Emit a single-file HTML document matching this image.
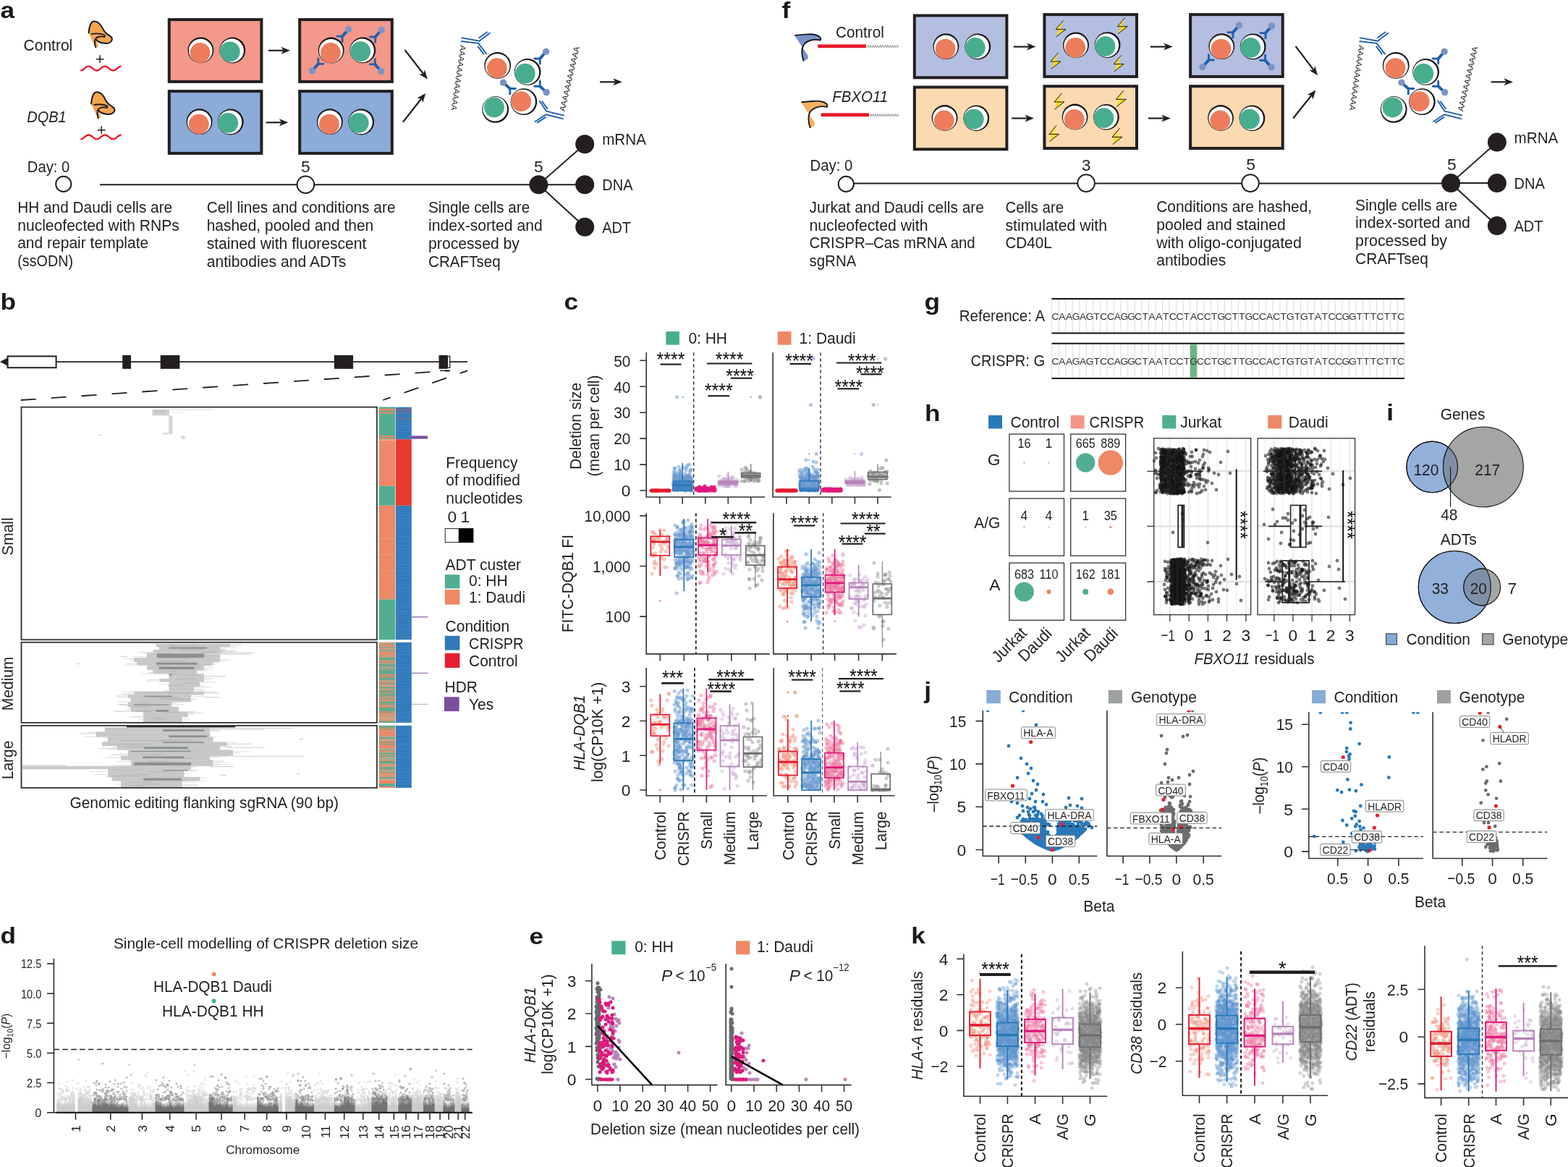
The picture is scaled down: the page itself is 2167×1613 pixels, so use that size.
<!DOCTYPE html>
<html><head><meta charset="utf-8"><title>Figure</title>
<style>html,body{margin:0;padding:0;background:#fff}svg{display:block}</style></head>
<body>
<svg width="2167" height="1613" viewBox="0 0 2167 1613" font-family="&quot;Liberation Sans&quot;, sans-serif" font-size="22.8" fill="#231f20">
<text transform="translate(0.5 24.6) scale(1.1 1)" font-weight="bold" fill="#1a1a1a" font-size="32">a</text>
<text x="32.5" y="69.8" textLength="67.8" lengthAdjust="spacingAndGlyphs">Control</text>
<text x="37.2" y="169.3" font-style="italic" textLength="54.5" lengthAdjust="spacingAndGlyphs">DQB1</text>
<path d="M122.3 45.5 C123.3 36.2 125.9 29.4 130.4 29.4 C136.2 29.4 140.1 34.9 142.6 40.7 C145.2 46.5 149.1 47.2 153.6 51 C156.9 54.9 153 60.1 146.5 60.1 C140.1 59.8 134.9 57.5 133 54.9 L135.9 64 L132.3 66.2 Z" fill="#f5a651"/>
<path d="M122.6 45.5 C123.3 36.2 125.9 29.4 130.4 29.4 C136.2 29.4 140.1 34.9 142.6 40.7 C145.2 46.5 149.1 47.2 153.6 51 C156.9 54.9 153 60.1 146.5 60.1 C140.1 59.8 134.9 57.5 133 54.9" fill="none" stroke="#1a1a1f" stroke-width="2" stroke-linecap="round"/>
<path d="M125.9 47.2 C132.3 45.9 138.8 45.9 144.6 48.5 L144.6 51 C138.8 49.4 133.6 51 131.7 53.9 C130.4 58.1 131 62 132.4 66" fill="none" stroke="#1a1a1f" stroke-width="1.9" stroke-linejoin="round"/>
<path d="M132.7 81.7h10.8M138.1 76.3v10.8" fill="none" stroke="#231f20" stroke-width="1.5"/>
<path d="M111.3 97.5C116.4 97.5 117.5 91.7 122.5 91.7C127.6 91.7 128.7 97.5 133.8 97.5C138.8 97.5 140 91.7 145 91.7C150.1 91.7 151.2 97.5 156.3 97.5C161.3 97.5 162.4 91.7 167.5 91.7" fill="none" stroke="#e8192c" stroke-width="2.3"/>
<path d="M125.8 143.4 C126.8 134.1 129.4 127.3 133.9 127.3 C139.7 127.3 143.6 132.8 146.1 138.6 C148.7 144.4 152.6 145.1 157.1 148.9 C160.4 152.8 156.5 158 150 158 C143.6 157.7 138.4 155.4 136.5 152.8 L139.4 161.9 L135.8 164.1 Z" fill="#f5a651"/>
<path d="M126.1 143.4 C126.8 134.1 129.4 127.3 133.9 127.3 C139.7 127.3 143.6 132.8 146.1 138.6 C148.7 144.4 152.6 145.1 157.1 148.9 C160.4 152.8 156.5 158 150 158 C143.6 157.7 138.4 155.4 136.5 152.8" fill="none" stroke="#1a1a1f" stroke-width="2" stroke-linecap="round"/>
<path d="M129.4 145.1 C135.8 143.8 142.3 143.8 148.1 146.4 L148.1 148.9 C142.3 147.3 137.1 148.9 135.2 151.8 C133.9 156 134.5 159.9 135.9 163.9" fill="none" stroke="#1a1a1f" stroke-width="1.9" stroke-linejoin="round"/>
<path d="M134.8 179.7h10.8M140.2 174.3v10.8" fill="none" stroke="#231f20" stroke-width="1.5"/>
<path d="M111.3 192.3C116.4 192.3 117.5 186.5 122.5 186.5C127.6 186.5 128.7 192.3 133.8 192.3C138.8 192.3 140 186.5 145 186.5C150.1 186.5 151.2 192.3 156.3 192.3C161.3 192.3 162.4 186.5 167.5 186.5" fill="none" stroke="#e8192c" stroke-width="2.3"/>
<rect x="233.8" y="27.1" width="127.6" height="85.8" fill="#f3988a" stroke="#231f20" stroke-width="4"/>
<rect x="233.8" y="126.1" width="127.6" height="85.8" fill="#8cabd7" stroke="#231f20" stroke-width="4"/>
<rect x="414.2" y="27.1" width="127.6" height="85.8" fill="#f3988a" stroke="#231f20" stroke-width="4"/>
<rect x="414.2" y="126.1" width="127.6" height="85.8" fill="#8cabd7" stroke="#231f20" stroke-width="4"/>
<circle cx="277.4" cy="69.3" r="17.9" fill="#161616"/>
<circle cx="277.2" cy="70.1" r="16.4" fill="#fff"/>
<circle cx="276.6" cy="72.8" r="13.9" fill="#ed7d5c"/>
<circle cx="321.3" cy="69.5" r="17.9" fill="#161616"/>
<circle cx="320.5" cy="70" r="16.4" fill="#fff"/>
<circle cx="317.8" cy="71.4" r="13.9" fill="#48ad8f"/>
<circle cx="275.6" cy="168.2" r="17.9" fill="#161616"/>
<circle cx="275.4" cy="169" r="16.4" fill="#fff"/>
<circle cx="274.8" cy="171.7" r="13.9" fill="#ed7d5c"/>
<circle cx="318.7" cy="168.5" r="17.9" fill="#161616"/>
<circle cx="317.9" cy="168.8" r="16.4" fill="#fff"/>
<circle cx="315.2" cy="169.9" r="13.9" fill="#48ad8f"/>
<circle cx="457.7" cy="69.5" r="17.9" fill="#161616"/>
<circle cx="457.5" cy="70.3" r="16.4" fill="#fff"/>
<circle cx="456.9" cy="73" r="13.9" fill="#ed7d5c"/>
<circle cx="501.3" cy="69.4" r="17.9" fill="#161616"/>
<circle cx="500.5" cy="69.9" r="16.4" fill="#fff"/>
<circle cx="498.2" cy="71.1" r="13.9" fill="#48ad8f"/>
<circle cx="455.8" cy="168.2" r="17.9" fill="#161616"/>
<circle cx="455.6" cy="169" r="16.4" fill="#fff"/>
<circle cx="455" cy="171.7" r="13.9" fill="#ed7d5c"/>
<circle cx="499.2" cy="168.5" r="17.9" fill="#161616"/>
<circle cx="498.4" cy="168.8" r="16.4" fill="#fff"/>
<circle cx="495.7" cy="169.9" r="13.9" fill="#48ad8f"/>
<path d="M481.6 40.5L473.1 50.1" fill="none" stroke="#1f5fae" stroke-width="3.9"/>
<path d="M466.1 50.1L473.1 50.1L473.1 57.4" fill="none" stroke="#1f5fae" stroke-width="2.9" stroke-linecap="round" stroke-linejoin="round"/>
<circle cx="481.6" cy="40.5" r="4.7" fill="#7b93c6"/>
<path d="M527.2 41.4L518.7 51" fill="none" stroke="#1f5fae" stroke-width="3.9"/>
<path d="M511.7 51L518.7 51L518.7 58.3" fill="none" stroke="#1f5fae" stroke-width="2.9" stroke-linecap="round" stroke-linejoin="round"/>
<circle cx="527.2" cy="41.4" r="4.7" fill="#7b93c6"/>
<path d="M431.3 98L439.8 88.4" fill="none" stroke="#1f5fae" stroke-width="3.9"/>
<path d="M446.8 88.4L439.8 88.4L439.8 81.1" fill="none" stroke="#1f5fae" stroke-width="2.9" stroke-linecap="round" stroke-linejoin="round"/>
<circle cx="431.3" cy="98" r="4.7" fill="#7b93c6"/>
<path d="M526.7 98.5L518.2 88.9" fill="none" stroke="#1f5fae" stroke-width="3.9"/>
<path d="M511.2 88.9L518.2 88.9L518.2 81.6" fill="none" stroke="#1f5fae" stroke-width="2.9" stroke-linecap="round" stroke-linejoin="round"/>
<circle cx="526.7" cy="98.5" r="4.7" fill="#7b93c6"/>
<path d="M371 69.8L391.6 69.8" stroke="#231f20" stroke-width="2.2"/>
<path d="M401 69.8L388.5 74.8L391.6 69.8L388.5 64.8Z" fill="#231f20"/>
<path d="M367.7 169.3L389 169.3" stroke="#231f20" stroke-width="2.2"/>
<path d="M398.4 169.3L385.9 174.3L389 169.3L385.9 164.3Z" fill="#231f20"/>
<path d="M559.5 69L585.1 102" stroke="#231f20" stroke-width="2.2"/>
<path d="M590.8 109.4L579.2 102.6L585.1 102L587.1 96.5Z" fill="#231f20"/>
<path d="M556.9 168.7L582.4 136.3" stroke="#231f20" stroke-width="2.2"/>
<path d="M588.2 128.9L584.4 141.8L582.4 136.3L576.5 135.6Z" fill="#231f20"/>
<path d="M829 113.3L850.4 113.3" stroke="#231f20" stroke-width="2.2"/>
<path d="M859.8 113.3L847.3 118.3L850.4 113.3L847.3 108.3Z" fill="#231f20"/>
<path d="M637.4 52.1L662.5 56.7L677.4 45.3" fill="none" stroke="#1f5fae" stroke-width="1.9"/>
<path d="M637 57L661.1 59.9L672.8 75.1" fill="none" stroke="#1f5fae" stroke-width="1.9"/>
<path d="M661.6 52.8L673.7 44.1" fill="none" stroke="#1f5fae" stroke-width="1.9"/>
<path d="M660.2 63.9L668.8 75.1" fill="none" stroke="#1f5fae" stroke-width="1.9"/>
<path d="M779.7 159.7L755 153.7L745.3 138.8" fill="none" stroke="#1f5fae" stroke-width="1.9"/>
<path d="M778.8 164.4L754.6 158.3L738.8 168.5" fill="none" stroke="#1f5fae" stroke-width="1.9"/>
<path d="M749 139.7L756.9 150.9" fill="none" stroke="#1f5fae" stroke-width="1.9"/>
<path d="M742 169.9L754.6 161.6" fill="none" stroke="#1f5fae" stroke-width="1.9"/>
<circle cx="687.7" cy="90.4" r="18.4" fill="#161616"/>
<circle cx="687.5" cy="91.2" r="16.9" fill="#fff"/>
<circle cx="686.9" cy="94.2" r="13.9" fill="#ed7d5c"/>
<circle cx="729.1" cy="99.4" r="18.4" fill="#161616"/>
<circle cx="728.3" cy="99.9" r="16.9" fill="#fff"/>
<circle cx="725.8" cy="101.6" r="13.9" fill="#48ad8f"/>
<circle cx="723.9" cy="140.7" r="18.4" fill="#161616"/>
<circle cx="723.1" cy="140.6" r="16.9" fill="#fff"/>
<circle cx="720.2" cy="140.2" r="13.9" fill="#ed7d5c"/>
<circle cx="684.7" cy="151.4" r="18.4" fill="#161616"/>
<circle cx="684.2" cy="150.6" r="16.9" fill="#fff"/>
<circle cx="683" cy="148.5" r="13.9" fill="#48ad8f"/>
<path d="M754.6 71.4L746.2 81.1" fill="none" stroke="#1f5fae" stroke-width="3.9"/>
<path d="M738.8 81L746.2 81.1L746.2 88.1" fill="none" stroke="#1f5fae" stroke-width="2.9" stroke-linecap="round" stroke-linejoin="round"/>
<circle cx="754.6" cy="71.4" r="4.7" fill="#7b93c6"/>
<path d="M695.5 114.1L704.8 122.5" fill="none" stroke="#1f5fae" stroke-width="3.9"/>
<path d="M712.3 122.5L704.8 122.5L704.8 130" fill="none" stroke="#1f5fae" stroke-width="2.9" stroke-linecap="round" stroke-linejoin="round"/>
<circle cx="695.5" cy="114.1" r="4.7" fill="#7b93c6"/>
<path d="M755.2 127.6L746.2 119.3" fill="none" stroke="#1f5fae" stroke-width="3.9"/>
<path d="M738.8 119.3L746.2 119.3L746.2 112.3" fill="none" stroke="#1f5fae" stroke-width="2.9" stroke-linecap="round" stroke-linejoin="round"/>
<circle cx="755.2" cy="127.6" r="4.7" fill="#7b93c6"/>
<text font-size="11" transform="translate(636.6 62) rotate(98.5)" textLength="91" lengthAdjust="spacingAndGlyphs">AAAAAAAAAAAA</text>
<text font-size="11" transform="translate(780.4 154.6) rotate(-77)" textLength="91.6" lengthAdjust="spacingAndGlyphs">AAAAAAAAAAAA</text>
<path d="M138 255.2L744 255.2" stroke="#231f20" stroke-width="2"/>
<circle cx="87.8" cy="254.4" r="10.6" fill="#fff" stroke="#231f20" stroke-width="2"/>
<circle cx="422.4" cy="255.2" r="11.8" fill="#fff" stroke="#231f20" stroke-width="2"/>
<path d="M744.4 255.2L808.2 199.2" stroke="#231f20" stroke-width="2"/>
<path d="M744.4 255.2L808.2 255.2" stroke="#231f20" stroke-width="2"/>
<path d="M744.4 255.2L808.2 313.8" stroke="#231f20" stroke-width="2"/>
<circle cx="744.4" cy="255.2" r="13" fill="#231f20"/>
<circle cx="808.2" cy="199.2" r="13" fill="#231f20"/>
<circle cx="808.2" cy="255.2" r="13" fill="#231f20"/>
<circle cx="808.2" cy="313.8" r="13" fill="#231f20"/>
<text x="37.8" y="237.5" textLength="58.6" lengthAdjust="spacingAndGlyphs">Day: 0</text>
<text x="422.4" y="237.5" text-anchor="middle">5</text>
<text x="744.4" y="237.5" text-anchor="middle">5</text>
<text x="832.2" y="200" textLength="60.7" lengthAdjust="spacingAndGlyphs">mRNA</text>
<text x="832.2" y="263" textLength="42.4" lengthAdjust="spacingAndGlyphs">DNA</text>
<text x="832.2" y="321.6" textLength="39.8" lengthAdjust="spacingAndGlyphs">ADT</text>
<text x="24.2" y="293.7" textLength="214" lengthAdjust="spacingAndGlyphs">HH and Daudi cells are</text>
<text x="24.2" y="318.5" textLength="223.7" lengthAdjust="spacingAndGlyphs">nucleofected with RNPs</text>
<text x="24.2" y="343.3" textLength="181" lengthAdjust="spacingAndGlyphs">and repair template</text>
<text x="24.2" y="368.1" textLength="76.8" lengthAdjust="spacingAndGlyphs">(ssODN)</text>
<text x="285.7" y="294.4" textLength="260.8" lengthAdjust="spacingAndGlyphs">Cell lines and conditions are</text>
<text x="285.7" y="319.2" textLength="230.5" lengthAdjust="spacingAndGlyphs">hashed, pooled and then</text>
<text x="285.7" y="344" textLength="220.8" lengthAdjust="spacingAndGlyphs">stained with fluorescent</text>
<text x="285.7" y="368.8" textLength="192.7" lengthAdjust="spacingAndGlyphs">antibodies and ADTs</text>
<text x="592.1" y="294.4" textLength="140.1" lengthAdjust="spacingAndGlyphs">Single cells are</text>
<text x="592.1" y="319.2" textLength="157.6" lengthAdjust="spacingAndGlyphs">index-sorted and</text>
<text x="592.1" y="344" textLength="125.8" lengthAdjust="spacingAndGlyphs">processed by</text>
<text x="592.1" y="368.8" textLength="99.5" lengthAdjust="spacingAndGlyphs">CRAFTseq</text>
<text transform="translate(1080.5 24.6) scale(1.1 1)" font-weight="bold" fill="#1a1a1a" font-size="32">f</text>
<text x="1155" y="52.1" textLength="66.8" lengthAdjust="spacingAndGlyphs">Control</text>
<text x="1150.3" y="140.6" font-style="italic" textLength="76.8" lengthAdjust="spacingAndGlyphs">FBXO11</text>
<path d="M1098.1 48.9 L1115.8 47.4 C1124.7 46.9 1132.8 48.8 1134.3 53.2 L1133.9 55.6 C1125.4 53.6 1114.3 55.4 1109.9 63.5 L1108.2 64.5 Z" fill="#7a93c8"/>
<path d="M1108.2 64.5 L1116.6 76.8 L1116.6 81.3 L1110.7 84.6 C1108.8 79.1 1107 70.2 1108.6 64.3 Z" fill="#7a93c8"/>
<path d="M1098.2 48.9 L1115.8 47.4 C1124.7 46.9 1132.8 48.8 1134.3 53.2 L1133.9 55.6 C1125.4 53.6 1114.3 55.4 1109.9 63.5 C1107 70.2 1108.8 79.1 1110.7 84.6" fill="none" stroke="#1a1a1f" stroke-width="1.9" stroke-linejoin="round"/>
<path d="M1107.2 141.2 L1124.9 139.7 C1133.8 139.2 1141.9 141.1 1143.4 145.5 L1143 147.9 C1134.5 145.9 1123.4 147.7 1119 155.8 L1117.3 156.8 Z" fill="#f7b05e"/>
<path d="M1117.3 156.8 L1125.7 169.1 L1125.7 173.6 L1119.8 176.9 C1117.9 171.4 1116.1 162.5 1117.7 156.6 Z" fill="#f7b05e"/>
<path d="M1107.3 141.2 L1124.9 139.7 C1133.8 139.2 1141.9 141.1 1143.4 145.5 L1143 147.9 C1134.5 145.9 1123.4 147.7 1119 155.8 C1116.1 162.5 1117.9 171.4 1119.8 176.9" fill="none" stroke="#1a1a1f" stroke-width="1.9" stroke-linejoin="round"/>
<rect x="1130.3" y="61.4" width="66.6" height="4.8" fill="#e8192c"/>
<rect x="1134.7" y="156.3" width="66.4" height="4.8" fill="#e8192c"/>
<text x="1198.2" y="66.2" fill="#555" font-size="5.4" textLength="43.6" lengthAdjust="spacingAndGlyphs">AAAAAAAAAAAAA</text>
<text x="1201.9" y="161.1" fill="#555" font-size="5.4" textLength="40.1" lengthAdjust="spacingAndGlyphs">AAAAAAAAAAAAA</text>
<rect x="1263.8" y="21.5" width="127.6" height="85.8" fill="#b4bee0" stroke="#231f20" stroke-width="4"/>
<rect x="1263.8" y="120.5" width="127.6" height="85.8" fill="#fbd9b1" stroke="#231f20" stroke-width="4"/>
<rect x="1443.4" y="20.1" width="127.6" height="85.8" fill="#b4bee0" stroke="#231f20" stroke-width="4"/>
<rect x="1443.4" y="119.2" width="127.6" height="85.8" fill="#fbd9b1" stroke="#231f20" stroke-width="4"/>
<rect x="1645.1" y="20.1" width="127.6" height="85.8" fill="#b4bee0" stroke="#231f20" stroke-width="4"/>
<rect x="1645.1" y="119.2" width="127.6" height="85.8" fill="#fbd9b1" stroke="#231f20" stroke-width="4"/>
<circle cx="1307.4" cy="64.1" r="17.9" fill="#161616"/>
<circle cx="1307.2" cy="64.9" r="16.4" fill="#fff"/>
<circle cx="1306.6" cy="67.6" r="13.9" fill="#ed7d5c"/>
<circle cx="1351.3" cy="64.4" r="17.9" fill="#161616"/>
<circle cx="1350.5" cy="64.7" r="16.4" fill="#fff"/>
<circle cx="1347.8" cy="66" r="13.9" fill="#48ad8f"/>
<circle cx="1305.6" cy="163" r="17.9" fill="#161616"/>
<circle cx="1305.4" cy="163.8" r="16.4" fill="#fff"/>
<circle cx="1304.8" cy="166.5" r="13.9" fill="#ed7d5c"/>
<circle cx="1349.3" cy="163.3" r="17.9" fill="#161616"/>
<circle cx="1348.5" cy="163.6" r="16.4" fill="#fff"/>
<circle cx="1345.8" cy="164.7" r="13.9" fill="#48ad8f"/>
<circle cx="1487" cy="62.3" r="17.9" fill="#161616"/>
<circle cx="1486.8" cy="63.1" r="16.4" fill="#fff"/>
<circle cx="1486.2" cy="65.8" r="13.9" fill="#ed7d5c"/>
<circle cx="1530.6" cy="62.1" r="17.9" fill="#161616"/>
<circle cx="1529.8" cy="62.6" r="16.4" fill="#fff"/>
<circle cx="1527.5" cy="64" r="13.9" fill="#48ad8f"/>
<circle cx="1485.6" cy="161.5" r="17.9" fill="#161616"/>
<circle cx="1485.4" cy="162.3" r="16.4" fill="#fff"/>
<circle cx="1484.8" cy="165" r="13.9" fill="#ed7d5c"/>
<circle cx="1528.9" cy="161.8" r="17.9" fill="#161616"/>
<circle cx="1528.1" cy="162.1" r="16.4" fill="#fff"/>
<circle cx="1525.4" cy="163.2" r="13.9" fill="#48ad8f"/>
<circle cx="1688.3" cy="64.1" r="17.9" fill="#161616"/>
<circle cx="1688.1" cy="64.9" r="16.4" fill="#fff"/>
<circle cx="1687.5" cy="67.6" r="13.9" fill="#ed7d5c"/>
<circle cx="1731.7" cy="64.4" r="17.9" fill="#161616"/>
<circle cx="1730.9" cy="64.7" r="16.4" fill="#fff"/>
<circle cx="1728.2" cy="66" r="13.9" fill="#48ad8f"/>
<circle cx="1687" cy="163" r="17.9" fill="#161616"/>
<circle cx="1686.8" cy="163.8" r="16.4" fill="#fff"/>
<circle cx="1686.2" cy="166.5" r="13.9" fill="#ed7d5c"/>
<circle cx="1730.4" cy="163.3" r="17.9" fill="#161616"/>
<circle cx="1729.6" cy="163.6" r="16.4" fill="#fff"/>
<circle cx="1726.9" cy="164.7" r="13.9" fill="#48ad8f"/>
<path d="M1469.6 28.3L1465.2 40L1473 40.2L1459.7 50.8L1463.2 41.3L1459.1 41.2Z" fill="#fbdc14"/>
<path d="M1469.6 28.3L1459.1 40.7L1473 40.5L1459.7 50.8" fill="none" stroke="#1a1a1f" stroke-width="1" stroke-linejoin="miter" stroke-miterlimit="10"/>
<path d="M1554.9 24.3L1550.5 36L1558.3 36.2L1545 46.8L1548.5 37.3L1544.4 37.2Z" fill="#fbdc14"/>
<path d="M1554.9 24.3L1544.4 36.7L1558.3 36.5L1545 46.8" fill="none" stroke="#1a1a1f" stroke-width="1" stroke-linejoin="miter" stroke-miterlimit="10"/>
<path d="M1462.6 72.7L1458.2 84.4L1466 84.6L1452.7 95.2L1456.2 85.7L1452.1 85.6Z" fill="#fbdc14"/>
<path d="M1462.6 72.7L1452.1 85.1L1466 84.9L1452.7 95.2" fill="none" stroke="#1a1a1f" stroke-width="1" stroke-linejoin="miter" stroke-miterlimit="10"/>
<path d="M1549.7 76.3L1545.3 88L1553.1 88.2L1539.8 98.8L1543.3 89.3L1539.2 89.2Z" fill="#fbdc14"/>
<path d="M1549.7 76.3L1539.2 88.7L1553.1 88.5L1539.8 98.8" fill="none" stroke="#1a1a1f" stroke-width="1" stroke-linejoin="miter" stroke-miterlimit="10"/>
<path d="M1467.5 128.6L1463.1 140.3L1470.9 140.5L1457.6 151.1L1461.1 141.6L1457 141.5Z" fill="#fbdc14"/>
<path d="M1467.5 128.6L1457 141L1470.9 140.8L1457.6 151.1" fill="none" stroke="#1a1a1f" stroke-width="1" stroke-linejoin="miter" stroke-miterlimit="10"/>
<path d="M1552.9 125L1548.5 136.7L1556.3 136.9L1543 147.5L1546.5 138L1542.4 137.9Z" fill="#fbdc14"/>
<path d="M1552.9 125L1542.4 137.4L1556.3 137.2L1543 147.5" fill="none" stroke="#1a1a1f" stroke-width="1" stroke-linejoin="miter" stroke-miterlimit="10"/>
<path d="M1460.2 173.2L1455.8 184.9L1463.6 185.1L1450.3 195.7L1453.8 186.2L1449.7 186.1Z" fill="#fbdc14"/>
<path d="M1460.2 173.2L1449.7 185.6L1463.6 185.4L1450.3 195.7" fill="none" stroke="#1a1a1f" stroke-width="1" stroke-linejoin="miter" stroke-miterlimit="10"/>
<path d="M1547.5 177.1L1543.1 188.8L1550.9 189L1537.6 199.6L1541.1 190.1L1537 190Z" fill="#fbdc14"/>
<path d="M1547.5 177.1L1537 189.5L1550.9 189.3L1537.6 199.6" fill="none" stroke="#1a1a1f" stroke-width="1" stroke-linejoin="miter" stroke-miterlimit="10"/>
<path d="M1712.5 35L1704 44.6" fill="none" stroke="#1f5fae" stroke-width="3.9"/>
<path d="M1697 44.6L1704 44.6L1704 51.9" fill="none" stroke="#1f5fae" stroke-width="2.9" stroke-linecap="round" stroke-linejoin="round"/>
<circle cx="1712.5" cy="35" r="4.7" fill="#7b93c6"/>
<path d="M1757.5 36L1749 45.6" fill="none" stroke="#1f5fae" stroke-width="3.9"/>
<path d="M1742 45.6L1749 45.6L1749 52.9" fill="none" stroke="#1f5fae" stroke-width="2.9" stroke-linecap="round" stroke-linejoin="round"/>
<circle cx="1757.5" cy="36" r="4.7" fill="#7b93c6"/>
<path d="M1661.9 92.6L1670.4 83" fill="none" stroke="#1f5fae" stroke-width="3.9"/>
<path d="M1677.4 83L1670.4 83L1670.4 75.7" fill="none" stroke="#1f5fae" stroke-width="2.9" stroke-linecap="round" stroke-linejoin="round"/>
<circle cx="1661.9" cy="92.6" r="4.7" fill="#7b93c6"/>
<path d="M1757.1 93.1L1748.6 83.5" fill="none" stroke="#1f5fae" stroke-width="3.9"/>
<path d="M1741.6 83.5L1748.6 83.5L1748.6 76.2" fill="none" stroke="#1f5fae" stroke-width="2.9" stroke-linecap="round" stroke-linejoin="round"/>
<circle cx="1757.1" cy="93.1" r="4.7" fill="#7b93c6"/>
<path d="M1400.8 64.6L1422.2 64.6" stroke="#231f20" stroke-width="2.2"/>
<path d="M1431.6 64.6L1419.1 69.6L1422.2 64.6L1419.1 59.6Z" fill="#231f20"/>
<path d="M1398.2 163.5L1419.6 163.5" stroke="#231f20" stroke-width="2.2"/>
<path d="M1429 163.5L1416.5 168.5L1419.6 163.5L1416.5 158.5Z" fill="#231f20"/>
<path d="M1589.9 64.6L1611.3 64.6" stroke="#231f20" stroke-width="2.2"/>
<path d="M1620.7 64.6L1608.2 69.6L1611.3 64.6L1608.2 59.6Z" fill="#231f20"/>
<path d="M1587 163.5L1608.4 163.5" stroke="#231f20" stroke-width="2.2"/>
<path d="M1617.8 163.5L1605.3 168.5L1608.4 163.5L1605.3 158.5Z" fill="#231f20"/>
<path d="M1790.5 63.8L1815.4 96.7" stroke="#231f20" stroke-width="2.2"/>
<path d="M1821 104.2L1809.5 97.2L1815.4 96.7L1817.5 91.2Z" fill="#231f20"/>
<path d="M1787.2 163.5L1812.5 131.8" stroke="#231f20" stroke-width="2.2"/>
<path d="M1818.4 124.5L1814.5 137.4L1812.5 131.8L1806.7 131.1Z" fill="#231f20"/>
<path d="M2060.6 113.3L2081.6 113.3" stroke="#231f20" stroke-width="2.2"/>
<path d="M2091 113.3L2078.5 118.3L2081.6 113.3L2078.5 108.3Z" fill="#231f20"/>
<path d="M1878.9 52.1L1904 56.7L1918.9 45.3" fill="none" stroke="#1f5fae" stroke-width="1.9"/>
<path d="M1878.5 57L1902.6 59.9L1914.3 75.1" fill="none" stroke="#1f5fae" stroke-width="1.9"/>
<path d="M1903.1 52.8L1915.2 44.1" fill="none" stroke="#1f5fae" stroke-width="1.9"/>
<path d="M1901.7 63.9L1910.3 75.1" fill="none" stroke="#1f5fae" stroke-width="1.9"/>
<path d="M2021.2 159.7L1996.5 153.7L1986.8 138.8" fill="none" stroke="#1f5fae" stroke-width="1.9"/>
<path d="M2020.3 164.4L1996.1 158.3L1980.3 168.5" fill="none" stroke="#1f5fae" stroke-width="1.9"/>
<path d="M1990.5 139.7L1998.4 150.9" fill="none" stroke="#1f5fae" stroke-width="1.9"/>
<path d="M1983.5 169.9L1996.1 161.6" fill="none" stroke="#1f5fae" stroke-width="1.9"/>
<circle cx="1929.2" cy="90.4" r="18.4" fill="#161616"/>
<circle cx="1929" cy="91.2" r="16.9" fill="#fff"/>
<circle cx="1928.4" cy="94.2" r="13.9" fill="#ed7d5c"/>
<circle cx="1970.6" cy="99.4" r="18.4" fill="#161616"/>
<circle cx="1969.8" cy="99.9" r="16.9" fill="#fff"/>
<circle cx="1967.3" cy="101.6" r="13.9" fill="#48ad8f"/>
<circle cx="1965.4" cy="140.7" r="18.4" fill="#161616"/>
<circle cx="1964.6" cy="140.6" r="16.9" fill="#fff"/>
<circle cx="1961.7" cy="140.2" r="13.9" fill="#ed7d5c"/>
<circle cx="1926.2" cy="151.4" r="18.4" fill="#161616"/>
<circle cx="1925.7" cy="150.6" r="16.9" fill="#fff"/>
<circle cx="1924.5" cy="148.5" r="13.9" fill="#48ad8f"/>
<path d="M1996.1 71.4L1987.7 81.1" fill="none" stroke="#1f5fae" stroke-width="3.9"/>
<path d="M1980.3 81L1987.7 81.1L1987.7 88.1" fill="none" stroke="#1f5fae" stroke-width="2.9" stroke-linecap="round" stroke-linejoin="round"/>
<circle cx="1996.1" cy="71.4" r="4.7" fill="#7b93c6"/>
<path d="M1937 114.1L1946.3 122.5" fill="none" stroke="#1f5fae" stroke-width="3.9"/>
<path d="M1953.8 122.5L1946.3 122.5L1946.3 130" fill="none" stroke="#1f5fae" stroke-width="2.9" stroke-linecap="round" stroke-linejoin="round"/>
<circle cx="1937" cy="114.1" r="4.7" fill="#7b93c6"/>
<path d="M1996.7 127.6L1987.7 119.3" fill="none" stroke="#1f5fae" stroke-width="3.9"/>
<path d="M1980.3 119.3L1987.7 119.3L1987.7 112.3" fill="none" stroke="#1f5fae" stroke-width="2.9" stroke-linecap="round" stroke-linejoin="round"/>
<circle cx="1996.7" cy="127.6" r="4.7" fill="#7b93c6"/>
<text font-size="11" transform="translate(1878.1 62) rotate(98.5)" textLength="91" lengthAdjust="spacingAndGlyphs">AAAAAAAAAAAA</text>
<text font-size="11" transform="translate(2021.9 154.6) rotate(-77)" textLength="91.6" lengthAdjust="spacingAndGlyphs">AAAAAAAAAAAA</text>
<path d="M1169 253.6L2005 253.6" stroke="#231f20" stroke-width="2"/>
<circle cx="1169.3" cy="254.4" r="10.6" fill="#fff" stroke="#231f20" stroke-width="2"/>
<circle cx="1501.1" cy="253.1" r="11.8" fill="#fff" stroke="#231f20" stroke-width="2"/>
<circle cx="1728" cy="253.1" r="11.8" fill="#fff" stroke="#231f20" stroke-width="2"/>
<path d="M2005.1 253.1L2068.9 196.6" stroke="#231f20" stroke-width="2"/>
<path d="M2005.1 253.1L2068.9 253.1" stroke="#231f20" stroke-width="2"/>
<path d="M2005.1 253.1L2068.9 312" stroke="#231f20" stroke-width="2"/>
<circle cx="2005.1" cy="253.1" r="13" fill="#231f20"/>
<circle cx="2068.9" cy="196.6" r="13" fill="#231f20"/>
<circle cx="2068.9" cy="253.1" r="13" fill="#231f20"/>
<circle cx="2068.9" cy="312" r="13" fill="#231f20"/>
<text x="1119.6" y="235.7" textLength="58.8" lengthAdjust="spacingAndGlyphs">Day: 0</text>
<text x="1501.1" y="235.7" text-anchor="middle">3</text>
<text x="1728.5" y="235.4" text-anchor="middle">5</text>
<text x="2006.4" y="235.2" text-anchor="middle">5</text>
<text x="2092.6" y="198.4" textLength="60.7" lengthAdjust="spacingAndGlyphs">mRNA</text>
<text x="2092.6" y="260.9" textLength="42.4" lengthAdjust="spacingAndGlyphs">DNA</text>
<text x="2092.6" y="319.8" textLength="39.8" lengthAdjust="spacingAndGlyphs">ADT</text>
<text x="1118.5" y="293.8" textLength="241.4" lengthAdjust="spacingAndGlyphs">Jurkat and Daudi cells are</text>
<text x="1118.5" y="318.6" textLength="164" lengthAdjust="spacingAndGlyphs">nucleofected with</text>
<text x="1118.5" y="343.4" textLength="229.2" lengthAdjust="spacingAndGlyphs">CRISPR–Cas mRNA and</text>
<text x="1118.5" y="368.2" textLength="64.8" lengthAdjust="spacingAndGlyphs">sgRNA</text>
<text x="1389.4" y="293.8" textLength="80.7" lengthAdjust="spacingAndGlyphs">Cells are</text>
<text x="1389.4" y="318.6" textLength="140.6" lengthAdjust="spacingAndGlyphs">stimulated with</text>
<text x="1389.4" y="343.4" textLength="64.3" lengthAdjust="spacingAndGlyphs">CD40L</text>
<text x="1598.2" y="293" textLength="215" lengthAdjust="spacingAndGlyphs">Conditions are hashed,</text>
<text x="1598.2" y="317.8" textLength="178.5" lengthAdjust="spacingAndGlyphs">pooled and stained</text>
<text x="1598.2" y="342.6" textLength="200.7" lengthAdjust="spacingAndGlyphs">with oligo-conjugated</text>
<text x="1598.2" y="367.4" textLength="96" lengthAdjust="spacingAndGlyphs">antibodies</text>
<text x="1873.1" y="290.5" textLength="141.1" lengthAdjust="spacingAndGlyphs">Single cells are</text>
<text x="1873.1" y="315.4" textLength="158.9" lengthAdjust="spacingAndGlyphs">index-sorted and</text>
<text x="1873.1" y="340.3" textLength="126.8" lengthAdjust="spacingAndGlyphs">processed by</text>
<text x="1873.1" y="365.2" textLength="100.8" lengthAdjust="spacingAndGlyphs">CRAFTseq</text>
<text transform="translate(0.5 428.3) scale(1.1 1)" font-weight="bold" fill="#1a1a1a" font-size="32">b</text>
<path d="M3 500.1L646 500.1" stroke="#231f20" stroke-width="1.9"/>
<path d="M9.5 495.6L0.8 500.1L9.5 504.6Z" fill="#231f20" stroke="#231f20" stroke-width="1"/>
<rect x="10.6" y="492.4" width="67" height="15.8" fill="#fff" stroke="#231f20" stroke-width="2"/>
<rect x="169.2" y="491" width="11.8" height="18.8" fill="#231f20"/>
<rect x="221.7" y="491" width="26.7" height="18.8" fill="#231f20"/>
<rect x="461.8" y="491" width="26.3" height="18.8" fill="#231f20"/>
<rect x="606.5" y="491" width="11.9" height="18.8" fill="#231f20"/>
<rect x="618.4" y="492.4" width="3.3" height="15.8" fill="#fff" stroke="#231f20" stroke-width="1.3"/>
<path d="M608 512.3L622 512.3" stroke="#231f20" stroke-width="1.5"/>
<path d="M28.8 553L622 512.3" stroke="#231f20" stroke-width="1.8" stroke-dasharray="21 21" fill="none"/>
<path d="M529.2 553L646.1 512.3" stroke="#231f20" stroke-width="1.8" stroke-dasharray="11 20 21 20 21 20 21" fill="none"/>
<rect x="210.6" y="565.8" width="23.4" height="8.6" fill="#cfd1d2"/>
<rect x="214" y="567.5" width="16" height="3" fill="#c2c4c5"/>
<path d="M234 566.2h61" stroke="#e6e7e8" stroke-width="1.4" fill="none"/>
<path d="M236 569.5h20" stroke="#e9eaeb" stroke-width="1.2" fill="none"/>
<rect x="233.3" y="574.4" width="5" height="25.4" fill="#d2d4d5"/>
<rect x="225" y="598" width="9" height="2.4" fill="#d6d8d9"/>
<rect x="250.2" y="602.3" width="5.4" height="4.6" fill="#d6d8d9"/>
<rect x="135" y="600.5" width="5.4" height="1.8" fill="#e2e3e4"/>
<rect x="215.5" y="889.7" width="102.5" height="4.5" fill="#c6c8c9"/>
<path d="M208.2 890.2h7.3M318 891.2h15.8M318 892.2h15.2M318 893.2h5.5" stroke="#dcdedf" stroke-width="1" fill="none"/>
<path d="M229.9 892.2h39.8" stroke="#b4b6b7" stroke-width="1" fill="none"/>
<rect x="219.7" y="893.8" width="84.5" height="4.5" fill="#c6c8c9"/>
<path d="M304.1 895.3h25.5M304.1 897.3h7.2" stroke="#dcdedf" stroke-width="1" fill="none"/>
<path d="M249.5 896.3h33.1" stroke="#b4b6b7" stroke-width="1" fill="none"/>
<rect x="211.4" y="898" width="96.9" height="4.5" fill="#c6c8c9"/>
<path d="M308.3 898.5h5.4M308.3 899.5h19M308.3 900.5h16.9M189.9 901.5h21.5" stroke="#dcdedf" stroke-width="1" fill="none"/>
<path d="M246.8 898.5h34.7M276.3 901.5h22.8" stroke="#b4b6b7" stroke-width="1" fill="none"/>
<rect x="203.1" y="902.2" width="101.1" height="7.2" fill="#c6c8c9"/>
<path d="M304.1 902.7h20.7M198.2 903.7h4.9M183.8 907.7h19.3" stroke="#dcdedf" stroke-width="1" fill="none"/>
<path d="M245.9 907.7h39.8" stroke="#b4b6b7" stroke-width="1" fill="none"/>
<rect x="185.1" y="909.1" width="119.1" height="5.8" fill="#c6c8c9"/>
<path d="M172.6 910.6h12.5M304.1 911.6h14.2M179.8 912.6h5.3M304.1 913.6h9.4" stroke="#dcdedf" stroke-width="1" fill="none"/>
<path d="M219.3 909.6h43.4M220.2 913.6h36.6" stroke="#b4b6b7" stroke-width="1" fill="none"/>
<rect x="189.2" y="914.6" width="105.2" height="5.1" fill="#c6c8c9"/>
<path d="M294.4 916.1h7.9M174.6 917.1h14.7M294.4 918.1h4.1M172.8 919.1h16.5" stroke="#dcdedf" stroke-width="1" fill="none"/>
<path d="M244.2 919.1h45.7" stroke="#b4b6b7" stroke-width="1" fill="none"/>
<rect x="203.1" y="919.5" width="78.9" height="6.5" fill="#c6c8c9"/>
<path d="M282 922h12.8M282 924h5.5M282 925h11.5" stroke="#dcdedf" stroke-width="1" fill="none"/>
<path d="M216.9 920h18.2M245.1 922h30.3M218.8 923h24M239.4 925h39.3" stroke="#b4b6b7" stroke-width="1" fill="none"/>
<rect x="211.4" y="925.7" width="60.9" height="5.8" fill="#c6c8c9"/>
<path d="M272.3 926.2h14.6M272.3 927.2h11.5M206.9 929.2h4.5M204.1 930.2h7.2M195.8 931.2h15.6" stroke="#dcdedf" stroke-width="1" fill="none"/>
<path d="M229.3 928.2h15.2" stroke="#b4b6b7" stroke-width="1" fill="none"/>
<rect x="233.5" y="931.2" width="48.5" height="7.2" fill="#c6c8c9"/>
<path d="M224.6 931.7h8.9M282 937.7h15.4" stroke="#dcdedf" stroke-width="1" fill="none"/>
<path d="M237.2 931.7h13.8M251.6 932.7h23.6" stroke="#b4b6b7" stroke-width="1" fill="none"/>
<rect x="220.4" y="938.1" width="61.6" height="4.5" fill="#c6c8c9"/>
<path d="M282 938.6h9M202.6 939.6h17.7M202 941.6h18.4" stroke="#dcdedf" stroke-width="1" fill="none"/>
<path d="M242.5 938.6h29.1" stroke="#b4b6b7" stroke-width="1" fill="none"/>
<rect x="233.5" y="942.3" width="42.9" height="7.2" fill="#c6c8c9"/>
<path d="M276.4 942.8h21.4M220.7 945.8h12.8M276.4 947.8h6.8" stroke="#dcdedf" stroke-width="1" fill="none"/>
<path d="M252.8 943.8h21.2M231.9 947.8h21.1" stroke="#b4b6b7" stroke-width="1" fill="none"/>
<rect x="233.5" y="949.2" width="34.6" height="6.5" fill="#c6c8c9"/>
<path d="M268.1 949.7h24.5M268.1 952.7h9.5M268.1 953.7h16.9M226.6 954.7h6.9" stroke="#dcdedf" stroke-width="1" fill="none"/>
<rect x="185.1" y="955.5" width="96.9" height="5.1" fill="#c6c8c9"/>
<path d="M169.4 956h15.7M282 957h13.7M282 958h21.6M165.1 959h20M169.7 960h15.4" stroke="#dcdedf" stroke-width="1" fill="none"/>
<path d="M223.7 957h26.6M232.3 958h34.1" stroke="#b4b6b7" stroke-width="1" fill="none"/>
<rect x="176.8" y="960.3" width="87.2" height="4.5" fill="#c6c8c9"/>
<path d="M159.3 961.8h17.5M264 962.8h19.2M162.2 963.8h14.5" stroke="#dcdedf" stroke-width="1" fill="none"/>
<path d="M202.4 963.8h42.1" stroke="#b4b6b7" stroke-width="1" fill="none"/>
<rect x="180.9" y="964.5" width="83.1" height="5.8" fill="#c6c8c9"/>
<path d="M264 966h6.7M264 967h9.3" stroke="#dcdedf" stroke-width="1" fill="none"/>
<path d="M216.7 965h33.1M221.2 966h40.7M231.7 967h26.5" stroke="#b4b6b7" stroke-width="1" fill="none"/>
<rect x="176.8" y="970" width="60.9" height="7.2" fill="#c6c8c9"/>
<path d="M163.3 970.5h13.5M237.7 971.5h8.3M237.7 973.5h16.2M165.5 974.5h11.3M171.3 975.5h5.4" stroke="#dcdedf" stroke-width="1" fill="none"/>
<path d="M192.2 971.5h12.9M183.7 973.5h19.9M179.9 976.5h29" stroke="#b4b6b7" stroke-width="1" fill="none"/>
<rect x="180.9" y="976.9" width="65.8" height="7.2" fill="#c6c8c9"/>
<path d="M175.7 979.4h5.3M175.3 980.4h5.6M246.7 983.4h22.8" stroke="#dcdedf" stroke-width="1" fill="none"/>
<path d="M187.4 982.4h23.5M190.2 983.4h16.3" stroke="#b4b6b7" stroke-width="1" fill="none"/>
<rect x="198.2" y="983.8" width="61.6" height="7.2" fill="#c6c8c9"/>
<path d="M259.8 984.3h8.4M259.8 985.3h20.7M259.8 986.3h7.9M259.8 987.3h9.5M183.8 990.3h14.4" stroke="#dcdedf" stroke-width="1" fill="none"/>
<path d="M230.7 984.3h20.3" stroke="#b4b6b7" stroke-width="1" fill="none"/>
<rect x="198.2" y="990.8" width="53.3" height="7.2" fill="#c6c8c9"/>
<path d="M175.9 991.3h22.3M251.5 993.3h11.6M192.7 994.3h5.6M251.5 995.3h7.6" stroke="#dcdedf" stroke-width="1" fill="none"/>
<path d="M209 992.3h15.3M215.7 994.3h14.9" stroke="#b4b6b7" stroke-width="1" fill="none"/>
<rect x="233.5" y="894.5" width="52.6" height="2.1" fill="#8d8f91"/>
<rect x="216.9" y="903.3" width="65.1" height="5.8" fill="#8d8f91"/>
<rect x="215.5" y="915.7" width="56.8" height="3" fill="#8d8f91"/>
<rect x="219.7" y="921.5" width="48.5" height="3.5" fill="#8d8f91"/>
<rect x="185.1" y="973.5" width="48.5" height="1.4" fill="#8d8f91"/>
<rect x="215.5" y="981.1" width="17.3" height="2.8" fill="#8d8f91"/>
<rect x="198.9" y="961.7" width="38.8" height="1.4" fill="#8d8f91"/>
<rect x="233.5" y="931.5" width="4.2" height="2.2" fill="#8d8f91"/>
<path d="M304.1 902.2h48M286.1 904.2h60M282 934.7h30M282 956.8h18M282 963.8h22M157.4 983.1h24M161.5 973.5h15" stroke="#d4d6d7" stroke-width="1.2" fill="none"/>
<rect x="144.9" y="1005.3" width="145.4" height="6.5" fill="#c6c8c9"/>
<path d="M290.3 1005.8h25.2M290.3 1006.8h4M290.3 1007.8h15.1M290.3 1008.8h4.1M290.3 1009.8h12.8M290.3 1010.8h10.7" stroke="#dcdedf" stroke-width="1" fill="none"/>
<rect x="132.5" y="1011.5" width="157.8" height="7.2" fill="#c6c8c9"/>
<path d="M121.3 1012h11.2M112.5 1013h19.9M110.1 1014h22.4M116.9 1018h15.5" stroke="#dcdedf" stroke-width="1" fill="none"/>
<rect x="149.1" y="1018.4" width="145.4" height="7.2" fill="#c6c8c9"/>
<path d="M294.4 1018.9h4.7M142.8 1019.9h6.3M145 1024.9h4.1" stroke="#dcdedf" stroke-width="1" fill="none"/>
<path d="M222.4 1022.9h40.1M170.9 1023.9h60.9M206.9 1024.9h71.6" stroke="#b4b6b7" stroke-width="1" fill="none"/>
<rect x="140.8" y="1025.4" width="173.1" height="5.8" fill="#c6c8c9"/>
<path d="M313.8 1025.9h12.4M313.8 1030.9h7.2" stroke="#dcdedf" stroke-width="1" fill="none"/>
<path d="M157.4 1028.9h48.6" stroke="#b4b6b7" stroke-width="1" fill="none"/>
<rect x="161.5" y="1030.9" width="142.6" height="5.8" fill="#c6c8c9"/>
<path d="M304.1 1032.4h15.4M154.9 1033.4h6.6M136 1034.4h25.5M147.4 1035.4h14.1" stroke="#dcdedf" stroke-width="1" fill="none"/>
<path d="M173.5 1032.4h69M222.5 1033.4h34.6M235.1 1036.4h50.3" stroke="#b4b6b7" stroke-width="1" fill="none"/>
<rect x="176.8" y="1036.4" width="145.4" height="8.6" fill="#c6c8c9"/>
<path d="M322.1 1038.9h23.7M322.1 1039.9h4.1M322.1 1040.9h10.6M165.8 1041.9h11M156.2 1042.9h20.5M152.4 1043.9h24.4" stroke="#dcdedf" stroke-width="1" fill="none"/>
<path d="M215.2 1037.9h46.2M193.3 1042.9h33.5" stroke="#b4b6b7" stroke-width="1" fill="none"/>
<rect x="167.1" y="1044.8" width="123.2" height="5.8" fill="#c6c8c9"/>
<path d="M290.3 1045.3h24.6M290.3 1046.3h15.2M142 1047.3h25" stroke="#dcdedf" stroke-width="1" fill="none"/>
<path d="M225.2 1048.3h41.3" stroke="#b4b6b7" stroke-width="1" fill="none"/>
<rect x="180.9" y="1050.3" width="113.5" height="8.6" fill="#c6c8c9"/>
<path d="M175.8 1050.8h5.1M294.4 1051.8h14.4M160.7 1052.8h20.3M294.4 1053.8h18.4M294.4 1055.8h7.7M294.4 1056.8h23.9M157 1057.8h23.9" stroke="#dcdedf" stroke-width="1" fill="none"/>
<path d="M203.8 1051.8h25.8M204.2 1053.8h31.5" stroke="#b4b6b7" stroke-width="1" fill="none"/>
<rect x="149.1" y="1058.6" width="114.9" height="5.8" fill="#c6c8c9"/>
<path d="M264 1059.1h15.5M264 1060.1h5.4M134 1062.1h15.1M264 1064.1h10" stroke="#dcdedf" stroke-width="1" fill="none"/>
<path d="M150.6 1064.1h47.4" stroke="#b4b6b7" stroke-width="1" fill="none"/>
<rect x="149.1" y="1064.1" width="105.2" height="10" fill="#c6c8c9"/>
<path d="M254.3 1065.6h16.9M124.7 1066.6h24.4M254.3 1069.6h6.4M130.1 1070.6h19" stroke="#dcdedf" stroke-width="1" fill="none"/>
<path d="M205.3 1066.6h28.4M165.4 1070.6h41.1M155.8 1072.6h37.6" stroke="#b4b6b7" stroke-width="1" fill="none"/>
<rect x="154.6" y="1073.8" width="121.8" height="5.8" fill="#c6c8c9"/>
<path d="M145.7 1074.3h8.9M276.4 1075.3h10.6M276.4 1079.3h9.2" stroke="#dcdedf" stroke-width="1" fill="none"/>
<path d="M190.9 1077.3h49M198.7 1079.3h58.2" stroke="#b4b6b7" stroke-width="1" fill="none"/>
<rect x="167.1" y="1079.4" width="84.5" height="8.6" fill="#c6c8c9"/>
<path d="M251.5 1079.9h4.8M251.5 1080.9h19M158.6 1083.9h8.5M251.5 1084.9h22M251.5 1085.9h20.7" stroke="#dcdedf" stroke-width="1" fill="none"/>
<path d="M181.6 1080.9h27.5M192.8 1083.9h22.3M177.4 1085.9h18.4" stroke="#b4b6b7" stroke-width="1" fill="none"/>
<rect x="225.2" y="1008.1" width="56.8" height="2.8" fill="#8d8f91"/>
<rect x="233.5" y="1016.4" width="52.6" height="2.8" fill="#8d8f91"/>
<rect x="225.2" y="1025.4" width="56.8" height="1.7" fill="#8d8f91"/>
<rect x="198.9" y="1032.3" width="60.9" height="2.8" fill="#8d8f91"/>
<rect x="197.5" y="1045.4" width="56.8" height="2.8" fill="#8d8f91"/>
<rect x="185.1" y="1053.8" width="78.9" height="4.2" fill="#8d8f91"/>
<rect x="198.2" y="1075.5" width="52.6" height="3.2" fill="#8d8f91"/>
<rect x="180.9" y="1037.8" width="83.1" height="1.4" fill="#8d8f91"/>
<rect x="225.2" y="1064.1" width="34.6" height="1.4" fill="#8d8f91"/>
<path d="M290.3 1006.3h115M290.3 1008.1h75M313.8 1028.4h34M313.8 1033.4h52M322.1 1045.4h98M290.3 1059.6h32" stroke="#d6d8d9" stroke-width="1.2" fill="none"/>
<path d="M31 1061h120" stroke="#c8cacb" stroke-width="4.4" fill="none"/>
<path d="M31 1058h60" stroke="#d8dadb" stroke-width="1.6" fill="none"/>
<path d="M175 1004.3h150" stroke="#151515" stroke-width="2" fill="none"/>
<path d="M414 1021.5h5M410 1069.5h5M304 1071.5h9" stroke="#d5d7d7" stroke-width="1.6" fill="none"/>
<path d="M105 917.5h5M166 907.5h10" stroke="#dcdede" stroke-width="1.4" fill="none"/>
<rect x="29.5" y="562.7" width="491.4" height="321.5" fill="none" stroke="#3a3a3a" stroke-width="1.9"/>
<rect x="29.5" y="887.8" width="491.4" height="111.1" fill="none" stroke="#3a3a3a" stroke-width="1.9"/>
<rect x="29.5" y="1002.9" width="491.4" height="86" fill="none" stroke="#3a3a3a" stroke-width="1.9"/>
<rect x="523.8" y="562.7" width="22.3" height="44.5" fill="#52ad93"/>
<rect x="523.8" y="562.7" width="22.3" height="9.3" fill="#52ad93"/>
<path d="M523.8 565.7h22.3M523.8 570.7h22.3" stroke="#ee8867" stroke-width="2" fill="none"/>
<path d="M523.8 567.2h22.3" stroke="#ee8867" stroke-width="1" fill="none"/>
<rect x="523.8" y="601" width="22.3" height="6.5" fill="#52ad93"/>
<path d="M523.8 602.5h22.3M523.8 606.1h22.3M523.8 607h22.3" stroke="#ee8867" stroke-width="1" fill="none"/>
<path d="M523.8 603.4h22.3M523.8 605.2h22.3" stroke="#ee8867" stroke-width="0.8" fill="none"/>
<rect x="523.8" y="608.3" width="22.3" height="63.5" fill="#ee8867"/>
<rect x="523.8" y="671.8" width="22.3" height="27" fill="#52ad93"/>
<rect x="523.8" y="698.8" width="22.3" height="129.6" fill="#ee8867"/>
<rect x="523.8" y="828.4" width="22.3" height="55.8" fill="#52ad93"/>
<path d="M523.8 744.5h22.3M523.8 766.5h22.3M523.8 789h22.3" stroke="#f2a085" stroke-width="0.8" fill="none"/>
<rect x="546.8" y="562.7" width="22" height="44.5" fill="#3179b9"/>
<path d="M546.8 565.5h22M546.8 568h22M546.8 571h22M546.8 578.5h22" stroke="#d0544a" stroke-width="0.7" fill="none"/>
<rect x="546.8" y="607.2" width="22" height="91.6" fill="#e8392f"/>
<rect x="546.8" y="698.8" width="22" height="185.4" fill="#3179b9"/>
<rect x="523.8" y="887.8" width="22.3" height="111.1" fill="#ee8867"/>
<path d="M523.8 888.3h22.3M523.8 889.3h22.3M523.8 917.7h22.3M523.8 946.7h22.3M523.8 959h22.3M523.8 974.8h22.3M523.8 994.2h22.3M523.8 995.2h22.3" stroke="#cfa486" stroke-width="1" fill="none"/>
<path d="M523.8 893h22.3M523.8 901.2h22.3M523.8 916.8h22.3M523.8 972.9h22.3M523.8 987.3h22.3" stroke="#cfa486" stroke-width="0.8" fill="none"/>
<path d="M523.8 947.9h22.3M523.8 990.9h22.3" stroke="#cfa486" stroke-width="1.5" fill="none"/>
<path d="M523.8 992.7h22.3" stroke="#cfa486" stroke-width="2" fill="none"/>
<path d="M523.8 890.2h22.3M523.8 894.6h22.3M523.8 931.6h22.3M523.8 943h22.3M523.8 981.5h22.3" stroke="#52ad93" stroke-width="0.8" fill="none"/>
<path d="M523.8 899.5h22.3M523.8 909.6h22.3M523.8 912.1h22.3M523.8 915.9h22.3M523.8 918.7h22.3M523.8 923.7h22.3M523.8 927.2h22.3M523.8 934.3h22.3M523.8 938.3h22.3M523.8 939.3h22.3M523.8 945.7h22.3M523.8 958h22.3M523.8 963h22.3M523.8 966h22.3M523.8 972h22.3M523.8 973.8h22.3M523.8 978.1h22.3M523.8 980.6h22.3M523.8 982.4h22.3M523.8 984.4h22.3M523.8 997.2h22.3M523.8 998.2h22.3M523.8 998.4h22.3" stroke="#52ad93" stroke-width="1" fill="none"/>
<path d="M523.8 910.8h22.3M523.8 925.9h22.3M523.8 928.4h22.3M523.8 937h22.3M523.8 979.3h22.3" stroke="#52ad93" stroke-width="1.5" fill="none"/>
<path d="M523.8 920.2h22.3M523.8 930.2h22.3M523.8 950.5h22.3M523.8 955.5h22.3M523.8 960.5h22.3M523.8 970.5h22.3" stroke="#52ad93" stroke-width="2" fill="none"/>
<path d="M523.8 895.7h22.3M523.8 898.2h22.3M523.8 908.3h22.3" stroke="#a8ab8e" stroke-width="1.5" fill="none"/>
<path d="M523.8 905.1h22.3M523.8 913.1h22.3M523.8 921.7h22.3M523.8 922.7h22.3M523.8 924.7h22.3M523.8 941.1h22.3M523.8 942.1h22.3M523.8 964h22.3M523.8 969h22.3M523.8 989.7h22.3" stroke="#a8ab8e" stroke-width="1" fill="none"/>
<path d="M523.8 940.2h22.3" stroke="#a8ab8e" stroke-width="0.8" fill="none"/>
<path d="M523.8 952.5h22.3" stroke="#a8ab8e" stroke-width="2" fill="none"/>
<rect x="523.8" y="1002.9" width="22.3" height="86" fill="#ee8867"/>
<path d="M523.8 1003.3h22.3M523.8 1037h22.3M523.8 1061.5h22.3M523.8 1064.1h22.3M523.8 1067.4h22.3" stroke="#52ad93" stroke-width="0.8" fill="none"/>
<path d="M523.8 1004.7h22.3M523.8 1041.7h22.3M523.8 1054h22.3M523.8 1086.1h22.3" stroke="#52ad93" stroke-width="2" fill="none"/>
<path d="M523.8 1008h22.3M523.8 1019.6h22.3M523.8 1020.6h22.3M523.8 1025.6h22.3M523.8 1028.6h22.3M523.8 1044.2h22.3M523.8 1045.2h22.3M523.8 1052.5h22.3M523.8 1060.6h22.3M523.8 1062.4h22.3M523.8 1074.3h22.3M523.8 1075.3h22.3M523.8 1083.6h22.3M523.8 1084.6h22.3" stroke="#52ad93" stroke-width="1" fill="none"/>
<path d="M523.8 1010.4h22.3" stroke="#cfa486" stroke-width="0.8" fill="none"/>
<path d="M523.8 1018.6h22.3M523.8 1043.2h22.3M523.8 1059.6h22.3M523.8 1065h22.3M523.8 1073.3h22.3" stroke="#cfa486" stroke-width="1" fill="none"/>
<path d="M523.8 1023.1h22.3M523.8 1070.8h22.3M523.8 1077.6h22.3" stroke="#cfa486" stroke-width="2" fill="none"/>
<path d="M523.8 1017.6h22.3M523.8 1021.6h22.3M523.8 1034.6h22.3M523.8 1040.2h22.3M523.8 1047h22.3" stroke="#a8ab8e" stroke-width="1" fill="none"/>
<path d="M523.8 1035.8h22.3M523.8 1048.2h22.3M523.8 1049.7h22.3M523.8 1066.2h22.3" stroke="#a8ab8e" stroke-width="1.5" fill="none"/>
<path d="M523.8 1039.3h22.3M523.8 1046.1h22.3M523.8 1055.4h22.3M523.8 1057.2h22.3M523.8 1076.2h22.3" stroke="#a8ab8e" stroke-width="0.8" fill="none"/>
<rect x="546.8" y="887.8" width="22" height="111.1" fill="#3179b9"/>
<rect x="546.8" y="1002.9" width="22" height="86" fill="#3179b9"/>
<path d="M546.8 563.5h22M546.8 566.5h22M546.8 570.5h22M546.8 573.5h22M546.8 576.5h22M546.8 580.5h22M546.8 584.5h22M546.8 588.5h22M546.8 590.5h22M546.8 592.5h22M546.8 596.5h22M546.8 599.5h22M546.8 602.5h22M546.8 605.5h22M546.8 699.5h22M546.8 702.5h22M546.8 705.5h22M546.8 708.5h22M546.8 712.5h22M546.8 715.5h22M546.8 717.5h22M546.8 720.5h22M546.8 723.5h22M546.8 726.5h22M546.8 728.5h22M546.8 731.5h22M546.8 734.5h22M546.8 738.5h22M546.8 741.5h22M546.8 743.5h22M546.8 747.5h22M546.8 749.5h22M546.8 753.5h22M546.8 755.5h22M546.8 758.5h22M546.8 762.5h22M546.8 764.5h22M546.8 767.5h22M546.8 769.5h22M546.8 772.5h22M546.8 775.5h22M546.8 779.5h22M546.8 781.5h22M546.8 784.5h22M546.8 787.5h22M546.8 789.5h22M546.8 791.5h22M546.8 794.5h22M546.8 798.5h22M546.8 800.5h22M546.8 804.5h22M546.8 807.5h22M546.8 811.5h22M546.8 814.5h22M546.8 817.5h22M546.8 820.5h22M546.8 823.5h22M546.8 826.5h22M546.8 829.5h22M546.8 833.5h22M546.8 836.5h22M546.8 838.5h22M546.8 840.5h22M546.8 844.5h22M546.8 846.5h22M546.8 849.5h22M546.8 852.5h22M546.8 854.5h22M546.8 858.5h22M546.8 862.5h22M546.8 864.5h22M546.8 868.5h22M546.8 870.5h22M546.8 873.5h22M546.8 876.5h22M546.8 879.5h22M546.8 882.5h22M546.8 889.5h22M546.8 893.5h22M546.8 896.5h22M546.8 900.5h22M546.8 903.5h22M546.8 905.5h22M546.8 908.5h22M546.8 911.5h22M546.8 914.5h22M546.8 918.5h22M546.8 921.5h22M546.8 924.5h22M546.8 928.5h22M546.8 932.5h22M546.8 935.5h22M546.8 938.5h22M546.8 941.5h22M546.8 944.5h22M546.8 948.5h22M546.8 951.5h22M546.8 954.5h22M546.8 957.5h22M546.8 960.5h22M546.8 963.5h22M546.8 966.5h22M546.8 969.5h22M546.8 972.5h22M546.8 975.5h22M546.8 978.5h22M546.8 981.5h22M546.8 984.5h22M546.8 987.5h22M546.8 990.5h22M546.8 992.5h22M546.8 995.5h22M546.8 997.5h22M546.8 1004.5h22M546.8 1007.5h22M546.8 1010.5h22M546.8 1013.5h22M546.8 1016.5h22M546.8 1020.5h22M546.8 1023.5h22M546.8 1026.5h22M546.8 1028.5h22M546.8 1030.5h22M546.8 1033.5h22M546.8 1036.5h22M546.8 1040.5h22M546.8 1044.5h22M546.8 1046.5h22M546.8 1048.5h22M546.8 1052.5h22M546.8 1056.5h22M546.8 1059.5h22M546.8 1062.5h22M546.8 1066.5h22M546.8 1068.5h22M546.8 1071.5h22M546.8 1074.5h22M546.8 1078.5h22M546.8 1080.5h22M546.8 1083.5h22M546.8 1087.5h22" stroke="#4a8ac6" stroke-width="0.6" fill="none"/>
<path d="M568.8 604.5L591.1 604.5" stroke="#7a4f9b" stroke-width="4.2"/>
<path d="M568.8 852.8L591.1 852.8" stroke="#8a63a8" stroke-width="1.3"/>
<path d="M568.8 930.4L591.1 930.4" stroke="#9a78b5" stroke-width="1.3"/>
<path d="M568.8 973.4L591.1 973.4" stroke="#bfa9d1" stroke-width="1.1"/>
<text text-anchor="middle" transform="translate(18.2 741.6) rotate(-90)" textLength="52.5" lengthAdjust="spacingAndGlyphs">Small</text>
<text text-anchor="middle" transform="translate(18.2 945) rotate(-90)" textLength="74.6" lengthAdjust="spacingAndGlyphs">Medium</text>
<text text-anchor="middle" transform="translate(18.2 1050.4) rotate(-90)" textLength="53.7" lengthAdjust="spacingAndGlyphs">Large</text>
<text x="96.5" y="1117" textLength="371.5" lengthAdjust="spacingAndGlyphs">Genomic editing flanking sgRNA (90 bp)</text>
<text x="616.3" y="646.6" textLength="99.1" lengthAdjust="spacingAndGlyphs">Frequency</text>
<text x="616.3" y="671.3" textLength="102.6" lengthAdjust="spacingAndGlyphs">of modified</text>
<text x="616.3" y="696" textLength="106.1" lengthAdjust="spacingAndGlyphs">nucleotides</text>
<text x="618.4" y="722.2">0</text>
<text x="636.6" y="722.2">1</text>
<rect x="615.2" y="730.6" width="19" height="19" fill="#fff" stroke="#231f20" stroke-width="1"/>
<rect x="634" y="730.1" width="20.4" height="20" fill="#000"/>
<text x="615.6" y="788" textLength="104.5" lengthAdjust="spacingAndGlyphs">ADT custer</text>
<rect x="614.8" y="794.2" width="20.6" height="19.2" fill="#52ad93"/>
<text x="648" y="810.4" textLength="53.6" lengthAdjust="spacingAndGlyphs">0: HH</text>
<rect x="614.8" y="815" width="20.6" height="20.6" fill="#ee8867"/>
<text x="648" y="833" textLength="78.1" lengthAdjust="spacingAndGlyphs">1: Daudi</text>
<text x="615.6" y="872.6" textLength="88.6" lengthAdjust="spacingAndGlyphs">Condition</text>
<rect x="614.8" y="878.8" width="20.6" height="19.8" fill="#3179b9"/>
<text x="648" y="896.8" textLength="75.5" lengthAdjust="spacingAndGlyphs">CRISPR</text>
<rect x="614.8" y="902.9" width="20.6" height="20.1" fill="#e41f33"/>
<text x="648" y="920.9" textLength="67.6" lengthAdjust="spacingAndGlyphs">Control</text>
<text x="614.5" y="956.8" textLength="45.4" lengthAdjust="spacingAndGlyphs">HDR</text>
<rect x="614" y="963.3" width="20.6" height="19.8" fill="#7a4f9b"/>
<text x="648" y="980.9" textLength="34.2" lengthAdjust="spacingAndGlyphs">Yes</text>
<text transform="translate(779.5 428.3) scale(1.1 1)" font-weight="bold" fill="#1a1a1a" font-size="32">c</text>
<rect x="920.3" y="458.2" width="18.6" height="18.4" fill="#48ad8f"/>
<text x="951.4" y="475.4" textLength="53.6" lengthAdjust="spacingAndGlyphs">0: HH</text>
<rect x="1074.7" y="458.2" width="18.8" height="18.4" fill="#ee8867"/>
<text x="1104.6" y="475.4" textLength="78.1" lengthAdjust="spacingAndGlyphs">1: Daudi</text>
<path d="M901 678h0m1 0h0m1 0h0m1 0h0m3 0h0m2 0h0m2 0h0m1 0h0m3 0h0m2 0h0m1 0h0m1 0h0m1 0h0m1 0h0m2 0h0" stroke="#e41a2c" stroke-width="5.2" stroke-linecap="round" fill="none" opacity="0.8"/>
<path d="M900 678h0m1 0h0m3 0h0m1 0h0m1 0h0m1 0h0m2 0h0m1 0h0m1 0h0m11 0h0m1 0h0m2 0h0" stroke="#e41a2c" stroke-width="5.2" stroke-linecap="round" fill="none" opacity="0.8"/>
<path d="M901 678h0m3 0h0m3 0h0m2 0h0m5 0h0m1 0h0m3 0h0m1 0h0m1 0h0m2 0h0m2 0h0m1 0h0" stroke="#e41a2c" stroke-width="5.2" stroke-linecap="round" fill="none" opacity="0.8"/>
<path d="M953 642h0m-15 3h0m11 1h0m-16 2h0m7 1h0m14 1h0m-23 2h0m1 3h0m8 0h0m-6 1h0m5 0h0m2 2h0m5 0h0m1 0h0m5 0h0m-9 1h0m12 0h0m-24 1h0m12 0h0m3 0h0m10 0h0m-20 1h0m4 0h0m-9 1h0m3 0h0m15 0h0m2 0h0m4 0h0m-15 1h0m3 0h0m7 0h0m-18 1h0m16 0h0m1 0h0m1 0h0m1 0h0m4 0h0m-11 1h0m1 0h0m-6 1h0m1 0h0m3 0h0m6 0h0m-9 1h0m-6 1h0m6 0h0m4 0h0m3 0h0m1 0h0m5 0h0m3 0h0m-18 1h0m4 0h0m6 0h0m2 1h0m4 0h0m2 0h0m-24 1h0m5 0h0m9 0h0m2 0h0m-13 1h0m14 0h0m2 0h0m1 0h0m1 0h0m-22 1h0m7 0h0m7 0h0m2 0h0m8 0h0m-20 1h0m2 0h0m1 0h0m1 0h0m2 0h0m3 0h0m1 0h0m2 0h0m4 0h0m4 0h0m-23 1h0m9 0h0m-2 1h0m-8 1h0m1 0h0m4 0h0m1 0h0m2 0h0m3 0h0m1 0h0m1 0h0m1 0h0m3 0h0m3 0h0m-5 1h0m3 0h0" stroke="#4d86c6" stroke-width="5.2" stroke-linecap="round" fill="none" opacity="0.45"/>
<path d="M950 643h0m-6 3h0m3 2h0m8 1h0m-7 1h0m6 1h0m-21 2h0m8 0h0m6 2h0m6 0h0m-21 1h0m8 0h0m7 1h0m-15 1h0m9 0h0m9 0h0m2 0h0m-17 1h0m7 0h0m5 0h0m3 1h0m1 0h0m3 0h0m-22 1h0m3 0h0m2 0h0m11 0h0m-8 1h0m4 0h0m-3 1h0m9 0h0m-16 1h0m11 0h0m5 0h0m2 0h0m2 1h0m-18 1h0m2 0h0m12 0h0m2 0h0m3 0h0m-10 1h0m5 0h0m-15 1h0m1 0h0m2 0h0m3 0h0m4 0h0m4 0h0m1 0h0m-20 1h0m1 0h0m18 0h0m1 0h0m1 0h0m1 0h0m-21 1h0m2 0h0m7 0h0m5 0h0m9 0h0m-19 1h0m2 0h0m10 0h0m1 0h0m1 0h0m-11 1h0m3 0h0m4 0h0m4 0h0m5 0h0m-19 1h0m11 0h0m1 0h0m2 0h0m5 0h0m-22 1h0m1 0h0m4 0h0m4 0h0m3 0h0m7 0h0m1 0h0m1 0h0m1 0h0m-16 1h0m5 0h0m11 0h0m1 0h0m1 0h0m-24 1h0m3 0h0m4 0h0m5 0h0m2 0h0m3 0h0m5 0h0m1 0h0m-24 1h0m6 0h0m-1 1h0m11 0h0m8 0h0" stroke="#4d86c6" stroke-width="5.2" stroke-linecap="round" fill="none" opacity="0.45"/>
<path d="M932 647h0m7 4h0m-1 1h0m-1 1h0m-5 4h0m7 0h0m12 0h0m-15 1h0m5 0h0m10 0h0m-15 1h0m6 1h0m10 0h0m-15 1h0m8 0h0m2 0h0m4 0h0m-8 1h0m1 0h0m-12 1h0m8 0h0m2 0h0m8 0h0m5 0h0m-12 1h0m7 0h0m1 0h0m-16 1h0m8 0h0m8 0h0m1 0h0m1 0h0m-18 1h0m4 0h0m12 0h0m-18 1h0m1 0h0m5 0h0m13 0h0m-10 1h0m1 0h0m8 0h0m-19 1h0m3 0h0m3 0h0m2 0h0m10 0h0m1 0h0m5 0h0m-21 1h0m1 0h0m8 0h0m1 0h0m-13 1h0m9 0h0m3 0h0m6 0h0m1 0h0m1 0h0m1 0h0m2 0h0m-21 1h0m1 0h0m1 0h0m7 0h0m6 0h0m2 0h0m3 0h0m-16 1h0m2 0h0m2 0h0m1 0h0m5 0h0m3 0h0m-12 1h0m3 0h0m7 0h0m3 0h0m2 0h0m-15 1h0m2 0h0m2 0h0m1 0h0m2 0h0m8 0h0m1 0h0m1 0h0m-25 1h0m9 0h0m3 0h0m1 0h0m12 0h0m-24 1h0m4 0h0m5 0h0m1 0h0m2 0h0m10 1h0m2 0h0" stroke="#4d86c6" stroke-width="5.2" stroke-linecap="round" fill="none" opacity="0.45"/>
<path d="M974 672h0m-7 1h0m4 1h0m13 0h0m1 0h0m1 0h0m-24 1h0m2 0h0m2 0h0m5 0h0m7 0h0m4 0h0m3 0h0m-21 1h0m2 0h0m2 0h0m2 0h0m2 0h0m2 0h0m1 0h0m2 0h0m1 0h0m2 0h0m2 0h0m1 0h0m-21 1h0m2 0h0m2 0h0m9 0h0m4 0h0m1 0h0m2 0h0m1 0h0m1 0h0m1 0h0m2 0h0m-20 1h0m2 0h0m7 0h0m1 0h0m1 0h0" stroke="#e0187c" stroke-width="5.2" stroke-linecap="round" fill="none" opacity="0.8"/>
<path d="M974 673h0m13 0h0m-22 1h0m2 0h0m17 0h0m-15 1h0m1 0h0m6 0h0m-14 1h0m1 0h0m5 0h0m6 0h0m1 0h0m8 0h0m2 0h0m1 0h0m2 0h0m-24 1h0m1 0h0m3 0h0m2 0h0m3 0h0m1 0h0m2 0h0m1 0h0m2 0h0m1 0h0m1 0h0m1 0h0m4 0h0m1 0h0m-22 1h0m2 0h0m3 0h0m2 0h0m3 0h0m1 0h0m1 0h0m10 0h0" stroke="#e0187c" stroke-width="5.2" stroke-linecap="round" fill="none" opacity="0.8"/>
<path d="M983 673h0m-18 1h0m9 0h0m-8 1h0m1 0h0m3 0h0m2 0h0m6 0h0m2 0h0m5 0h0m2 0h0m-24 1h0m2 0h0m1 0h0m1 0h0m3 0h0m2 0h0m1 0h0m1 0h0m2 0h0m2 0h0m1 0h0m4 0h0m1 0h0m-19 1h0m1 0h0m3 0h0m1 0h0m8 0h0m2 0h0m2 0h0m1 0h0m2 0h0m1 0h0m-20 1h0m4 0h0m2 0h0m3 0h0m6 0h0m2 0h0m2 0h0m3 0h0" stroke="#e0187c" stroke-width="5.2" stroke-linecap="round" fill="none" opacity="0.8"/>
<path d="M1009 661h0m-9 1h0m3 1h0m2 0h0m-7 1h0m4 0h0m5 0h0m-7 1h0m-5 1h0m2 0h0m2 0h0m2 0h0m1 0h0m4 0h0m1 0h0m12 0h0m-22 1h0m4 0h0m6 0h0m4 0h0m6 0h0m-23 1h0m5 0h0m4 0h0m7 0h0m6 0h0m-18 1h0m10 0h0m1 0h0m-6 1h0m2 0h0m10 0h0m1 0h0m-13 2h0m6 0h0" stroke="#c3a0cc" stroke-width="5.2" stroke-linecap="round" fill="none" opacity="0.45"/>
<path d="M994 658h0m18 2h0m-11 2h0m2 0h0m-3 1h0m7 0h0m-13 2h0m7 0h0m10 0h0m4 0h0m-20 1h0m8 0h0m2 0h0m4 0h0m4 0h0m6 0h0m-15 1h0m9 0h0m5 0h0m-5 1h0m2 0h0m1 0h0m-20 1h0m3 0h0m2 0h0m8 0h0m-3 1h0m1 0h0m11 1h0m-16 1h0m3 0h0" stroke="#c3a0cc" stroke-width="5.2" stroke-linecap="round" fill="none" opacity="0.45"/>
<path d="M1006 658h0m7 2h0m-13 2h0m3 1h0m4 0h0m5 0h0m2 0h0m4 0h0m-20 1h0m2 0h0m4 0h0m6 1h0m-10 1h0m2 0h0m9 0h0m1 0h0m-12 1h0m4 0h0m4 0h0m-10 1h0m1 0h0m17 0h0m1 0h0m-10 1h0m7 0h0m-15 1h0m-5 1h0m1 0h0m3 0h0m6 0h0m1 1h0m1 0h0m10 0h0" stroke="#c3a0cc" stroke-width="5.2" stroke-linecap="round" fill="none" opacity="0.45"/>
<path d="M1025 649h0m7 3h0m3 0h0m-5 1h0m2 1h0m-5 2h0m7 0h0m9 0h0m2 0h0m-16 1h0m4 0h0m2 1h0m-8 1h0m15 0h0m5 1h0m-13 1h0m1 0h0m6 0h0m1 0h0m4 2h0m-17 2h0m5 0h0m14 0h0" stroke="#858687" stroke-width="5.2" stroke-linecap="round" fill="none" opacity="0.45"/>
<path d="M1030 646h0m1 1h0m7 5h0m-12 2h0m11 0h0m1 0h0m5 0h0m-17 2h0m15 0h0m-7 1h0m13 0h0m-11 1h0m-6 1h0m9 0h0m-7 2h0m2 0h0m-3 1h0m8 1h0m8 0h0m-22 2h0m4 0h0m13 0h0m3 0h0" stroke="#858687" stroke-width="5.2" stroke-linecap="round" fill="none" opacity="0.45"/>
<path d="M1031 648h0m2 2h0m2 2h0m-6 1h0m9 0h0m5 1h0m-17 2h0m5 0h0m2 0h0m1 0h0m14 0h0m-9 1h0m-1 2h0m-3 1h0m5 0h0m1 0h0m2 0h0m2 0h0m-7 1h0m1 1h0m2 1h0m-4 1h0m12 0h0" stroke="#858687" stroke-width="5.2" stroke-linecap="round" fill="none" opacity="0.45"/>
<path d="M911.8 677.7V677.7M911.8 678V678" stroke="#e41a2c" stroke-width="1.6" fill="none"/>
<rect x="898.8" y="677.7" width="26" height="0.4" fill="none" stroke="#e41a2c" stroke-width="1.6"/>
<path d="M898.8 678h26" stroke="#e41a2c" stroke-width="2.6" fill="none"/>
<rect x="930.2" y="665.1" width="26" height="12.9" fill="#2878ba" opacity="0.6"/>
<path d="M943.2 639.9V665.1M943.2 678V678" stroke="#2878ba" stroke-width="1.6" fill="none"/>
<rect x="930.2" y="665.1" width="26" height="12.9" fill="none" stroke="#2878ba" stroke-width="1.6"/>
<path d="M930.2 670.8h26" stroke="#2878ba" stroke-width="2.6" fill="none"/>
<path d="M974.8 673.7V676.2M974.8 678V678" stroke="#e0187c" stroke-width="1.6" fill="none"/>
<rect x="961.8" y="676.2" width="26" height="1.8" fill="none" stroke="#e0187c" stroke-width="1.6"/>
<path d="M961.8 677.7h26" stroke="#e0187c" stroke-width="2.6" fill="none"/>
<path d="M1006.3 651.8V665.1M1006.3 669.4V672.6" stroke="#b583b8" stroke-width="1.2" fill="none"/>
<rect x="993.3" y="665.1" width="26" height="4.3" fill="none" stroke="#b583b8" stroke-width="1.6"/>
<path d="M993.3 667.2h26" stroke="#b583b8" stroke-width="2.6" fill="none"/>
<path d="M1037.7 641V653.9M1037.7 660V665.4" stroke="#6d6e70" stroke-width="1.2" fill="none"/>
<rect x="1024.7" y="653.9" width="26" height="6.1" fill="none" stroke="#6d6e70" stroke-width="1.6"/>
<path d="M1024.7 657.5h26" stroke="#6d6e70" stroke-width="2.6" fill="none"/>
<path d="M935.6 548.9h0m114.8 0h0" stroke="#9db9dd" stroke-width="5.2" stroke-linecap="round" fill="none" opacity="0.7"/>
<path d="M1050.4 548.9h0" stroke="#bdbdbd" stroke-width="5.2" stroke-linecap="round" fill="none"/>
<path d="M943.7 548.9h0" stroke="#2878ba" stroke-width="1.6" stroke-linecap="round" fill="none"/>
<path d="M1037.7 548.9h0" stroke="#6d6e70" stroke-width="1.6" stroke-linecap="round" fill="none"/>
<path d="M958.7 487.2V687" stroke="#231f20" stroke-width="1.3" stroke-dasharray="4.5 3.5" fill="none"/>
<path d="M893.2 487.2V687H1057" stroke="#333" stroke-width="1.6" fill="none"/>
<text x="871.5" y="686.2" text-anchor="end">0</text>
<text x="871.5" y="650.3" text-anchor="end" textLength="23.3" lengthAdjust="spacingAndGlyphs">10</text>
<text x="871.5" y="614.3" text-anchor="end" textLength="23.3" lengthAdjust="spacingAndGlyphs">20</text>
<text x="871.5" y="578.4" text-anchor="end" textLength="23.3" lengthAdjust="spacingAndGlyphs">30</text>
<text x="871.5" y="542.5" text-anchor="end" textLength="23.3" lengthAdjust="spacingAndGlyphs">40</text>
<text x="871.5" y="506.5" text-anchor="end" textLength="23.3" lengthAdjust="spacingAndGlyphs">50</text>
<path d="M884.2 678h9M884.2 642.1h9M884.2 606.1h9M884.2 570.2h9M884.2 534.3h9M884.2 498.3h9M911.8 687v9.5M943.2 687v9.5M974.8 687v9.5M1006.3 687v9.5M1037.7 687v9.5" stroke="#333" stroke-width="1.6" fill="none"/>
<path d="M1075 678h0m2 0h0m1 0h0m1 0h0m1 0h0m1 0h0m1 0h0m1 0h0m2 0h0m2 0h0m1 0h0m4 0h0m2 0h0m1 0h0m1 0h0m1 0h0m1 0h0m1 0h0m1 0h0" stroke="#e41a2c" stroke-width="5.2" stroke-linecap="round" fill="none" opacity="0.8"/>
<path d="M1074 678h0m1 0h0m2 0h0m1 0h0m2 0h0m1 0h0m1 0h0m1 0h0m1 0h0m1 0h0m2 0h0m1 0h0m2 0h0m1 0h0m2 0h0m1 0h0m1 0h0m3 0h0m2 0h0" stroke="#e41a2c" stroke-width="5.2" stroke-linecap="round" fill="none" opacity="0.8"/>
<path d="M1074 678h0m2 0h0m1 0h0m2 0h0m1 0h0m1 0h0m2 0h0m1 0h0m1 0h0m1 0h0m2 0h0m1 0h0m1 0h0m2 0h0m2 0h0m1 0h0m1 0h0m3 0h0m1 0h0" stroke="#e41a2c" stroke-width="5.2" stroke-linecap="round" fill="none" opacity="0.8"/>
<path d="M1123 645h0m-10 3h0m3 0h0m9 0h0m-14 2h0m17 2h0m-22 1h0m2 0h0m-2 1h0m2 1h0m-3 2h0m2 0h0m9 0h0m8 0h0m-9 1h0m4 0h0m11 0h0m-19 1h0m17 0h0m-16 1h0m12 0h0m-16 1h0m5 0h0m2 0h0m-3 1h0m2 0h0m1 0h0m4 1h0m7 0h0m-16 2h0m5 0h0m1 0h0m2 0h0m9 0h0m-21 1h0m3 0h0m4 0h0m8 0h0m3 0h0m-17 1h0m11 0h0m3 0h0m8 0h0m-23 1h0m3 0h0m4 0h0m3 0h0m12 0h0m-19 1h0m2 0h0m6 0h0m10 0h0m4 0h0m-19 1h0m11 0h0m7 0h0m-14 1h0m15 0h0m-23 1h0m8 0h0m2 0h0m2 0h0m1 0h0m1 0h0m1 0h0m1 0h0m3 0h0m-16 1h0m5 0h0m5 0h0m6 0h0m4 0h0m-10 1h0m4 0h0m-18 1h0m9 0h0m2 0h0m1 0h0m3 0h0m5 0h0m-14 1h0m2 0h0m9 0h0m-17 1h0m4 0h0m4 0h0m2 0h0m6 0h0m1 0h0m1 0h0m3 0h0m-10 1h0m2 0h0m4 0h0m2 0h0" stroke="#4d86c6" stroke-width="5.2" stroke-linecap="round" fill="none" opacity="0.45"/>
<path d="M1124 638h0m4 1h0m-21 10h0m23 0h0m-25 1h0m12 3h0m-4 1h0m3 0h0m13 0h0m1 0h0m-11 1h0m0 3h0m9 0h0m-10 1h0m1 0h0m3 0h0m9 0h0m-24 1h0m13 0h0m5 0h0m-9 1h0m7 0h0m-11 1h0m4 0h0m9 0h0m2 0h0m-20 1h0m16 0h0m2 0h0m3 0h0m-17 1h0m9 0h0m7 0h0m-17 1h0m10 0h0m11 0h0m-11 1h0m3 0h0m6 0h0m-21 1h0m1 0h0m8 0h0m9 0h0m-14 1h0m4 0h0m3 0h0m7 0h0m2 0h0m2 0h0m-2 1h0m-17 1h0m5 0h0m1 0h0m9 0h0m4 0h0m-24 1h0m2 0h0m4 0h0m6 0h0m3 0h0m1 0h0m-16 1h0m4 0h0m2 0h0m1 0h0m1 0h0m1 0h0m1 0h0m6 0h0m5 0h0m3 0h0m-21 1h0m16 0h0m1 0h0m5 0h0m-15 1h0m4 0h0m10 0h0m-24 1h0m9 0h0m5 0h0m10 0h0m-18 1h0m1 0h0m6 0h0m12 0h0m-9 1h0m8 0h0m-13 1h0m9 0h0m1 0h0m2 0h0" stroke="#4d86c6" stroke-width="5.2" stroke-linecap="round" fill="none" opacity="0.45"/>
<path d="M1114 647h0m-1 3h0m3 0h0m2 1h0m8 1h0m-18 2h0m8 1h0m14 0h0m-22 1h0m8 0h0m5 0h0m-5 1h0m-4 1h0m3 0h0m9 0h0m5 0h0m-15 1h0m7 0h0m-15 1h0m16 0h0m7 0h0m-22 1h0m1 0h0m6 0h0m14 0h0m-18 1h0m17 0h0m2 0h0m-15 1h0m17 0h0m-24 1h0m1 0h0m4 0h0m2 0h0m4 0h0m5 0h0m6 0h0m-21 1h0m4 0h0m8 0h0m-12 1h0m9 0h0m5 0h0m3 0h0m3 0h0m3 0h0m-7 2h0m-13 1h0m-3 1h0m3 0h0m2 0h0m9 0h0m-16 1h0m16 0h0m5 0h0m-19 1h0m6 0h0m6 0h0m1 0h0m-11 1h0m1 0h0m5 0h0m4 0h0m2 0h0m1 0h0m4 0h0m1 0h0m-14 1h0m11 0h0m2 0h0m-20 1h0m1 0h0m2 0h0m1 0h0m1 0h0m2 0h0m4 0h0m5 0h0m1 0h0m1 0h0m1 0h0m-13 1h0m3 0h0m2 0h0m4 0h0m5 0h0m-17 1h0m3 0h0m8 0h0m6 0h0m-20 1h0" stroke="#4d86c6" stroke-width="5.2" stroke-linecap="round" fill="none" opacity="0.45"/>
<path d="M1139 676h0m1 0h0m3 0h0m5 0h0m6 0h0m7 0h0m-24 1h0m2 0h0m3 0h0m2 0h0m1 0h0m1 0h0m3 0h0m1 0h0m2 0h0m1 0h0m4 0h0m1 0h0m1 0h0m1 0h0m1 0h0m1 0h0m-24 1h0m6 0h0m1 0h0m2 0h0m2 0h0m1 0h0m1 0h0m2 0h0m1 0h0m2 0h0m1 0h0m1 0h0m1 0h0m2 0h0m1 0h0" stroke="#e0187c" stroke-width="5.2" stroke-linecap="round" fill="none" opacity="0.8"/>
<path d="M1139 676h0m2 0h0m2 0h0m1 0h0m2 0h0m1 0h0m13 0h0m-21 1h0m3 0h0m1 0h0m2 0h0m1 0h0m1 0h0m1 0h0m1 0h0m1 0h0m3 0h0m1 0h0m1 0h0m1 0h0m2 0h0m3 0h0m-24 1h0m1 0h0m1 0h0m3 0h0m2 0h0m1 0h0m3 0h0m2 0h0m1 0h0m2 0h0m1 0h0m2 0h0m1 0h0m4 0h0m1 0h0" stroke="#e0187c" stroke-width="5.2" stroke-linecap="round" fill="none" opacity="0.8"/>
<path d="M1145 676h0m2 0h0m1 0h0m3 0h0m6 0h0m5 0h0m-25 1h0m3 0h0m2 0h0m1 0h0m1 0h0m1 0h0m2 0h0m1 0h0m2 0h0m1 0h0m1 0h0m1 0h0m2 0h0m3 0h0m3 0h0m1 0h0m-20 1h0m1 0h0m2 0h0m5 0h0m1 0h0m2 0h0m2 0h0m2 0h0m2 0h0m1 0h0m1 0h0" stroke="#e0187c" stroke-width="5.2" stroke-linecap="round" fill="none" opacity="0.8"/>
<path d="M1191 660h0m-15 2h0m15 0h0m-22 1h0m17 0h0m-14 1h0m21 0h0m-17 1h0m6 0h0m2 0h0m5 0h0m-17 1h0m11 0h0m-13 1h0m4 0h0m9 1h0m-10 1h0m6 0h0m6 0h0m1 0h0m7 0h0m-16 1h0m2 0h0m1 0h0m6 0h0m2 0h0m3 0h0m1 0h0m1 0h0" stroke="#c3a0cc" stroke-width="5.2" stroke-linecap="round" fill="none" opacity="0.45"/>
<path d="M1175 660h0m1 2h0m3 0h0m11 0h0m-5 1h0m-5 1h0m4 0h0m4 0h0m-18 1h0m8 0h0m11 0h0m-15 1h0m3 0h0m3 0h0m1 0h0m2 0h0m11 0h0m-20 1h0m5 0h0m2 0h0m6 1h0m6 1h0m-21 1h0m1 0h0m1 0h0m10 0h0m2 0h0m2 0h0m2 0h0m4 0h0" stroke="#c3a0cc" stroke-width="5.2" stroke-linecap="round" fill="none" opacity="0.45"/>
<path d="M1185 661h0m-5 2h0m-1 1h0m13 0h0m-21 2h0m1 0h0m13 0h0m1 0h0m8 0h0m-9 1h0m-15 1h0m2 0h0m5 0h0m3 0h0m8 0h0m-14 1h0m4 0h0m1 0h0m8 0h0m-16 1h0m3 0h0m2 0h0m1 0h0m2 0h0m2 0h0m5 0h0m3 0h0m2 0h0m3 0h0" stroke="#c3a0cc" stroke-width="5.2" stroke-linecap="round" fill="none" opacity="0.45"/>
<path d="M1208 653h0m3 0h0m11 0h0m-12 1h0m5 1h0m-12 1h0m3 0h0m12 1h0m2 0h0m-3 2h0m5 0h0m-14 1h0m9 0h0m-8 2h0m-7 1h0m6 1h0m6 0h0m-4 1h0m8 0h0m0 3h0" stroke="#858687" stroke-width="5.2" stroke-linecap="round" fill="none" opacity="0.45"/>
<path d="M1218 647h0m-2 1h0m10 4h0m-20 3h0m3 0h0m11 1h0m3 0h0m-8 1h0m2 0h0m-11 1h0m13 0h0m-18 1h0m1 0h0m4 0h0m6 0h0m13 0h0m-22 2h0m7 2h0m16 5h0m-24 1h0" stroke="#858687" stroke-width="5.2" stroke-linecap="round" fill="none" opacity="0.45"/>
<path d="M1220 647h0m-17 4h0m21 1h0m-23 2h0m14 0h0m-8 1h0m9 1h0m-3 1h0m4 0h0m-17 1h0m7 0h0m10 0h0m5 1h0m4 0h0m-14 1h0m12 1h0m-17 1h0m1 1h0m-4 1h0m5 0h0" stroke="#858687" stroke-width="5.2" stroke-linecap="round" fill="none" opacity="0.45"/>
<path d="M1086.9 677.8V677.8M1086.9 678V678" stroke="#e41a2c" stroke-width="1.6" fill="none"/>
<path d="M1073.9 678h26" stroke="#e41a2c" stroke-width="2.6" fill="none"/>
<rect x="1105.3" y="673.7" width="26" height="4.3" fill="#2878ba" opacity="0.6"/>
<path d="M1118.3 647.1V664.7M1118.3 678V678" stroke="#2878ba" stroke-width="1.6" fill="none"/>
<rect x="1105.3" y="664.7" width="26" height="13.3" fill="none" stroke="#2878ba" stroke-width="1.6"/>
<path d="M1105.3 678h26" stroke="#2878ba" stroke-width="3" fill="none"/>
<path d="M1149.8 674.4V676.6M1149.8 678V678" stroke="#e0187c" stroke-width="1.6" fill="none"/>
<rect x="1136.8" y="676.6" width="26" height="1.4" fill="none" stroke="#e0187c" stroke-width="1.6"/>
<path d="M1136.8 677.7h26" stroke="#e0187c" stroke-width="2.6" fill="none"/>
<path d="M1181.4 651.1V664.7M1181.4 668.3V669.7" stroke="#b583b8" stroke-width="1.2" fill="none"/>
<rect x="1168.4" y="664.7" width="26" height="3.6" fill="none" stroke="#b583b8" stroke-width="1.6"/>
<path d="M1168.4 666.5h26" stroke="#b583b8" stroke-width="2.6" fill="none"/>
<path d="M1213 641.4V652.5M1213 662.6V667.9" stroke="#6d6e70" stroke-width="1.2" fill="none"/>
<rect x="1200" y="652.5" width="26" height="10.1" fill="none" stroke="#6d6e70" stroke-width="1.6"/>
<path d="M1200 659h26" stroke="#6d6e70" stroke-width="2.6" fill="none"/>
<path d="M1120.4 559.5h0m3.5 -63.6h0m4.3 131.5h0m-14.2 8.2h0" stroke="#9db9dd" stroke-width="5.2" stroke-linecap="round" fill="none" opacity="0.8"/>
<path d="M1118.3 627.4h0m0 8.2h0" stroke="#2878ba" stroke-width="1.6" stroke-linecap="round" fill="none"/>
<path d="M1207.1 559.5h0m16.5 -63.6h0m-8.3 181.6h0m9.5 -41.4h0" stroke="#bdbdbd" stroke-width="5.2" stroke-linecap="round" fill="none" opacity="0.9"/>
<path d="M1190.6 627.4h0" stroke="#d5bfe0" stroke-width="5.2" stroke-linecap="round" fill="none" opacity="0.9"/>
<path d="M1181.4 627.4h0" stroke="#b583b8" stroke-width="1.6" stroke-linecap="round" fill="none"/>
<path d="M1213 559.5h0m0 -63.6h0" stroke="#6d6e70" stroke-width="1.4" stroke-linecap="round" fill="none"/>
<path d="M1134 487.2V687" stroke="#231f20" stroke-width="1.3" stroke-dasharray="4.5 3.5" fill="none"/>
<path d="M1068.1 487.2V687H1231.8" stroke="#333" stroke-width="1.6" fill="none"/>
<path d="M1086.9 687v9.5M1118.3 687v9.5M1149.8 687v9.5M1181.4 687v9.5M1213 687v9.5" stroke="#333" stroke-width="1.6" fill="none"/>
<path d="M912.6 503.6L941.5 503.6" stroke="#231f20" stroke-width="2.2"/>
<text x="927" y="506" text-anchor="middle" fill="#111" font-size="27" textLength="38.8" lengthAdjust="spacingAndGlyphs">****</text>
<path d="M976.9 502.5L1039.3 502.5" stroke="#231f20" stroke-width="2.2"/>
<text x="1008.1" y="506.4" text-anchor="middle" fill="#111" font-size="27" textLength="38.8" lengthAdjust="spacingAndGlyphs">****</text>
<path d="M1009.9 522.7L1039.3 522.7" stroke="#231f20" stroke-width="2.2"/>
<text x="1022.6" y="529.3" text-anchor="middle" fill="#111" font-size="27" textLength="38.8" lengthAdjust="spacingAndGlyphs">****</text>
<path d="M978.5 547.2L1008 547.2" stroke="#231f20" stroke-width="2.2"/>
<text x="993.3" y="549.3" text-anchor="middle" fill="#111" font-size="27" textLength="38.8" lengthAdjust="spacingAndGlyphs">****</text>
<path d="M1091.6 502.9L1121.1 502.9" stroke="#231f20" stroke-width="2.2"/>
<text x="1104.6" y="508.1" text-anchor="middle" fill="#111" font-size="27" textLength="38.8" lengthAdjust="spacingAndGlyphs">****</text>
<path d="M1156 501.5L1218.4 501.5" stroke="#231f20" stroke-width="2.2"/>
<text x="1191.1" y="508.1" text-anchor="middle" fill="#111" font-size="27" textLength="38.8" lengthAdjust="spacingAndGlyphs">****</text>
<path d="M1189.4 517.3L1218.4 517.3" stroke="#231f20" stroke-width="2.2"/>
<text x="1202.4" y="524.6" text-anchor="middle" fill="#111" font-size="27" textLength="38.8" lengthAdjust="spacingAndGlyphs">****</text>
<path d="M1157.6 537.3L1187.1 537.3" stroke="#231f20" stroke-width="2.2"/>
<text x="1172.9" y="543.9" text-anchor="middle" fill="#111" font-size="27" textLength="38.8" lengthAdjust="spacingAndGlyphs">****</text>
<text text-anchor="middle" transform="translate(803 589) rotate(-90)" textLength="120.1" lengthAdjust="spacingAndGlyphs">Deletion size</text>
<text text-anchor="middle" transform="translate(828 588.5) rotate(-90)" textLength="139.9" lengthAdjust="spacingAndGlyphs">(mean per cell)</text>
<path d="M903 736h0m12 3h0m-6 3h0m3 1h0m-11 1h0m3 1h0m-2 1h0m1 3h0m15 0h0m5 7h0m-21 1h0m13 2h0m-9 6h0m-2 14h0m1 6h0" stroke="#ee7e62" stroke-width="5.2" stroke-linecap="round" fill="none" opacity="0.42"/>
<path d="M912 732h0m6 1h0m-13 5h0m18 3h0m-1 6h0m-18 1h0m17 0h0m-2 3h0m-15 1h0m0 15h0m-3 1h0m3 1h0m1 7h0m2 3h0m-6 14h0" stroke="#ee7e62" stroke-width="5.2" stroke-linecap="round" fill="none" opacity="0.42"/>
<path d="M901 735h0m20 9h0m-16 1h0m4 0h0m-8 2h0m15 3h0m-4 3h0m2 2h0m6 7h0m-7 1h0m-12 2h0m13 6h0m4 2h0m1 11h0m2 0h0" stroke="#ee7e62" stroke-width="5.2" stroke-linecap="round" fill="none" opacity="0.42"/>
<path d="M951 719h0m-6 2h0m8 7h0m-8 1h0m1 1h0m7 0h0m1 2h0m-15 1h0m9 0h0m1 1h0m7 0h0m-13 1h0m7 0h0m1 0h0m-16 1h0m1 0h0m11 0h0m10 0h0m-24 2h0m7 0h0m6 0h0m5 0h0m1 1h0m-14 1h0m3 0h0m7 0h0m6 1h0m-6 3h0m-14 1h0m1 0h0m8 0h0m15 1h0m-25 2h0m12 0h0m1 0h0m9 0h0m-11 1h0m-6 1h0m9 1h0m11 0h0m-24 1h0m3 0h0m-3 1h0m2 0h0m3 0h0m9 0h0m4 0h0m5 0h0m-17 1h0m7 0h0m7 0h0m1 0h0m-6 1h0m-6 1h0m9 0h0m-10 2h0m4 0h0m1 1h0m-6 1h0m1 0h0m9 0h0m3 0h0m-20 1h0m1 0h0m3 0h0m3 0h0m6 0h0m-14 1h0m5 0h0m17 0h0m-20 1h0m19 0h0m-15 1h0m11 0h0m3 0h0m1 0h0m-17 3h0m11 0h0m0 1h0m-10 1h0m14 0h0m0 2h0m2 1h0m-5 1h0m8 1h0m-15 1h0m3 1h0m5 0h0m-10 1h0m0 1h0m14 0h0m-19 1h0m1 0h0m12 0h0m5 0h0m-18 1h0m1 0h0m3 2h0m11 1h0m-16 1h0m0 1h0m-1 1h0m2 0h0m16 5h0m-11 2h0m12 1h0m-17 26h0" stroke="#4d86c6" stroke-width="5.2" stroke-linecap="round" fill="none" opacity="0.42"/>
<path d="M944 721h0m-11 5h0m23 2h0m-20 1h0m7 3h0m11 2h0m-1 1h0m-9 2h0m1 1h0m-7 2h0m-3 1h0m1 0h0m12 0h0m9 0h0m-13 1h0m2 0h0m6 0h0m-18 1h0m2 0h0m16 0h0m3 1h0m-21 1h0m4 0h0m12 0h0m-10 1h0m-7 1h0m3 0h0m3 1h0m12 0h0m1 0h0m-8 1h0m1 0h0m4 0h0m-8 1h0m12 0h0m0 1h0m-19 1h0m1 0h0m8 0h0m2 0h0m-3 1h0m-8 1h0m9 0h0m5 0h0m-15 1h0m2 0h0m9 0h0m12 0h0m-21 1h0m7 0h0m-6 1h0m4 0h0m13 0h0m2 0h0m2 0h0m-18 4h0m17 0h0m-12 1h0m1 0h0m5 0h0m8 0h0m-20 1h0m4 0h0m-8 1h0m15 0h0m-9 1h0m13 0h0m1 0h0m-3 1h0m2 0h0m-11 4h0m7 2h0m-13 1h0m1 0h0m8 0h0m4 0h0m-4 1h0m1 0h0m-2 1h0m6 0h0m1 0h0m3 0h0m-16 1h0m18 0h0m-21 2h0m10 0h0m-9 1h0m3 0h0m6 4h0m3 0h0m-13 1h0m-2 1h0m15 0h0m4 0h0m-11 1h0m15 0h0m-1 1h0m-11 1h0m6 5h0m-14 3h0m21 0h0m-15 3h0m14 0h0m-18 1h0m13 0h0" stroke="#4d86c6" stroke-width="5.2" stroke-linecap="round" fill="none" opacity="0.42"/>
<path d="M944 723h0m12 1h0m-20 4h0m21 0h0m-9 1h0m9 1h0m-1 1h0m-15 1h0m16 2h0m-4 2h0m-14 2h0m3 0h0m-9 1h0m13 0h0m9 0h0m0 1h0m-14 1h0m14 0h0m1 0h0m-14 1h0m13 0h0m-14 1h0m7 0h0m9 0h0m-17 1h0m-5 1h0m16 0h0m2 0h0m-13 1h0m1 0h0m1 0h0m-5 1h0m4 0h0m1 0h0m2 0h0m-7 1h0m1 0h0m1 0h0m2 0h0m-7 1h0m3 0h0m4 0h0m1 0h0m5 2h0m5 0h0m4 0h0m-16 1h0m2 0h0m2 0h0m12 0h0m-23 1h0m16 0h0m3 1h0m1 0h0m-19 1h0m10 0h0m-10 1h0m9 0h0m14 0h0m-11 1h0m-13 1h0m13 0h0m1 0h0m2 0h0m2 0h0m-13 1h0m1 0h0m0 1h0m6 0h0m-1 1h0m6 0h0m-16 1h0m17 0h0m-1 1h0m1 0h0m-10 1h0m1 0h0m9 0h0m-1 2h0m1 1h0m7 0h0m-14 1h0m12 0h0m-8 2h0m-8 3h0m-7 1h0m5 3h0m3 0h0m5 0h0m5 0h0m-16 1h0m19 0h0m-14 1h0m14 0h0m-15 1h0m4 0h0m8 3h0m1 0h0m-5 1h0m7 0h0m-16 7h0m8 3h0m-9 2h0m13 2h0m5 0h0m-5 3h0" stroke="#4d86c6" stroke-width="5.2" stroke-linecap="round" fill="none" opacity="0.42"/>
<path d="M988 728h0m-12 1h0m-8 2h0m20 0h0m0 2h0m-1 3h0m-6 2h0m-1 1h0m-1 1h0m5 0h0m-18 3h0m3 0h0m10 1h0m4 0h0m-14 3h0m17 0h0m-13 2h0m-2 1h0m9 0h0m-3 2h0m6 0h0m1 0h0m5 0h0m-7 1h0m4 0h0m-18 1h0m13 1h0m6 0h0m-16 2h0m15 0h0m-5 1h0m2 4h0m-6 1h0m13 1h0m-23 4h0m11 0h0m-4 2h0m-8 1h0m6 2h0m-2 3h0m7 0h0m-10 5h0m2 0h0m11 0h0m-12 8h0m1 0h0m11 0h0m-8 4h0m16 0h0" stroke="#ea5f8c" stroke-width="5.2" stroke-linecap="round" fill="none" opacity="0.42"/>
<path d="M982 726h0m4 2h0m-13 4h0m6 0h0m5 4h0m-3 1h0m-14 1h0m1 1h0m8 3h0m-5 2h0m0 1h0m-4 1h0m20 0h0m-21 1h0m1 0h0m5 0h0m3 1h0m1 0h0m-4 1h0m4 0h0m-9 1h0m4 0h0m7 0h0m-5 1h0m0 1h0m13 0h0m-20 1h0m10 6h0m5 0h0m4 3h0m-18 2h0m6 2h0m16 1h0m-9 1h0m9 1h0m-19 1h0m5 3h0m11 0h0m-12 3h0m5 0h0m10 1h0m-3 4h0m-10 1h0m-10 1h0m20 6h0m1 1h0m3 0h0m-19 1h0m-2 2h0m-2 13h0" stroke="#ea5f8c" stroke-width="5.2" stroke-linecap="round" fill="none" opacity="0.42"/>
<path d="M969 726h0m16 4h0m1 2h0m4 3h0m-3 3h0m-5 2h0m-14 2h0m9 0h0m3 0h0m-14 1h0m23 0h0m-20 4h0m0 1h0m8 1h0m11 0h0m-16 1h0m4 0h0m-7 1h0m8 0h0m-10 1h0m19 0h0m1 0h0m-19 1h0m1 0h0m0 1h0m2 0h0m12 0h0m1 0h0m-2 1h0m0 2h0m-5 1h0m12 0h0m-17 6h0m17 0h0m-8 4h0m6 0h0m-11 4h0m10 1h0m-19 2h0m7 1h0m13 4h0m-1 4h0m-5 2h0m-3 8h0m7 1h0m-5 3h0m-1 3h0m-11 4h0m10 0h0" stroke="#ea5f8c" stroke-width="5.2" stroke-linecap="round" fill="none" opacity="0.42"/>
<path d="M1009 731h0m5 5h0m-14 2h0m22 4h0m-6 3h0m-4 2h0m5 1h0m-12 1h0m5 0h0m4 1h0m2 1h0m-6 7h0m-7 11h0m20 2h0m-17 1h0m8 2h0m-7 4h0m10 3h0m-7 8h0m-10 4h0" stroke="#c3a0cc" stroke-width="5.2" stroke-linecap="round" fill="none" opacity="0.42"/>
<path d="M1016 730h0m-17 4h0m3 0h0m-1 5h0m1 1h0m10 1h0m-1 1h0m12 0h0m-9 3h0m0 2h0m2 11h0m-7 11h0m8 0h0m-3 3h0m-2 7h0m1 2h0m3 4h0m-13 1h0m5 1h0m5 6h0" stroke="#c3a0cc" stroke-width="5.2" stroke-linecap="round" fill="none" opacity="0.42"/>
<path d="M1003 730h0m0 6h0m10 3h0m-4 5h0m6 0h0m-9 1h0m8 0h0m1 0h0m-11 2h0m7 1h0m-3 2h0m3 0h0m2 2h0m5 0h0m3 0h0m-18 1h0m15 4h0m-15 9h0m20 3h0m0 5h0" stroke="#c3a0cc" stroke-width="5.2" stroke-linecap="round" fill="none" opacity="0.42"/>
<path d="M1033 734h0m2 6h0m2 6h0m12 3h0m-2 2h0m-5 2h0m-5 3h0m1 0h0m10 2h0m-10 4h0m5 6h0m-5 4h0m3 2h0m4 0h0m-5 1h0m16 0h0m-12 1h0m2 0h0m-12 1h0m2 10h0m10 2h0m8 0h0m-19 11h0m12 8h0" stroke="#858687" stroke-width="5.2" stroke-linecap="round" fill="none" opacity="0.42"/>
<path d="M1051 744h0m-1 7h0m-16 1h0m7 1h0m-5 2h0m1 1h0m7 1h0m4 3h0m-6 4h0m8 2h0m-16 2h0m4 0h0m16 1h0m-9 3h0m1 3h0m6 0h0m-4 4h0m3 1h0m1 0h0m4 0h0m-12 4h0m10 0h0m-18 29h0" stroke="#858687" stroke-width="5.2" stroke-linecap="round" fill="none" opacity="0.42"/>
<path d="M1034 742h0m17 1h0m0 4h0m-8 2h0m-7 2h0m7 0h0m1 4h0m-11 3h0m15 0h0m-14 2h0m22 6h0m-12 3h0m12 0h0m-1 1h0m0 4h0m-23 4h0m11 4h0m5 4h0m1 10h0m-7 4h0m-6 1h0m17 1h0m-8 7h0" stroke="#858687" stroke-width="5.2" stroke-linecap="round" fill="none" opacity="0.42"/>
<path d="M912.3 732.4V741.4M912.3 767.8V796" stroke="#e41a2c" stroke-width="1.7" fill="none"/>
<rect x="899.3" y="741.4" width="26" height="26.4" fill="none" stroke="#e41a2c" stroke-width="1.7"/>
<path d="M899.3 748.9h26" stroke="#e41a2c" stroke-width="2.8" fill="none"/>
<path d="M945.3 717.1V745.8M945.3 770.1V817.2" stroke="#2878ba" stroke-width="1.7" fill="none"/>
<rect x="932.3" y="745.8" width="26" height="24.3" fill="none" stroke="#2878ba" stroke-width="1.7"/>
<path d="M932.3 756h26" stroke="#2878ba" stroke-width="2.8" fill="none"/>
<path d="M978.1 717.1V743.7M978.1 767.3V791.3" stroke="#e0187c" stroke-width="1.7" fill="none"/>
<rect x="965.1" y="743.7" width="26" height="23.6" fill="none" stroke="#e0187c" stroke-width="1.7"/>
<path d="M965.1 753.6h26" stroke="#e0187c" stroke-width="2.8" fill="none"/>
<path d="M1010.8 727V745.4M1010.8 767V792.5" stroke="#b583b8" stroke-width="1.7" fill="none"/>
<rect x="997.8" y="745.4" width="26" height="21.7" fill="none" stroke="#b583b8" stroke-width="1.7"/>
<path d="M997.8 754.1h26" stroke="#b583b8" stroke-width="2.8" fill="none"/>
<path d="M1043.8 734.8V754.3M1043.8 781.2V812.5" stroke="#6d6e70" stroke-width="1" fill="none"/>
<rect x="1030.8" y="754.3" width="26" height="26.9" fill="none" stroke="#6d6e70" stroke-width="1.7"/>
<path d="M1030.8 767.3h26" stroke="#6d6e70" stroke-width="2.8" fill="none"/>
<path d="M1086 762h0m-10 10h0m8 2h0m-3 3h0m16 3h0m2 1h0m-16 1h0m15 0h0m2 2h0m-21 1h0m11 0h0m3 0h0m6 0h0m-12 1h0m5 0h0m-1 2h0m-5 2h0m-6 2h0m2 2h0m3 3h0m14 1h0m-17 2h0m2 1h0m7 1h0m-2 2h0m8 2h0m-15 1h0m15 2h0m-8 5h0m-4 1h0m9 0h0m-8 1h0m7 4h0m-10 1h0m0 1h0m1 8h0m-2 11h0" stroke="#ee7e62" stroke-width="5.2" stroke-linecap="round" fill="none" opacity="0.42"/>
<path d="M1089 761h0m-1 6h0m-8 2h0m14 0h0m-3 3h0m-3 2h0m-4 1h0m14 1h0m-18 3h0m5 1h0m3 0h0m-9 3h0m11 0h0m8 1h0m-20 5h0m16 1h0m-17 1h0m4 1h0m10 6h0m-14 1h0m14 1h0m-12 1h0m13 1h0m-5 1h0m3 0h0m8 0h0m-10 4h0m5 2h0m4 1h0m3 0h0m-22 6h0m9 2h0m-5 3h0m12 11h0m-16 6h0m7 2h0" stroke="#ee7e62" stroke-width="5.2" stroke-linecap="round" fill="none" opacity="0.42"/>
<path d="M1095 771h0m-5 5h0m2 0h0m2 0h0m-16 1h0m21 0h0m-13 2h0m7 1h0m-3 1h0m-11 5h0m7 4h0m-10 1h0m1 0h0m9 0h0m9 0h0m-8 4h0m-5 1h0m-3 1h0m5 0h0m15 3h0m-13 2h0m13 0h0m-22 2h0m7 1h0m8 0h0m-8 2h0m7 0h0m6 0h0m-5 3h0m-7 3h0m-5 2h0m19 1h0m-16 1h0m13 3h0m-3 6h0m-4 14h0" stroke="#ee7e62" stroke-width="5.2" stroke-linecap="round" fill="none" opacity="0.42"/>
<path d="M1132 764h0m-18 2h0m16 10h0m-1 4h0m-15 1h0m6 0h0m7 1h0m-14 3h0m2 3h0m11 0h0m5 0h0m-7 2h0m4 0h0m0 2h0m1 0h0m-14 2h0m2 0h0m16 0h0m-19 1h0m2 0h0m7 0h0m7 0h0m-16 1h0m3 0h0m3 0h0m-4 1h0m-5 1h0m22 0h0m-16 2h0m13 0h0m-19 2h0m7 0h0m3 0h0m-5 1h0m5 0h0m1 0h0m-12 1h0m14 0h0m1 1h0m3 0h0m-15 1h0m10 0h0m-10 1h0m1 0h0m-3 1h0m10 0h0m1 0h0m2 0h0m1 0h0m3 0h0m2 0h0m-15 1h0m1 0h0m1 0h0m9 0h0m-17 1h0m1 0h0m1 0h0m4 0h0m14 2h0m-3 1h0m1 0h0m-6 1h0m9 0h0m-18 1h0m12 0h0m9 0h0m-19 1h0m9 0h0m10 0h0m-23 1h0m19 0h0m-14 1h0m-3 1h0m14 0h0m7 0h0m-21 1h0m21 1h0m-13 1h0m2 0h0m-9 1h0m4 0h0m10 0h0m-6 1h0m-11 1h0m2 1h0m12 1h0m3 1h0m0 2h0m3 0h0m-20 1h0m1 0h0m10 2h0m8 0h0m-8 1h0m12 0h0m-21 1h0m11 0h0m-13 2h0m3 3h0m19 0h0m-19 1h0m1 0h0m6 0h0m-8 10h0m2 1h0m15 0h0m-13 1h0m13 5h0m2 1h0" stroke="#4d86c6" stroke-width="5.2" stroke-linecap="round" fill="none" opacity="0.42"/>
<path d="M1126 773h0m-10 5h0m8 1h0m8 3h0m-6 2h0m7 0h0m-4 1h0m-1 1h0m-5 1h0m-2 2h0m3 0h0m-10 1h0m10 0h0m0 2h0m-13 1h0m1 0h0m12 0h0m-6 1h0m6 0h0m3 0h0m2 0h0m-12 1h0m10 0h0m-13 1h0m1 0h0m1 0h0m3 0h0m5 0h0m2 0h0m-17 3h0m12 0h0m10 0h0m-20 2h0m17 2h0m1 0h0m-11 1h0m13 0h0m-11 1h0m5 0h0m-13 1h0m1 0h0m2 0h0m4 0h0m10 0h0m-14 1h0m16 0h0m2 0h0m-15 1h0m5 0h0m1 0h0m3 0h0m-2 1h0m-13 1h0m4 0h0m6 0h0m5 0h0m-16 2h0m4 1h0m7 0h0m-12 1h0m-1 1h0m2 0h0m6 0h0m2 0h0m10 1h0m-14 1h0m13 0h0m4 0h0m-23 1h0m6 2h0m4 0h0m10 0h0m-2 2h0m-5 1h0m11 0h0m0 1h0m-1 1h0m0 1h0m-19 1h0m14 0h0m-16 1h0m10 0h0m-11 1h0m13 0h0m0 1h0m-6 2h0m14 3h0m-6 1h0m4 1h0m-15 1h0m12 0h0m-16 1h0m5 0h0m-4 1h0m4 0h0m3 1h0m-7 3h0m19 1h0m-13 1h0m2 1h0m-7 1h0m5 3h0m-6 9h0m22 1h0m-2 1h0m-18 6h0m18 0h0" stroke="#4d86c6" stroke-width="5.2" stroke-linecap="round" fill="none" opacity="0.42"/>
<path d="M1133 777h0m-10 2h0m-14 4h0m2 2h0m14 0h0m-16 1h0m8 0h0m11 0h0m-10 1h0m-4 1h0m12 1h0m1 0h0m-13 1h0m2 0h0m5 1h0m1 0h0m11 0h0m-4 1h0m3 0h0m-4 1h0m1 0h0m-20 2h0m3 0h0m-1 1h0m10 0h0m6 1h0m-11 1h0m-4 1h0m12 0h0m-15 1h0m2 0h0m1 0h0m5 0h0m10 0h0m-11 1h0m1 0h0m2 0h0m3 0h0m10 0h0m-21 1h0m13 0h0m7 0h0m2 0h0m-15 1h0m11 0h0m-20 1h0m13 0h0m2 0h0m3 0h0m6 0h0m-16 1h0m-7 1h0m3 0h0m9 1h0m2 0h0m1 0h0m5 0h0m2 0h0m-15 1h0m10 0h0m-13 2h0m0 1h0m5 0h0m1 0h0m-4 1h0m16 1h0m-19 1h0m1 0h0m10 0h0m-8 1h0m4 0h0m4 0h0m6 0h0m-8 1h0m-13 1h0m13 0h0m2 0h0m3 0h0m5 0h0m-1 1h0m-14 1h0m-1 1h0m11 1h0m-7 1h0m-1 1h0m3 0h0m12 0h0m-16 1h0m-7 1h0m2 0h0m-3 3h0m11 1h0m9 0h0m-11 2h0m15 0h0m-14 1h0m12 3h0m-17 2h0m2 1h0m15 0h0m-19 2h0m1 1h0m12 0h0m-1 1h0m1 5h0m-16 1h0m13 2h0m-11 9h0" stroke="#4d86c6" stroke-width="5.2" stroke-linecap="round" fill="none" opacity="0.42"/>
<path d="M1165 766h0m0 1h0m-10 7h0m-9 2h0m19 0h0m-7 1h0m0 3h0m-7 1h0m14 0h0m-3 1h0m-14 2h0m6 1h0m-11 2h0m14 1h0m-8 1h0m2 1h0m6 1h0m-15 2h0m4 1h0m18 0h0m-14 1h0m16 0h0m-12 1h0m11 0h0m-16 1h0m3 0h0m13 0h0m-8 1h0m6 1h0m-7 1h0m-8 1h0m5 0h0m-11 1h0m11 0h0m2 0h0m-1 1h0m1 0h0m7 1h0m-10 1h0m8 0h0m-4 1h0m-13 2h0m12 1h0m-7 1h0m10 0h0m-15 1h0m3 0h0m5 0h0m1 0h0m5 0h0m8 0h0m-11 2h0m2 0h0m-10 1h0m7 0h0m8 0h0m-17 1h0m7 0h0m7 0h0m-9 1h0m16 0h0m-21 4h0m8 2h0m8 4h0m-6 3h0m-7 1h0m18 1h0m-17 3h0m12 2h0m-15 1h0m0 3h0m8 4h0m9 3h0" stroke="#ea5f8c" stroke-width="5.2" stroke-linecap="round" fill="none" opacity="0.42"/>
<path d="M1151 768h0m0 10h0m2 1h0m6 1h0m-3 3h0m6 3h0m-9 1h0m-10 1h0m22 0h0m-18 1h0m10 0h0m0 2h0m-6 2h0m1 1h0m-1 1h0m13 0h0m2 0h0m-13 1h0m7 1h0m-14 3h0m-4 2h0m4 0h0m8 0h0m-7 1h0m8 1h0m5 0h0m3 0h0m1 0h0m-22 1h0m20 0h0m-14 1h0m13 1h0m-18 1h0m7 0h0m3 0h0m5 1h0m-7 1h0m-4 1h0m6 0h0m4 0h0m1 0h0m-15 1h0m4 0h0m-3 1h0m18 0h0m2 2h0m-15 2h0m9 0h0m-14 1h0m18 0h0m1 0h0m-4 5h0m2 0h0m3 0h0m-19 1h0m19 0h0m-10 1h0m-9 2h0m13 0h0m3 0h0m-17 1h0m6 0h0m8 0h0m-12 3h0m9 0h0m2 3h0m3 0h0m4 0h0m-4 2h0m-14 1h0m6 2h0m-10 8h0" stroke="#ea5f8c" stroke-width="5.2" stroke-linecap="round" fill="none" opacity="0.42"/>
<path d="M1145 772h0m9 1h0m0 4h0m3 0h0m5 3h0m-3 1h0m-3 2h0m-9 1h0m-4 1h0m9 3h0m0 4h0m8 0h0m3 0h0m-10 1h0m-1 1h0m11 0h0m-12 1h0m5 0h0m-5 2h0m2 0h0m-3 1h0m8 0h0m7 0h0m-20 1h0m6 0h0m12 0h0m-16 1h0m8 1h0m2 0h0m-12 1h0m10 1h0m1 0h0m-8 1h0m10 0h0m2 0h0m-3 2h0m-15 1h0m4 0h0m1 0h0m8 0h0m3 0h0m-16 2h0m6 2h0m5 0h0m11 0h0m-9 1h0m-3 1h0m-5 1h0m8 0h0m5 0h0m3 0h0m1 0h0m-2 1h0m-12 1h0m9 0h0m-11 3h0m17 0h0m-12 1h0m2 1h0m4 1h0m-2 2h0m5 0h0m-12 5h0m0 3h0m6 0h0m6 4h0m1 1h0m1 0h0m-5 6h0m-7 2h0m7 1h0m-5 1h0" stroke="#ea5f8c" stroke-width="5.2" stroke-linecap="round" fill="none" opacity="0.42"/>
<path d="M1175 795h0m7 6h0m7 2h0m-9 5h0m1 3h0m6 4h0m-4 2h0m1 6h0m0 1h0m12 0h0m-2 5h0m-9 1h0m-4 4h0m9 4h0m3 0h0m-16 3h0m3 5h0m6 2h0m-4 10h0m8 9h0" stroke="#c3a0cc" stroke-width="5.2" stroke-linecap="round" fill="none" opacity="0.42"/>
<path d="M1188 794h0m8 3h0m-16 4h0m7 0h0m12 0h0m-20 5h0m12 0h0m-9 1h0m-7 1h0m16 0h0m2 1h0m-1 4h0m-7 3h0m8 0h0m-9 8h0m-9 3h0m12 2h0m-3 6h0m13 0h0m-1 16h0" stroke="#c3a0cc" stroke-width="5.2" stroke-linecap="round" fill="none" opacity="0.42"/>
<path d="M1193 800h0m-2 4h0m6 0h0m-16 2h0m12 1h0m-15 1h0m10 3h0m0 7h0m11 5h0m-12 1h0m-13 1h0m15 0h0m-9 1h0m15 2h0m-13 1h0m5 3h0m8 7h0m-18 1h0m17 24h0m-7 3h0" stroke="#c3a0cc" stroke-width="5.2" stroke-linecap="round" fill="none" opacity="0.42"/>
<path d="M1229 791h0m-6 4h0m4 5h0m-13 6h0m3 1h0m3 1h0m-6 10h0m2 0h0m12 0h0m-19 1h0m12 7h0m2 7h0m7 0h0m-4 1h0m-11 18h0m5 7h0m8 10h0" stroke="#858687" stroke-width="5.2" stroke-linecap="round" fill="none" opacity="0.42"/>
<path d="M1213 793h0m11 1h0m6 2h0m-1 5h0m-6 2h0m-13 2h0m21 8h0m-6 1h0m0 7h0m-16 4h0m5 1h0m6 0h0m-12 4h0m8 7h0m10 2h0m-10 12h0m-9 16h0" stroke="#858687" stroke-width="5.2" stroke-linecap="round" fill="none" opacity="0.42"/>
<path d="M1208 778h0m15 16h0m-10 3h0m8 5h0m10 2h0m-9 3h0m-8 3h0m11 4h0m4 1h0m-16 1h0m6 4h0m-2 3h0m4 36h0m-1 6h0m-12 4h0m13 15h0" stroke="#858687" stroke-width="5.2" stroke-linecap="round" fill="none" opacity="0.42"/>
<path d="M1088.1 759V783.5M1088.1 813V839.6" stroke="#e41a2c" stroke-width="1.7" fill="none"/>
<rect x="1075.1" y="783.5" width="26" height="29.5" fill="none" stroke="#e41a2c" stroke-width="1.7"/>
<path d="M1075.1 800.7h26" stroke="#e41a2c" stroke-width="2.8" fill="none"/>
<path d="M1121.1 759V797.9M1121.1 825V859.2" stroke="#2878ba" stroke-width="1.7" fill="none"/>
<rect x="1108.1" y="797.9" width="26" height="27.1" fill="none" stroke="#2878ba" stroke-width="1.7"/>
<path d="M1108.1 809h26" stroke="#2878ba" stroke-width="2.8" fill="none"/>
<path d="M1153.6 759V794.9M1153.6 818.4V850.2" stroke="#e0187c" stroke-width="1.7" fill="none"/>
<rect x="1140.6" y="794.9" width="26" height="23.6" fill="none" stroke="#e0187c" stroke-width="1.7"/>
<path d="M1140.6 805.9h26" stroke="#e0187c" stroke-width="2.8" fill="none"/>
<path d="M1186.6 780.7V805.5M1186.6 827.8V852.6" stroke="#b583b8" stroke-width="1.7" fill="none"/>
<rect x="1173.6" y="805.5" width="26" height="22.4" fill="none" stroke="#b583b8" stroke-width="1.7"/>
<path d="M1173.6 811.8h26" stroke="#b583b8" stroke-width="2.8" fill="none"/>
<path d="M1219.3 776V807.1M1219.3 849.5V895" stroke="#6d6e70" stroke-width="1" fill="none"/>
<rect x="1206.3" y="807.1" width="26" height="42.4" fill="none" stroke="#6d6e70" stroke-width="1.7"/>
<path d="M1206.3 827.1h26" stroke="#6d6e70" stroke-width="2.8" fill="none"/>
<path d="M912.3 830.7h0m175.8 28.5h0m65.5 -0.5h0" stroke="#e41a2c" stroke-width="1.8" stroke-linecap="round" fill="none"/>
<path d="M961.8 709.3V903.9" stroke="#231f20" stroke-width="1.8" stroke-dasharray="4.5 3.5" fill="none"/>
<path d="M1137.6 709.3V903.9" stroke="#231f20" stroke-width="1.2" stroke-dasharray="4.5 3.5" fill="none"/>
<path d="M893.2 709.3V903.9H1063.8" stroke="#333" stroke-width="1.6" fill="none"/>
<text x="871.5" y="721.1" text-anchor="end" textLength="64.2" lengthAdjust="spacingAndGlyphs">10,000</text>
<text x="871.5" y="790.7" text-anchor="end" textLength="52.5" lengthAdjust="spacingAndGlyphs">1,000</text>
<text x="871.5" y="860.3" text-anchor="end" textLength="35" lengthAdjust="spacingAndGlyphs">100</text>
<path d="M884.2 712.9h9M884.2 782.5h9M884.2 852.1h9M912.3 903.9v9.5M945.3 903.9v9.5M978.1 903.9v9.5M1010.8 903.9v9.5M1043.8 903.9v9.5" stroke="#333" stroke-width="1.6" fill="none"/>
<path d="M1068.8 709.3V903.9H1238.9" stroke="#333" stroke-width="1.6" fill="none"/>
<path d="M1088.1 903.9v9.5M1121.1 903.9v9.5M1153.6 903.9v9.5M1186.6 903.9v9.5M1219.3 903.9v9.5" stroke="#333" stroke-width="1.6" fill="none"/>
<path d="M982.5 722.3L1045 722.3" stroke="#231f20" stroke-width="2.6"/>
<text x="1017.9" y="726.7" text-anchor="middle" fill="#111" font-size="27" textLength="38.8" lengthAdjust="spacingAndGlyphs">****</text>
<path d="M1015.5 736.4L1045 736.4" stroke="#231f20" stroke-width="2.6"/>
<text x="1030.4" y="743.4" text-anchor="middle" fill="#111" font-size="27" textLength="19.4" lengthAdjust="spacingAndGlyphs">**</text>
<path d="M983.2 742.3L1013.9 742.3" stroke="#231f20" stroke-width="2.6"/>
<text x="999" y="748.6" text-anchor="middle" fill="#111" font-size="27">*</text>
<path d="M1096.8 726.5L1126.3 726.5" stroke="#231f20" stroke-width="2.2"/>
<text x="1111.7" y="731.7" text-anchor="middle" fill="#111" font-size="27" textLength="38.8" lengthAdjust="spacingAndGlyphs">****</text>
<path d="M1161.6 723.5L1223.6 723.5" stroke="#231f20" stroke-width="2.2"/>
<text x="1196.5" y="727.4" text-anchor="middle" fill="#111" font-size="27" textLength="38.8" lengthAdjust="spacingAndGlyphs">****</text>
<path d="M1194.8 737.6L1223.6 737.6" stroke="#231f20" stroke-width="2.2"/>
<text x="1207.1" y="744.4" text-anchor="middle" fill="#111" font-size="27" textLength="19.4" lengthAdjust="spacingAndGlyphs">**</text>
<path d="M1163.5 751.7L1192.5 751.7" stroke="#231f20" stroke-width="2.2"/>
<text x="1178.1" y="758.8" text-anchor="middle" fill="#111" font-size="27" textLength="38.8" lengthAdjust="spacingAndGlyphs">****</text>
<text text-anchor="middle" transform="translate(792.4 806.6) rotate(-90)" textLength="135.2" lengthAdjust="spacingAndGlyphs">FITC-DQB1 FI</text>
<path d="M909 986h0m8 4h0m-8 1h0m15 1h0m-12 6h0m-8 1h0m10 6h0m9 3h0m-18 6h0m4 8h0m9 3h0m-1 3h0m-8 7h0m-8 4h0m10 18h0" stroke="#ee7e62" stroke-width="5.2" stroke-linecap="round" fill="none" opacity="0.42"/>
<path d="M900 968h0m22 0h0m-14 13h0m10 11h0m-6 5h0m7 5h0m-1 1h0m-16 1h0m4 3h0m-4 2h0m1 2h0m-3 2h0m21 7h0m-14 10h0m17 1h0" stroke="#ee7e62" stroke-width="5.2" stroke-linecap="round" fill="none" opacity="0.42"/>
<path d="M901 975h0m15 5h0m-1 2h0m0 1h0m-10 5h0m16 2h0m-14 9h0m3 1h0m14 5h0m1 0h0m-22 9h0m13 24h0m-15 1h0m14 10h0m-5 3h0" stroke="#ee7e62" stroke-width="5.2" stroke-linecap="round" fill="none" opacity="0.42"/>
<path d="M932 955h0m10 0h0m-1 9h0m-5 1h0m4 0h0m-6 3h0m10 0h0m2 7h0m-8 1h0m10 0h0m0 3h0m-15 1h0m23 0h0m-12 10h0m0 5h0m6 0h0m-10 2h0m0 1h0m12 1h0m-5 2h0m3 0h0m-7 1h0m6 1h0m-1 1h0m-13 2h0m8 0h0m-8 2h0m4 0h0m14 0h0m-5 1h0m-12 1h0m12 0h0m-16 1h0m12 0h0m1 0h0m3 2h0m-11 1h0m-1 1h0m17 0h0m-17 1h0m8 1h0m12 0h0m-20 1h0m12 1h0m8 0h0m-6 1h0m3 0h0m-12 1h0m12 0h0m1 0h0m2 0h0m-17 1h0m0 1h0m6 1h0m0 1h0m-10 1h0m19 0h0m1 1h0m-21 4h0m5 3h0m-5 1h0m2 0h0m12 3h0m-16 1h0m4 0h0m1 0h0m2 0h0m12 4h0m-17 1h0m4 3h0m10 1h0m-15 1h0m2 1h0m11 0h0m-6 1h0m-6 1h0m17 0h0m-19 2h0m23 0h0m-19 2h0m5 2h0m15 2h0m1 0h0m-8 1h0m-10 2h0m0 1h0m14 1h0m-11 3h0m-4 2h0m5 0h0m-6 1h0m17 0h0m3 2h0m-20 3h0m19 9h0m-23 4h0m8 2h0" stroke="#4d86c6" stroke-width="5.2" stroke-linecap="round" fill="none" opacity="0.42"/>
<path d="M938 958h0m-2 5h0m2 1h0m16 5h0m-6 2h0m-13 1h0m5 7h0m16 0h0m-5 2h0m-18 2h0m6 0h0m2 0h0m13 1h0m-1 4h0m-1 5h0m-18 3h0m23 0h0m-11 1h0m3 0h0m-10 1h0m15 0h0m-19 1h0m4 1h0m12 0h0m1 0h0m-17 1h0m6 0h0m13 0h0m-5 1h0m5 0h0m-4 1h0m2 1h0m1 0h0m-20 1h0m14 0h0m9 0h0m-15 4h0m4 0h0m1 2h0m5 0h0m-15 1h0m13 0h0m-16 1h0m6 0h0m12 0h0m-6 1h0m7 0h0m-19 1h0m4 0h0m14 0h0m1 0h0m-15 1h0m9 0h0m-13 1h0m14 0h0m9 2h0m-14 2h0m6 1h0m0 1h0m-14 2h0m19 1h0m-14 2h0m1 1h0m0 1h0m-1 1h0m12 0h0m-12 1h0m17 0h0m-7 1h0m7 0h0m-19 2h0m-4 2h0m10 0h0m6 0h0m-12 1h0m6 0h0m5 1h0m-4 1h0m-7 1h0m7 0h0m1 5h0m4 0h0m-17 3h0m20 1h0m-8 2h0m-7 3h0m2 0h0m17 0h0m1 3h0m-18 1h0m16 1h0m-13 3h0m1 3h0m12 1h0m0 4h0m-19 5h0m2 3h0m8 6h0m-13 4h0m0 3h0" stroke="#4d86c6" stroke-width="5.2" stroke-linecap="round" fill="none" opacity="0.42"/>
<path d="M950 954h0m-1 8h0m8 0h0m-14 4h0m3 0h0m-8 5h0m-3 1h0m-3 2h0m4 1h0m16 3h0m-6 3h0m1 2h0m9 0h0m-18 2h0m7 0h0m-9 2h0m2 1h0m2 1h0m-3 2h0m7 0h0m1 1h0m3 0h0m-6 1h0m1 1h0m12 0h0m-19 2h0m2 0h0m7 0h0m7 0h0m-10 3h0m2 0h0m6 1h0m-13 1h0m15 0h0m-9 2h0m10 0h0m-10 1h0m6 0h0m-17 1h0m18 0h0m-15 3h0m6 0h0m-8 1h0m16 0h0m-8 2h0m15 0h0m-14 1h0m1 0h0m-10 1h0m4 1h0m10 0h0m10 1h0m-19 1h0m6 0h0m-8 1h0m13 0h0m-12 2h0m-4 5h0m15 0h0m4 0h0m-16 1h0m-1 1h0m10 2h0m-8 2h0m-3 1h0m6 2h0m10 0h0m3 0h0m-4 1h0m-14 3h0m8 1h0m-4 1h0m10 2h0m-17 1h0m19 0h0m-19 1h0m9 1h0m-5 2h0m0 1h0m3 0h0m17 0h0m1 1h0m-11 2h0m-11 1h0m10 0h0m-6 5h0m14 1h0m-14 4h0m2 0h0m-8 5h0m18 0h0m-10 1h0m8 2h0m-5 3h0m-1 6h0m-3 1h0m-5 6h0m9 0h0m7 5h0" stroke="#4d86c6" stroke-width="5.2" stroke-linecap="round" fill="none" opacity="0.42"/>
<path d="M982 961h0m-13 19h0m4 5h0m-7 3h0m-1 1h0m12 1h0m-6 2h0m18 0h0m-11 1h0m0 1h0m-10 1h0m1 0h0m-1 1h0m3 2h0m-6 2h0m15 1h0m-6 2h0m5 0h0m-3 2h0m10 0h0m-7 1h0m2 0h0m5 0h0m-1 3h0m-4 2h0m1 2h0m-13 2h0m14 4h0m-6 1h0m-11 5h0m14 1h0m6 0h0m-15 3h0m-5 2h0m12 1h0m10 0h0m-20 2h0m-2 1h0m1 1h0m-2 2h0m6 0h0m4 9h0m7 0h0m-4 2h0m1 17h0m-1 6h0m4 16h0" stroke="#ea5f8c" stroke-width="5.2" stroke-linecap="round" fill="none" opacity="0.42"/>
<path d="M982 963h0m-4 1h0m-2 3h0m-10 1h0m22 5h0m-20 9h0m2 0h0m16 1h0m-8 1h0m4 5h0m-6 1h0m2 1h0m3 0h0m-3 1h0m-2 1h0m-5 2h0m8 0h0m-15 1h0m21 2h0m1 0h0m-19 2h0m17 0h0m-18 1h0m2 0h0m2 1h0m2 0h0m15 0h0m-20 1h0m3 3h0m2 0h0m9 0h0m-6 2h0m8 1h0m-19 2h0m20 0h0m-3 1h0m-11 2h0m6 1h0m5 0h0m-11 1h0m10 0h0m-5 3h0m6 11h0m-16 5h0m10 8h0m-4 19h0m-1 10h0" stroke="#ea5f8c" stroke-width="5.2" stroke-linecap="round" fill="none" opacity="0.42"/>
<path d="M969 961h0m3 11h0m0 5h0m9 0h0m3 0h0m-13 2h0m16 0h0m-10 10h0m2 1h0m3 0h0m-2 5h0m-14 1h0m1 0h0m1 3h0m-3 2h0m-1 1h0m3 1h0m21 0h0m0 1h0m-15 2h0m9 1h0m-5 1h0m1 0h0m10 4h0m-5 4h0m-3 1h0m4 3h0m-9 3h0m11 0h0m-21 2h0m6 0h0m-4 3h0m21 1h0m-11 7h0m11 2h0m-14 1h0m14 5h0m1 0h0m-15 3h0m10 0h0m-15 1h0m18 4h0m-11 1h0m0 3h0m0 4h0m8 26h0" stroke="#ea5f8c" stroke-width="5.2" stroke-linecap="round" fill="none" opacity="0.42"/>
<path d="M1013 979h0m-17 2h0m2 3h0m18 9h0m-18 1h0m10 4h0m-3 6h0m-1 5h0m2 4h0m6 2h0m-11 5h0m11 2h0m-13 17h0m10 2h0m12 1h0m-18 4h0m-4 6h0m21 6h0m-7 12h0m6 16h0" stroke="#c3a0cc" stroke-width="5.2" stroke-linecap="round" fill="none" opacity="0.42"/>
<path d="M1019 987h0m-19 1h0m9 5h0m6 10h0m-3 8h0m-12 3h0m16 1h0m2 0h0m1 3h0m-8 15h0m-13 8h0m-1 2h0m23 1h0m-12 1h0m9 1h0m-6 10h0m-3 4h0m6 1h0m-2 6h0m6 6h0" stroke="#c3a0cc" stroke-width="5.2" stroke-linecap="round" fill="none" opacity="0.42"/>
<path d="M1011 984h0m1 4h0m-5 3h0m9 2h0m-8 7h0m12 1h0m1 0h0m-6 8h0m-18 1h0m0 8h0m17 4h0m6 0h0m-8 3h0m-10 4h0m7 19h0m-11 18h0m17 4h0m1 0h0m1 6h0m-16 14h0" stroke="#c3a0cc" stroke-width="5.2" stroke-linecap="round" fill="none" opacity="0.42"/>
<path d="M1039 972h0m-8 1h0m1 9h0m10 11h0m-9 1h0m5 2h0m-10 9h0m15 3h0m1 6h0m4 21h0m-14 1h0m12 1h0m-5 1h0m-4 2h0m6 5h0m-6 2h0m15 3h0m-5 9h0m4 0h0m-21 7h0" stroke="#858687" stroke-width="5.2" stroke-linecap="round" fill="none" opacity="0.42"/>
<path d="M1039 995h0m-5 12h0m-1 7h0m-3 1h0m10 11h0m11 4h0m-21 3h0m21 0h0m-7 8h0m3 0h0m-17 1h0m0 1h0m3 2h0m10 4h0m-15 2h0m19 3h0m-13 3h0m8 3h0m-6 8h0m-2 11h0" stroke="#858687" stroke-width="5.2" stroke-linecap="round" fill="none" opacity="0.42"/>
<path d="M1048 1011h0m-8 1h0m-4 3h0m-2 7h0m3 0h0m12 2h0m-1 1h0m-13 8h0m-2 11h0m13 0h0m-12 4h0m-3 4h0m20 2h0m-5 3h0m-4 5h0m-7 4h0m3 0h0m-1 8h0m4 7h0" stroke="#858687" stroke-width="5.2" stroke-linecap="round" fill="none" opacity="0.42"/>
<path d="M912.3 959.4V987.7M912.3 1017.1V1055.5" stroke="#e41a2c" stroke-width="1.7" fill="none"/>
<rect x="899.3" y="987.7" width="26" height="29.5" fill="none" stroke="#e41a2c" stroke-width="1.7"/>
<path d="M899.3 1001.3h26" stroke="#e41a2c" stroke-width="2.8" fill="none"/>
<path d="M944.4 951.4V999.4M944.4 1051.3V1092" stroke="#2878ba" stroke-width="1.7" fill="none"/>
<rect x="931.4" y="999.4" width="26" height="51.8" fill="none" stroke="#2878ba" stroke-width="1.7"/>
<path d="M931.4 1021.3h26" stroke="#2878ba" stroke-width="2.8" fill="none"/>
<path d="M976.4 951.4V992.6M976.4 1036.7V1092" stroke="#e0187c" stroke-width="1.7" fill="none"/>
<rect x="963.4" y="992.6" width="26" height="44.1" fill="none" stroke="#e0187c" stroke-width="1.7"/>
<path d="M963.4 1007.9h26" stroke="#e0187c" stroke-width="2.8" fill="none"/>
<path d="M1008.5 973.5V1003.2M1008.5 1059.5V1092" stroke="#b583b8" stroke-width="1.7" fill="none"/>
<rect x="995.5" y="1003.2" width="26" height="56.3" fill="none" stroke="#b583b8" stroke-width="1.7"/>
<path d="M995.5 1023.2h26" stroke="#b583b8" stroke-width="2.8" fill="none"/>
<path d="M1040.5 972.3V1018.5M1040.5 1060.2V1092" stroke="#6d6e70" stroke-width="1" fill="none"/>
<rect x="1027.5" y="1018.5" width="26" height="41.7" fill="none" stroke="#6d6e70" stroke-width="1.7"/>
<path d="M1027.5 1041.4h26" stroke="#6d6e70" stroke-width="2.8" fill="none"/>
<path d="M1086 991h0m1 3h0m9 14h0m-17 16h0m12 2h0m-7 8h0m-7 2h0m23 0h0m-10 1h0m-1 1h0m-10 1h0m9 2h0m1 0h0m-6 3h0m15 0h0m-13 1h0m3 0h0m3 0h0m-8 1h0m3 2h0m3 0h0m-10 3h0m9 1h0m8 0h0m-14 2h0m16 0h0m3 3h0m-19 1h0m16 0h0m-20 5h0m1 7h0m8 0h0m11 5h0m3 6h0m-19 1h0m19 1h0m-11 5h0" stroke="#ee7e62" stroke-width="5.2" stroke-linecap="round" fill="none" opacity="0.42"/>
<path d="M1082 1015h0m14 1h0m-4 8h0m6 0h0m-7 8h0m7 2h0m-21 1h0m7 3h0m11 2h0m1 0h0m-13 6h0m9 0h0m-7 3h0m0 1h0m4 1h0m9 2h0m-9 2h0m3 0h0m-7 1h0m8 0h0m4 0h0m-21 2h0m21 3h0m-8 2h0m10 4h0m-17 5h0m3 0h0m2 0h0m3 1h0m6 3h0m-6 2h0m7 1h0m-4 1h0m-14 2h0m3 5h0m17 0h0" stroke="#ee7e62" stroke-width="5.2" stroke-linecap="round" fill="none" opacity="0.42"/>
<path d="M1083 990h0m5 27h0m6 2h0m5 1h0m-18 3h0m10 0h0m-11 2h0m3 8h0m18 2h0m-1 4h0m-4 2h0m4 0h0m-17 1h0m6 0h0m10 1h0m-12 2h0m13 4h0m-23 1h0m13 0h0m1 2h0m-12 1h0m8 0h0m2 0h0m10 0h0m-15 1h0m3 1h0m-4 1h0m3 4h0m2 0h0m-8 2h0m1 1h0m5 9h0m13 1h0m-12 2h0m4 11h0m-6 1h0" stroke="#ee7e62" stroke-width="5.2" stroke-linecap="round" fill="none" opacity="0.42"/>
<path d="M1131 996h0m1 10h0m-17 1h0m12 0h0m-16 2h0m22 4h0m-14 3h0m3 3h0m0 3h0m-11 1h0m0 1h0m4 1h0m4 0h0m-5 1h0m13 0h0m-7 7h0m4 0h0m-11 1h0m2 0h0m1 0h0m2 1h0m-5 1h0m18 1h0m-3 1h0m-13 1h0m12 0h0m5 1h0m-9 4h0m1 0h0m-11 1h0m-2 2h0m21 0h0m-18 2h0m3 0h0m2 0h0m1 0h0m5 0h0m1 0h0m-14 1h0m19 0h0m-7 1h0m1 0h0m-8 1h0m-7 1h0m13 0h0m1 1h0m8 0h0m-21 1h0m15 0h0m-10 1h0m11 1h0m1 0h0m-15 1h0m8 1h0m11 0h0m-2 1h0m-7 1h0m5 0h0m4 0h0m-13 1h0m8 1h0m2 0h0m3 0h0m-7 2h0m4 1h0m1 0h0m1 0h0m-20 2h0m12 0h0m3 1h0m-9 4h0m3 0h0m1 1h0m-4 1h0m1 0h0m13 0h0m-22 1h0m0 1h0m15 0h0m-13 1h0m14 0h0m6 2h0m-8 1h0m5 1h0m-17 1h0m3 2h0m5 0h0m4 0h0m-9 1h0m15 0h0m-12 1h0m1 0h0m-9 1h0m7 0h0m2 0h0m-1 1h0m7 0h0m1 1h0m7 1h0" stroke="#4d86c6" stroke-width="5.2" stroke-linecap="round" fill="none" opacity="0.42"/>
<path d="M1117 1013h0m-3 10h0m-5 2h0m3 1h0m8 0h0m-1 2h0m-4 1h0m1 7h0m-6 3h0m19 0h0m3 0h0m-20 2h0m2 1h0m1 0h0m0 1h0m11 0h0m-13 1h0m12 0h0m-3 1h0m9 0h0m-20 1h0m-1 3h0m13 0h0m-5 1h0m6 0h0m-9 1h0m1 1h0m10 0h0m1 0h0m1 0h0m-16 1h0m7 0h0m9 0h0m-10 1h0m4 0h0m3 0h0m-13 3h0m18 0h0m3 0h0m-2 1h0m-10 1h0m-9 1h0m16 0h0m-5 1h0m-14 1h0m4 0h0m13 0h0m-17 1h0m2 0h0m15 0h0m-6 1h0m5 2h0m-13 1h0m18 0h0m3 0h0m-11 1h0m4 0h0m-8 1h0m6 0h0m1 1h0m3 0h0m-2 3h0m-3 1h0m1 1h0m-7 1h0m13 0h0m-12 1h0m-6 1h0m4 0h0m13 0h0m-7 1h0m-12 1h0m10 0h0m-10 1h0m2 0h0m9 0h0m8 1h0m-15 1h0m13 0h0m2 0h0m-18 1h0m6 0h0m2 0h0m4 0h0m6 0h0m-17 1h0m10 0h0m-13 1h0m5 2h0m6 0h0m3 0h0m6 0h0m1 0h0m2 0h0m-3 2h0m-10 1h0" stroke="#4d86c6" stroke-width="5.2" stroke-linecap="round" fill="none" opacity="0.42"/>
<path d="M1125 1007h0m7 0h0m-17 8h0m-5 2h0m3 3h0m-2 2h0m13 1h0m3 1h0m3 0h0m-7 1h0m4 0h0m-6 1h0m-9 5h0m-2 1h0m17 3h0m3 1h0m-5 3h0m7 1h0m-10 2h0m-1 1h0m4 0h0m5 0h0m-15 1h0m6 1h0m-11 1h0m3 2h0m5 0h0m14 0h0m-23 1h0m6 0h0m14 0h0m-16 1h0m11 0h0m-5 2h0m6 0h0m4 0h0m2 0h0m2 0h0m-8 1h0m7 0h0m-21 2h0m15 0h0m-12 1h0m12 0h0m-15 1h0m7 0h0m3 0h0m11 0h0m0 2h0m-23 2h0m7 0h0m4 0h0m8 0h0m-7 1h0m8 0h0m-9 1h0m-10 1h0m14 0h0m8 1h0m-13 1h0m6 0h0m-5 1h0m12 0h0m-14 1h0m5 2h0m-8 1h0m-5 1h0m8 1h0m8 0h0m-13 1h0m21 2h0m-10 1h0m7 0h0m-6 1h0m-1 1h0m7 0h0m-15 1h0m3 1h0m8 0h0m-9 1h0m14 1h0m-19 1h0m5 1h0m-9 1h0m8 0h0m1 0h0m-8 1h0m5 0h0m6 0h0m4 1h0m2 0h0m-8 1h0m0 1h0m5 0h0m4 0h0" stroke="#4d86c6" stroke-width="5.2" stroke-linecap="round" fill="none" opacity="0.42"/>
<path d="M1146 1005h0m16 9h0m-14 3h0m3 3h0m5 2h0m-14 2h0m20 0h0m-1 3h0m4 0h0m-22 1h0m2 1h0m11 0h0m-4 1h0m8 2h0m-18 1h0m4 0h0m4 1h0m10 2h0m-10 2h0m8 0h0m-14 2h0m4 2h0m12 0h0m-13 1h0m18 0h0m-2 1h0m-13 1h0m-7 2h0m-1 1h0m10 3h0m-11 1h0m6 1h0m9 1h0m-5 1h0m9 0h0m-19 1h0m10 3h0m5 0h0m-4 1h0m-8 1h0m10 0h0m3 0h0m5 0h0m-21 2h0m24 2h0m-24 1h0m5 0h0m6 0h0m3 0h0m-3 1h0m13 0h0m-16 2h0m13 0h0m-19 1h0m7 1h0m15 0h0m-21 2h0m2 0h0m10 0h0m-3 2h0m-5 1h0m10 0h0m-12 1h0m2 1h0m-3 3h0m20 1h0m-23 2h0m11 0h0m11 0h0m-9 2h0m-10 3h0m-1 2h0m14 0h0" stroke="#ea5f8c" stroke-width="5.2" stroke-linecap="round" fill="none" opacity="0.42"/>
<path d="M1150 1000h0m7 2h0m2 6h0m-17 13h0m4 3h0m16 1h0m-7 1h0m5 0h0m-16 2h0m14 2h0m-4 5h0m1 1h0m6 1h0m-8 1h0m-7 1h0m16 1h0m0 1h0m0 1h0m-3 1h0m-8 1h0m-4 1h0m-2 2h0m8 0h0m5 1h0m1 1h0m5 0h0m-6 1h0m0 2h0m-15 4h0m10 0h0m-6 1h0m13 0h0m1 0h0m4 2h0m-24 3h0m8 0h0m10 0h0m-3 1h0m-3 2h0m7 0h0m-10 1h0m5 0h0m5 0h0m-12 1h0m-7 1h0m6 0h0m15 0h0m-20 1h0m2 0h0m15 0h0m-18 1h0m7 2h0m4 0h0m6 0h0m5 0h0m-6 1h0m-16 1h0m8 0h0m9 0h0m-12 1h0m10 0h0m2 0h0m-9 3h0m-2 1h0m4 0h0m10 0h0m-20 1h0m6 1h0m1 2h0m-2 1h0m1 1h0m-2 6h0" stroke="#ea5f8c" stroke-width="5.2" stroke-linecap="round" fill="none" opacity="0.42"/>
<path d="M1143 1001h0m17 3h0m0 8h0m-5 7h0m6 4h0m-11 4h0m1 0h0m10 0h0m-11 2h0m0 1h0m5 1h0m-8 3h0m2 0h0m7 0h0m-2 1h0m4 0h0m-15 1h0m12 1h0m-10 1h0m7 0h0m5 2h0m-11 1h0m9 1h0m10 2h0m-5 1h0m-1 1h0m6 0h0m-18 1h0m-5 1h0m23 0h0m-6 2h0m-4 2h0m-3 4h0m-1 1h0m5 0h0m4 1h0m-7 1h0m10 1h0m-1 1h0m-13 1h0m-3 1h0m3 0h0m-3 1h0m8 0h0m1 1h0m-13 1h0m11 1h0m10 0h0m-20 1h0m1 1h0m16 0h0m-17 1h0m22 0h0m-24 1h0m21 0h0m2 1h0m-5 1h0m-1 2h0m-3 1h0m4 0h0m-14 1h0m12 0h0m2 0h0m-4 2h0m-13 1h0m-1 1h0m3 1h0m14 1h0m4 1h0m-21 2h0m1 1h0m4 0h0m17 0h0" stroke="#ea5f8c" stroke-width="5.2" stroke-linecap="round" fill="none" opacity="0.42"/>
<path d="M1193 1033h0m-3 9h0m5 13h0m-2 5h0m-1 8h0m-7 7h0m1 1h0m-10 5h0m15 0h0m3 1h0m-13 1h0m2 0h0m10 1h0m-15 4h0m17 0h0m-7 1h0m8 1h0" stroke="#c3a0cc" stroke-width="5.2" stroke-linecap="round" fill="none" opacity="0.42"/>
<path d="M1177 1035h0m19 5h0m-15 4h0m3 1h0m-10 15h0m12 3h0m-6 1h0m17 2h0m-6 2h0m-16 6h0m19 7h0m-1 2h0m1 1h0m-6 2h0m-11 3h0m-4 1h0m17 1h0" stroke="#c3a0cc" stroke-width="5.2" stroke-linecap="round" fill="none" opacity="0.42"/>
<path d="M1179 1033h0m10 0h0m-6 2h0m-2 6h0m1 0h0m3 7h0m11 3h0m-15 14h0m-1 6h0m6 0h0m9 3h0m-1 9h0m0 2h0m-14 1h0m14 1h0m-11 1h0" stroke="#c3a0cc" stroke-width="5.2" stroke-linecap="round" fill="none" opacity="0.42"/>
<path d="M1227 1035h0m0 19h0m-21 4h0m10 9h0m12 5h0m-4 13h0m-16 1h0m-1 2h0m17 3h0m5 0h0m-23 1h0m9 0h0m7 0h0m3 0h0" stroke="#858687" stroke-width="5.2" stroke-linecap="round" fill="none" opacity="0.42"/>
<path d="M1216 1050h0m3 13h0m1 4h0m4 19h0m-12 1h0m12 4h0m-18 1h0m5 0h0m5 0h0m3 0h0m1 0h0m8 0h0" stroke="#858687" stroke-width="5.2" stroke-linecap="round" fill="none" opacity="0.42"/>
<path d="M1210 1050h0m14 18h0m-3 1h0m5 0h0m-1 7h0m-13 11h0m2 1h0m-3 3h0m10 0h0m-15 1h0m1 0h0m9 0h0m2 0h0m4 0h0" stroke="#858687" stroke-width="5.2" stroke-linecap="round" fill="none" opacity="0.42"/>
<path d="M1088.8 994.3V1038.5M1088.8 1071.5V1092" stroke="#e41a2c" stroke-width="1.7" fill="none"/>
<rect x="1075.8" y="1038.5" width="26" height="33" fill="none" stroke="#e41a2c" stroke-width="1.7"/>
<path d="M1075.8 1053.2h26" stroke="#e41a2c" stroke-width="2.8" fill="none"/>
<path d="M1121.1 996.1V1049.2M1121.1 1092V1092" stroke="#2878ba" stroke-width="1.7" fill="none"/>
<rect x="1108.1" y="1049.2" width="26" height="42.9" fill="none" stroke="#2878ba" stroke-width="1.7"/>
<path d="M1108.1 1067.8h26" stroke="#2878ba" stroke-width="2.8" fill="none"/>
<path d="M1152.9 996.1V1040.7M1152.9 1075.1V1092" stroke="#e0187c" stroke-width="1.7" fill="none"/>
<rect x="1139.9" y="1040.7" width="26" height="34.4" fill="none" stroke="#e0187c" stroke-width="1.7"/>
<path d="M1139.9 1060.7h26" stroke="#e0187c" stroke-width="2.8" fill="none"/>
<path d="M1185.2 1026.1V1059.5M1185.2 1092V1092" stroke="#b583b8" stroke-width="1.7" fill="none"/>
<rect x="1172.2" y="1059.5" width="26" height="32.5" fill="none" stroke="#b583b8" stroke-width="1.7"/>
<path d="M1172.2 1080.3h26" stroke="#b583b8" stroke-width="2.8" fill="none"/>
<path d="M1217.2 1039V1069.7M1217.2 1092V1092" stroke="#6d6e70" stroke-width="1" fill="none"/>
<rect x="1204.2" y="1069.7" width="26" height="22.4" fill="none" stroke="#6d6e70" stroke-width="1.7"/>
<path d="M1204.2 1091.3h26" stroke="#6d6e70" stroke-width="2.8" fill="none"/>
<path d="M912.3 1092h0m176.5 -135h0m0 32.5h0" stroke="#e41a2c" stroke-width="1.8" stroke-linecap="round" fill="none"/>
<path d="M1098.7 957h0m2.4 32.5h0m-176.8 -30.6h0" stroke="#ee7e62" stroke-width="5.2" stroke-linecap="round" fill="none" opacity="0.6"/>
<path d="M959.9 923.1V1099.8" stroke="#231f20" stroke-width="1.8" stroke-dasharray="4.5 3.5" fill="none"/>
<path d="M1136.6 923.1V1099.8" stroke="#666" stroke-width="1.2" stroke-dasharray="4.5 3.5" fill="none"/>
<path d="M893.2 923.1V1099.8H1059.8" stroke="#333" stroke-width="1.6" fill="none"/>
<text x="871.5" y="1100.2" text-anchor="end">0</text>
<text x="871.5" y="1052.5" text-anchor="end">1</text>
<text x="871.5" y="1004.7" text-anchor="end">2</text>
<text x="871.5" y="957" text-anchor="end">3</text>
<path d="M884.2 1092h9M884.2 1044.3h9M884.2 996.5h9M884.2 948.8h9M912.3 1099.8v9.5M944.4 1099.8v9.5M976.4 1099.8v9.5M1008.5 1099.8v9.5M1040.5 1099.8v9.5" stroke="#333" stroke-width="1.6" fill="none"/>
<path d="M1069.2 923.1V1099.8H1236.5" stroke="#333" stroke-width="1.6" fill="none"/>
<path d="M1088.8 1099.8v9.5M1121.1 1099.8v9.5M1152.9 1099.8v9.5M1185.2 1099.8v9.5M1217.2 1099.8v9.5" stroke="#333" stroke-width="1.6" fill="none"/>
<path d="M914.2 944.3L944.8 944.3" stroke="#231f20" stroke-width="2.8"/>
<text x="929.5" y="945.7" text-anchor="middle" fill="#111" font-size="27" textLength="29.1" lengthAdjust="spacingAndGlyphs">***</text>
<path d="M979.2 939.3L1041.7 939.3" stroke="#231f20" stroke-width="2.6"/>
<text x="1009.6" y="944.5" text-anchor="middle" fill="#111" font-size="27" textLength="38.8" lengthAdjust="spacingAndGlyphs">****</text>
<path d="M981.4 955.6L1010.8 955.6" stroke="#231f20" stroke-width="2.6"/>
<text x="996.7" y="962.2" text-anchor="middle" fill="#111" font-size="27" textLength="38.8" lengthAdjust="spacingAndGlyphs">****</text>
<path d="M1094 939.6L1123.4 939.6" stroke="#231f20" stroke-width="2.2"/>
<text x="1108.6" y="944.5" text-anchor="middle" fill="#111" font-size="27" textLength="38.8" lengthAdjust="spacingAndGlyphs">****</text>
<path d="M1158.8 938.2L1220.8 938.2" stroke="#231f20" stroke-width="2.2"/>
<text x="1193.4" y="944" text-anchor="middle" fill="#111" font-size="27" textLength="38.8" lengthAdjust="spacingAndGlyphs">****</text>
<path d="M1160.4 955.4L1189.4 955.4" stroke="#231f20" stroke-width="2.2"/>
<text x="1175.3" y="961" text-anchor="middle" fill="#111" font-size="27" textLength="38.8" lengthAdjust="spacingAndGlyphs">****</text>
<text text-anchor="middle" font-style="italic" transform="translate(807.7 1013.1) rotate(-90)" textLength="104.9" lengthAdjust="spacingAndGlyphs">HLA-DQB1</text>
<text text-anchor="middle" transform="translate(833.1 1011.9) rotate(-90)" textLength="138.2" lengthAdjust="spacingAndGlyphs">log(CP10K +1)</text>
<text text-anchor="end" transform="translate(920.1 1121.5) rotate(-90)" textLength="67.6" lengthAdjust="spacingAndGlyphs">Control</text>
<text text-anchor="end" transform="translate(952.2 1121.5) rotate(-90)" textLength="75.5" lengthAdjust="spacingAndGlyphs">CRISPR</text>
<text text-anchor="end" transform="translate(984.2 1121.5) rotate(-90)" textLength="52.5" lengthAdjust="spacingAndGlyphs">Small</text>
<text text-anchor="end" transform="translate(1016.3 1121.5) rotate(-90)" textLength="74.6" lengthAdjust="spacingAndGlyphs">Medium</text>
<text text-anchor="end" transform="translate(1048.3 1121.5) rotate(-90)" textLength="53.7" lengthAdjust="spacingAndGlyphs">Large</text>
<text text-anchor="end" transform="translate(1096.6 1121.5) rotate(-90)" textLength="67.6" lengthAdjust="spacingAndGlyphs">Control</text>
<text text-anchor="end" transform="translate(1128.9 1121.5) rotate(-90)" textLength="75.5" lengthAdjust="spacingAndGlyphs">CRISPR</text>
<text text-anchor="end" transform="translate(1160.7 1121.5) rotate(-90)" textLength="52.5" lengthAdjust="spacingAndGlyphs">Small</text>
<text text-anchor="end" transform="translate(1193 1121.5) rotate(-90)" textLength="74.6" lengthAdjust="spacingAndGlyphs">Medium</text>
<text text-anchor="end" transform="translate(1225 1121.5) rotate(-90)" textLength="53.7" lengthAdjust="spacingAndGlyphs">Large</text>
<text transform="translate(0.5 1304) scale(1.1 1)" font-weight="bold" fill="#1a1a1a" font-size="32">d</text>
<text x="156.9" y="1310.8" font-size="20.6" textLength="421.2" lengthAdjust="spacingAndGlyphs">Single-cell modelling of CRISPR deletion size</text>
<path d="M78.3 1537.7V1526.1h1V1525.4h1V1525.4h1V1524.2h1V1527.4h1V1531h1V1527.2h1V1527.7h1V1528.8h1V1528.2h1V1527.7h1V1528.8h1V1526h1V1526.7h1V1529.2h1V1529.8h1V1524.7h1V1523.9h1V1527.9h1V1523.3h1V1527h1V1527.6h1V1526.5h1V1524.6h1V1525.9h1V1528.7h1V1525.9h1V1528.2h1V1523.1h1V1524.8h1V1519.5h1V1519.3h1V1522.1h1V1518.8h1V1523.5h1V1525.2h1V1522.9h1V1527.6h1V1527.4h1V1524.7h1V1523.7h1V1526.1h1V1527.4h1V1522.4h1V1526.1h1V1522.9h1V1522.9h1V1525.7h1V1523.8h1V1537.7Z" fill="#c5c7c8" opacity="0.7"/>
<path d="M78.3 1537.7V1522.4h1V1522.3h1V1522.1h1V1521.7h1V1523.5h1V1524.6h1V1524.8h1V1526.3h1V1526.1h1V1525.9h1V1525.7h1V1520.5h1V1523.1h1V1522.3h1V1526.7h1V1524.1h1V1521.3h1V1524.6h1V1519.8h1V1518.8h1V1524.4h1V1519.7h1V1520.3h1V1520h1V1524.2h1V1520.3h1V1520.3h1V1523.7h1V1521.9h1V1516.4h1V1511.9h1V1518.2h1V1516h1V1515.1h1V1517.1h1V1516.8h1V1519h1V1520.3h1V1520.1h1V1519.9h1V1519.6h1V1516.1h1V1522.4h1V1518.6h1V1518h1V1521.6h1V1521.8h1V1517.5h1V1519.6h1V1537.7Z" fill="#c5c7c8" opacity="0.5"/>
<path d="M78.3 1537.7V1520.6h1V1519.3h1V1516.5h1V1520.7h1V1521.4h1V1524.2h1V1518.7h1V1523h1V1521.8h1V1523.1h1V1522.1h1V1517.6h1V1515.9h1V1518.5h1V1522.3h1V1522.3h1V1516.8h1V1519.6h1V1512.6h1V1511.1h1V1519.8h1V1517.5h1V1512h1V1514.9h1V1516.7h1V1518.1h1V1520.2h1V1517.5h1V1510.2h1V1514.3h1V1511h1V1510.8h1V1510h1V1510.5h1V1504h1V1513.2h1V1517h1V1509.5h1V1512.2h1V1507.7h1V1513.8h1V1507.6h1V1509.3h1V1516.4h1V1511.9h1V1512.1h1V1513.1h1V1514h1V1513.9h1V1537.7Z" fill="#c5c7c8" opacity="0.32"/>
<path d="M101 1493h0m7 4h0m-26 1h0m40 4h0m1 1h0m-29 1h0m7 0h0m-18 1h0m28 0h0m-20 1h0m26 0h0m-7 1h0m-24 1h0m6 0h0m30 0h0m2 1h0m-13 1h0m8 0h0m-36 1h0m16 0h0m2 0h0m9 0h0m9 0h0m3 0h0m-9 1h0m1 1h0m-34 1h0m33 0h0m3 0h0m8 0h0m-24 1h0m2 0h0m11 0h0m12 0h0m-10 1h0m-28 1h0m1 0h0m8 0h0m6 0h0m4 0h0m9 0h0m2 0h0m-27 1h0m2 0h0m4 0h0m4 0h0m10 0h0m7 0h0m-29 1h0m1 0h0m15 0h0m7 0h0m-31 1h0m4 0h0m1 0h0m7 0h0m5 0h0m14 0h0m-27 1h0m25 0h0" stroke="#c5c7c8" stroke-width="3.2" stroke-linecap="round" fill="none" opacity="0.45"/>
<path d="M119 1494h0m-26 1h0m-2 6h0m25 1h0m5 0h0m-39 2h0m3 1h0m21 0h0m-13 1h0m31 0h0m-37 1h0m5 0h0m26 0h0m-22 1h0m5 0h0m-14 1h0m6 0h0m18 0h0m11 0h0m-34 1h0m-8 1h0m19 0h0m-14 1h0m19 0h0m3 0h0m14 0h0m-22 1h0m17 0h0m-32 1h0m10 0h0m8 0h0m-13 1h0m5 0h0m5 0h0m-14 1h0m14 0h0m14 0h0m-30 1h0m11 0h0m2 0h0m9 0h0m8 0h0m1 0h0m7 0h0m-36 1h0m6 0h0m15 0h0m-18 1h0m2 0h0m14 0h0m-13 1h0m23 0h0m1 0h0m5 0h0m3 0h0m-41 1h0m20 0h0m5 0h0m8 0h0m6 0h0m4 0h0" stroke="#c5c7c8" stroke-width="3.2" stroke-linecap="round" fill="none" opacity="0.45"/>
<path d="M127.6 1537.7V1528h1V1527.1h1V1525.9h1V1525.5h1V1526.1h1V1529.3h1V1527.7h1V1528.3h1V1527.7h1V1526.1h1V1527.6h1V1528.4h1V1524.2h1V1529.3h1V1526.1h1V1524.8h1V1524.1h1V1526.9h1V1525.5h1V1525.5h1V1525.9h1V1525.5h1V1528.4h1V1529.3h1V1525.9h1V1527.5h1V1526.1h1V1525.9h1V1530.1h1V1527.1h1V1526.2h1V1528.6h1V1528.4h1V1529.5h1V1529.8h1V1528.9h1V1531.3h1V1529.9h1V1529.2h1V1529h1V1529.1h1V1526.1h1V1528h1V1531.4h1V1529.2h1V1529.8h1V1531h1V1529.1h1V1530.5h1V1531.6h1V1537.7Z" fill="#67696b" opacity="0.8"/>
<path d="M127.6 1537.7V1523.2h1V1521.9h1V1524h1V1520h1V1520.7h1V1525.4h1V1520.7h1V1521.5h1V1521.4h1V1520.4h1V1519.5h1V1523.7h1V1518.7h1V1520h1V1521.3h1V1522.6h1V1520.2h1V1521.6h1V1523.3h1V1523.8h1V1524.4h1V1525.1h1V1527.1h1V1524.5h1V1522.2h1V1522.8h1V1522.3h1V1521.7h1V1524.7h1V1524.4h1V1521h1V1525.2h1V1526.2h1V1524.1h1V1523.5h1V1525.9h1V1526.7h1V1526.5h1V1526h1V1526.4h1V1528h1V1525.6h1V1524.7h1V1528.5h1V1527.2h1V1528.3h1V1527h1V1526.2h1V1526.5h1V1528.4h1V1537.7Z" fill="#67696b" opacity="0.5"/>
<path d="M127.6 1537.7V1522.8h1V1523h1V1521.3h1V1517.7h1V1520.9h1V1522.9h1V1518.7h1V1518.2h1V1517.9h1V1520.9h1V1516.9h1V1519.2h1V1520h1V1514.1h1V1521.2h1V1521h1V1517.2h1V1519.6h1V1514.6h1V1517.4h1V1520.4h1V1522.7h1V1520.4h1V1522.2h1V1516.7h1V1519h1V1513.5h1V1519.7h1V1521.4h1V1522h1V1515.3h1V1519.9h1V1521.9h1V1525h1V1519.4h1V1518.5h1V1522.1h1V1526.3h1V1525.9h1V1524.1h1V1524.4h1V1523.4h1V1525.3h1V1523h1V1521.6h1V1525.6h1V1519h1V1520.8h1V1520.8h1V1521.5h1V1537.7Z" fill="#67696b" opacity="0.32"/>
<path d="M142 1470h0m33 19h0m-23 6h0m-19 1h0m-3 1h0m7 1h0m21 0h0m9 0h0m-34 2h0m30 2h0m9 0h0m3 1h0m-20 3h0m2 0h0m-17 1h0m8 0h0m5 1h0m22 0h0m-45 2h0m17 0h0m2 0h0m-16 1h0m12 0h0m-14 1h0m39 0h0m-11 1h0m7 0h0m-37 1h0m4 0h0m1 0h0m12 0h0m6 0h0m-15 1h0m11 0h0m3 0h0m3 0h0m17 0h0m-26 1h0m13 0h0m13 0h0m3 0h0m-35 1h0m-6 1h0m4 0h0m15 0h0m5 0h0m-26 1h0m5 0h0m1 0h0m8 0h0m10 0h0m10 0h0m2 0h0m5 0h0m-40 1h0m11 0h0m4 0h0m4 0h0m12 0h0m-27 1h0m12 0h0m1 0h0m25 0h0" stroke="#67696b" stroke-width="3.2" stroke-linecap="round" fill="none" opacity="0.42"/>
<path d="M159 1493h0m-25 1h0m37 2h0m-34 2h0m26 0h0m-17 1h0m0 4h0m4 0h0m-8 2h0m26 0h0m-34 1h0m21 0h0m-17 1h0m5 0h0m5 1h0m3 0h0m-9 1h0m20 0h0m2 0h0m6 0h0m-38 1h0m25 0h0m6 0h0m-30 1h0m39 0h0m-26 1h0m11 0h0m-9 1h0m25 0h0m-37 2h0m2 0h0m-4 1h0m20 0h0m6 0h0m5 0h0m2 0h0m8 0h0m-9 1h0m-35 1h0m9 0h0m6 0h0m2 0h0m5 0h0m4 0h0m4 0h0m1 0h0m7 0h0m-38 1h0m16 0h0m14 0h0m7 0h0m1 0h0m2 0h0m3 0h0m-43 1h0m13 0h0m15 0h0m6 0h0m-30 1h0m2 0h0m18 0h0m1 0h0m3 0h0" stroke="#67696b" stroke-width="3.2" stroke-linecap="round" fill="none" opacity="0.42"/>
<path d="M177.8 1537.7V1527.6h1V1528.7h1V1523.3h1V1525.5h1V1525.9h1V1522.3h1V1522.9h1V1528.7h1V1524.9h1V1525.3h1V1527.5h1V1529.7h1V1529.4h1V1528.5h1V1530.9h1V1530.7h1V1529.7h1V1529.4h1V1527.3h1V1526.5h1V1530.7h1V1528.9h1V1527.1h1V1527.9h1V1528h1V1531.1h1V1530.5h1V1528.6h1V1530.2h1V1527.8h1V1530.5h1V1530.5h1V1530.1h1V1526.7h1V1525.9h1V1526.4h1V1537.7Z" fill="#c5c7c8" opacity="0.7"/>
<path d="M177.8 1537.7V1520.7h1V1521.3h1V1519.8h1V1517h1V1515.7h1V1520.8h1V1519.1h1V1518.9h1V1520.7h1V1522.5h1V1519.8h1V1521.9h1V1526.8h1V1528h1V1528.1h1V1527.7h1V1521.6h1V1523.9h1V1519.7h1V1526.2h1V1527.6h1V1521.1h1V1523.8h1V1524.2h1V1525.6h1V1526.9h1V1525.7h1V1528.7h1V1526.9h1V1525.1h1V1528h1V1524.1h1V1526.9h1V1523.7h1V1523.6h1V1523.2h1V1537.7Z" fill="#c5c7c8" opacity="0.5"/>
<path d="M177.8 1537.7V1516.7h1V1515.9h1V1509.2h1V1506.3h1V1508.5h1V1509.5h1V1516.4h1V1512.5h1V1520.1h1V1518.8h1V1517.9h1V1517.9h1V1522.6h1V1523h1V1525h1V1519.1h1V1520.4h1V1519.4h1V1516.9h1V1517.6h1V1518.4h1V1518.5h1V1521.9h1V1522.2h1V1525.7h1V1524.3h1V1521.5h1V1522.3h1V1526.4h1V1518.5h1V1523.9h1V1517.2h1V1523.5h1V1521.7h1V1518.1h1V1514.3h1V1537.7Z" fill="#c5c7c8" opacity="0.32"/>
<path d="M204 1483h0m-2 5h0m-19 9h0m12 8h0m4 1h0m8 0h0m5 1h0m-4 1h0m2 1h0m2 0h0m-13 1h0m-16 1h0m3 0h0m18 0h0m4 1h0m-8 1h0m1 0h0m-14 1h0m-1 1h0m2 0h0m22 0h0m-25 1h0m8 0h0m3 0h0m12 0h0m1 0h0m-30 1h0m13 0h0m16 0h0m-16 1h0m1 0h0m3 0h0m13 0h0m-28 1h0m1 0h0m3 0h0m6 0h0m1 0h0m2 0h0m8 0h0m6 0h0m1 0h0m-22 1h0m3 0h0m7 0h0m7 0h0m7 1h0" stroke="#c5c7c8" stroke-width="3.2" stroke-linecap="round" fill="none" opacity="0.45"/>
<path d="M201 1486h0m-9 14h0m2 0h0m13 2h0m-15 1h0m5 0h0m7 1h0m-23 2h0m4 0h0m13 3h0m-8 1h0m1 0h0m-5 1h0m13 1h0m-15 1h0m7 0h0m-7 1h0m3 0h0m20 0h0m2 0h0m-16 1h0m5 0h0m6 0h0m4 0h0m-27 1h0m1 0h0m7 0h0m19 0h0m-17 1h0m4 0h0m2 0h0m-18 1h0m1 0h0m3 0h0m2 0h0m24 0h0m4 0h0m-6 1h0m-27 1h0m7 0h0m7 0h0m3 0h0m4 0h0m-22 1h0m17 0h0" stroke="#c5c7c8" stroke-width="3.2" stroke-linecap="round" fill="none" opacity="0.45"/>
<path d="M214.5 1537.7V1523.9h1V1523.4h1V1528.9h1V1525.7h1V1526.2h1V1528h1V1527.9h1V1526h1V1529.8h1V1528.5h1V1530.5h1V1529.6h1V1531h1V1530.2h1V1530.6h1V1528.9h1V1529.3h1V1530.2h1V1529.4h1V1528.9h1V1525.9h1V1528.5h1V1527.4h1V1528.8h1V1530.3h1V1531.8h1V1530h1V1529.5h1V1529.7h1V1527.4h1V1528.7h1V1527.9h1V1526.4h1V1528.2h1V1529.3h1V1530.7h1V1529.6h1V1529.3h1V1526.8h1V1528.9h1V1537.7Z" fill="#67696b" opacity="0.8"/>
<path d="M214.5 1537.7V1522.3h1V1517.4h1V1521h1V1522.2h1V1521.7h1V1524h1V1523.3h1V1523.2h1V1525.1h1V1527.5h1V1527.3h1V1526.5h1V1525.5h1V1528.5h1V1529h1V1528.7h1V1525.9h1V1527.5h1V1527h1V1522.4h1V1522.4h1V1524.2h1V1522.3h1V1527.8h1V1527.5h1V1526.2h1V1526.5h1V1528.7h1V1524.5h1V1525.5h1V1522.7h1V1527.9h1V1522.3h1V1525.9h1V1523.6h1V1525.3h1V1525.8h1V1527.7h1V1526h1V1523.5h1V1537.7Z" fill="#67696b" opacity="0.5"/>
<path d="M214.5 1537.7V1511.8h1V1516.9h1V1520.1h1V1518.3h1V1521.9h1V1518.8h1V1518.8h1V1519.7h1V1521.3h1V1523.8h1V1525.1h1V1526.6h1V1524.8h1V1525.6h1V1523.5h1V1525.2h1V1522.4h1V1523.3h1V1522.7h1V1519.3h1V1518.5h1V1519.1h1V1520.6h1V1524.8h1V1521.6h1V1523.9h1V1523.8h1V1521h1V1520.1h1V1519.9h1V1521.6h1V1525.1h1V1516.1h1V1524h1V1522.2h1V1517.9h1V1525.4h1V1523.9h1V1520.9h1V1520.9h1V1537.7Z" fill="#67696b" opacity="0.32"/>
<path d="M224 1497h0m1 1h0m19 0h0m-13 1h0m1 2h0m18 0h0m-4 1h0m-17 1h0m8 0h0m-5 3h0m3 3h0m-9 1h0m11 0h0m-2 2h0m8 0h0m1 0h0m-27 1h0m34 0h0m-12 1h0m-7 1h0m1 0h0m15 0h0m-30 1h0m27 0h0m-29 1h0m13 0h0m6 0h0m-11 1h0m3 0h0m3 0h0m11 0h0m10 0h0m-32 1h0m1 0h0m3 0h0m5 0h0m5 0h0m6 0h0m14 0h0m-31 1h0m6 0h0m17 0h0m1 0h0m2 0h0m1 0h0m3 0h0m-11 1h0m1 0h0m1 0h0" stroke="#67696b" stroke-width="3.2" stroke-linecap="round" fill="none" opacity="0.42"/>
<path d="M226 1489h0m-10 4h0m18 1h0m-2 5h0m-9 1h0m-3 1h0m6 0h0m2 0h0m22 3h0m-32 2h0m11 3h0m7 0h0m17 1h0m-15 2h0m5 0h0m-24 1h0m-3 1h0m4 0h0m11 0h0m3 0h0m3 0h0m-12 1h0m20 0h0m-25 1h0m10 0h0m13 0h0m-14 1h0m4 0h0m-1 1h0m1 0h0m11 0h0m3 0h0m1 0h0m-26 1h0m2 0h0m5 0h0m2 0h0m20 0h0m-27 1h0m4 0h0m11 0h0m9 0h0m2 0h0m2 0h0m-27 1h0m9 0h0m18 0h0" stroke="#67696b" stroke-width="3.2" stroke-linecap="round" fill="none" opacity="0.42"/>
<path d="M255.3 1537.7V1528h1V1527.2h1V1526.3h1V1528.6h1V1526.6h1V1522.9h1V1521.8h1V1526.7h1V1525.9h1V1527.6h1V1523.8h1V1525.2h1V1523.7h1V1521h1V1524.8h1V1520.5h1V1520h1V1521.3h1V1523.8h1V1525.4h1V1527h1V1521.4h1V1525.1h1V1524.8h1V1525.6h1V1525.8h1V1527h1V1528.4h1V1526.3h1V1524.6h1V1528h1V1528.6h1V1523.1h1V1537.7Z" fill="#c5c7c8" opacity="0.7"/>
<path d="M255.3 1537.7V1523.5h1V1524h1V1523.3h1V1518.2h1V1519.8h1V1519.2h1V1521.9h1V1520.7h1V1521h1V1521.3h1V1517.7h1V1518.4h1V1518.3h1V1514.3h1V1514.8h1V1514.6h1V1515.7h1V1517.5h1V1515.8h1V1515.2h1V1521.8h1V1516h1V1520.6h1V1515.9h1V1523.5h1V1522.2h1V1521.4h1V1522.2h1V1524.9h1V1522.6h1V1524.6h1V1521.2h1V1519.9h1V1537.7Z" fill="#c5c7c8" opacity="0.5"/>
<path d="M255.3 1537.7V1524.3h1V1522.8h1V1520.8h1V1512.1h1V1514.3h1V1510.1h1V1515.7h1V1512.8h1V1514.1h1V1513.6h1V1520.1h1V1514.6h1V1512.3h1V1514.5h1V1505.6h1V1511.2h1V1511.5h1V1510.4h1V1508.2h1V1511.9h1V1511h1V1512.1h1V1515.3h1V1517.2h1V1515.2h1V1518.7h1V1515.8h1V1520.3h1V1522.8h1V1520.4h1V1520.8h1V1520.3h1V1511.9h1V1537.7Z" fill="#c5c7c8" opacity="0.32"/>
<path d="M268 1481h0m15 12h0m-5 5h0m-9 4h0m-8 1h0m18 0h0m-22 2h0m17 1h0m2 0h0m-17 1h0m9 0h0m-3 2h0m16 0h0m-23 2h0m9 0h0m12 1h0m4 0h0m-17 1h0m-2 1h0m2 0h0m16 0h0m3 0h0m-27 1h0m4 0h0m2 0h0m1 0h0m3 0h0m11 1h0m-13 1h0m7 0h0m-4 1h0m-6 1h0m3 0h0m13 0h0m4 0h0m-18 1h0m15 0h0m1 0h0m1 0h0m-18 1h0m15 0h0" stroke="#c5c7c8" stroke-width="3.2" stroke-linecap="round" fill="none" opacity="0.45"/>
<path d="M256 1480h0m4 6h0m23 2h0m-2 10h0m1 1h0m-6 2h0m6 5h0m-15 1h0m-7 1h0m2 0h0m13 0h0m-7 1h0m11 0h0m-3 1h0m9 0h0m-3 1h0m-8 1h0m-14 1h0m26 0h0m-19 1h0m3 0h0m1 0h0m4 0h0m6 0h0m2 0h0m-4 1h0m-3 1h0m7 0h0m-14 1h0m3 0h0m3 0h0m1 2h0m2 0h0m1 0h0m4 0h0m4 0h0m-25 1h0m7 0h0m17 0h0m-12 1h0m2 0h0m10 0h0" stroke="#c5c7c8" stroke-width="3.2" stroke-linecap="round" fill="none" opacity="0.45"/>
<path d="M288.6 1537.7V1522.8h1V1521.6h1V1522.9h1V1523.6h1V1521.9h1V1524h1V1526.4h1V1526.4h1V1528.4h1V1528.6h1V1526.8h1V1526.6h1V1528.5h1V1525.9h1V1528.2h1V1526h1V1525.3h1V1529.5h1V1527.8h1V1526.9h1V1530.4h1V1529.8h1V1528.6h1V1526.8h1V1526.7h1V1527.4h1V1526.9h1V1530.5h1V1531h1V1529.9h1V1529.3h1V1531.6h1V1527.6h1V1537.7Z" fill="#67696b" opacity="0.8"/>
<path d="M288.6 1537.7V1522.8h1V1514.6h1V1521.3h1V1515.7h1V1516.2h1V1516.8h1V1522.2h1V1519.8h1V1522.1h1V1519.7h1V1522.7h1V1519.3h1V1521.3h1V1526.2h1V1522.4h1V1523.8h1V1525.2h1V1525.6h1V1527.8h1V1526h1V1525.2h1V1521.7h1V1525.8h1V1522.8h1V1522.3h1V1521.1h1V1523.7h1V1526.4h1V1528.2h1V1526h1V1528.2h1V1526.1h1V1526.5h1V1537.7Z" fill="#67696b" opacity="0.5"/>
<path d="M288.6 1537.7V1513.5h1V1511.7h1V1512.8h1V1515.9h1V1515.3h1V1512.8h1V1519.9h1V1514.6h1V1511.5h1V1518h1V1510.5h1V1515.8h1V1513.4h1V1519.6h1V1518.9h1V1516.8h1V1520.8h1V1520.3h1V1521.6h1V1521.5h1V1521.6h1V1517.2h1V1521.2h1V1518.4h1V1522.5h1V1516.1h1V1517.7h1V1518.5h1V1526.5h1V1524.8h1V1521.1h1V1524.6h1V1520.7h1V1537.7Z" fill="#67696b" opacity="0.32"/>
<path d="M306 1485h0m-4 8h0m12 5h0m-13 2h0m-1 1h0m7 1h0m-10 2h0m2 1h0m19 3h0m-10 2h0m8 0h0m-21 1h0m1 0h0m12 1h0m-6 1h0m7 0h0m-17 1h0m1 0h0m9 1h0m8 0h0m-17 1h0m13 0h0m1 0h0m13 0h0m-15 1h0m5 0h0m9 0h0m-26 1h0m2 0h0m20 0h0m2 0h0m3 0h0m-25 1h0m5 0h0m12 0h0m8 0h0m-28 1h0m10 0h0m5 0h0m1 1h0m8 0h0m3 0h0" stroke="#67696b" stroke-width="3.2" stroke-linecap="round" fill="none" opacity="0.42"/>
<path d="M291 1488h0m3 0h0m20 8h0m3 3h0m-14 4h0m13 1h0m-15 2h0m-2 2h0m14 0h0m4 1h0m-18 1h0m8 1h0m-17 2h0m8 0h0m3 0h0m5 0h0m9 0h0m-2 2h0m-6 1h0m-17 1h0m20 0h0m-16 1h0m2 0h0m8 0h0m5 0h0m5 0h0m-23 1h0m24 0h0m1 0h0m2 0h0m-28 1h0m3 0h0m2 0h0m18 0h0m2 0h0m1 0h0m4 0h0m-16 1h0" stroke="#67696b" stroke-width="3.2" stroke-linecap="round" fill="none" opacity="0.42"/>
<path d="M322.1 1537.7V1527.6h1V1525.8h1V1522.9h1V1526.3h1V1527.4h1V1526.9h1V1527.9h1V1530.5h1V1530.1h1V1529.4h1V1529.9h1V1531h1V1529.6h1V1529.8h1V1528.8h1V1530.7h1V1530.1h1V1530.5h1V1531h1V1529.2h1V1527.7h1V1530.5h1V1530.4h1V1528.6h1V1527.1h1V1528.7h1V1531.1h1V1529.8h1V1530.2h1V1531h1V1530.2h1V1531.2h1V1531h1V1537.7Z" fill="#c5c7c8" opacity="0.7"/>
<path d="M322.1 1537.7V1518.9h1V1520.8h1V1519.9h1V1521.3h1V1520.7h1V1522.2h1V1527.2h1V1523.1h1V1525.6h1V1526h1V1524.7h1V1526h1V1527.6h1V1527.3h1V1527.3h1V1527.3h1V1525.9h1V1526.9h1V1525.8h1V1525h1V1524.4h1V1526.9h1V1527.9h1V1525.7h1V1525.5h1V1528.1h1V1527.9h1V1527.6h1V1527.3h1V1525.4h1V1524.3h1V1526.4h1V1528.3h1V1537.7Z" fill="#c5c7c8" opacity="0.5"/>
<path d="M322.1 1537.7V1517.8h1V1519.3h1V1515.4h1V1514.9h1V1520.7h1V1519h1V1521.6h1V1519.8h1V1519.6h1V1522.3h1V1522.7h1V1525.2h1V1524.1h1V1520.4h1V1526.4h1V1523.8h1V1521.6h1V1523.3h1V1524.3h1V1517.1h1V1523h1V1525.6h1V1525.1h1V1523.7h1V1522.3h1V1523.9h1V1524.9h1V1523.8h1V1523.8h1V1523.3h1V1525.4h1V1523.3h1V1524.8h1V1537.7Z" fill="#c5c7c8" opacity="0.32"/>
<path d="M351 1488h0m-26 8h0m17 2h0m10 6h0m-10 1h0m3 1h0m-3 2h0m7 0h0m2 0h0m-28 1h0m27 0h0m-9 1h0m2 1h0m-11 2h0m1 0h0m6 2h0m2 0h0m3 0h0m-20 1h0m16 1h0m6 0h0m3 0h0m3 0h0m-26 1h0m3 0h0m12 0h0m6 0h0m-6 1h0m4 0h0m1 0h0m5 0h0m-25 1h0m8 0h0m9 0h0m3 0h0m4 0h0m-24 1h0m24 0h0" stroke="#c5c7c8" stroke-width="3.2" stroke-linecap="round" fill="none" opacity="0.45"/>
<path d="M340 1488h0m-13 5h0m3 4h0m20 2h0m1 4h0m-6 1h0m4 0h0m-17 1h0m2 0h0m10 0h0m9 0h0m-6 1h0m-15 1h0m-5 2h0m7 0h0m17 0h0m-18 1h0m-1 1h0m2 1h0m14 0h0m-16 1h0m9 1h0m-17 1h0m13 0h0m4 0h0m-13 1h0m4 0h0m4 0h0m8 0h0m-3 1h0m-17 1h0m7 0h0m1 0h0m10 0h0m-17 1h0m22 0h0m1 0h0m5 0h0m-12 1h0m3 0h0" stroke="#c5c7c8" stroke-width="3.2" stroke-linecap="round" fill="none" opacity="0.45"/>
<path d="M355.1 1537.7V1523.2h1V1527h1V1522.1h1V1526.7h1V1525.4h1V1525.6h1V1527.3h1V1529h1V1527.6h1V1528h1V1529.1h1V1529.1h1V1530h1V1528.9h1V1528.5h1V1529h1V1529.8h1V1527.9h1V1527.4h1V1528.3h1V1530.9h1V1531.1h1V1527.8h1V1527.9h1V1525.4h1V1526.8h1V1526h1V1529.3h1V1529.1h1V1528.2h1V1537.7Z" fill="#67696b" opacity="0.8"/>
<path d="M355.1 1537.7V1517.5h1V1516.2h1V1521.2h1V1521h1V1520.9h1V1524.7h1V1523.8h1V1525.1h1V1524.4h1V1527.1h1V1526.2h1V1524.4h1V1525.8h1V1528.5h1V1525.6h1V1525.8h1V1524.3h1V1523.9h1V1524.1h1V1524.2h1V1523.5h1V1526.5h1V1526.5h1V1524.5h1V1520.7h1V1524h1V1522.7h1V1521.5h1V1524.8h1V1524h1V1537.7Z" fill="#67696b" opacity="0.5"/>
<path d="M355.1 1537.7V1515.4h1V1513.4h1V1518.3h1V1518.8h1V1521.9h1V1517.5h1V1516h1V1522.4h1V1521h1V1525.5h1V1524.5h1V1525.4h1V1524h1V1525.4h1V1520.3h1V1524.7h1V1519.4h1V1522.4h1V1523.1h1V1518.5h1V1523h1V1523.4h1V1519.6h1V1515.2h1V1517.1h1V1522.3h1V1518.4h1V1515.9h1V1519.7h1V1522.6h1V1537.7Z" fill="#67696b" opacity="0.32"/>
<path d="M359 1491h0m3 9h0m2 2h0m10 0h0m10 2h0m-20 1h0m15 0h0m4 2h0m1 1h0m-2 1h0m-18 2h0m13 0h0m-19 1h0m15 1h0m0 1h0m5 0h0m2 0h0m-6 1h0m-7 1h0m3 0h0m2 0h0m9 0h0m-24 1h0m24 0h0m2 0h0m-22 1h0m3 0h0m0 1h0m5 0h0m2 0h0m6 0h0m-13 1h0m6 0h0m1 0h0m2 0h0m8 0h0m-17 1h0m19 0h0" stroke="#67696b" stroke-width="3.2" stroke-linecap="round" fill="none" opacity="0.42"/>
<path d="M362 1491h0m2 3h0m3 4h0m5 5h0m0 2h0m9 3h0m-20 1h0m16 0h0m-10 1h0m8 1h0m3 0h0m-12 1h0m10 0h0m-17 1h0m5 0h0m6 0h0m7 1h0m-11 1h0m2 0h0m1 0h0m-2 1h0m9 0h0m-7 1h0m8 0h0m-21 1h0m4 0h0m1 0h0m2 0h0m7 0h0m2 0h0m-10 1h0m13 0h0m7 0h0m-23 1h0m15 0h0m6 0h0m0 1h0m1 0h0" stroke="#67696b" stroke-width="3.2" stroke-linecap="round" fill="none" opacity="0.42"/>
<path d="M385.8 1537.7V1526.7h1V1524.6h1V1525h1V1530h1V1525.9h1V1528.8h1V1524.3h1V1523.6h1V1526.5h1V1525.3h1V1526.4h1V1520.6h1V1521h1V1520.2h1V1522.6h1V1525.7h1V1522.4h1V1524.2h1V1525h1V1524.3h1V1524.1h1V1526h1V1537.7Z" fill="#c5c7c8" opacity="0.7"/>
<path d="M385.8 1537.7V1521.4h1V1520.7h1V1520.5h1V1524h1V1524.3h1V1522.5h1V1522.3h1V1519.9h1V1522.1h1V1520.5h1V1521.8h1V1517.9h1V1513.6h1V1516.4h1V1517.9h1V1516.4h1V1516h1V1518.8h1V1520.2h1V1517.6h1V1521.8h1V1518.8h1V1537.7Z" fill="#c5c7c8" opacity="0.5"/>
<path d="M385.8 1537.7V1520.6h1V1517.1h1V1515.8h1V1521.6h1V1522.4h1V1516.4h1V1520h1V1512.9h1V1512.9h1V1508.3h1V1512.4h1V1511.3h1V1512.9h1V1516h1V1508.6h1V1516.8h1V1517h1V1506.3h1V1511.9h1V1511.2h1V1510.7h1V1511.8h1V1537.7Z" fill="#c5c7c8" opacity="0.32"/>
<path d="M398 1483h0m-9 12h0m7 3h0m-1 5h0m-5 1h0m9 0h0m-4 2h0m4 1h0m0 1h0m-5 3h0m1 0h0m3 1h0m-9 1h0m7 2h0m-9 1h0m13 0h0m1 0h0m-1 1h0m-10 1h0m12 0h0m-11 1h0m1 0h0m-3 1h0m6 0h0m3 0h0m-3 1h0m6 0h0" stroke="#c5c7c8" stroke-width="3.2" stroke-linecap="round" fill="none" opacity="0.45"/>
<path d="M404 1488h0m-3 7h0m-5 4h0m4 4h0m3 4h0m-1 3h0m0 1h0m-11 1h0m9 0h0m-11 1h0m-1 2h0m14 1h0m-15 1h0m1 0h0m2 0h0m3 0h0m3 0h0m0 1h0m-5 1h0m1 0h0m14 0h0m-14 1h0m6 0h0m-10 1h0m6 0h0m8 0h0" stroke="#c5c7c8" stroke-width="3.2" stroke-linecap="round" fill="none" opacity="0.45"/>
<path d="M407.8 1537.7V1528.1h1V1521.5h1V1524h1V1525.2h1V1528.7h1V1525.9h1V1528.2h1V1526.3h1V1523.9h1V1524.5h1V1529.2h1V1528.2h1V1528.6h1V1529.8h1V1527.7h1V1528.7h1V1528.5h1V1529.5h1V1529.8h1V1530.4h1V1529.1h1V1529.5h1V1528.9h1V1529h1V1527.9h1V1527.6h1V1537.7Z" fill="#67696b" opacity="0.8"/>
<path d="M407.8 1537.7V1523.3h1V1519.5h1V1517.6h1V1522.4h1V1523.4h1V1525.4h1V1522.1h1V1523.4h1V1522.4h1V1519.4h1V1525.8h1V1524.5h1V1523.1h1V1524.3h1V1527.4h1V1525.7h1V1523.1h1V1523.5h1V1524.7h1V1525.8h1V1528.4h1V1526.2h1V1527.2h1V1528.9h1V1524.5h1V1525.9h1V1537.7Z" fill="#67696b" opacity="0.5"/>
<path d="M407.8 1537.7V1513.9h1V1511.5h1V1516.9h1V1518.1h1V1520.1h1V1522h1V1523.3h1V1518.5h1V1519.2h1V1518.7h1V1517.2h1V1514.6h1V1519h1V1523.5h1V1520.3h1V1523h1V1523.3h1V1519.9h1V1520.7h1V1525.3h1V1523h1V1519.4h1V1523.7h1V1524.7h1V1524.5h1V1524.2h1V1537.7Z" fill="#67696b" opacity="0.32"/>
<path d="M419 1489h0m3 5h0m5 4h0m-13 2h0m8 1h0m6 1h0m1 2h0m-15 4h0m17 2h0m-19 4h0m-1 1h0m11 0h0m4 0h0m6 0h0m-14 1h0m1 0h0m1 0h0m-7 1h0m1 0h0m5 0h0m3 0h0m-4 1h0m1 0h0m-2 1h0m9 0h0m-16 2h0m2 0h0m10 0h0m6 0h0m4 0h0" stroke="#67696b" stroke-width="3.2" stroke-linecap="round" fill="none" opacity="0.42"/>
<path d="M412 1484h0m4 10h0m7 5h0m-8 1h0m11 4h0m-6 1h0m-4 1h0m0 1h0m-1 4h0m-6 1h0m17 1h0m-2 1h0m-7 1h0m11 1h0m3 0h0m-16 1h0m3 0h0m7 0h0m0 1h0m5 0h0m1 0h0m-10 1h0m2 0h0m1 0h0m2 0h0m-7 1h0m1 0h0m7 0h0m3 0h0m-21 1h0m10 0h0m13 0h0" stroke="#67696b" stroke-width="3.2" stroke-linecap="round" fill="none" opacity="0.42"/>
<path d="M434.2 1537.7V1525.1h1V1525.8h1V1526.6h1V1528.7h1V1529.1h1V1523.1h1V1526.1h1V1527.5h1V1525.7h1V1524.9h1V1524.2h1V1525.2h1V1524.6h1V1524.9h1V1525.5h1V1526.8h1V1524.9h1V1523.1h1V1526.9h1V1528.2h1V1526.9h1V1525h1V1528.4h1V1530.2h1V1525.6h1V1527h1V1529.7h1V1537.7Z" fill="#c5c7c8" opacity="0.7"/>
<path d="M434.2 1537.7V1519.5h1V1523h1V1521.3h1V1520.8h1V1520.4h1V1518.3h1V1523.3h1V1519.6h1V1522.4h1V1519.2h1V1521.5h1V1517.7h1V1523.2h1V1515.8h1V1521.7h1V1520.4h1V1519.1h1V1517.7h1V1518.5h1V1521.4h1V1523.2h1V1518.7h1V1524.5h1V1522h1V1523.4h1V1522.4h1V1523.2h1V1537.7Z" fill="#c5c7c8" opacity="0.5"/>
<path d="M434.2 1537.7V1515.7h1V1516.5h1V1518.2h1V1520.9h1V1517.4h1V1519.4h1V1515.3h1V1519.6h1V1519h1V1514.1h1V1515.7h1V1508.9h1V1512.6h1V1514.4h1V1514.7h1V1513.7h1V1516.3h1V1513.3h1V1517.2h1V1515.3h1V1514.4h1V1513.4h1V1520.4h1V1517.6h1V1520.8h1V1519.1h1V1521.2h1V1537.7Z" fill="#c5c7c8" opacity="0.32"/>
<path d="M438 1498h0m5 7h0m-4 1h0m-4 1h0m10 0h0m9 0h0m-3 1h0m-7 1h0m-5 1h0m3 1h0m6 0h0m4 0h0m-11 1h0m18 2h0m-12 1h0m-11 1h0m7 0h0m7 1h0m5 0h0m-18 1h0m9 0h0m13 0h0m1 0h0m-8 1h0m-6 1h0m1 0h0m3 0h0m6 0h0m2 0h0m-23 1h0m2 0h0m3 0h0m2 0h0m8 0h0m3 0h0" stroke="#c5c7c8" stroke-width="3.2" stroke-linecap="round" fill="none" opacity="0.45"/>
<path d="M441 1484h0m2 10h0m-3 3h0m5 1h0m-10 2h0m12 8h0m1 0h0m5 0h0m-3 1h0m-3 2h0m5 0h0m-15 3h0m7 0h0m13 0h0m-14 3h0m1 0h0m4 0h0m3 0h0m6 0h0m-16 1h0m3 0h0m1 0h0m2 0h0m1 0h0m4 0h0m-13 1h0m10 0h0m7 0h0m-19 1h0m8 0h0m11 0h0m-14 1h0" stroke="#c5c7c8" stroke-width="3.2" stroke-linecap="round" fill="none" opacity="0.45"/>
<path d="M461.8 1537.7V1526.6h1V1529h1V1527.8h1V1528.3h1V1528.9h1V1529.8h1V1529.6h1V1529.9h1V1529.9h1V1528.6h1V1526.2h1V1527.6h1V1526.4h1V1527.7h1V1521.2h1V1523.9h1V1523.5h1V1524.8h1V1522.1h1V1521.3h1V1521.9h1V1525.6h1V1523.6h1V1527.3h1V1525.2h1V1527.6h1V1524.8h1V1528.3h1V1527.5h1V1537.7Z" fill="#67696b" opacity="0.8"/>
<path d="M461.8 1537.7V1522.6h1V1527.3h1V1527.6h1V1527.3h1V1527.2h1V1527.2h1V1526.9h1V1527.4h1V1526h1V1524.9h1V1521.5h1V1524.4h1V1522.7h1V1517.3h1V1515.6h1V1517.4h1V1517.1h1V1521h1V1520h1V1517h1V1515.9h1V1523.9h1V1521.3h1V1520.2h1V1523.1h1V1521.6h1V1524h1V1520h1V1519h1V1537.7Z" fill="#67696b" opacity="0.5"/>
<path d="M461.8 1537.7V1517h1V1521h1V1524.7h1V1522.6h1V1523.5h1V1525h1V1524.1h1V1523.7h1V1521.8h1V1519.5h1V1512.8h1V1520.7h1V1512.5h1V1518.3h1V1510.8h1V1510.8h1V1512.5h1V1512.3h1V1513.9h1V1514h1V1514.3h1V1519.1h1V1512.9h1V1515.6h1V1513.2h1V1515.9h1V1520.9h1V1521.1h1V1519.9h1V1537.7Z" fill="#67696b" opacity="0.32"/>
<path d="M486 1486h0m-15 5h0m3 10h0m1 2h0m5 0h0m4 1h0m-11 1h0m7 1h0m1 2h0m-15 1h0m14 2h0m-10 2h0m4 1h0m-5 1h0m18 0h0m-18 1h0m3 0h0m5 0h0m4 0h0m1 0h0m-11 1h0m5 0h0m4 0h0m-17 1h0m4 0h0m10 0h0m8 0h0m-22 1h0m25 0h0m-25 1h0m3 0h0m5 1h0m6 0h0m3 0h0" stroke="#67696b" stroke-width="3.2" stroke-linecap="round" fill="none" opacity="0.42"/>
<path d="M471 1490h0m0 1h0m-4 6h0m12 4h0m1 0h0m6 1h0m-22 3h0m10 0h0m6 1h0m6 1h0m-16 1h0m8 0h0m2 1h0m-17 2h0m18 1h0m1 0h0m6 0h0m-19 2h0m-4 3h0m1 0h0m13 1h0m0 1h0m1 0h0m3 0h0m3 0h0m-21 1h0m2 0h0m3 0h0m1 0h0m14 0h0m-22 1h0m3 0h0m5 0h0m16 0h0" stroke="#67696b" stroke-width="3.2" stroke-linecap="round" fill="none" opacity="0.42"/>
<path d="M490.7 1537.7V1527.3h1V1527.9h1V1527.9h1V1530.7h1V1528.8h1V1529.8h1V1530.5h1V1530.6h1V1529.8h1V1529.5h1V1529.7h1V1528.8h1V1526.6h1V1524.9h1V1526.4h1V1526.5h1V1529h1V1525.2h1V1524.8h1V1524.1h1V1527.9h1V1525.1h1V1525.6h1V1537.7Z" fill="#c5c7c8" opacity="0.7"/>
<path d="M490.7 1537.7V1523.4h1V1525.5h1V1523.8h1V1525.5h1V1526.8h1V1527h1V1526.2h1V1525.7h1V1521.4h1V1522.1h1V1525.3h1V1523h1V1524.9h1V1520.3h1V1521.4h1V1525.5h1V1524.7h1V1519.3h1V1517.7h1V1519.9h1V1523.3h1V1522.6h1V1520.6h1V1537.7Z" fill="#c5c7c8" opacity="0.5"/>
<path d="M490.7 1537.7V1518.1h1V1520.5h1V1524.7h1V1525.5h1V1526.1h1V1521.8h1V1521.9h1V1519.5h1V1520.3h1V1521.7h1V1524.5h1V1521.7h1V1519.5h1V1519.1h1V1518.8h1V1516.6h1V1514h1V1517.6h1V1511.2h1V1517.5h1V1520.2h1V1513.3h1V1519.2h1V1537.7Z" fill="#c5c7c8" opacity="0.32"/>
<path d="M509 1495h0m-13 2h0m4 5h0m2 3h0m-7 1h0m15 2h0m-7 1h0m7 0h0m-15 1h0m10 1h0m7 1h0m-14 2h0m6 0h0m-2 1h0m1 0h0m0 2h0m6 0h0m-13 2h0m15 0h0m-9 1h0m8 0h0m-17 1h0m1 0h0m5 0h0m1 0h0m3 0h0m6 0h0m3 0h0" stroke="#c5c7c8" stroke-width="3.2" stroke-linecap="round" fill="none" opacity="0.45"/>
<path d="M512 1495h0m-8 1h0m0 9h0m3 0h0m-7 2h0m1 0h0m0 1h0m-5 2h0m5 1h0m1 0h0m8 0h0m-10 1h0m8 3h0m-8 1h0m3 0h0m-9 1h0m5 0h0m9 0h0m-5 1h0m4 0h0m4 0h0m-11 1h0m8 0h0m-11 1h0m7 0h0m2 0h0m-14 1h0" stroke="#c5c7c8" stroke-width="3.2" stroke-linecap="round" fill="none" opacity="0.45"/>
<path d="M513.6 1537.7V1522.2h1V1526.4h1V1527.4h1V1524h1V1523.1h1V1523.5h1V1522.9h1V1522.8h1V1522.2h1V1525.4h1V1522.2h1V1527.2h1V1524.2h1V1525.6h1V1523h1V1519.4h1V1519.9h1V1518.7h1V1522.3h1V1522h1V1524.6h1V1523h1V1537.7Z" fill="#67696b" opacity="0.8"/>
<path d="M513.6 1537.7V1515.2h1V1521.5h1V1516.7h1V1519.4h1V1518.2h1V1520.1h1V1516.2h1V1522h1V1521.4h1V1517.8h1V1517.2h1V1517.7h1V1519.3h1V1514.6h1V1518.1h1V1517.1h1V1517.4h1V1518h1V1520.1h1V1518h1V1515.3h1V1515.7h1V1537.7Z" fill="#67696b" opacity="0.5"/>
<path d="M513.6 1537.7V1514.1h1V1514.3h1V1515.4h1V1508.8h1V1519.6h1V1508.9h1V1510h1V1513.1h1V1511.1h1V1507.6h1V1517.2h1V1517.8h1V1512.8h1V1507.5h1V1508.6h1V1509.2h1V1509.9h1V1509.7h1V1505.8h1V1514.2h1V1507.2h1V1515h1V1537.7Z" fill="#67696b" opacity="0.32"/>
<path d="M526 1501h0m3 1h0m-10 2h0m6 0h0m-5 1h0m-1 1h0m11 0h0m-5 3h0m-9 1h0m3 0h0m-1 3h0m6 0h0m-1 2h0m1 0h0m-1 1h0m3 0h0m-5 1h0m3 0h0m10 0h0m-17 1h0m3 0h0m-5 1h0m4 0h0m3 1h0m1 0h0" stroke="#67696b" stroke-width="3.2" stroke-linecap="round" fill="none" opacity="0.42"/>
<path d="M516 1484h0m3 10h0m5 0h0m4 3h0m-4 3h0m2 4h0m-11 1h0m7 1h0m-1 1h0m-5 2h0m2 2h0m-3 1h0m4 1h0m1 0h0m13 1h0m-5 1h0m-7 1h0m5 1h0m-9 1h0m1 0h0m15 0h0m-17 1h0m6 0h0m3 0h0m3 0h0m5 0h0m-12 2h0" stroke="#67696b" stroke-width="3.2" stroke-linecap="round" fill="none" opacity="0.42"/>
<path d="M535.5 1537.7V1526.8h1V1527.9h1V1530.6h1V1527h1V1525.2h1V1528.7h1V1524.2h1V1523.8h1V1523.4h1V1528.3h1V1526.3h1V1529.4h1V1527.9h1V1527.2h1V1537.7Z" fill="#c5c7c8" opacity="0.7"/>
<path d="M535.5 1537.7V1524.4h1V1525.8h1V1527.6h1V1521.7h1V1523h1V1522h1V1520.7h1V1514.7h1V1521.9h1V1519.2h1V1524.4h1V1520.3h1V1520.5h1V1521.8h1V1537.7Z" fill="#c5c7c8" opacity="0.5"/>
<path d="M535.5 1537.7V1521.4h1V1519.7h1V1524.7h1V1518.1h1V1516.7h1V1513.9h1V1509.7h1V1508.4h1V1517.4h1V1514.4h1V1521.4h1V1515.4h1V1510.8h1V1520.8h1V1537.7Z" fill="#c5c7c8" opacity="0.32"/>
<path d="M537 1497h0m9 3h0m-9 5h0m11 1h0m-7 1h0m-3 3h0m4 0h0m1 0h0m4 2h0m-9 3h0m10 1h0m-10 1h0m9 0h0m-7 3h0m-2 1h0m2 0h0m6 0h0" stroke="#c5c7c8" stroke-width="3.2" stroke-linecap="round" fill="none" opacity="0.45"/>
<path d="M547 1485h0m-7 12h0m2 1h0m-3 4h0m0 3h0m7 4h0m-3 1h0m-5 3h0m9 1h0m0 1h0m-10 1h0m10 0h0m-5 1h0m3 0h0m2 0h0m-10 2h0m7 1h0m1 0h0" stroke="#c5c7c8" stroke-width="3.2" stroke-linecap="round" fill="none" opacity="0.45"/>
<path d="M550.3 1537.7V1528.3h1V1524.6h1V1527.1h1V1523.3h1V1526.8h1V1522.9h1V1520.6h1V1525.5h1V1524.3h1V1526.5h1V1526.9h1V1524.3h1V1525.8h1V1524.9h1V1523.5h1V1523h1V1525.9h1V1523.5h1V1520.8h1V1537.7Z" fill="#67696b" opacity="0.8"/>
<path d="M550.3 1537.7V1522.5h1V1520.9h1V1521.1h1V1518.7h1V1520.1h1V1516.1h1V1518.6h1V1519h1V1520.7h1V1520.4h1V1520.9h1V1517.4h1V1514.2h1V1517.8h1V1515.6h1V1521.5h1V1520.2h1V1519.3h1V1515.7h1V1537.7Z" fill="#67696b" opacity="0.5"/>
<path d="M550.3 1537.7V1519.8h1V1511.3h1V1515.8h1V1520h1V1513.6h1V1513h1V1512.7h1V1513.7h1V1512.1h1V1507.5h1V1511.7h1V1513h1V1515.8h1V1515.1h1V1516.1h1V1515.8h1V1513.7h1V1513.7h1V1513.1h1V1537.7Z" fill="#67696b" opacity="0.32"/>
<path d="M552 1493h0m0 2h0m14 3h0m-13 4h0m4 2h0m6 1h0m-9 5h0m9 4h0m1 0h0m-8 2h0m2 0h0m5 1h0m-8 1h0m9 0h0m-10 1h0m4 0h0m2 0h0m2 0h0m1 0h0m3 0h0m-15 1h0m8 0h0m7 1h0" stroke="#67696b" stroke-width="3.2" stroke-linecap="round" fill="none" opacity="0.42"/>
<path d="M560 1487h0m-5 15h0m3 1h0m-3 1h0m6 3h0m0 1h0m5 2h0m-9 2h0m-3 4h0m8 0h0m2 1h0m-13 1h0m3 0h0m8 0h0m-8 1h0m12 0h0m-15 1h0m9 0h0m7 0h0m-9 1h0m7 0h0m1 0h0" stroke="#67696b" stroke-width="3.2" stroke-linecap="round" fill="none" opacity="0.42"/>
<path d="M569.1 1537.7V1522.7h1V1524.7h1V1523.6h1V1522.2h1V1524.4h1V1526h1V1519h1V1526h1V1522.6h1V1525h1V1522.5h1V1520.2h1V1526h1V1523.2h1V1522.9h1V1537.7Z" fill="#c5c7c8" opacity="0.7"/>
<path d="M569.1 1537.7V1517.9h1V1517.3h1V1518.9h1V1521.9h1V1518.9h1V1517.2h1V1518.4h1V1514h1V1516.8h1V1516.8h1V1518.8h1V1515.3h1V1514.1h1V1520h1V1515.6h1V1537.7Z" fill="#c5c7c8" opacity="0.5"/>
<path d="M569.1 1537.7V1515.6h1V1518.9h1V1515.8h1V1511.8h1V1510.7h1V1505.3h1V1506.6h1V1505.8h1V1506.4h1V1506.9h1V1505.6h1V1504.7h1V1507.4h1V1512.8h1V1511.7h1V1537.7Z" fill="#c5c7c8" opacity="0.32"/>
<path d="M573 1492h0m6 1h0m1 6h0m-10 5h0m1 2h0m8 3h0m-9 2h0m3 0h0m-2 3h0m4 0h0m7 0h0m0 2h0m1 1h0m-7 1h0m1 0h0m3 2h0m1 0h0m-10 1h0" stroke="#c5c7c8" stroke-width="3.2" stroke-linecap="round" fill="none" opacity="0.45"/>
<path d="M576 1496h0m1 8h0m-6 1h0m4 4h0m1 3h0m6 2h0m-11 1h0m7 0h0m3 1h0m-9 1h0m9 0h0m-11 1h0m3 0h0m4 0h0m1 0h0m-5 1h0m5 0h0m-2 2h0" stroke="#c5c7c8" stroke-width="3.2" stroke-linecap="round" fill="none" opacity="0.45"/>
<path d="M584.8 1537.7V1524h1V1528.1h1V1526.4h1V1524h1V1528.6h1V1525.7h1V1528.8h1V1527.7h1V1526.5h1V1524.7h1V1527.2h1V1528.2h1V1525.6h1V1525.7h1V1524.2h1V1525.8h1V1537.7Z" fill="#67696b" opacity="0.8"/>
<path d="M584.8 1537.7V1520.3h1V1518.5h1V1523.6h1V1523.1h1V1525.7h1V1524.9h1V1525.5h1V1521.7h1V1521.6h1V1522.2h1V1523.2h1V1522.2h1V1519.6h1V1518.5h1V1521.9h1V1519.3h1V1537.7Z" fill="#67696b" opacity="0.5"/>
<path d="M584.8 1537.7V1508.5h1V1514.3h1V1514.2h1V1519.7h1V1517.9h1V1521h1V1522h1V1521.5h1V1520.4h1V1515.1h1V1518h1V1516.8h1V1513.7h1V1518.6h1V1510.4h1V1518.4h1V1537.7Z" fill="#67696b" opacity="0.32"/>
<path d="M597 1489h0m-3 9h0m-5 4h0m4 2h0m1 0h0m4 1h0m-8 2h0m4 1h0m3 1h0m-5 1h0m6 1h0m-9 3h0m1 0h0m-2 3h0m8 0h0m-4 1h0m1 0h0m-4 1h0m-1 1h0m5 1h0" stroke="#67696b" stroke-width="3.2" stroke-linecap="round" fill="none" opacity="0.42"/>
<path d="M587 1506h0m9 0h0m-10 3h0m8 4h0m0 1h0m3 0h0m-2 1h0m3 0h0m-7 1h0m-2 2h0m2 0h0m1 0h0m6 0h0m-11 1h0m12 0h0m-6 1h0m1 0h0" stroke="#67696b" stroke-width="3.2" stroke-linecap="round" fill="none" opacity="0.42"/>
<path d="M600.8 1537.7V1527.9h1V1528.3h1V1527.9h1V1524.5h1V1522.8h1V1527.6h1V1525.9h1V1526.9h1V1528.5h1V1526.9h1V1521.4h1V1537.7Z" fill="#c5c7c8" opacity="0.7"/>
<path d="M600.8 1537.7V1518.4h1V1524.7h1V1522.6h1V1521.3h1V1520.5h1V1518.7h1V1522.8h1V1520.7h1V1523.7h1V1517.3h1V1516.3h1V1537.7Z" fill="#c5c7c8" opacity="0.5"/>
<path d="M600.8 1537.7V1516.5h1V1522h1V1516.2h1V1515.1h1V1511.5h1V1511.9h1V1513.3h1V1513.6h1V1513.7h1V1518.3h1V1509.2h1V1537.7Z" fill="#c5c7c8" opacity="0.32"/>
<path d="M603 1504h0m4 0h0m-1 5h0m-2 1h0m4 2h0m-6 4h0m3 2h0m1 0h0m3 0h0m-4 1h0m-1 1h0m6 0h0m-2 1h0" stroke="#c5c7c8" stroke-width="3.2" stroke-linecap="round" fill="none" opacity="0.45"/>
<path d="M602 1495h0m0 8h0m7 8h0m0 2h0m-6 1h0m-1 1h0m3 0h0m3 0h0m-3 2h0m5 0h0m-8 1h0m5 2h0m-1 1h0" stroke="#c5c7c8" stroke-width="3.2" stroke-linecap="round" fill="none" opacity="0.45"/>
<path d="M612.4 1537.7V1529h1V1527.6h1V1528.2h1V1530h1V1528.7h1V1531.2h1V1531.5h1V1530.8h1V1530h1V1530.1h1V1529.5h1V1526.8h1V1527.5h1V1528.4h1V1529.3h1V1526.1h1V1537.7Z" fill="#67696b" opacity="0.8"/>
<path d="M612.4 1537.7V1520.5h1V1523.3h1V1524.6h1V1523.5h1V1524.9h1V1528.5h1V1527.1h1V1527.4h1V1526.7h1V1527.8h1V1523.8h1V1524h1V1525.6h1V1522.4h1V1523.7h1V1521.7h1V1537.7Z" fill="#67696b" opacity="0.5"/>
<path d="M612.4 1537.7V1518.8h1V1517.1h1V1522.1h1V1525h1V1525.1h1V1522.8h1V1526.2h1V1522.3h1V1523.9h1V1523.9h1V1521.2h1V1518.8h1V1520.2h1V1519.3h1V1518.7h1V1517.6h1V1537.7Z" fill="#67696b" opacity="0.32"/>
<path d="M614 1484h0m6 23h0m1 0h0m-2 1h0m-5 5h0m7 0h0m-5 1h0m3 0h0m4 1h0m0 1h0m-6 1h0m3 1h0m3 0h0m2 0h0m0 1h0m-9 1h0m2 0h0m2 0h0m2 0h0m4 0h0" stroke="#67696b" stroke-width="3.2" stroke-linecap="round" fill="none" opacity="0.42"/>
<path d="M614 1498h0m6 2h0m-4 4h0m6 0h0m0 6h0m-3 1h0m0 1h0m8 2h0m-13 2h0m6 0h0m-6 1h0m3 0h0m-1 2h0m0 1h0m3 0h0m1 0h0m-1 1h0m4 0h0" stroke="#67696b" stroke-width="3.2" stroke-linecap="round" fill="none" opacity="0.42"/>
<path d="M629 1537.7V1526.1h1V1521.9h1V1525.3h1V1519.6h1V1519.3h1V1522.3h1V1520h1V1522.3h1V1537.7Z" fill="#c5c7c8" opacity="0.7"/>
<path d="M629 1537.7V1514.6h1V1515.4h1V1519.7h1V1512.6h1V1517.6h1V1518.8h1V1513.3h1V1515.7h1V1537.7Z" fill="#c5c7c8" opacity="0.5"/>
<path d="M629 1537.7V1507.9h1V1512.6h1V1506.8h1V1506.4h1V1507.5h1V1514.8h1V1505.9h1V1512.2h1V1537.7Z" fill="#c5c7c8" opacity="0.32"/>
<path d="M631.9 1520h0m3.3 -4.2h0m-2.1 1.9h0m-2 -5.4h0m-0.2 2.9h0m1 3.3h0m0.4 -12.7h0m1.6 15h0m-1.9 -3h0m-0.1 -26.9h0" stroke="#c5c7c8" stroke-width="3.2" stroke-linecap="round" fill="none" opacity="0.45"/>
<path d="M631.8 1495.7h0m0.3 14.8h0m2 4.1h0m0.5 -11.3h0m0.3 12.7h0m-0.7 -5h0m-2.9 -1.2h0m3.7 9.1h0m-4.8 -13.8h0" stroke="#c5c7c8" stroke-width="3.2" stroke-linecap="round" fill="none" opacity="0.45"/>
<path d="M637.5 1537.7V1526.9h1V1531h1V1531.9h1V1529.8h1V1530.5h1V1531.5h1V1528.6h1V1530.9h1V1531.6h1V1530.2h1V1531.1h1V1537.7Z" fill="#67696b" opacity="0.8"/>
<path d="M637.5 1537.7V1525.3h1V1526.4h1V1525h1V1526.6h1V1526.4h1V1527.8h1V1524.8h1V1527.3h1V1525.6h1V1525.3h1V1525.7h1V1537.7Z" fill="#67696b" opacity="0.5"/>
<path d="M637.5 1537.7V1521.3h1V1521.7h1V1525h1V1522.2h1V1520.8h1V1525.7h1V1523.6h1V1519.9h1V1523.4h1V1522.2h1V1521.9h1V1537.7Z" fill="#67696b" opacity="0.32"/>
<path d="M644 1499h0m0 4h0m-5 4h0m7 0h0m-1 6h0m-3 1h0m1 0h0m1 2h0m-3 1h0m3 1h0m-5 2h0m3 0h0m1 1h0" stroke="#67696b" stroke-width="3.2" stroke-linecap="round" fill="none" opacity="0.42"/>
<path d="M640 1491h0m2 14h0m-1 3h0m4 2h0m-5 3h0m0 1h0m5 2h0m-3 2h0m-2 1h0m2 0h0m4 0h0m-5 2h0m1 0h0" stroke="#67696b" stroke-width="3.2" stroke-linecap="round" fill="none" opacity="0.42"/>
<rect x="103.9" y="1510.1" width="3.5" height="27.3" fill="#fff"/>
<rect x="390.4" y="1510.1" width="3.5" height="27.3" fill="#fff"/>
<path d="M108.9 1464.6h0m70 7.2h0m90 0h0m-87.8 14.1h0m224.3 0h0m197.1 -6.3h0m-35.2 -1.9h0" stroke="#d3d4d5" stroke-width="3.2" stroke-linecap="round" fill="none"/>
<path d="M368.7 1488.1h0m-57.1 1.6h0m100.4 3.7h0m52.4 -1.2h0m102.9 -14.5h0m74.4 18.9h0" stroke="#9a9c9e" stroke-width="3.2" stroke-linecap="round" fill="none" opacity="0.9"/>
<path d="M74.4 1324.9V1537.7H652.7" stroke="#222" stroke-width="1.5" fill="none"/>
<path d="M77.8 1537.7L652.7 1537.7" stroke="#111" stroke-width="1.9"/>
<text x="57.3" y="1544" text-anchor="end" font-size="15.8">0</text>
<text x="57.3" y="1502.9" text-anchor="end" font-size="15.8" textLength="20.2" lengthAdjust="spacingAndGlyphs">2.5</text>
<text x="57.3" y="1461.8" text-anchor="end" font-size="15.8" textLength="20.2" lengthAdjust="spacingAndGlyphs">5.0</text>
<text x="57.3" y="1420.6" text-anchor="end" font-size="15.8" textLength="20.2" lengthAdjust="spacingAndGlyphs">7.5</text>
<text x="57.3" y="1379.5" text-anchor="end" font-size="15.8" textLength="28.3" lengthAdjust="spacingAndGlyphs">10.0</text>
<text x="57.3" y="1338.4" text-anchor="end" font-size="15.8" textLength="28.3" lengthAdjust="spacingAndGlyphs">12.5</text>
<text text-anchor="end" font-size="17.4" transform="translate(110.6 1555.2) rotate(-90)">1</text>
<text text-anchor="end" font-size="17.4" transform="translate(158.9 1555.2) rotate(-90)">2</text>
<text text-anchor="end" font-size="17.4" transform="translate(202.5 1555.2) rotate(-90)">3</text>
<text text-anchor="end" font-size="17.4" transform="translate(240.8 1555.2) rotate(-90)">4</text>
<text text-anchor="end" font-size="17.4" transform="translate(277.2 1555.2) rotate(-90)">5</text>
<text text-anchor="end" font-size="17.4" transform="translate(312.1 1555.2) rotate(-90)">6</text>
<text text-anchor="end" font-size="17.4" transform="translate(344.4 1555.2) rotate(-90)">7</text>
<text text-anchor="end" font-size="17.4" transform="translate(374.8 1555.2) rotate(-90)">8</text>
<text text-anchor="end" font-size="17.4" transform="translate(402.1 1555.2) rotate(-90)">9</text>
<text text-anchor="end" font-size="17.4" transform="translate(429.1 1555.2) rotate(-90)" textLength="19.4" lengthAdjust="spacingAndGlyphs">10</text>
<text text-anchor="end" font-size="17.4" transform="translate(455.5 1555.2) rotate(-90)" textLength="18.1" lengthAdjust="spacingAndGlyphs">11</text>
<text text-anchor="end" font-size="17.4" transform="translate(481.8 1555.2) rotate(-90)" textLength="19.4" lengthAdjust="spacingAndGlyphs">12</text>
<text text-anchor="end" font-size="17.4" transform="translate(507.9 1555.2) rotate(-90)" textLength="19.4" lengthAdjust="spacingAndGlyphs">13</text>
<text text-anchor="end" font-size="17.4" transform="translate(529.8 1555.2) rotate(-90)" textLength="19.4" lengthAdjust="spacingAndGlyphs">14</text>
<text text-anchor="end" font-size="17.4" transform="translate(550.5 1555.2) rotate(-90)" textLength="19.4" lengthAdjust="spacingAndGlyphs">15</text>
<text text-anchor="end" font-size="17.4" transform="translate(567.2 1555.2) rotate(-90)" textLength="19.4" lengthAdjust="spacingAndGlyphs">16</text>
<text text-anchor="end" font-size="17.4" transform="translate(584.1 1555.2) rotate(-90)" textLength="19.4" lengthAdjust="spacingAndGlyphs">17</text>
<text text-anchor="end" font-size="17.4" transform="translate(600.1 1555.2) rotate(-90)" textLength="19.4" lengthAdjust="spacingAndGlyphs">18</text>
<text text-anchor="end" font-size="17.4" transform="translate(614.2 1555.2) rotate(-90)" textLength="19.4" lengthAdjust="spacingAndGlyphs">19</text>
<text text-anchor="end" font-size="17.4" transform="translate(626.2 1555.2) rotate(-90)" textLength="19.4" lengthAdjust="spacingAndGlyphs">20</text>
<text text-anchor="end" font-size="17.4" transform="translate(639.3 1555.2) rotate(-90)" textLength="19.4" lengthAdjust="spacingAndGlyphs">21</text>
<text text-anchor="end" font-size="17.4" transform="translate(648.8 1555.2) rotate(-90)" textLength="19.4" lengthAdjust="spacingAndGlyphs">22</text>
<path d="M65 1537.7h9.4M65 1496.6h9.4M65 1455.5h9.4M65 1414.3h9.4M65 1373.2h9.4M65 1332.1h9.4M104.5 1537.7v10M152.8 1537.7v10M196.4 1537.7v10M234.7 1537.7v10M271.1 1537.7v10M306 1537.7v10M338.3 1537.7v10M368.7 1537.7v10M396 1537.7v10M423 1537.7v10M449.4 1537.7v10M475.7 1537.7v10M501.8 1537.7v10M523.7 1537.7v10M544.4 1537.7v10M561.1 1537.7v10M578 1537.7v10M594 1537.7v10M608.1 1537.7v10M620.1 1537.7v10M633.2 1537.7v10M642.7 1537.7v10" stroke="#222" stroke-width="1.5" fill="none"/>
<path d="M74.4 1450.4H652.7" stroke="#222" stroke-width="1.5" stroke-dasharray="7.5 4.4" fill="none"/>
<text transform="translate(14.3 1432.2) rotate(-90)" font-size="15.8" text-anchor="middle">−log<tspan font-size="10.5" dy="3.5">10</tspan><tspan dy="-3.5">(</tspan><tspan font-style="italic">P</tspan>)</text>
<text x="312.2" y="1594.8" font-size="17.4" textLength="102" lengthAdjust="spacingAndGlyphs">Chromosome</text>
<path d="M295.6 1346.6h0" stroke="#ee8867" stroke-width="6" stroke-linecap="round" fill="none"/>
<path d="M295.6 1383.6h0" stroke="#48ad8f" stroke-width="6" stroke-linecap="round" fill="none"/>
<text x="212.1" y="1371" textLength="163.8" lengthAdjust="spacingAndGlyphs">HLA-DQB1 Daudi</text>
<text x="224" y="1404.9" textLength="140.6" lengthAdjust="spacingAndGlyphs">HLA-DQB1 HH</text>
<text transform="translate(731.5 1304.8) scale(1.1 1)" font-weight="bold" fill="#1a1a1a" font-size="32">e</text>
<rect x="845.3" y="1300.5" width="19.2" height="18.7" fill="#48ad8f"/>
<text x="877.2" y="1315.6" textLength="53.6" lengthAdjust="spacingAndGlyphs">0: HH</text>
<rect x="1017.1" y="1300.5" width="19.2" height="18.7" fill="#ee8867"/>
<text x="1045.9" y="1315.6" textLength="78.1" lengthAdjust="spacingAndGlyphs">1: Daudi</text>
<path d="M826 1359h0m0 6h0m1 0h0m1 0h0m-2 1h0m-1 1h0m2 0h0m3 1h0m-4 3h0m1 1h0m1 1h0m0 1h0m0 1h0m0 2h0m-3 1h0m0 2h0m2 0h0m1 0h0m-3 1h0m1 1h0m2 0h0m-2 2h0m1 0h0m-2 1h0m1 0h0m2 0h0m-2 1h0m2 0h0m-2 1h0m2 0h0m-2 1h0m2 0h0m-1 1h0m-3 2h0m3 0h0m-2 1h0m2 0h0m1 0h0m-2 1h0m2 0h0m-3 1h0m1 0h0m2 0h0m-3 1h0m3 0h0m0 1h0m-3 1h0m2 0h0m1 0h0m-3 1h0m3 0h0m-4 1h0m2 0h0m1 0h0m-1 1h0m1 0h0m-1 1h0m1 0h0m-2 1h0m2 0h0m1 0h0m-3 2h0m1 0h0m-1 1h0m2 0h0m-2 1h0m1 0h0m2 0h0m-3 1h0m2 0h0m-3 1h0m2 0h0m2 0h0m-4 1h0m2 0h0m1 0h0m-1 1h0m1 0h0m-1 1h0m1 0h0m1 0h0m-3 1h0m1 0h0m1 0h0m-2 1h0m1 0h0m-1 1h0m2 0h0m-1 1h0m1 0h0m-2 1h0m1 0h0m1 0h0m1 0h0m-3 1h0m1 0h0m1 0h0m1 0h0m-3 1h0m2 0h0m-1 1h0m1 0h0m1 0h0m-2 1h0m2 0h0m-4 1h0m1 0h0m2 0h0m1 0h0m-3 1h0m1 1h0m1 0h0m-2 1h0m0 1h0m1 0h0m1 0h0m1 0h0m-3 2h0m1 0h0m-1 1h0m1 0h0m1 0h0m-3 1h0m1 0h0m1 0h0m1 0h0m-3 1h0m1 0h0m2 0h0m-1 1h0m2 0h0m0 1h0m-1 2h0m-2 1h0m1 0h0m2 0h0m-1 1h0m-1 1h0m-1 1h0m1 2h0m2 1h0m-4 1h0m3 0h0m1 0h0m-1 2h0m0 2h0m-1 1h0m-1 1h0m3 1h0m-3 2h0m2 0h0m-2 1h0m3 1h0m0 1h0m-2 4h0m0 4h0m1 2h0m-1 4h0m4 3h0m-3 3h0m-2 17h0m2 0h0m1 0h0m-1 1h0" stroke="#666a6a" stroke-width="5" stroke-linecap="round" fill="none"/>
<path d="M842 1378h0m5 2h0m-6 13h0m8 9h0m-9 6h0m11 0h0m4 2h0m-2 1h0m1 0h0m2 3h0m-12 1h0m8 3h0m-8 1h0m3 1h0m-5 3h0m6 1h0m2 1h0m-3 5h0m0 5h0m2 0h0m-11 2h0m17 1h0m-11 1h0m12 1h0m-17 1h0m-2 3h0m5 1h0m4 3h0m9 0h0m-11 1h0m-5 2h0m7 1h0m1 1h0m-1 1h0m5 0h0m87 1h0m-85 2h0m-3 1h0m4 1h0m-17 1h0m13 0h0m1 0h0m-3 2h0m-13 1h0m16 0h0m2 0h0m4 1h0m-18 4h0m1 2h0m9 1h0m2 4h0m-14 6h0m17 11h0" stroke="#bb85ba" stroke-width="5" stroke-linecap="round" fill="none"/>
<path d="M828 1381h0m1 4h0m15 0h0m-7 2h0m3 0h0m-2 2h0m3 0h0m-10 2h0m16 2h0m-15 1h0m1 3h0m1 1h0m2 0h0m10 5h0m-7 1h0m-6 1h0m6 0h0m-9 2h0m1 0h0m11 0h0m4 1h0m-9 1h0m-8 1h0m12 2h0m5 1h0m1 2h0m-10 1h0m-4 4h0m-3 1h0m14 2h0m-9 2h0m12 1h0m-15 2h0m15 0h0m-12 2h0m4 3h0m6 1h0m-11 1h0m13 0h0m-3 3h0m-9 1h0m2 0h0m2 0h0m-5 1h0m-5 1h0m10 1h0m8 0h0m-18 1h0m3 0h0m-1 1h0m-1 1h0m6 0h0m4 0h0m-6 1h0m12 0h0m-13 1h0m-4 3h0m0 2h0m8 0h0m-7 2h0m11 0h0m-9 1h0m12 1h0m-3 1h0m-7 1h0m2 0h0m-7 1h0m1 0h0m0 1h0m8 0h0m-9 3h0m5 1h0m4 2h0m-5 2h0m1 0h0m-4 3h0m5 0h0m-1 1h0m7 0h0m-7 1h0m5 0h0m-9 2h0m4 1h0m9 0h0m-11 2h0m11 0h0m4 1h0m-8 2h0m8 0h0m-18 1h0m17 0h0m-7 1h0m-9 9h0m1 0h0m1 0h0m4 0h0m1 0h0m3 0h0m1 0h0m2 0h0m1 0h0m2 0h0" stroke="#e0187c" stroke-width="5" stroke-linecap="round" fill="none"/>
<path d="M817.9 1331.9V1499.6H991.6" stroke="#333" stroke-width="1.6" fill="none"/>
<text x="796.5" y="1499.9" text-anchor="end">0</text>
<text x="796.5" y="1454.6" text-anchor="end">1</text>
<text x="796.5" y="1409.2" text-anchor="end">2</text>
<text x="796.5" y="1363.9" text-anchor="end">3</text>
<path d="M808.9 1491.7h9M808.9 1446.4h9M808.9 1401h9M808.9 1355.7h9M825.8 1499.6v9.5M857 1499.6v9.5M888.2 1499.6v9.5M919.4 1499.6v9.5M950.6 1499.6v9.5M981.6 1499.6v9.5" stroke="#333" stroke-width="1.6" fill="none"/>
<text x="825.8" y="1536.4" text-anchor="middle">0</text>
<text x="857" y="1536.4" text-anchor="middle" textLength="23.3" lengthAdjust="spacingAndGlyphs">10</text>
<text x="888.2" y="1536.4" text-anchor="middle" textLength="23.3" lengthAdjust="spacingAndGlyphs">20</text>
<text x="919.4" y="1536.4" text-anchor="middle" textLength="23.3" lengthAdjust="spacingAndGlyphs">30</text>
<text x="950.6" y="1536.4" text-anchor="middle" textLength="23.3" lengthAdjust="spacingAndGlyphs">40</text>
<text x="981.6" y="1536.4" text-anchor="middle" textLength="23.3" lengthAdjust="spacingAndGlyphs">50</text>
<path d="M1011 1339h0m0 25h0m0 30h0m0 2h0m-1 3h0m2 2h0m-2 8h0m1 0h0m-1 2h0m1 0h0m-1 1h0m0 2h0m2 0h0m-2 1h0m0 3h0m0 2h0m1 0h0m1 1h0m-2 1h0m1 1h0m1 0h0m-2 2h0m2 0h0m0 1h0m0 1h0m-1 1h0m1 0h0m-2 1h0m1 0h0m-1 1h0m1 0h0m-1 1h0m0 1h0m0 1h0m0 1h0m1 0h0m1 0h0m-2 1h0m1 0h0m0 1h0m-1 1h0m1 0h0m1 0h0m-2 1h0m2 0h0m-2 1h0m1 0h0m0 1h0m0 1h0m0 1h0m-1 1h0m2 0h0m-2 2h0m2 0h0m-2 1h0m1 0h0m-1 1h0m1 0h0m1 0h0m-2 1h0m1 0h0m1 0h0m-2 1h0m1 0h0m-1 1h0m0 1h0m0 1h0m1 0h0m1 0h0m-2 1h0m1 0h0m1 0h0m-2 1h0m1 0h0m1 0h0m-2 1h0m1 0h0m1 0h0m-2 1h0m2 0h0m-2 1h0m1 0h0m-1 1h0m1 0h0m-1 1h0m1 0h0m-1 1h0m1 0h0m-1 1h0m1 0h0m-1 1h0m2 0h0m-2 1h0m0 1h0m1 0h0m1 0h0m-2 1h0m1 0h0m1 0h0m-2 1h0m1 0h0m-1 1h0m1 0h0m0 1h0m1 0h0m-2 1h0m1 0h0m1 0h0m-2 1h0m1 0h0m1 0h0m-2 1h0m1 0h0m-1 1h0m1 0h0m1 0h0m-2 1h0m2 0h0m-1 1h0m-1 1h0m1 0h0m1 0h0m-1 1h0m1 0h0m-2 1h0m1 0h0m-1 1h0m0 1h0m1 0h0m-1 1h0m1 0h0m1 0h0m-2 1h0m1 0h0m-1 1h0m1 0h0m1 0h0m-1 1h0m-1 1h0m1 0h0m1 0h0m-1 1h0m-1 1h0m1 0h0m1 0h0m-2 1h0m1 0h0m-1 1h0m1 0h0m1 0h0m-2 1h0m1 0h0m1 0h0m-2 1h0m1 0h0m-1 1h0m2 0h0m0 1h0" stroke="#666a6a" stroke-width="5" stroke-linecap="round" fill="none"/>
<path d="M1025 1428h0m10 17h0m-12 2h0m4 2h0m3 0h0m4 0h0m-12 1h0m5 2h0m5 3h0m-7 5h0m1 0h0m2 0h0m1 2h0m2 3h0m-7 2h0m-2 1h0m2 2h0m11 0h0m-11 4h0m4 2h0m3 2h0m5 5h0m-12 9h0m3 0h0m4 0h0m1 0h0m4 0h0m3 0h0m4 0h0m3 0h0m1 0h0m67 0h0m54 0h0" stroke="#bb85ba" stroke-width="5" stroke-linecap="round" fill="none"/>
<path d="M1017 1433h0m2 1h0m-2 1h0m6 0h0m1 2h0m3 1h0m-7 1h0m3 0h0m-5 1h0m2 0h0m2 0h0m-1 1h0m0 1h0m-2 1h0m2 1h0m0 1h0m-4 3h0m4 0h0m4 0h0m-1 1h0m-8 1h0m11 0h0m-6 1h0m-4 2h0m10 2h0m-9 1h0m-1 1h0m4 0h0m3 3h0m2 0h0m-9 1h0m1 0h0m8 0h0m-9 1h0m4 0h0m-4 3h0m1 1h0m4 0h0m33 0h0m-36 1h0m5 0h0m2 0h0m-10 2h0m3 0h0m7 0h0m-5 1h0m-2 2h0m5 1h0m-2 1h0m-6 3h0m5 0h0m-5 2h0m3 1h0m1 0h0m3 0h0m3 0h0m-4 1h0m2 0h0m-6 1h0m5 0h0m-7 10h0m1 0h0m2 0h0m1 0h0m1 0h0m1 0h0m1 0h0m3 0h0m1 0h0m1 0h0m3 0h0" stroke="#e0187c" stroke-width="5" stroke-linecap="round" fill="none"/>
<path d="M1003.2 1331.9V1499.6H1176.6" stroke="#333" stroke-width="1.6" fill="none"/>
<path d="M1010.8 1499.6v9.5M1042 1499.6v9.5M1073.2 1499.6v9.5M1104.4 1499.6v9.5M1135.6 1499.6v9.5M1166.6 1499.6v9.5" stroke="#333" stroke-width="1.6" fill="none"/>
<text x="1010.8" y="1536.4" text-anchor="middle">0</text>
<text x="1042" y="1536.4" text-anchor="middle" textLength="23.3" lengthAdjust="spacingAndGlyphs">10</text>
<text x="1073.2" y="1536.4" text-anchor="middle" textLength="23.3" lengthAdjust="spacingAndGlyphs">20</text>
<text x="1104.4" y="1536.4" text-anchor="middle" textLength="23.3" lengthAdjust="spacingAndGlyphs">30</text>
<text x="1135.6" y="1536.4" text-anchor="middle" textLength="23.3" lengthAdjust="spacingAndGlyphs">40</text>
<text x="1166.6" y="1536.4" text-anchor="middle" textLength="23.3" lengthAdjust="spacingAndGlyphs">50</text>
<path d="M825.8 1417.6L901.2 1499.6" stroke="#000" stroke-width="2.6"/>
<path d="M1010.8 1460.1L1081.9 1499.6" stroke="#000" stroke-width="2.6"/>
<text x="913.9" y="1355.7" font-style="italic">P</text>
<text x="933.5" y="1355.7" textLength="41" lengthAdjust="spacingAndGlyphs">&lt; 10</text>
<text x="974.9" y="1342" font-size="14.5" textLength="15.2" lengthAdjust="spacingAndGlyphs">−5</text>
<text x="1090.8" y="1355.7" font-style="italic">P</text>
<text x="1110.4" y="1355.7" textLength="41" lengthAdjust="spacingAndGlyphs">&lt; 10</text>
<text x="1151.2" y="1342" font-size="14.5" textLength="22.6" lengthAdjust="spacingAndGlyphs">−12</text>
<text x="816" y="1567.6" textLength="372" lengthAdjust="spacingAndGlyphs">Deletion size (mean nucleotides per cell)</text>
<text text-anchor="middle" font-style="italic" transform="translate(739.7 1416.9) rotate(-90)" textLength="104.9" lengthAdjust="spacingAndGlyphs">HLA-DQB1</text>
<text text-anchor="middle" transform="translate(764.4 1415.7) rotate(-90)" textLength="138.2" lengthAdjust="spacingAndGlyphs">log(CP10K +1)</text>
<text transform="translate(1277.5 427.7) scale(1.1 1)" font-weight="bold" fill="#1a1a1a" font-size="32">g</text>
<text x="1444.1" y="444" text-anchor="end" textLength="118.3" lengthAdjust="spacingAndGlyphs">Reference: A</text>
<text x="1444.1" y="506.1" text-anchor="end" textLength="102.6" lengthAdjust="spacingAndGlyphs">CRISPR: G</text>
<path d="M1453.6 412.9V460.6M1463.1 412.9V460.6M1472.7 412.9V460.6M1482.2 412.9V460.6M1491.8 412.9V460.6M1501.3 412.9V460.6M1510.9 412.9V460.6M1520.5 412.9V460.6M1530 412.9V460.6M1539.6 412.9V460.6M1549.1 412.9V460.6M1558.7 412.9V460.6M1568.2 412.9V460.6M1577.8 412.9V460.6M1587.3 412.9V460.6M1596.9 412.9V460.6M1606.5 412.9V460.6M1616 412.9V460.6M1625.6 412.9V460.6M1635.1 412.9V460.6M1644.7 412.9V460.6M1654.2 412.9V460.6M1663.8 412.9V460.6M1673.3 412.9V460.6M1682.9 412.9V460.6M1692.5 412.9V460.6M1702 412.9V460.6M1711.6 412.9V460.6M1721.1 412.9V460.6M1730.7 412.9V460.6M1740.2 412.9V460.6M1749.8 412.9V460.6M1759.3 412.9V460.6M1768.9 412.9V460.6M1778.5 412.9V460.6M1788 412.9V460.6M1797.6 412.9V460.6M1807.1 412.9V460.6M1816.7 412.9V460.6M1826.2 412.9V460.6M1835.8 412.9V460.6M1845.3 412.9V460.6M1854.9 412.9V460.6M1864.5 412.9V460.6M1874 412.9V460.6M1883.6 412.9V460.6M1893.1 412.9V460.6M1902.7 412.9V460.6M1912.2 412.9V460.6M1921.8 412.9V460.6M1931.3 412.9V460.6M1940.9 412.9V460.6" stroke="#cfcfcf" stroke-width="0.8" fill="none"/>
<path d="M1453.6 412.9L1940.9 412.9" stroke="#111" stroke-width="2"/>
<path d="M1453.6 460.6L1940.9 460.6" stroke="#111" stroke-width="2"/>
<text x="1458.3 1467.9 1477.5 1487 1496.6 1506.1 1515.7 1525.2 1534.8 1544.3 1553.9 1563.5 1573 1582.6 1592.1 1601.7 1611.2 1620.8 1630.3 1639.9 1649.5 1659 1668.6 1678.1 1687.7 1697.2 1706.8 1716.3 1725.9 1735.5 1745 1754.6 1764.1 1773.7 1783.2 1792.8 1802.3 1811.9 1821.5 1831 1840.6 1850.1 1859.7 1869.2 1878.8 1888.3 1897.9 1907.5 1917 1926.6 1936.1" y="441.8" font-size="13.6" text-anchor="middle" fill="#333">CAAGAGTCCAGGCTAATCCTACCTGCTTGCCACTGTGTATCCGGTTTCTTC</text>
<rect x="1644.7" y="476.3" width="9.6" height="45.3" fill="#6bb57e"/>
<path d="M1453.6 474.7V523.1M1463.1 474.7V523.1M1472.7 474.7V523.1M1482.2 474.7V523.1M1491.8 474.7V523.1M1501.3 474.7V523.1M1510.9 474.7V523.1M1520.5 474.7V523.1M1530 474.7V523.1M1539.6 474.7V523.1M1549.1 474.7V523.1M1558.7 474.7V523.1M1568.2 474.7V523.1M1577.8 474.7V523.1M1587.3 474.7V523.1M1596.9 474.7V523.1M1606.5 474.7V523.1M1616 474.7V523.1M1625.6 474.7V523.1M1635.1 474.7V523.1M1644.7 474.7V523.1M1654.2 474.7V523.1M1663.8 474.7V523.1M1673.3 474.7V523.1M1682.9 474.7V523.1M1692.5 474.7V523.1M1702 474.7V523.1M1711.6 474.7V523.1M1721.1 474.7V523.1M1730.7 474.7V523.1M1740.2 474.7V523.1M1749.8 474.7V523.1M1759.3 474.7V523.1M1768.9 474.7V523.1M1778.5 474.7V523.1M1788 474.7V523.1M1797.6 474.7V523.1M1807.1 474.7V523.1M1816.7 474.7V523.1M1826.2 474.7V523.1M1835.8 474.7V523.1M1845.3 474.7V523.1M1854.9 474.7V523.1M1864.5 474.7V523.1M1874 474.7V523.1M1883.6 474.7V523.1M1893.1 474.7V523.1M1902.7 474.7V523.1M1912.2 474.7V523.1M1921.8 474.7V523.1M1931.3 474.7V523.1M1940.9 474.7V523.1" stroke="#cfcfcf" stroke-width="0.8" fill="none"/>
<path d="M1453.6 474.7L1940.9 474.7" stroke="#111" stroke-width="2"/>
<path d="M1453.6 523.1L1940.9 523.1" stroke="#111" stroke-width="2"/>
<text x="1458.3 1467.9 1477.5 1487 1496.6 1506.1 1515.7 1525.2 1534.8 1544.3 1553.9 1563.5 1573 1582.6 1592.1 1601.7 1611.2 1620.8 1630.3 1639.9 1649.5 1659 1668.6 1678.1 1687.7 1697.2 1706.8 1716.3 1725.9 1735.5 1745 1754.6 1764.1 1773.7 1783.2 1792.8 1802.3 1811.9 1821.5 1831 1840.6 1850.1 1859.7 1869.2 1878.8 1888.3 1897.9 1907.5 1917 1926.6 1936.1" y="503.9" font-size="13.6" text-anchor="middle" fill="#333">CAAGAGTCCAGGCTAATCCTGCCTGCTTGCCACTGTGTATCCGGTTTCTTC</text>
<text transform="translate(1278 581.8) scale(1.1 1)" font-weight="bold" fill="#1a1a1a" font-size="32">h</text>
<rect x="1366.1" y="574" width="18.9" height="18.4" fill="#2878ba"/>
<text x="1396.5" y="590.5" textLength="67.6" lengthAdjust="spacingAndGlyphs">Control</text>
<rect x="1479.7" y="574" width="18.9" height="18.4" fill="#f4978a"/>
<text x="1505.6" y="590.5" textLength="75.5" lengthAdjust="spacingAndGlyphs">CRISPR</text>
<rect x="1606.2" y="574" width="19.1" height="18.4" fill="#52ad93"/>
<text x="1631.2" y="590.5" textLength="57.1" lengthAdjust="spacingAndGlyphs">Jurkat</text>
<rect x="1752.3" y="574" width="19.1" height="18.4" fill="#ee8867"/>
<text x="1780.8" y="590.5" textLength="54.8" lengthAdjust="spacingAndGlyphs">Daudi</text>
<rect x="1394.9" y="600" width="75.6" height="79.1" fill="none" stroke="#333" stroke-width="1.3"/>
<rect x="1394.9" y="689" width="75.6" height="79.2" fill="none" stroke="#333" stroke-width="1.3"/>
<rect x="1394.9" y="778.1" width="75.6" height="79.2" fill="none" stroke="#333" stroke-width="1.3"/>
<rect x="1479.7" y="600" width="75.9" height="79.1" fill="none" stroke="#333" stroke-width="1.3"/>
<rect x="1479.7" y="689" width="75.9" height="79.2" fill="none" stroke="#333" stroke-width="1.3"/>
<rect x="1479.7" y="778.1" width="75.9" height="79.2" fill="none" stroke="#333" stroke-width="1.3"/>
<text x="1382.4" y="642.6" text-anchor="end">G</text>
<text x="1382.4" y="730.3" text-anchor="end" textLength="36.1" lengthAdjust="spacingAndGlyphs">A/G</text>
<text x="1382.4" y="815.8" text-anchor="end">A</text>
<text x="1415.4" y="618.8" text-anchor="middle" font-size="17.6" textLength="18" lengthAdjust="spacingAndGlyphs">16</text>
<circle cx="1415.4" cy="639.5" r="1.1" fill="#52ad93"/>
<text x="1449.5" y="618.8" text-anchor="middle" font-size="17.6">1</text>
<circle cx="1449.5" cy="639.5" r="0.9" fill="#ee8867"/>
<text x="1500.2" y="618.8" text-anchor="middle" font-size="17.6" textLength="27" lengthAdjust="spacingAndGlyphs">665</text>
<circle cx="1500.2" cy="639.5" r="13.2" fill="#52ad93"/>
<text x="1534.8" y="618.8" text-anchor="middle" font-size="17.6" textLength="27" lengthAdjust="spacingAndGlyphs">889</text>
<circle cx="1534.8" cy="639.5" r="17.2" fill="#ee8867"/>
<text x="1415.4" y="718.9" text-anchor="middle" font-size="17.6">4</text>
<circle cx="1415.4" cy="728.6" r="0.9" fill="#52ad93"/>
<text x="1449.5" y="718.9" text-anchor="middle" font-size="17.6">4</text>
<circle cx="1449.5" cy="728.6" r="0.9" fill="#ee8867"/>
<text x="1500.2" y="718.9" text-anchor="middle" font-size="17.6">1</text>
<circle cx="1500.2" cy="728.6" r="0.8" fill="#52ad93"/>
<text x="1534.8" y="718.9" text-anchor="middle" font-size="17.6" textLength="18" lengthAdjust="spacingAndGlyphs">35</text>
<circle cx="1534.8" cy="728.6" r="1.6" fill="#ee8867"/>
<text x="1415.4" y="799.8" text-anchor="middle" font-size="17.6" textLength="27" lengthAdjust="spacingAndGlyphs">683</text>
<circle cx="1415.4" cy="817.9" r="13.4" fill="#52ad93"/>
<text x="1449.5" y="799.8" text-anchor="middle" font-size="17.6" textLength="25.8" lengthAdjust="spacingAndGlyphs">110</text>
<circle cx="1449.5" cy="817.9" r="3.1" fill="#ee8867"/>
<text x="1500.2" y="799.8" text-anchor="middle" font-size="17.6" textLength="27" lengthAdjust="spacingAndGlyphs">162</text>
<circle cx="1500.2" cy="817.9" r="4" fill="#52ad93"/>
<text x="1534.8" y="799.8" text-anchor="middle" font-size="17.6" textLength="27" lengthAdjust="spacingAndGlyphs">181</text>
<circle cx="1534.8" cy="817.9" r="4.3" fill="#ee8867"/>
<text text-anchor="end" transform="translate(1420.3 876.3) rotate(-45)" textLength="57.1" lengthAdjust="spacingAndGlyphs">Jurkat</text>
<text text-anchor="end" transform="translate(1455 877) rotate(-45)" textLength="54.8" lengthAdjust="spacingAndGlyphs">Daudi</text>
<text text-anchor="end" transform="translate(1508 876.3) rotate(-45)" textLength="57.1" lengthAdjust="spacingAndGlyphs">Jurkat</text>
<text text-anchor="end" transform="translate(1546.2 877) rotate(-45)" textLength="54.8" lengthAdjust="spacingAndGlyphs">Daudi</text>
<path d="M1616.8 605.8V849.7M1643.2 605.8V849.7M1669.4 605.8V849.7M1695.5 605.8V849.7M1721.9 605.8V849.7M1594.7 651.3H1728.7M1594.7 727.4H1728.7M1594.7 804H1728.7" stroke="#e4e4e4" stroke-width="1.5" fill="none"/>
<path d="M1594.7 651.3H1728.7M1594.7 727.4H1728.7M1594.7 804H1728.7" stroke="#e2e2e2" stroke-width="2.4" fill="none"/>
<path d="M1603.7 605.8V849.7M1630 605.8V849.7M1656.2 605.8V849.7M1682.5 605.8V849.7M1708.8 605.8V849.7" stroke="#ebebeb" stroke-width="0.9" fill="none"/>
<path d="M1601 620h0m34 0h0m-29 1h0m11 0h0m3 1h0m8 0h0m25 0h0m-42 1h0m8 0h0m3 0h0m-14 1h0m1 0h0m2 0h0m2 0h0m0 1h0m3 0h0m6 0h0m12 0h0m-27 1h0m4 0h0m16 0h0m9 0h0m2 0h0m-24 1h0m1 0h0m5 0h0m5 0h0m4 0h0m-10 1h0m4 0h0m4 0h0m-2 1h0m-14 1h0m10 0h0m9 0h0m2 0h0m1 0h0m-25 1h0m2 0h0m1 0h0m-3 1h0m11 0h0m14 0h0m1 0h0m-36 1h0m7 0h0m18 0h0m4 0h0m2 0h0m4 0h0m-28 1h0m7 0h0m1 0h0m2 0h0m1 0h0m7 0h0m-13 1h0m10 0h0m11 0h0m-25 1h0m14 0h0m5 0h0m6 0h0m2 0h0m3 0h0m22 0h0m-51 1h0m7 0h0m4 0h0m3 0h0m3 0h0m2 0h0m-18 1h0m4 0h0m6 0h0m16 0h0m-25 1h0m1 0h0m4 0h0m7 0h0m2 0h0m-6 1h0m3 0h0m2 0h0m4 0h0m19 0h0m-39 1h0m7 0h0m3 0h0m-8 1h0m1 0h0m7 0h0m19 0h0m-28 1h0m5 0h0m7 1h0m2 0h0m2 0h0m-18 1h0m2 0h0m3 0h0m18 0h0m2 0h0m16 0h0m-23 1h0m4 0h0m-6 1h0m2 0h0m4 0h0m1 0h0m2 0h0m32 0h0m-47 1h0m6 0h0m1 0h0m2 0h0m5 0h0m1 0h0m6 0h0m-23 1h0m12 0h0m6 0h0m4 0h0m-28 1h0m1 0h0m8 0h0m12 0h0m2 0h0m28 0h0m-50 1h0m2 0h0m10 0h0m3 0h0m20 0h0m3 0h0m-49 1h0m11 0h0m16 0h0m9 0h0m7 0h0m18 0h0m-51 1h0m17 0h0m4 0h0m6 0h0m-38 1h0m9 0h0m8 0h0m19 0h0m2 0h0m1 0h0m21 0h0m44 0h0m-83 1h0m2 0h0m15 0h0m2 0h0m-34 1h0m2 0h0m14 0h0m13 0h0m-10 1h0m7 0h0m17 0h0m-40 1h0m1 0h0m1 0h0m8 0h0m5 0h0m1 0h0m10 0h0m-26 1h0m9 0h0m2 0h0m1 0h0m16 0h0m1 0h0m-30 1h0m13 0h0m0 1h0m1 0h0m8 0h0m28 0h0m-41 1h0m3 0h0m43 0h0m-50 1h0m10 0h0m12 0h0m8 0h0m21 0h0m-49 1h0m-6 1h0m2 0h0m13 0h0m6 0h0m5 0h0m38 0h0m-39 2h0m37 0h0m-61 1h0m2 0h0m3 0h0m8 0h0m-3 1h0m3 0h0m2 0h0m9 0h0m3 0h0m3 0h0m22 0h0m-49 1h0m6 0h0m12 0h0m4 0h0m2 0h0m-28 1h0m1 0h0m6 0h0m7 0h0m1 0h0m2 0h0m1 0h0m5 0h0m5 0h0m1 0h0m2 0h0m-16 1h0m5 0h0m4 0h0m-20 1h0m1 0h0m2 0h0m9 0h0m3 0h0m1 0h0m7 0h0m-25 1h0m9 0h0m6 0h0m4 0h0m-9 1h0m-4 1h0m2 0h0m3 0h0m1 0h0m1 0h0m-9 1h0m10 0h0m5 0h0m1 0h0m-4 1h0m3 0h0m-3 1h0m3 0h0m8 0h0m1 0h0m-28 1h0m3 0h0m7 0h0m14 0h0m6 0h0m6 0h0m-24 1h0m3 0h0m36 0h0m-41 1h0m10 0h0m-6 54h0m11 37h0m5 0h0m-15 1h0m6 0h0m-10 1h0m7 0h0m3 0h0m4 0h0m-22 1h0m17 0h0m2 0h0m2 0h0m4 0h0m-13 1h0m1 0h0m9 0h0m3 0h0m16 0h0m7 0h0m-40 1h0m9 0h0m9 0h0m-4 1h0m26 0h0m-37 1h0m3 0h0m11 0h0m3 0h0m-14 1h0m5 0h0m1 0h0m5 0h0m1 0h0m23 0h0m-40 1h0m4 0h0m2 0h0m8 0h0m2 0h0m-12 1h0m1 0h0m26 0h0m-30 1h0m14 0h0m23 0h0m-35 1h0m3 0h0m2 0h0m1 0h0m20 0h0m-38 1h0m9 0h0m4 0h0m18 0h0m-22 1h0m2 0h0m6 0h0m3 0h0m6 0h0m5 0h0m-31 1h0m25 0h0m2 0h0m-20 1h0m5 0h0m3 0h0m7 0h0m1 0h0m5 0h0m-14 1h0m2 0h0m4 0h0m-11 1h0m1 0h0m2 0h0m2 0h0m10 0h0m18 0h0m-32 1h0m3 0h0m2 0h0m2 0h0m6 0h0m3 0h0m36 0h0m-46 1h0m3 0h0m5 0h0m13 0h0m-30 1h0m14 0h0m1 0h0m29 0h0m-39 1h0m8 0h0m1 0h0m12 0h0m10 0h0m-30 2h0m7 0h0m4 0h0m14 0h0m65 0h0m-100 1h0m11 0h0m1 0h0m2 0h0m10 0h0m-16 1h0m9 0h0m6 0h0m12 0h0m-27 1h0m3 0h0m1 0h0m4 0h0m4 0h0m16 0h0m-30 1h0m15 0h0m11 0h0m-26 1h0m15 0h0m1 0h0m1 0h0m22 0h0m-23 1h0m23 0h0m10 0h0m-45 1h0m2 0h0m1 0h0m3 0h0m8 0h0m-11 1h0m1 0h0m7 0h0m9 0h0m25 0h0m12 0h0m-56 1h0m8 0h0m54 0h0m-65 1h0m10 0h0m4 0h0m-9 1h0m1 0h0m3 0h0m4 0h0m18 0h0m2 0h0m-34 1h0m1 0h0m7 0h0m16 0h0m-20 1h0m6 0h0m10 0h0m30 0h0m-43 1h0m8 0h0m1 0h0m9 0h0m3 0h0m3 0h0m4 0h0m-35 1h0m10 0h0m2 0h0m3 0h0m-21 1h0m13 0h0m10 0h0m1 0h0m9 0h0m3 0h0m5 0h0m-31 1h0m-14 1h0m11 0h0m1 0h0m4 0h0m11 0h0m-7 1h0m6 0h0m-17 1h0m5 0h0m2 0h0m8 0h0m-8 1h0m1 0h0m1 0h0m6 0h0m47 0h0m-59 1h0m3 0h0m2 0h0m3 0h0m5 0h0m-10 1h0m3 0h0m1 0h0m7 0h0m1 0h0m10 0h0m7 0h0m-17 1h0m9 0h0m-26 1h0m6 0h0m-4 1h0m6 0h0m3 0h0m1 0h0m-13 1h0m15 0h0m24 0h0m-38 1h0m3 0h0m3 0h0m7 0h0m10 0h0m-20 1h0m19 0h0m21 0h0m-39 1h0m3 0h0m35 0h0m-40 1h0m1 0h0m2 0h0m11 0h0m8 0h0m40 0h0m-66 1h0m7 0h0m6 0h0m-12 1h0m2 0h0m5 0h0m1 0h0m1 0h0m10 0h0m3 0h0m31 0h0m-41 1h0m3 0h0m4 0h0m-19 1h0m2 0h0m3 0h0m9 0h0m51 0h0m-72 1h0m10 0h0m1 0h0m4 0h0m7 0h0m2 0h0m1 0h0m8 0h0m-26 1h0m1 0h0m4 0h0m8 0h0m2 0h0m3 0h0m-5 1h0m4 0h0" stroke="#0a0a0a" stroke-width="4.8" stroke-linecap="round" fill="none" opacity="0.55"/>
<path d="M1629 621h0m7 0h0m-32 1h0m7 0h0m11 0h0m13 0h0m29 0h0m-55 1h0m22 0h0m5 0h0m-28 1h0m6 0h0m4 0h0m2 0h0m8 0h0m-17 1h0m22 0h0m39 0h0m-62 1h0m12 0h0m-11 1h0m8 0h0m14 0h0m1 0h0m-29 1h0m1 0h0m8 0h0m16 0h0m4 0h0m29 0h0m-56 1h0m7 0h0m2 0h0m16 0h0m2 0h0m-27 1h0m10 0h0m13 0h0m-25 1h0m1 0h0m1 0h0m6 0h0m5 0h0m5 0h0m1 0h0m38 0h0m-32 1h0m-17 1h0m12 0h0m6 0h0m3 0h0m2 0h0m-19 1h0m2 0h0m1 0h0m2 0h0m7 0h0m-21 1h0m11 0h0m8 0h0m9 0h0m1 0h0m-16 1h0m2 0h0m13 0h0m-31 1h0m1 0h0m10 0h0m7 0h0m2 0h0m1 0h0m5 0h0m6 0h0m-33 1h0m11 0h0m1 0h0m19 0h0m-26 1h0m3 0h0m18 0h0m3 0h0m10 0h0m-36 1h0m3 0h0m11 0h0m3 0h0m1 0h0m31 0h0m9 0h0m-51 1h0m1 0h0m17 0h0m5 0h0m-30 1h0m18 0h0m3 0h0m4 0h0m4 0h0m-32 1h0m19 0h0m12 0h0m-29 1h0m4 0h0m8 0h0m2 0h0m9 0h0m7 0h0m-24 1h0m24 0h0m-26 1h0m14 0h0m3 0h0m-17 1h0m2 0h0m10 0h0m11 0h0m-28 1h0m3 0h0m18 0h0m3 0h0m23 0h0m-31 1h0m3 0h0m13 0h0m34 0h0m-74 1h0m15 0h0m2 0h0m1 0h0m9 0h0m1 0h0m7 0h0m4 0h0m-31 1h0m13 0h0m6 0h0m6 0h0m2 0h0m4 0h0m-20 1h0m16 0h0m4 0h0m-27 1h0m6 0h0m7 0h0m3 0h0m6 0h0m5 0h0m11 0h0m-37 1h0m3 0h0m2 0h0m-8 1h0m24 0h0m6 0h0m-30 1h0m19 0h0m1 1h0m8 0h0m-24 1h0m5 0h0m14 0h0m3 0h0m13 0h0m-39 1h0m3 0h0m7 0h0m1 0h0m-13 1h0m1 0h0m8 0h0m1 0h0m5 0h0m1 0h0m8 0h0m-30 1h0m5 0h0m12 0h0m1 0h0m4 0h0m-16 1h0m10 0h0m18 0h0m-25 1h0m1 0h0m2 0h0m6 0h0m1 0h0m5 0h0m4 0h0m1 0h0m8 0h0m-26 1h0m3 0h0m-4 1h0m8 0h0m3 0h0m12 1h0m5 0h0m-18 1h0m3 0h0m2 0h0m9 0h0m17 0h0m-39 1h0m20 0h0m5 0h0m-24 1h0m4 0h0m1 0h0m12 0h0m21 0h0m-47 1h0m3 0h0m7 0h0m4 0h0m6 0h0m10 0h0m3 0h0m18 0h0m-49 1h0m20 0h0m17 0h0m-26 1h0m-8 1h0m4 0h0m10 0h0m28 0h0m-46 1h0m7 0h0m16 0h0m-9 1h0m29 0h0m-41 1h0m30 0h0m11 0h0m-27 1h0m6 0h0m3 0h0m1 0h0m-31 1h0m16 0h0m2 0h0m7 0h0m5 0h0m4 0h0m13 0h0m-32 1h0m21 0h0m-37 1h0m10 0h0m4 0h0m6 0h0m2 0h0m5 0h0m3 0h0m8 0h0m-29 1h0m14 0h0m1 0h0m7 0h0m-7 1h0m3 0h0m8 0h0m21 0h0m15 68h0m-38 23h0m-10 1h0m2 0h0m2 0h0m8 0h0m18 0h0m3 1h0m-33 1h0m3 0h0m11 0h0m2 0h0m25 0h0m-48 1h0m14 0h0m14 0h0m-18 1h0m2 0h0m2 0h0m3 0h0m9 0h0m-18 1h0m5 0h0m1 0h0m3 0h0m3 0h0m1 0h0m2 0h0m17 0h0m9 0h0m-44 1h0m2 0h0m1 0h0m2 0h0m3 0h0m20 0h0m-28 1h0m9 0h0m3 0h0m3 0h0m33 0h0m-42 1h0m4 0h0m6 0h0m2 0h0m25 0h0m25 0h0m-72 1h0m5 0h0m25 0h0m-30 1h0m7 0h0m16 0h0m-19 1h0m3 0h0m2 0h0m4 0h0m1 0h0m3 0h0m9 0h0m3 0h0m-21 1h0m15 0h0m-20 1h0m15 0h0m4 0h0m17 0h0m-33 1h0m3 0h0m2 0h0m4 0h0m2 0h0m1 0h0m1 0h0m3 0h0m-18 1h0m7 0h0m8 0h0m9 0h0m-24 1h0m1 0h0m3 0h0m2 0h0m1 0h0m3 0h0m-15 1h0m10 0h0m1 0h0m4 0h0m3 0h0m3 0h0m-15 1h0m3 0h0m-2 1h0m3 0h0m11 0h0m1 0h0m1 0h0m8 0h0m-21 1h0m9 0h0m-13 1h0m14 0h0m-12 1h0m3 0h0m1 0h0m5 0h0m5 0h0m-15 1h0m7 0h0m2 0h0m3 0h0m2 0h0m1 0h0m5 0h0m9 0h0m-31 1h0m14 0h0m3 0h0m41 0h0m6 0h0m-64 1h0m3 0h0m3 0h0m2 0h0m29 0h0m-35 1h0m2 0h0m11 0h0m-13 1h0m1 0h0m7 0h0m1 0h0m3 0h0m6 0h0m3 0h0m50 0h0m-81 1h0m13 0h0m9 0h0m-16 1h0m17 0h0m-14 1h0m12 0h0m1 0h0m16 0h0m19 0h0m-46 1h0m12 0h0m1 0h0m-7 1h0m1 0h0m4 0h0m4 0h0m5 0h0m9 0h0m-32 1h0m2 0h0m10 0h0m-5 1h0m6 0h0m23 0h0m6 0h0m-42 1h0m7 0h0m5 0h0m3 0h0m1 0h0m2 0h0m3 0h0m3 0h0m-20 1h0m2 0h0m6 0h0m-13 1h0m6 0h0m12 0h0m-16 1h0m5 0h0m10 0h0m6 0h0m-13 1h0m4 0h0m6 0h0m3 0h0m-8 1h0m4 0h0m6 0h0m-23 1h0m11 0h0m10 0h0m9 0h0m-30 1h0m4 0h0m5 0h0m3 0h0m3 0h0m2 0h0m21 0h0m-41 1h0m6 0h0m13 0h0m6 0h0m-23 1h0m3 1h0m6 0h0m2 0h0m6 0h0m-23 1h0m18 0h0m5 0h0m4 0h0m-16 1h0m11 0h0m17 0h0m7 0h0m-32 1h0m5 0h0m2 0h0m2 0h0m-20 1h0m5 0h0m1 0h0m22 0h0m23 0h0m-57 1h0m2 0h0m8 0h0m11 0h0m3 0h0m24 0h0m-32 1h0m8 0h0m2 0h0m-11 1h0m4 0h0m5 1h0m-9 1h0m1 0h0m2 0h0m2 0h0m3 0h0m3 0h0m-23 1h0m2 0h0m10 0h0m4 0h0m3 0h0m4 0h0m8 0h0m13 0h0m19 0h0m-51 1h0m1 0h0m7 0h0m3 0h0m79 0h0m-96 1h0m1 0h0m1 0h0m1 0h0m15 0h0m20 0h0m-30 1h0m3 1h0m2 0h0m1 0h0m32 0h0m-46 1h0m3 0h0m21 0h0m-23 1h0m12 0h0" stroke="#0a0a0a" stroke-width="4.8" stroke-linecap="round" fill="none" opacity="0.55"/>
<path d="M1606 621h0m3 0h0m5 0h0m-4 1h0m14 0h0m12 0h0m-26 1h0m1 0h0m1 0h0m10 0h0m2 0h0m44 0h0m-62 1h0m91 0h0m-88 1h0m14 0h0m4 0h0m5 0h0m15 0h0m-50 1h0m8 0h0m14 0h0m4 0h0m6 0h0m5 0h0m3 0h0m-26 1h0m10 0h0m7 0h0m-2 1h0m13 0h0m-33 1h0m10 0h0m1 0h0m5 0h0m3 1h0m2 0h0m2 0h0m-24 1h0m7 0h0m1 0h0m3 0h0m8 0h0m6 0h0m15 0h0m-36 1h0m2 0h0m-5 1h0m2 0h0m8 0h0m17 0h0m-7 1h0m1 0h0m7 0h0m-27 1h0m19 0h0m-22 1h0m5 0h0m12 0h0m5 0h0m-21 1h0m15 0h0m7 0h0m6 0h0m7 0h0m-34 1h0m10 0h0m12 0h0m1 0h0m23 0h0m-48 1h0m22 0h0m61 0h0m-73 1h0m12 0h0m3 0h0m5 0h0m-28 1h0m1 0h0m4 0h0m19 0h0m-22 1h0m22 0h0m-15 1h0m8 0h0m8 0h0m32 0h0m-49 1h0m9 0h0m6 0h0m6 0h0m-26 1h0m7 0h0m8 0h0m4 0h0m5 0h0m-13 1h0m5 0h0m7 0h0m-27 1h0m9 0h0m3 0h0m4 0h0m-15 1h0m16 0h0m8 0h0m1 0h0m4 0h0m1 0h0m-31 1h0m23 0h0m7 0h0m-30 1h0m19 0h0m5 0h0m3 0h0m-26 1h0m4 0h0m6 0h0m17 0h0m-28 1h0m1 0h0m1 0h0m4 0h0m8 0h0m8 0h0m14 0h0m-33 1h0m19 0h0m1 0h0m10 0h0m2 0h0m-36 1h0m4 0h0m1 0h0m11 0h0m58 0h0m-65 1h0m5 0h0m12 0h0m-25 1h0m13 0h0m5 0h0m30 0h0m5 0h0m-54 1h0m6 0h0m2 0h0m3 0h0m7 0h0m1 0h0m10 0h0m-28 1h0m3 0h0m3 0h0m4 0h0m17 0h0m10 0h0m-35 1h0m3 0h0m15 0h0m8 0h0m12 0h0m-27 1h0m-13 1h0m3 0h0m7 0h0m11 0h0m5 0h0m-20 1h0m15 0h0m9 0h0m-25 1h0m3 0h0m5 0h0m45 0h0m-53 1h0m2 0h0m2 0h0m7 0h0m14 0h0m2 0h0m29 0h0m-50 1h0m5 0h0m10 0h0m1 0h0m-27 1h0m5 0h0m6 0h0m6 0h0m2 0h0m4 0h0m1 0h0m5 0h0m-13 1h0m7 0h0m4 0h0m-9 1h0m3 0h0m3 0h0m2 0h0m2 0h0m8 0h0m34 0h0m-64 1h0m2 0h0m14 0h0m2 0h0m4 0h0m-11 1h0m17 0h0m5 0h0m-35 1h0m11 0h0m3 0h0m1 0h0m6 0h0m-14 1h0m1 0h0m2 0h0m2 0h0m2 0h0m6 0h0m-18 1h0m14 0h0m2 0h0m3 0h0m5 0h0m-27 1h0m4 0h0m17 0h0m-26 1h0m5 0h0m21 0h0m3 0h0m2 0h0m-14 1h0m3 0h0m9 0h0m-26 1h0m4 0h0m1 0h0m1 0h0m17 0h0m2 0h0m3 0h0m-29 1h0m30 0h0m26 0h0m-39 1h0m3 0h0m1 0h0m35 0h0m-44 1h0m9 0h0m3 0h0m6 0h0m1 0h0m-20 1h0m2 0h0m6 0h0m10 0h0m-21 1h0m1 0h0m9 0h0m5 0h0m6 28h0m-8 63h0m6 0h0m1 0h0m27 0h0m-40 1h0m3 0h0m2 0h0m3 0h0m6 0h0m2 0h0m8 0h0m1 0h0m3 0h0m14 0h0m4 0h0m-44 1h0m9 0h0m4 0h0m8 0h0m5 0h0m8 0h0m-34 1h0m10 0h0m2 0h0m2 0h0m20 0h0m-31 1h0m9 0h0m-15 1h0m1 0h0m6 0h0m1 0h0m27 0h0m5 0h0m-34 1h0m8 0h0m3 0h0m-13 1h0m4 0h0m14 0h0m-17 1h0m21 0h0m28 0h0m-53 1h0m7 0h0m8 0h0m17 0h0m4 0h0m-36 1h0m5 0h0m1 1h0m-1 1h0m3 0h0m16 0h0m-22 1h0m4 0h0m6 0h0m4 0h0m23 0h0m-47 1h0m11 0h0m4 0h0m4 0h0m-10 1h0m3 0h0m-13 1h0m12 0h0m1 0h0m1 0h0m9 0h0m1 0h0m1 0h0m8 0h0m13 0h0m-32 1h0m4 0h0m5 0h0m2 0h0m-15 1h0m1 0h0m1 0h0m13 0h0m1 1h0m7 0h0m1 0h0m18 0h0m-44 1h0m3 0h0m6 0h0m3 0h0m-12 1h0m4 0h0m2 0h0m1 0h0m2 0h0m5 0h0m1 0h0m68 0h0m-86 1h0m3 0h0m19 0h0m50 0h0m-75 1h0m10 0h0m3 0h0m24 0h0m-28 1h0m4 0h0m8 0h0m-14 1h0m12 0h0m2 0h0m5 0h0m-15 1h0m-9 1h0m8 0h0m9 0h0m1 0h0m15 0h0m11 0h0m-33 1h0m3 0h0m3 0h0m1 0h0m48 0h0m-57 1h0m12 0h0m9 0h0m5 0h0m-28 1h0m6 0h0m7 0h0m1 0h0m-9 1h0m-2 2h0m12 0h0m9 0h0m3 0h0m-27 1h0m3 0h0m8 0h0m-9 1h0m5 0h0m4 0h0m5 0h0m-15 1h0m21 0h0m-12 1h0m4 0h0m-9 1h0m2 0h0m30 0h0m-40 1h0m2 0h0m3 0h0m2 0h0m7 0h0m2 0h0m1 0h0m-17 1h0m1 0h0m1 0h0m4 0h0m1 0h0m1 0h0m2 0h0m5 0h0m2 0h0m11 0h0m29 0h0m-58 1h0m1 0h0m5 1h0m3 0h0m8 0h0m6 0h0m29 0h0m-49 1h0m1 0h0m1 0h0m10 0h0m63 0h0m-75 1h0m12 0h0m1 0h0m10 0h0m11 0h0m-27 1h0m1 0h0m2 0h0m1 0h0m2 0h0m2 0h0m14 0h0m6 0h0m-44 1h0m34 0h0m-22 1h0m1 0h0m3 0h0m4 0h0m28 0h0m-40 1h0m2 0h0m6 0h0m3 0h0m8 0h0m35 0h0m-53 1h0m1 0h0m3 0h0m4 0h0m5 0h0m2 0h0m6 0h0m-23 1h0m8 0h0m3 0h0m11 0h0m19 0h0m-49 1h0m14 0h0m8 0h0m12 0h0m9 0h0m-33 1h0m6 0h0m1 0h0m7 0h0m-12 1h0m21 0h0m-23 1h0m2 0h0m6 0h0m8 0h0m-12 1h0m5 0h0m3 0h0m-15 1h0m2 0h0m3 0h0m8 1h0m1 0h0m2 0h0m-11 1h0m7 0h0m2 0h0m-9 1h0m3 0h0m17 0h0m28 0h0m-51 1h0m2 0h0m-2 1h0m2 0h0m2 0h0m1 0h0m4 0h0m5 0h0m-14 1h0m37 0h0" stroke="#0a0a0a" stroke-width="4.8" stroke-linecap="round" fill="none" opacity="0.55"/>
<path d="M1630 621h0m-22 1h0m11 0h0m3 0h0m3 0h0m6 0h0m22 0h0m-39 1h0m4 0h0m3 0h0m-11 1h0m21 0h0m-25 1h0m1 0h0m17 0h0m-20 1h0m5 0h0m11 0h0m15 0h0m-27 1h0m1 0h0m1 0h0m4 0h0m21 0h0m-16 1h0m6 0h0m6 0h0m-14 1h0m10 0h0m2 0h0m2 0h0m3 0h0m-24 1h0m21 0h0m3 0h0m-7 1h0m9 0h0m12 0h0m-44 1h0m5 0h0m3 0h0m4 0h0m7 0h0m3 0h0m1 0h0m4 0h0m-26 1h0m2 0h0m1 0h0m3 0h0m7 0h0m8 0h0m8 0h0m-24 1h0m21 0h0m-13 1h0m6 0h0m4 0h0m1 0h0m1 0h0m2 0h0m3 0h0m-19 1h0m11 0h0m-32 1h0m16 0h0m5 0h0m3 0h0m7 0h0m2 0h0m5 0h0m2 0h0m-16 1h0m3 0h0m14 0h0m-32 1h0m2 0h0m1 0h0m21 0h0m4 0h0m2 0h0m14 0h0m-42 1h0m1 0h0m28 0h0m6 0h0m-37 1h0m1 0h0m2 0h0m2 0h0m4 0h0m27 0h0m-32 1h0m4 0h0m1 0h0m17 0h0m1 0h0m-25 1h0m4 0h0m7 0h0m2 0h0m3 0h0m7 0h0m3 0h0m1 0h0m3 0h0m-23 1h0m19 0h0m4 0h0m-27 1h0m-2 1h0m2 0h0m16 0h0m6 0h0m5 0h0m-15 1h0m8 0h0m34 0h0m7 0h0m-56 1h0m10 0h0m1 0h0m2 0h0m7 0h0m-30 1h0m12 0h0m2 0h0m2 0h0m1 0h0m6 0h0m0 1h0m-23 1h0m3 0h0m4 0h0m5 0h0m11 0h0m43 0h0m-40 1h0m29 0h0m-50 1h0m18 0h0m7 0h0m-24 1h0m24 0h0m-35 1h0m5 0h0m17 0h0m2 0h0m-5 1h0m6 0h0m4 0h0m4 0h0m21 0h0m31 0h0m-79 1h0m11 0h0m39 0h0m-38 1h0m3 0h0m9 0h0m29 0h0m-36 1h0m1 0h0m1 0h0m1 0h0m-4 1h0m1 0h0m3 0h0m2 0h0m-7 1h0m1 0h0m1 0h0m3 0h0m11 0h0m-26 1h0m2 0h0m7 0h0m9 0h0m30 0h0m-53 1h0m13 0h0m16 0h0m-28 1h0m6 0h0m2 0h0m2 0h0m3 0h0m7 0h0m-15 1h0m7 0h0m5 1h0m-6 1h0m1 0h0m6 0h0m5 0h0m-10 1h0m1 0h0m5 0h0m-14 1h0m10 0h0m-17 1h0m3 0h0m1 0h0m25 0h0m-26 1h0m4 0h0m1 0h0m1 0h0m2 0h0m10 0h0m23 0h0m-45 1h0m3 0h0m21 0h0m3 0h0m34 0h0m-58 1h0m13 0h0m10 0h0m28 0h0m-43 1h0m8 0h0m1 0h0m7 0h0m-13 1h0m17 0h0m-29 1h0m1 0h0m2 0h0m19 0h0m2 0h0m-21 1h0m6 0h0m16 0h0m3 0h0m3 0h0m30 0h0m15 0h0m-73 1h0m17 0h0m2 0h0m-21 1h0m9 0h0m14 0h0m-25 1h0m3 0h0m11 0h0m7 0h0m1 0h0m6 0h0m1 0h0m14 0h0m-50 1h0m27 0h0m6 0h0m3 0h0m2 0h0m-16 1h0m1 0h0m2 0h0m4 0h0m1 0h0m7 0h0m1 36h0m-7 55h0m20 0h0m49 0h0m-75 1h0m5 0h0m37 0h0m-44 1h0m5 0h0m2 0h0m2 0h0m2 0h0m6 0h0m32 0h0m6 0h0m-56 1h0m1 0h0m3 0h0m5 0h0m2 0h0m2 0h0m4 0h0m2 0h0m2 0h0m-10 1h0m25 0h0m-36 1h0m1 0h0m4 0h0m4 1h0m-4 1h0m7 0h0m4 0h0m28 0h0m7 0h0m-50 1h0m4 0h0m4 0h0m1 0h0m3 0h0m-12 1h0m16 0h0m5 0h0m11 0h0m-28 1h0m8 0h0m17 0h0m-28 1h0m3 0h0m1 0h0m2 0h0m16 0h0m7 0h0m-24 1h0m3 0h0m2 0h0m20 0h0m-34 1h0m18 0h0m0 1h0m-14 1h0m1 0h0m3 0h0m3 0h0m10 0h0m-10 1h0m4 0h0m3 0h0m11 0h0m-22 1h0m2 0h0m4 0h0m2 0h0m48 0h0m-59 1h0m1 0h0m3 0h0m6 0h0m-10 1h0m5 0h0m-14 1h0m7 0h0m19 0h0m-14 1h0m7 0h0m1 0h0m3 0h0m16 0h0m15 0h0m9 0h0m-47 1h0m51 0h0m-55 1h0m11 0h0m3 0h0m-9 1h0m5 0h0m3 0h0m2 0h0m22 0h0m-49 1h0m7 0h0m3 0h0m3 0h0m3 0h0m5 0h0m3 0h0m-11 1h0m12 0h0m-12 1h0m1 0h0m4 0h0m6 0h0m1 0h0m4 0h0m3 0h0m-24 1h0m1 0h0m7 0h0m12 0h0m-22 1h0m2 0h0m5 0h0m3 0h0m2 0h0m2 0h0m32 0h0m-41 1h0m3 0h0m9 0h0m34 0h0m-50 1h0m1 0h0m3 0h0m4 0h0m3 0h0m-6 1h0m4 0h0m1 0h0m1 0h0m3 0h0m-12 1h0m6 0h0m1 0h0m9 0h0m25 0h0m-33 1h0m4 0h0m29 0h0m47 0h0m-100 1h0m14 0h0m12 0h0m18 0h0m9 0h0m15 0h0m-56 1h0m6 0h0m3 0h0m1 0h0m7 0h0m4 0h0m15 0h0m-38 1h0m1 0h0m12 0h0m3 0h0m-12 1h0m7 0h0m2 0h0m5 0h0m-18 1h0m1 0h0m4 0h0m-2 1h0m3 0h0m7 0h0m2 0h0m28 0h0m2 0h0m-37 1h0m13 0h0m5 0h0m22 0h0m-46 1h0m3 0h0m4 0h0m63 0h0m-72 1h0m3 0h0m8 0h0m5 0h0m-15 1h0m5 0h0m6 0h0m1 1h0m-12 1h0m2 0h0m3 0h0m8 0h0m3 0h0m-16 1h0m13 0h0m8 0h0m6 0h0m-28 1h0m12 0h0m1 0h0m19 0h0m9 0h0m-36 1h0m5 0h0m1 0h0m-6 1h0m2 0h0m3 0h0m5 0h0m4 0h0m-9 1h0m1 0h0m4 0h0m4 0h0m30 0h0m-57 1h0m15 0h0m2 0h0m8 0h0m35 0h0m-52 1h0m1 0h0m1 0h0m5 0h0m1 0h0m-9 1h0m4 0h0m4 0h0m5 0h0m11 0h0m5 0h0m-27 1h0m7 0h0m4 0h0m6 0h0m4 0h0m7 0h0m-36 1h0m7 0h0m10 0h0m4 0h0m1 0h0m-15 1h0m10 0h0m6 0h0m-3 1h0m2 0h0m-12 1h0m39 0h0m-41 1h0m6 0h0m4 0h0m-5 1h0m2 0h0m2 0h0m2 0h0m0 1h0m3 0h0m28 0h0" stroke="#0a0a0a" stroke-width="4.8" stroke-linecap="round" fill="none" opacity="0.55"/>
<path d="M1599.9 651.3H1612.8M1623.9 651.3H1662.8" stroke="#222" stroke-width="1.4" fill="none"/>
<rect x="1612.8" y="622.3" width="11.1" height="58" fill="none" stroke="#222" stroke-width="1.4"/>
<path d="M1616.4 622.3V680.3" stroke="#222" stroke-width="2.4" fill="none"/>
<path d="M1628.2 727.4H1628.2M1636.4 727.4H1636.4" stroke="#222" stroke-width="1.8" fill="none"/>
<rect x="1628.2" y="698.4" width="8.2" height="58" fill="none" stroke="#222" stroke-width="1.8"/>
<path d="M1634 698.4V756.4" stroke="#222" stroke-width="3" fill="none"/>
<path d="M1612.8 804H1621.1M1634 804H1649.4" stroke="#222" stroke-width="1.2" fill="none"/>
<rect x="1621.1" y="775" width="13" height="58" fill="none" stroke="#222" stroke-width="1.2"/>
<path d="M1627 775V833" stroke="#222" stroke-width="2.4" fill="none"/>
<path d="M1708.7 648.5L1708.7 801.6" stroke="#111" stroke-width="2"/>
<text text-anchor="middle" fill="#111" font-size="27" transform="translate(1705.2 725.5) rotate(90)" textLength="38.8" lengthAdjust="spacingAndGlyphs">****</text>
<rect x="1594.7" y="605.8" width="134" height="243.9" fill="none" stroke="#333" stroke-width="1.3"/>
<path d="M1616.8 849.7v9.4M1643.2 849.7v9.4M1669.4 849.7v9.4M1695.5 849.7v9.4M1721.9 849.7v9.4M1594.7 651.3h-9.4M1594.7 727.4h-9.4M1594.7 804h-9.4" stroke="#333" stroke-width="1.3" fill="none"/>
<text x="1614.3" y="886.2" text-anchor="middle" textLength="19" lengthAdjust="spacingAndGlyphs">−1</text>
<text x="1643.2" y="886.2" text-anchor="middle">0</text>
<text x="1669.4" y="886.2" text-anchor="middle">1</text>
<text x="1695.5" y="886.2" text-anchor="middle">2</text>
<text x="1721.9" y="886.2" text-anchor="middle">3</text>
<path d="M1760.8 605.8V849.7M1786.9 605.8V849.7M1813.1 605.8V849.7M1839.2 605.8V849.7M1865.4 605.8V849.7M1738.1 651.3H1872.7M1738.1 727.4H1872.7M1738.1 804H1872.7" stroke="#e4e4e4" stroke-width="1.5" fill="none"/>
<path d="M1738.1 651.3H1872.7M1738.1 727.4H1872.7M1738.1 804H1872.7" stroke="#e2e2e2" stroke-width="2.4" fill="none"/>
<path d="M1747.7 605.8V849.7M1773.8 605.8V849.7M1800 605.8V849.7M1826.1 605.8V849.7M1852.3 605.8V849.7" stroke="#ebebeb" stroke-width="0.9" fill="none"/>
<path d="M1780 620h0m12 1h0m26 0h0m-28 1h0m6 0h0m1 0h0m-37 1h0m12 0h0m1 0h0m8 0h0m8 0h0m32 0h0m-53 1h0m7 0h0m1 0h0m7 1h0m15 0h0m14 0h0m-40 1h0m2 0h0m6 0h0m5 0h0m6 0h0m1 0h0m5 0h0m-33 1h0m4 0h0m7 0h0m7 0h0m-29 1h0m9 0h0m9 0h0m24 0h0m-29 1h0m7 0h0m12 0h0m6 0h0m-30 1h0m19 0h0m45 0h0m-61 1h0m5 0h0m4 0h0m1 0h0m9 0h0m24 0h0m-48 1h0m8 0h0m9 0h0m12 0h0m-32 1h0m9 0h0m25 0h0m3 0h0m-37 1h0m27 0h0m-15 1h0m2 0h0m1 0h0m2 0h0m21 0h0m-16 1h0m3 0h0m8 0h0m-17 1h0m3 0h0m6 0h0m31 0h0m-50 1h0m40 0h0m5 0h0m-38 1h0m4 0h0m3 0h0m1 0h0m4 0h0m-11 1h0m4 0h0m1 0h0m5 0h0m15 0h0m6 0h0m8 0h0m-32 1h0m2 0h0m1 0h0m4 0h0m-31 1h0m14 0h0m25 0h0m7 0h0m13 0h0m-42 1h0m1 0h0m3 0h0m3 0h0m3 0h0m4 0h0m3 0h0m-30 1h0m11 0h0m3 0h0m4 0h0m10 0h0m40 0h0m-67 1h0m12 0h0m5 0h0m1 0h0m2 0h0m6 0h0m2 0h0m19 0h0m-35 2h0m44 0h0m-50 1h0m6 0h0m36 0h0m-33 1h0m-3 1h0m4 0h0m2 0h0m1 0h0m3 0h0m17 0h0m17 0h0m-50 1h0m15 0h0m7 0h0m12 0h0m4 0h0m1 0h0m-16 1h0m15 0h0m-39 1h0m19 0h0m23 0h0m8 0h0m-52 1h0m9 0h0m10 0h0m10 0h0m-33 1h0m11 0h0m40 0h0m8 0h0m-54 1h0m9 0h0m12 0h0m15 0h0m-28 1h0m8 0h0m0 1h0m1 0h0m3 0h0m1 0h0m-24 1h0m4 0h0m15 0h0m-9 1h0m6 0h0m9 0h0m25 0h0m-49 1h0m6 0h0m1 0h0m6 0h0m7 0h0m86 0h0m-95 1h0m5 0h0m-5 1h0m12 0h0m7 0h0m-25 1h0m5 0h0m3 0h0m3 0h0m1 0h0m12 0h0m3 0h0m-26 1h0m15 1h0m20 0h0m-21 1h0m4 0h0m12 0h0m-29 1h0m16 0h0m8 0h0m6 0h0m-26 1h0m5 0h0m3 0h0m2 0h0m8 0h0m-19 1h0m35 0h0m-33 1h0m6 0h0m12 0h0m4 0h0m-31 1h0m9 0h0m9 0h0m1 0h0m1 0h0m30 0h0m-28 1h0m-32 1h0m1 0h0m5 0h0m11 0h0m4 0h0m11 0h0m5 0h0m7 0h0m-44 1h0m13 0h0m11 0h0m31 0h0m5 0h0m-37 1h0m4 0h0m6 0h0m21 0h0m-49 1h0m15 0h0m14 0h0m3 0h0m8 0h0m-44 1h0m13 0h0m3 0h0m3 0h0m3 0h0m1 0h0m5 0h0m3 0h0m-14 1h0m9 0h0m-21 1h0m1 0h0m14 0h0m3 0h0m1 0h0m4 0h0m-6 1h0m21 0h0m-27 1h0m30 0h0m-41 22h0m48 13h0m8 5h0m-1 3h0m1 6h0m-62 14h0m17 6h0m38 0h0m-25 1h0m-13 24h0m17 1h0m3 0h0m-1 1h0m-30 1h0m15 1h0m20 1h0m12 0h0m-29 1h0m18 3h0m20 2h0m-50 1h0m35 1h0m-31 1h0m9 2h0m30 2h0m-15 1h0m-17 1h0m-16 1h0m48 1h0m-44 1h0m44 0h0m-60 1h0m20 1h0m6 0h0m29 0h0m19 1h0m-68 2h0m21 1h0m30 0h0m-38 1h0m29 2h0m-6 1h0m-23 1h0m47 0h0m-51 1h0m25 2h0m63 0h0m-70 1h0m4 0h0m-15 2h0m2 0h0m4 0h0m22 0h0m-18 1h0m9 0h0m4 1h0m-26 1h0m43 0h0m-21 1h0m19 1h0m11 0h0m-27 2h0m4 0h0m-7 2h0m-18 2h0m10 1h0m4 1h0" stroke="#0a0a0a" stroke-width="4.8" stroke-linecap="round" fill="none" opacity="0.55"/>
<path d="M1771 620h0m-5 1h0m1 0h0m1 0h0m8 0h0m10 0h0m-14 1h0m2 0h0m9 0h0m13 0h0m12 0h0m-45 1h0m6 0h0m5 0h0m56 0h0m-67 1h0m4 0h0m8 0h0m4 0h0m2 0h0m16 0h0m-17 1h0m-16 1h0m1 0h0m4 0h0m5 0h0m4 0h0m28 0h0m-49 1h0m15 0h0m25 0h0m1 0h0m-32 1h0m2 1h0m6 0h0m8 0h0m-19 1h0m61 0h0m-56 1h0m1 0h0m6 0h0m1 0h0m3 0h0m-11 1h0m10 0h0m22 0h0m-39 1h0m20 0h0m2 0h0m7 0h0m33 0h0m-49 1h0m3 0h0m1 0h0m15 0h0m-34 1h0m4 0h0m1 0h0m18 0h0m6 0h0m2 0h0m27 0h0m-46 1h0m42 0h0m7 0h0m-62 1h0m10 0h0m9 0h0m6 0h0m2 0h0m-19 1h0m5 0h0m6 0h0m1 0h0m1 0h0m1 0h0m-27 1h0m13 0h0m1 0h0m-3 1h0m2 0h0m1 0h0m9 0h0m6 0h0m16 0h0m9 0h0m-45 1h0m4 0h0m54 0h0m-54 1h0m15 0h0m4 0h0m20 0h0m6 0h0m-27 1h0m-18 1h0m20 0h0m3 0h0m-14 1h0m2 0h0m-10 1h0m6 0h0m27 0h0m-40 1h0m9 0h0m10 0h0m20 0h0m-23 1h0m-11 1h0m11 0h0m30 0h0m-40 1h0m5 0h0m4 0h0m2 0h0m6 0h0m19 0h0m-32 1h0m4 0h0m9 0h0m5 0h0m-22 1h0m2 0h0m3 0h0m10 0h0m11 0h0m28 0h0m-55 1h0m3 0h0m21 0h0m6 0h0m-14 1h0m10 0h0m14 0h0m-45 1h0m21 0h0m2 0h0m-18 1h0m4 0h0m4 0h0m9 0h0m-16 1h0m1 0h0m14 0h0m6 0h0m9 0h0m12 0h0m-50 1h0m4 0h0m1 0h0m14 0h0m6 0h0m25 0h0m-36 1h0m33 0h0m-53 1h0m25 0h0m3 0h0m-8 1h0m1 0h0m3 0h0m4 0h0m3 0h0m12 0h0m-40 1h0m12 0h0m7 0h0m12 0h0m4 0h0m15 0h0m-47 1h0m9 0h0m4 0h0m29 0h0m-48 1h0m37 0h0m5 0h0m1 0h0m7 0h0m15 0h0m-55 1h0m11 0h0m1 0h0m39 0h0m-57 1h0m18 0h0m6 0h0m2 0h0m3 0h0m14 0h0m-29 1h0m3 0h0m1 0h0m5 0h0m11 0h0m6 0h0m-40 1h0m49 0h0m9 0h0m-54 1h0m10 0h0m2 0h0m3 0h0m1 0h0m18 0h0m5 0h0m-29 1h0m18 0h0m68 0h0m-75 1h0m6 0h0m5 0h0m23 0h0m-48 1h0m16 0h0m-14 1h0m4 0h0m6 0h0m11 0h0m-6 1h0m16 0h0m-28 1h0m2 0h0m5 0h0m7 0h0m12 0h0m14 0h0m-48 1h0m4 0h0m21 0h0m-13 1h0m1 0h0m-12 1h0m6 0h0m25 0h0m-40 1h0m14 0h0m16 0h0m3 0h0m8 0h0m-29 1h0m4 0h0m8 0h0m4 0h0m23 0h0m-50 1h0m4 0h0m20 0h0m32 0h0m6 1h0m-16 23h0m-30 11h0m30 6h0m2 1h0m-58 2h0m73 4h0m-2 9h0m-34 8h0m4 1h0m-4 28h0m30 0h0m-49 1h0m20 0h0m-15 1h0m19 0h0m-8 1h0m2 0h0m6 0h0m15 1h0m-31 1h0m16 2h0m10 5h0m-37 1h0m8 0h0m26 2h0m-40 1h0m35 1h0m-25 7h0m2 1h0m28 1h0m-38 1h0m19 0h0m1 1h0m-7 1h0m-10 1h0m22 2h0m26 0h0m-26 1h0m-30 1h0m54 0h0m-18 1h0m-31 1h0m10 0h0m-4 2h0m36 1h0m13 1h0m-54 1h0m22 1h0m8 0h0m-11 1h0m6 0h0m8 0h0m25 0h0m-7 1h0m0 3h0m-35 3h0m-5 1h0m31 0h0m-36 1h0m5 0h0m16 1h0m5 0h0m68 0h0m-37 1h0m-43 2h0m44 0h0" stroke="#0a0a0a" stroke-width="4.8" stroke-linecap="round" fill="none" opacity="0.55"/>
<path d="M1783 620h0m-9 1h0m7 0h0m2 0h0m-12 1h0m13 0h0m-14 1h0m8 0h0m5 0h0m16 0h0m10 0h0m-54 1h0m7 0h0m14 0h0m-4 1h0m5 0h0m1 0h0m35 0h0m-41 1h0m23 0h0m11 0h0m4 0h0m-44 1h0m11 0h0m2 0h0m-8 1h0m1 0h0m3 0h0m7 0h0m10 0h0m-36 1h0m9 0h0m3 0h0m1 0h0m2 0h0m4 0h0m8 0h0m2 0h0m7 0h0m-43 1h0m18 0h0m4 0h0m5 0h0m19 0h0m-38 1h0m10 0h0m16 0h0m-11 1h0m1 1h0m4 0h0m27 0h0m5 0h0m-27 1h0m3 0h0m3 0h0m12 0h0m27 0h0m-64 1h0m34 0h0m34 0h0m-54 1h0m13 0h0m-12 1h0m-23 1h0m5 0h0m7 0h0m3 0h0m1 0h0m6 0h0m2 0h0m7 0h0m43 0h0m-54 1h0m10 0h0m-5 1h0m6 0h0m-27 1h0m8 0h0m4 0h0m1 0h0m3 0h0m5 0h0m9 0h0m-4 1h0m41 0h0m-64 1h0m7 0h0m9 0h0m8 0h0m6 0h0m7 0h0m15 0h0m-48 1h0m2 0h0m18 0h0m6 0h0m-22 1h0m4 0h0m3 0h0m7 0h0m-33 1h0m27 0h0m17 0h0m-22 1h0m8 0h0m18 0h0m36 0h0m-75 1h0m9 0h0m10 0h0m18 0h0m-2 1h0m-42 1h0m3 0h0m5 0h0m-2 1h0m18 0h0m20 0h0m-46 1h0m29 0h0m25 0h0m-34 1h0m25 1h0m-37 1h0m14 0h0m1 0h0m2 0h0m2 0h0m2 0h0m20 0h0m42 0h0m-73 1h0m6 0h0m4 0h0m16 0h0m-24 1h0m6 0h0m5 0h0m17 0h0m-3 1h0m3 0h0m-32 1h0m1 0h0m32 0h0m10 0h0m-39 1h0m1 0h0m3 0h0m9 0h0m-5 1h0m6 0h0m40 0h0m-52 1h0m1 0h0m5 0h0m15 0h0m16 0h0m-45 1h0m5 0h0m4 0h0m8 0h0m14 0h0m8 0h0m-48 1h0m4 0h0m3 0h0m20 0h0m8 0h0m13 0h0m2 1h0m-53 1h0m22 0h0m9 0h0m-30 1h0m21 0h0m3 0h0m1 0h0m10 0h0m1 0h0m-31 1h0m3 0h0m13 0h0m4 0h0m5 0h0m-5 1h0m2 0h0m40 0h0m-52 1h0m3 0h0m2 0h0m1 0h0m13 0h0m1 0h0m-34 1h0m11 0h0m3 0h0m9 0h0m18 0h0m16 0h0m-42 1h0m25 0h0m32 0h0m-75 1h0m14 0h0m3 0h0m3 0h0m8 0h0m6 0h0m-24 1h0m7 0h0m2 0h0m3 0h0m3 0h0m-26 1h0m16 0h0m3 0h0m3 0h0m2 0h0m10 0h0m4 0h0m3 0h0m-28 1h0m5 0h0m2 0h0m6 0h0m8 0h0m52 0h0m-72 1h0m21 0h0m2 0h0m2 0h0m15 0h0m-38 3h0m7 0h0m6 0h0m10 0h0m2 0h0m-19 1h0m1 0h0m-1 1h0m9 0h0m5 0h0m-10 34h0m3 3h0m10 0h0m24 3h0m-28 1h0m-24 2h0m43 2h0m-17 7h0m-17 2h0m77 39h0m-47 1h0m-39 2h0m6 3h0m69 2h0m-68 1h0m9 1h0m-24 1h0m38 1h0m8 0h0m-9 2h0m-24 1h0m6 1h0m11 0h0m22 0h0m-8 1h0m5 4h0m-1 1h0m-10 1h0m15 1h0m-55 3h0m5 0h0m29 0h0m6 2h0m-18 2h0m24 0h0m10 1h0m-36 2h0m36 0h0m-26 2h0m3 1h0m-7 1h0m9 0h0m1 0h0m-20 1h0m5 2h0m3 0h0m54 0h0m-30 1h0m12 0h0m-33 1h0m37 0h0m-47 1h0m11 0h0m18 0h0m-13 2h0m21 1h0m-52 3h0m50 0h0m-39 1h0m52 2h0m-64 1h0m22 0h0m23 0h0m11 0h0m-25 1h0m17 0h0m3 1h0m-37 2h0" stroke="#0a0a0a" stroke-width="4.8" stroke-linecap="round" fill="none" opacity="0.55"/>
<path d="M1762 620h0m55 0h0m-60 1h0m7 0h0m9 0h0m3 0h0m2 0h0m3 0h0m-10 1h0m5 0h0m11 0h0m4 0h0m12 0h0m-36 1h0m7 0h0m10 0h0m3 0h0m-7 1h0m3 0h0m5 0h0m16 0h0m-33 1h0m8 0h0m20 0h0m-23 1h0m30 0h0m-37 1h0m6 0h0m-17 1h0m7 0h0m4 0h0m6 0h0m10 0h0m6 0h0m9 0h0m7 0h0m-38 1h0m4 0h0m26 0h0m-32 1h0m21 0h0m1 0h0m-30 1h0m4 0h0m43 0h0m-35 1h0m2 0h0m2 0h0m8 0h0m4 1h0m5 0h0m-26 1h0m3 0h0m-17 1h0m3 0h0m5 0h0m7 0h0m10 0h0m19 0h0m6 0h0m-32 1h0m14 0h0m-18 1h0m6 0h0m10 0h0m2 0h0m6 0h0m-11 1h0m17 0h0m-36 1h0m9 0h0m12 0h0m-3 1h0m-12 1h0m4 0h0m1 0h0m2 0h0m6 0h0m2 1h0m-19 1h0m11 0h0m2 0h0m5 0h0m-8 1h0m2 0h0m4 0h0m33 0h0m-46 1h0m26 0h0m-28 1h0m8 0h0m1 0h0m1 0h0m8 0h0m3 0h0m1 0h0m33 0h0m-47 1h0m13 0h0m10 0h0m10 0h0m3 0h0m-41 1h0m2 0h0m6 0h0m36 0h0m-60 1h0m30 0h0m4 0h0m5 0h0m-23 1h0m9 0h0m7 0h0m-7 1h0m12 0h0m9 0h0m-27 1h0m7 1h0m2 0h0m2 0h0m2 0h0m4 0h0m4 0h0m-33 2h0m12 0h0m14 0h0m17 0h0m-34 1h0m4 0h0m1 0h0m36 0h0m16 0h0m-52 1h0m13 0h0m-13 1h0m4 0h0m4 0h0m2 0h0m12 0h0m-24 1h0m14 0h0m3 0h0m-20 1h0m8 0h0m8 0h0m12 0h0m10 0h0m-50 1h0m8 0h0m3 0h0m7 0h0m2 0h0m4 0h0m2 0h0m29 0h0m-55 1h0m16 0h0m21 0h0m13 0h0m22 0h0m-73 1h0m15 0h0m12 0h0m3 0h0m-15 1h0m7 0h0m1 0h0m9 0h0m6 0h0m17 0h0m-29 1h0m17 0h0m12 0h0m6 0h0m-58 1h0m8 0h0m1 0h0m7 0h0m14 0h0m9 0h0m19 0h0m14 0h0m-61 1h0m14 0h0m27 0h0m-43 1h0m1 0h0m8 0h0m39 0h0m14 0h0m-65 1h0m4 0h0m5 0h0m6 0h0m-6 1h0m6 0h0m1 0h0m1 0h0m37 0h0m-54 1h0m10 0h0m12 0h0m17 0h0m-46 1h0m11 0h0m16 0h0m17 0h0m-21 1h0m9 0h0m2 0h0m3 0h0m-29 1h0m28 0h0m2 0h0m21 0h0m-49 1h0m5 0h0m1 0h0m9 0h0m30 0h0m-52 1h0m5 0h0m3 0h0m1 0h0m10 0h0m7 0h0m-20 1h0m14 0h0m1 0h0m-21 1h0m24 0h0m2 0h0m8 0h0m-7 1h0m17 0h0m-38 1h0m9 0h0m8 0h0m-14 1h0m14 0h0m6 0h0m-27 1h0m4 0h0m24 0h0m-8 28h0m20 3h0m10 2h0m26 0h0m-71 6h0m35 10h0m-4 8h0m15 11h0m-29 3h0m9 23h0m-38 2h0m65 1h0m-15 2h0m-31 1h0m4 0h0m9 0h0m29 1h0m-50 2h0m86 2h0m-85 1h0m34 0h0m4 0h0m-4 1h0m9 0h0m-22 1h0m24 0h0m-30 2h0m6 0h0m19 0h0m-12 1h0m3 1h0m-20 2h0m14 0h0m9 1h0m-42 1h0m17 3h0m-11 1h0m40 4h0m4 0h0m-19 1h0m-36 2h0m21 0h0m18 1h0m-8 2h0m14 0h0m11 0h0m-30 1h0m29 3h0m-48 1h0m6 0h0m23 0h0m4 0h0m-28 1h0m26 2h0m-3 2h0m8 0h0m-28 1h0m15 1h0m22 0h0m-21 1h0m34 0h0m-34 1h0m-15 1h0m9 3h0m-8 1h0m11 1h0m8 0h0m5 1h0" stroke="#0a0a0a" stroke-width="4.8" stroke-linecap="round" fill="none" opacity="0.55"/>
<path d="M1745.9 651.3H1764.8M1790.2 651.3H1827.2" stroke="#222" stroke-width="1.7" fill="none"/>
<rect x="1764.8" y="622.3" width="25.4" height="58" fill="none" stroke="#222" stroke-width="1.7"/>
<path d="M1774.7 622.3V680.3" stroke="#222" stroke-width="3" fill="none"/>
<path d="M1753 727.4H1783.6M1804.8 727.4H1827.2" stroke="#222" stroke-width="1.6" fill="none"/>
<rect x="1783.6" y="698.4" width="21.2" height="58" fill="none" stroke="#222" stroke-width="1.6"/>
<path d="M1797 698.4V756.4" stroke="#222" stroke-width="3" fill="none"/>
<path d="M1748.3 804H1772.3M1809.1 804H1859" stroke="#222" stroke-width="1.7" fill="none"/>
<rect x="1772.3" y="775" width="36.8" height="58" fill="none" stroke="#222" stroke-width="1.7"/>
<path d="M1781.7 775V833" stroke="#222" stroke-width="3" fill="none"/>
<path d="M1856.2 650.1L1856.2 804.5" stroke="#111" stroke-width="2"/>
<text text-anchor="middle" fill="#111" font-size="27" transform="translate(1853.4 725.5) rotate(90)" textLength="38.8" lengthAdjust="spacingAndGlyphs">****</text>
<rect x="1738.1" y="605.8" width="134.5" height="243.9" fill="none" stroke="#333" stroke-width="1.3"/>
<path d="M1760.8 849.7v9.4M1786.9 849.7v9.4M1813.1 849.7v9.4M1839.2 849.7v9.4M1865.4 849.7v9.4" stroke="#333" stroke-width="1.3" fill="none"/>
<text x="1758.3" y="886.2" text-anchor="middle" textLength="19" lengthAdjust="spacingAndGlyphs">−1</text>
<text x="1786.9" y="886.2" text-anchor="middle">0</text>
<text x="1813.1" y="886.2" text-anchor="middle">1</text>
<text x="1839.2" y="886.2" text-anchor="middle">2</text>
<text x="1865.4" y="886.2" text-anchor="middle">3</text>
<text x="1650.5" y="917.6" font-style="italic" textLength="76.5" lengthAdjust="spacingAndGlyphs">FBXO11</text>
<text x="1733.5" y="917.6" textLength="83.1" lengthAdjust="spacingAndGlyphs">residuals</text>
<text transform="translate(1916.2 581.1) scale(1.1 1)" font-weight="bold" fill="#1a1a1a" font-size="32">i</text>
<text x="2021.6" y="579.5" text-anchor="middle" textLength="61.8" lengthAdjust="spacingAndGlyphs">Genes</text>
<circle cx="1979.2" cy="645.4" r="35.3" fill="#92b0da" stroke="#111" stroke-width="1.1"/>
<circle cx="2049.9" cy="645.4" r="55.4" fill="#a4a6a6" stroke="#111" stroke-width="1.1" fill-opacity="0.999"/>
<clipPath id="cv1"><circle cx="1979.2" cy="645.4" r="35.3"/></clipPath>
<circle cx="2049.9" cy="645.4" r="55.4" fill="#7f8fa8" stroke="#111" stroke-width="1.1" clip-path="url(#cv1)"/>
<circle cx="1979.2" cy="645.4" r="35.3" fill="none" stroke="#111" stroke-width="1.1"/>
<text x="1970.9" y="657.2" text-anchor="middle" textLength="35" lengthAdjust="spacingAndGlyphs">120</text>
<text x="2055.8" y="657.2" text-anchor="middle" textLength="35" lengthAdjust="spacingAndGlyphs">217</text>
<text x="2002.8" y="719.2" text-anchor="middle" textLength="23.3" lengthAdjust="spacingAndGlyphs">48</text>
<path d="M2004.6 645.4L2004.6 700.8" stroke="#111" stroke-width="1.1"/>
<text x="2015.7" y="752.6" text-anchor="middle" textLength="50.1" lengthAdjust="spacingAndGlyphs">ADTs</text>
<circle cx="2010.3" cy="811.5" r="50" fill="#92b0da" stroke="#111" stroke-width="1.1"/>
<circle cx="2048.2" cy="811.5" r="25.4" fill="#a4a6a6" stroke="#111" stroke-width="1.1"/>
<clipPath id="cv2"><circle cx="2010.3" cy="811.5" r="50"/></clipPath>
<circle cx="2048.2" cy="811.5" r="25.4" fill="#7f8fa8" stroke="#111" stroke-width="1.1" clip-path="url(#cv2)"/>
<circle cx="2010.3" cy="811.5" r="50" fill="none" stroke="#111" stroke-width="1.1"/>
<text x="1990.3" y="820.5" text-anchor="middle" textLength="23.3" lengthAdjust="spacingAndGlyphs">33</text>
<text x="2043.3" y="820.5" text-anchor="middle" textLength="23.3" lengthAdjust="spacingAndGlyphs">20</text>
<text x="2089.9" y="820.5" text-anchor="middle">7</text>
<rect x="1915.6" y="875.9" width="14.8" height="15.1" fill="#86abd8" stroke="#333" stroke-width="1"/>
<text x="1943.4" y="890.5" textLength="88.6" lengthAdjust="spacingAndGlyphs">Condition</text>
<rect x="2048.7" y="875.9" width="15.3" height="15.1" fill="#a4a6a6" stroke="#333" stroke-width="1"/>
<text x="2076.3" y="890.5" textLength="91" lengthAdjust="spacingAndGlyphs">Genotype</text>
<text transform="translate(1277.3 964.7) scale(1.1 1)" font-weight="bold" fill="#1a1a1a" font-size="32">j</text>
<clipPath id="cj"><rect x="1300" y="982.1" width="900" height="300"/></clipPath>
<clipPath id="cj2"><rect x="1300" y="984.2" width="900" height="300"/></clipPath>
<rect x="1363.3" y="953.9" width="19.5" height="18.4" fill="#86abd4"/>
<text x="1394.1" y="970.8" textLength="88.6" lengthAdjust="spacingAndGlyphs">Condition</text>
<rect x="1531.9" y="953.9" width="19.1" height="18.4" fill="#9ea1a1"/>
<text x="1562.9" y="970.8" textLength="91" lengthAdjust="spacingAndGlyphs">Genotype</text>
<path d="M1365 982h0m49 0h0m18 20h0m-38 29h0m17 17h0m8 8h0m6 6h0m-4 7h0m-15 6h0m22 4h0m6 5h0m-2 8h0m-6 5h0m16 1h0m35 5h0m-54 1h0m72 0h0m-97 4h0m33 0h0m10 0h0m-35 2h0m40 2h0m33 1h0m-66 1h0m76 0h0m-69 2h0m9 0h0m1 0h0m43 0h0m22 1h0m-71 1h0m7 2h0m-17 1h0m7 1h0m7 0h0m7 0h0m31 2h0m18 0h0m18 0h0m-63 1h0m-17 1h0m12 0h0m47 0h0m14 0h0m-86 1h0m14 0h0m8 0h0m29 0h0m26 0h0m8 0h0m-53 1h0m6 0h0m21 0h0m12 0h0m-2 1h0m-72 1h0m27 0h0m36 0h0m8 0h0m7 0h0m-61 1h0m54 0h0m1 0h0m5 0h0m15 0h0m-84 1h0m13 0h0m4 0h0m3 0h0m6 0h0m5 0h0m24 0h0m9 0h0m-60 1h0m5 0h0m2 0h0m5 0h0m2 0h0m6 0h0m23 0h0m6 0h0m8 0h0m-48 1h0m6 0h0m3 0h0m1 0h0m1 0h0m1 0h0m2 0h0m2 0h0m1 0h0m1 0h0m27 0h0m2 0h0m5 0h0m7 0h0m-74 1h0m3 0h0m18 0h0m1 0h0m1 0h0m5 0h0m28 0h0m5 0h0m12 0h0m-69 1h0m2 0h0m2 0h0m2 0h0m10 0h0m5 0h0m3 0h0m25 0h0m3 0h0m22 0h0m4 0h0m-76 1h0m10 0h0m3 0h0m3 0h0m2 0h0m4 0h0m1 0h0m1 0h0m29 0h0m1 0h0m2 0h0m3 0h0m13 0h0m11 0h0m-82 1h0m1 0h0m7 0h0m2 0h0m9 0h0m5 0h0m21 0h0m5 0h0m1 0h0m2 0h0m3 0h0m2 0h0m18 0h0m7 0h0m2 0h0m-81 1h0m1 0h0m4 0h0m2 0h0m3 0h0m9 0h0m1 0h0m3 0h0m2 0h0m15 0h0m1 0h0m15 0h0m1 0h0m1 0h0m14 0h0m4 0h0m3 0h0m-77 1h0m3 0h0m1 0h0m2 0h0m3 0h0m5 0h0m7 0h0m4 0h0m21 0h0m1 0h0m2 0h0m1 0h0m1 0h0m1 0h0m1 0h0m5 0h0m7 0h0m15 0h0m-85 1h0m3 0h0m7 0h0m5 0h0m2 0h0m5 0h0m21 0h0m3 0h0m1 0h0m2 0h0m1 0h0m1 0h0m1 0h0m2 0h0m1 0h0m4 0h0m1 0h0m1 0h0m3 0h0m21 0h0m-85 1h0m4 0h0m1 0h0m7 0h0m31 0h0m3 0h0m2 0h0m2 0h0m2 0h0m5 0h0m1 0h0m1 0h0m3 0h0m1 0h0m1 0h0m5 0h0m15 0h0m-78 1h0m4 0h0m32 0h0m1 0h0m4 0h0m1 0h0m2 0h0m4 0h0m2 0h0m1 0h0m5 0h0m3 0h0m7 0h0m-67 1h0m5 0h0m1 0h0m5 0h0m1 0h0m7 0h0m20 0h0m1 0h0m1 0h0m3 0h0m2 0h0m4 0h0m2 0h0m4 0h0m1 0h0m2 0h0m25 0h0m-73 1h0m3 0h0m2 0h0m25 0h0m3 0h0m2 0h0m1 0h0m1 0h0m2 0h0m5 0h0m1 0h0m3 0h0m3 0h0m3 0h0m6 0h0m-69 1h0m5 0h0m2 0h0m1 0h0m4 0h0m33 0h0m3 0h0m3 0h0m1 0h0m1 0h0m4 0h0m16 0h0m-82 1h0m2 0h0m1 0h0m4 0h0m3 0h0m2 0h0m3 0h0m5 0h0m5 0h0m19 0h0m3 0h0m2 0h0m1 0h0m2 0h0m2 0h0m2 0h0m4 0h0m2 0h0m1 0h0m4 0h0m6 0h0m4 0h0m-84 1h0m8 0h0m2 0h0m14 0h0m3 0h0m2 0h0m1 0h0m3 0h0m18 0h0m2 0h0m2 0h0m3 0h0m1 0h0m1 0h0m6 0h0m1 0h0m1 0h0m2 0h0m3 0h0m4 0h0m2 0h0m8 0h0m-71 1h0m2 0h0m3 0h0m1 0h0m2 0h0m1 0h0m1 0h0m2 0h0m1 0h0m3 0h0m20 0h0m1 0h0m2 0h0m1 0h0m1 0h0m3 0h0m2 0h0m2 0h0m1 0h0m2 0h0m1 0h0m1 0h0m6 0h0m3 0h0m4 0h0m4 0h0m-84 1h0m15 0h0m4 0h0m1 0h0m1 0h0m1 0h0m2 0h0m1 0h0m1 0h0m1 0h0m1 0h0m1 0h0m1 0h0m1 0h0m4 0h0m16 0h0m2 0h0m1 0h0m3 0h0m2 0h0m1 0h0m1 0h0m7 0h0m3 0h0m3 0h0m7 0h0m2 0h0m-82 1h0m7 0h0m5 0h0m1 0h0m1 0h0m3 0h0m2 0h0m1 0h0m3 0h0m2 0h0m1 0h0m2 0h0m2 0h0m2 0h0m2 0h0m18 0h0m1 0h0m2 0h0m1 0h0m1 0h0m1 0h0m1 0h0m1 0h0m5 0h0m1 0h0m10 0h0m5 0h0m-81 1h0m3 0h0m10 0h0m4 0h0m1 0h0m1 0h0m1 0h0m1 0h0m1 0h0m1 0h0m1 0h0m1 0h0m1 0h0m3 0h0m2 0h0m17 0h0m1 0h0m3 0h0m1 0h0m2 0h0m1 0h0m1 0h0m1 0h0m3 0h0m2 0h0m5 0h0m3 0h0m8 0h0m1 0h0m-78 1h0m8 0h0m2 0h0m2 0h0m3 0h0m4 0h0m1 0h0m1 0h0m1 0h0m3 0h0m2 0h0m1 0h0m19 0h0m5 0h0m2 0h0m3 0h0m1 0h0m2 0h0m1 0h0m1 0h0m2 0h0m2 0h0m1 0h0m4 0h0m5 0h0m-75 1h0m1 0h0m8 0h0m3 0h0m3 0h0m1 0h0m1 0h0m1 0h0m1 0h0m1 0h0m2 0h0m3 0h0m4 0h0m16 0h0m3 0h0m1 0h0m1 0h0m1 0h0m1 0h0m2 0h0m1 0h0m1 0h0m2 0h0m1 0h0m-58 1h0m1 0h0m2 0h0m1 0h0m9 0h0m2 0h0m2 0h0m1 0h0m1 0h0m3 0h0m3 0h0m2 0h0m5 0h0m10 0h0m2 0h0m4 0h0m1 0h0m1 0h0m1 0h0m1 0h0m1 0h0m2 0h0m2 0h0m3 0h0m3 0h0m2 0h0m6 0h0m1 0h0m1 0h0m-72 1h0m1 0h0m1 0h0m4 0h0m1 0h0m5 0h0m2 0h0m3 0h0m1 0h0m1 0h0m2 0h0m1 0h0m2 0h0m3 0h0m2 0h0m2 0h0m14 0h0m3 0h0m4 0h0m1 0h0m1 0h0m1 0h0m1 0h0m5 0h0m5 0h0m1 0h0m3 0h0m-69 1h0m1 0h0m3 0h0m2 0h0m2 0h0m1 0h0m1 0h0m5 0h0m2 0h0m1 0h0m1 0h0m1 0h0m1 0h0m1 0h0m1 0h0m2 0h0m15 0h0m3 0h0m1 0h0m1 0h0m2 0h0m1 0h0m1 0h0m1 0h0m5 0h0m1 0h0m1 0h0m2 0h0m1 0h0m1 0h0m1 0h0m2 0h0m3 0h0m1 0h0m1 0h0m-67 1h0m6 0h0m2 0h0m1 0h0m3 0h0m1 0h0m2 0h0m1 0h0m1 0h0m2 0h0m1 0h0m1 0h0m2 0h0m1 0h0m1 0h0m3 0h0m10 0h0m2 0h0m2 0h0m1 0h0m2 0h0m2 0h0m2 0h0m1 0h0m1 0h0m2 0h0m1 0h0m1 0h0m1 0h0m2 0h0m1 0h0m3 0h0m-61 1h0m1 0h0m6 0h0m1 0h0m1 0h0m1 0h0m1 0h0m2 0h0m2 0h0m1 0h0m3 0h0m1 0h0m3 0h0m14 0h0m4 0h0m1 0h0m1 0h0m1 0h0m1 0h0m1 0h0m1 0h0m1 0h0m1 0h0m2 0h0m1 0h0m1 0h0m1 0h0m2 0h0m2 0h0m4 0h0m1 0h0m-62 1h0m5 0h0m4 0h0m1 0h0m2 0h0m1 0h0m1 0h0m2 0h0m1 0h0m1 0h0m2 0h0m2 0h0m1 0h0m2 0h0m11 0h0m2 0h0m1 0h0m1 0h0m1 0h0m1 0h0m1 0h0m1 0h0m1 0h0m1 0h0m1 0h0m1 0h0m1 0h0m1 0h0m1 0h0m1 0h0m2 0h0m2 0h0m4 0h0m1 0h0m-59 1h0m2 0h0m2 0h0m2 0h0m1 0h0m1 0h0m3 0h0m2 0h0m1 0h0m2 0h0m1 0h0m2 0h0m3 0h0m1 0h0m1 0h0m10 0h0m1 0h0m2 0h0m1 0h0m1 0h0m2 0h0m1 0h0m1 0h0m1 0h0m2 0h0m1 0h0m1 0h0m1 0h0m2 0h0m1 0h0m3 0h0m1 0h0m1 0h0m-56 1h0m1 0h0m2 0h0m1 0h0m1 0h0m2 0h0m1 0h0m1 0h0m1 0h0m1 0h0m2 0h0m1 0h0m1 0h0m1 0h0m1 0h0m1 0h0m1 0h0m1 0h0m1 0h0m1 0h0m10 0h0m1 0h0m1 0h0m2 0h0m1 0h0m1 0h0m1 0h0m1 0h0m1 0h0m1 0h0m1 0h0m1 0h0m1 0h0m1 0h0m1 0h0m1 0h0m2 0h0m1 0h0m3 0h0m1 0h0m-54 1h0m1 0h0m1 0h0m1 0h0m1 0h0m1 0h0m2 0h0m1 0h0m2 0h0m1 0h0m1 0h0m1 0h0m1 0h0m1 0h0m1 0h0m1 0h0m1 0h0m1 0h0m1 0h0m1 0h0m12 0h0m2 0h0m3 0h0m1 0h0m1 0h0m1 0h0m1 0h0m1 0h0m1 0h0m1 0h0m1 0h0m1 0h0m1 0h0m1 0h0m1 0h0m1 0h0m1 0h0m1 0h0m-51 1h0m1 0h0m2 0h0m2 0h0m1 0h0m1 0h0m2 0h0m1 0h0m1 0h0m1 0h0m1 0h0m1 0h0m1 0h0m1 0h0m1 0h0m2 0h0m10 0h0m1 0h0m2 0h0m1 0h0m1 0h0m1 0h0m2 0h0m1 0h0m2 0h0m1 0h0m1 0h0m1 0h0m1 0h0m2 0h0m2 0h0m1 0h0m-48 1h0m1 0h0m1 0h0m1 0h0m1 0h0m1 0h0m1 0h0m1 0h0m1 0h0m1 0h0m1 0h0m1 0h0m1 0h0m1 0h0m1 0h0m1 0h0m1 0h0m1 0h0m1 0h0m10 0h0m1 0h0m1 0h0m1 0h0m1 0h0m1 0h0m1 0h0m1 0h0m1 0h0m1 0h0m1 0h0m2 0h0m1 0h0m2 0h0m1 0h0m1 0h0m1 0h0m-44 1h0m1 0h0m1 0h0m2 0h0m1 0h0m1 0h0m1 0h0m1 0h0m1 0h0m1 0h0m1 0h0m1 0h0m1 0h0m1 0h0m1 0h0m2 0h0m8 0h0m1 0h0m1 0h0m1 0h0m1 0h0m1 0h0m1 0h0m1 0h0m1 0h0m1 0h0m1 0h0m1 0h0m1 0h0m1 0h0m1 0h0m1 0h0m1 0h0m1 0h0m1 0h0m-41 1h0m1 0h0m1 0h0m1 0h0m2 0h0m1 0h0m1 0h0m1 0h0m1 0h0m1 0h0m1 0h0m1 0h0m1 0h0m3 0h0m6 0h0m1 0h0m1 0h0m1 0h0m1 0h0m1 0h0m1 0h0m1 0h0m1 0h0m1 0h0m1 0h0m1 0h0m1 0h0m1 0h0m1 0h0m1 0h0m1 0h0m1 0h0m-37 1h0m1 0h0m1 0h0m1 0h0m1 0h0m1 0h0m1 0h0m1 0h0m1 0h0m1 0h0m1 0h0m1 0h0m1 0h0m1 0h0m2 0h0m5 0h0m2 0h0m1 0h0m1 0h0m1 0h0m1 0h0m1 0h0m1 0h0m1 0h0m1 0h0m1 0h0m1 0h0m1 0h0m1 0h0m1 0h0m-33 1h0m1 0h0m1 0h0m1 0h0m1 0h0m1 0h0m1 0h0m1 0h0m1 0h0m1 0h0m1 0h0m1 0h0m2 0h0m5 0h0m1 0h0m1 0h0m1 0h0m1 0h0m1 0h0m1 0h0m1 0h0m1 0h0m1 0h0m1 0h0m1 0h0m1 0h0m1 0h0m-29 1h0m1 0h0m1 0h0m1 0h0m1 0h0m1 0h0m1 0h0m1 0h0m1 0h0m1 0h0m1 0h0m1 0h0m4 0h0m1 0h0m1 0h0m1 0h0m1 0h0m1 0h0m1 0h0m1 0h0m1 0h0m2 0h0m1 0h0m1 0h0m-25 1h0m1 0h0m1 0h0m1 0h0m1 0h0m1 0h0m1 0h0m1 0h0m1 0h0m2 0h0m3 0h0m1 0h0m1 0h0m1 0h0m1 0h0m1 0h0m1 0h0m1 0h0m1 0h0m1 0h0m1 0h0m-20 1h0m1 0h0m1 0h0m1 0h0m1 0h0m1 0h0m1 0h0m1 0h0m1 0h0m2 0h0m1 0h0m1 0h0m1 0h0m1 0h0m1 0h0m1 0h0m1 0h0m1 0h0m-16 1h0m1 0h0m1 0h0m1 0h0m1 0h0m1 0h0m1 0h0m1 0h0m1 0h0m1 0h0m1 0h0m1 0h0m1 0h0m1 0h0m-10 1h0m1 0h0m1 0h0m1 0h0m1 0h0m1 0h0m1 0h0m1 0h0m-4 1h0" stroke="#2878ba" stroke-width="4.8" stroke-linecap="round" fill="none" clip-path="url(#cj)"/>
<path d="M1424.7 1025.5h0m-25.2 60.7h0m68.4 53.2h0m-32.6 18h0m19.1 17.1h0" stroke="#e8212f" stroke-width="5.2" stroke-linecap="round" fill="none"/>
<path d="M1358.3 1142H1516.3" stroke="#222" stroke-width="1.3" stroke-dasharray="5.5 3.6" fill="none"/>
<rect x="1356.8" y="1183.4" width="160.6" height="6" fill="#fff"/>
<path d="M1358.3 982.1V1183.2H1516.3" stroke="#333" stroke-width="1.6" fill="none"/>
<text x="1335.3" y="1182.7" text-anchor="end">0</text>
<text x="1335.3" y="1123.4" text-anchor="end">5</text>
<text x="1335.3" y="1064.1" text-anchor="end" textLength="23.3" lengthAdjust="spacingAndGlyphs">10</text>
<text x="1335.3" y="1004.8" text-anchor="end" textLength="23.3" lengthAdjust="spacingAndGlyphs">15</text>
<path d="M1348.5 1174.5h9.8M1348.5 1115.2h9.8M1348.5 1055.9h9.8M1348.5 996.6h9.8M1380.2 1183.2v10.4M1417.3 1183.2v10.4M1454.4 1183.2v10.4M1491.3 1183.2v10.4" stroke="#333" stroke-width="1.6" fill="none"/>
<rect x="1411.5" y="1004.9" width="46.9" height="15.8" rx="1.8" fill="#fff" stroke="#777" stroke-width="0.9"/>
<text x="1434.9" y="1018.3" text-anchor="middle" font-size="15.4" textLength="41.3" lengthAdjust="spacingAndGlyphs">HLA-A</text>
<rect x="1361.6" y="1091" width="57.7" height="15.8" rx="1.8" fill="#fff" stroke="#777" stroke-width="0.9"/>
<text x="1390.4" y="1104.5" text-anchor="middle" font-size="15.4" textLength="52.1" lengthAdjust="spacingAndGlyphs">FBXO11</text>
<rect x="1444.7" y="1118.8" width="66.6" height="15.6" rx="1.8" fill="#fff" stroke="#777" stroke-width="0.9"/>
<text x="1478" y="1132.1" text-anchor="middle" font-size="15.4" textLength="61" lengthAdjust="spacingAndGlyphs">HLA-DRA</text>
<rect x="1396.9" y="1136.6" width="40.6" height="15.8" rx="1.8" fill="#fff" stroke="#777" stroke-width="0.9"/>
<text x="1417.2" y="1150" text-anchor="middle" font-size="15.4" textLength="35" lengthAdjust="spacingAndGlyphs">CD40</text>
<rect x="1445.3" y="1154.6" width="40.6" height="15.8" rx="1.8" fill="#fff" stroke="#777" stroke-width="0.9"/>
<text x="1465.6" y="1168" text-anchor="middle" font-size="15.4" textLength="35" lengthAdjust="spacingAndGlyphs">CD38</text>
<path d="M1396.9 1142H1437.5" stroke="#222" stroke-width="1.1" stroke-dasharray="5.5 3.6" fill="none" opacity="0.55"/>
<text x="1378.7" y="1222.9" text-anchor="middle" textLength="19.5" lengthAdjust="spacingAndGlyphs">−1</text>
<text x="1415.8" y="1222.9" text-anchor="middle" textLength="38" lengthAdjust="spacingAndGlyphs">−0.5</text>
<text x="1454.4" y="1222.9" text-anchor="middle">0</text>
<text x="1491.3" y="1222.9" text-anchor="middle" textLength="29.2" lengthAdjust="spacingAndGlyphs">0.5</text>
<path d="M1648 982h0m-7 34h0m-36 1h0m30 1h0m-22 18h0m-1 5h0m-2 15h0m39 10h0m-5 5h0m-29 4h0m14 0h0m-9 3h0m-6 3h0m-9 1h0m39 2h0m-27 16h0m20 0h0m-16 1h0m24 0h0m-35 1h0m9 0h0m1 0h0m13 5h0m-1 1h0m12 0h0m-28 2h0m1 1h0m17 0h0m8 1h0m-11 1h0m11 0h0m-26 1h0m-1 1h0m16 0h0m2 0h0m-22 1h0m4 0h0m2 0h0m2 0h0m14 0h0m6 0h0m-21 1h0m16 0h0m3 0h0m-27 1h0m4 0h0m1 0h0m2 0h0m2 0h0m-6 1h0m1 0h0m1 0h0m1 0h0m6 0h0m12 0h0m7 0h0m2 0h0m1 0h0m-40 1h0m12 0h0m18 0h0m5 0h0m3 0h0m-36 1h0m1 0h0m6 0h0m1 0h0m3 0h0m2 0h0m1 0h0m1 0h0m11 0h0m3 0h0m3 0h0m1 0h0m2 0h0m4 0h0m1 0h0m-36 1h0m4 0h0m1 0h0m1 0h0m2 0h0m2 0h0m18 0h0m1 0h0m3 0h0m-30 1h0m6 0h0m16 0h0m1 0h0m2 0h0m2 0h0m1 0h0m6 0h0m-31 1h0m5 0h0m2 0h0m15 0h0m3 0h0m-30 1h0m9 0h0m1 0h0m11 0h0m2 0h0m1 0h0m-21 1h0m1 0h0m2 0h0m2 0h0m3 0h0m1 0h0m9 0h0m4 0h0m-26 1h0m2 0h0m2 0h0m5 0h0m2 0h0m1 0h0m12 0h0m4 0h0m5 0h0m6 0h0m-39 1h0m1 0h0m1 0h0m3 0h0m2 0h0m2 0h0m14 0h0m3 0h0m1 0h0m1 0h0m6 0h0m-37 1h0m3 0h0m6 0h0m6 0h0m10 0h0m1 0h0m3 0h0m2 0h0m1 0h0m-24 1h0m1 0h0m2 0h0m1 0h0m1 0h0m1 0h0m12 0h0m12 0h0m-35 1h0m4 0h0m1 0h0m2 0h0m3 0h0m10 0h0m2 0h0m2 0h0m1 0h0m1 0h0m2 0h0m-31 1h0m5 0h0m5 0h0m5 0h0m16 0h0m2 0h0m4 0h0m1 0h0m-28 1h0m2 0h0m12 0h0m2 0h0m1 0h0m1 0h0m4 0h0m1 0h0m1 0h0m1 0h0m-30 1h0m1 0h0m1 0h0m5 0h0m11 0h0m1 0h0m3 0h0m7 0h0m1 0h0m-31 1h0m5 0h0m2 0h0m1 0h0m1 0h0m4 0h0m6 0h0m4 0h0m2 0h0m1 0h0m1 0h0m2 0h0m-34 1h0m10 0h0m1 0h0m2 0h0m3 0h0m9 0h0m4 0h0m1 0h0m1 0h0m4 0h0m1 0h0m-28 1h0m1 0h0m1 0h0m2 0h0m1 0h0m2 0h0m3 0h0m8 0h0m4 0h0m1 0h0m2 0h0m2 0h0m-23 1h0m1 0h0m5 0h0m6 0h0m2 0h0m2 0h0m6 0h0m-27 1h0m1 0h0m2 0h0m4 0h0m1 0h0m11 0h0m4 0h0m4 0h0m-26 1h0m3 0h0m1 0h0m1 0h0m2 0h0m1 0h0m13 0h0m3 0h0m-32 1h0m10 0h0m1 0h0m4 0h0m9 0h0m2 0h0m1 0h0m1 0h0m1 0h0m1 0h0m2 0h0m2 0h0m1 0h0m-34 1h0m6 0h0m1 0h0m2 0h0m2 0h0m2 0h0m4 0h0m7 0h0m1 0h0m2 0h0m1 0h0m1 0h0m1 0h0m-27 1h0m8 0h0m1 0h0m1 0h0m1 0h0m1 0h0m1 0h0m10 0h0m1 0h0m1 0h0m1 0h0m1 0h0m3 0h0m3 0h0m3 0h0m-36 1h0m3 0h0m1 0h0m2 0h0m3 0h0m1 0h0m3 0h0m8 0h0m1 0h0m2 0h0m1 0h0m1 0h0m1 0h0m1 0h0m8 0h0m-37 1h0m5 0h0m3 0h0m1 0h0m1 0h0m3 0h0m7 0h0m3 0h0m1 0h0m1 0h0m1 0h0m1 0h0m1 0h0m1 0h0m4 0h0m-25 1h0m1 0h0m1 0h0m2 0h0m1 0h0m1 0h0m8 0h0m2 0h0m1 0h0m1 0h0m1 0h0m1 0h0m1 0h0m1 0h0m1 0h0m1 0h0m-27 1h0m8 0h0m9 0h0m2 0h0m1 0h0m1 0h0m1 0h0m2 0h0m3 0h0m-35 1h0m5 0h0m6 0h0m1 0h0m3 0h0m1 0h0m1 0h0m7 0h0m1 0h0m2 0h0m2 0h0m2 0h0m1 0h0m3 0h0m1 0h0m2 0h0m-37 1h0m11 0h0m2 0h0m1 0h0m8 0h0m1 0h0m1 0h0m1 0h0m2 0h0m2 0h0m4 0h0m-27 1h0m3 0h0m2 0h0m2 0h0m1 0h0m1 0h0m1 0h0m7 0h0m1 0h0m1 0h0m2 0h0m2 0h0m1 0h0m3 0h0m2 0h0m-34 1h0m1 0h0m2 0h0m4 0h0m2 0h0m2 0h0m1 0h0m1 0h0m10 0h0m4 0h0m3 0h0m2 0h0m1 0h0m-28 1h0m1 0h0m2 0h0m3 0h0m1 0h0m1 0h0m10 0h0m1 0h0m2 0h0m1 0h0m1 0h0m1 0h0m-24 1h0m1 0h0m2 0h0m1 0h0m1 0h0m1 0h0m1 0h0m2 0h0m1 0h0m6 0h0m2 0h0m2 0h0m1 0h0m1 0h0m1 0h0m7 0h0m-32 1h0m5 0h0m1 0h0m1 0h0m1 0h0m1 0h0m1 0h0m1 0h0m2 0h0m6 0h0m3 0h0m1 0h0m1 0h0m1 0h0m1 0h0m1 0h0m2 0h0m1 0h0m3 0h0m-31 1h0m2 0h0m1 0h0m1 0h0m1 0h0m1 0h0m2 0h0m1 0h0m1 0h0m7 0h0m2 0h0m1 0h0m1 0h0m1 0h0m1 0h0m1 0h0m1 0h0m3 0h0m1 0h0m2 0h0m-33 1h0m4 0h0m3 0h0m1 0h0m1 0h0m2 0h0m1 0h0m7 0h0m1 0h0m2 0h0m1 0h0m2 0h0m1 0h0m1 0h0m1 0h0m4 0h0m-32 1h0m2 0h0m3 0h0m2 0h0m1 0h0m1 0h0m1 0h0m1 0h0m1 0h0m1 0h0m5 0h0m2 0h0m1 0h0m1 0h0m1 0h0m1 0h0m1 0h0m2 0h0m2 0h0m1 0h0m2 0h0m-32 1h0m1 0h0m2 0h0m2 0h0m1 0h0m1 0h0m1 0h0m1 0h0m1 0h0m2 0h0m1 0h0m1 0h0m4 0h0m1 0h0m1 0h0m3 0h0m2 0h0m1 0h0m1 0h0m3 0h0m-29 1h0m1 0h0m2 0h0m2 0h0m1 0h0m1 0h0m1 0h0m1 0h0m1 0h0m1 0h0m1 0h0m6 0h0m1 0h0m1 0h0m1 0h0m1 0h0m1 0h0m1 0h0m2 0h0m3 0h0m-28 1h0m1 0h0m2 0h0m3 0h0m1 0h0m1 0h0m1 0h0m1 0h0m7 0h0m1 0h0m1 0h0m1 0h0m1 0h0m1 0h0m2 0h0m1 0h0m2 0h0m1 0h0m-28 1h0m1 0h0m2 0h0m1 0h0m1 0h0m1 0h0m1 0h0m1 0h0m1 0h0m1 0h0m6 0h0m1 0h0m1 0h0m1 0h0m1 0h0m1 0h0m2 0h0m4 0h0m-26 1h0m2 0h0m1 0h0m1 0h0m2 0h0m1 0h0m1 0h0m1 0h0m1 0h0m1 0h0m4 0h0m1 0h0m1 0h0m1 0h0m1 0h0m1 0h0m1 0h0m1 0h0m1 0h0m3 0h0m-25 1h0m2 0h0m1 0h0m1 0h0m1 0h0m1 0h0m1 0h0m1 0h0m2 0h0m3 0h0m2 0h0m2 0h0m1 0h0m1 0h0m1 0h0m1 0h0m1 0h0m1 0h0m1 0h0m-23 1h0m1 0h0m1 0h0m2 0h0m1 0h0m1 0h0m1 0h0m1 0h0m1 0h0m4 0h0m1 0h0m1 0h0m1 0h0m1 0h0m1 0h0m1 0h0m1 0h0m1 0h0m1 0h0m-22 1h0m1 0h0m1 0h0m1 0h0m1 0h0m1 0h0m1 0h0m1 0h0m1 0h0m1 0h0m4 0h0m1 0h0m1 0h0m1 0h0m1 0h0m1 0h0m1 0h0m2 0h0m1 0h0m-21 1h0m1 0h0m1 0h0m1 0h0m1 0h0m1 0h0m1 0h0m1 0h0m1 0h0m3 0h0m1 0h0m1 0h0m1 0h0m1 0h0m1 0h0m1 0h0m1 0h0m1 0h0m1 0h0m-19 1h0m1 0h0m1 0h0m1 0h0m1 0h0m1 0h0m1 0h0m1 0h0m3 0h0m1 0h0m1 0h0m1 0h0m1 0h0m1 0h0m1 0h0m1 0h0m1 0h0m-18 1h0m1 0h0m1 0h0m1 0h0m1 0h0m1 0h0m1 0h0m1 0h0m3 0h0m1 0h0m1 0h0m1 0h0m1 0h0m1 0h0m1 0h0m1 0h0m-16 1h0m1 0h0m1 0h0m1 0h0m1 0h0m1 0h0m1 0h0m1 0h0m2 0h0m1 0h0m1 0h0m1 0h0m1 0h0m1 0h0m1 0h0m-14 1h0m1 0h0m1 0h0m1 0h0m1 0h0m1 0h0m1 0h0m2 0h0m1 0h0m1 0h0m1 0h0m1 0h0m1 0h0m-12 1h0m1 0h0m1 0h0m1 0h0m1 0h0m1 0h0m1 0h0m1 0h0m1 0h0m1 0h0m1 0h0m1 0h0m-9 1h0m1 0h0m1 0h0m1 0h0m1 0h0m1 0h0m1 0h0m1 0h0m1 0h0m-7 1h0m1 0h0m1 0h0m1 0h0m1 0h0m1 0h0m1 0h0m-5 1h0m1 0h0m1 0h0m1 0h0m1 0h0m-2 1h0" stroke="#6a6e6e" stroke-width="4.8" stroke-linecap="round" fill="none" clip-path="url(#cj)"/>
<path d="M1642.8 982.1h0" stroke="#e8212f" stroke-width="5.2" stroke-linecap="round" fill="none" clip-path="url(#cj)"/>
<path d="M1608 1105.3h0m-1.7 13.5h0m26.5 24.3h0m-11.7 3.2h0" stroke="#e8212f" stroke-width="5.2" stroke-linecap="round" fill="none"/>
<path d="M1529.9 1144.4H1688.3" stroke="#222" stroke-width="1.3" stroke-dasharray="5.5 3.6" fill="none"/>
<rect x="1528.2" y="1183.4" width="161.6" height="6" fill="#fff"/>
<path d="M1529.9 982.1V1183.2H1688.3" stroke="#333" stroke-width="1.6" fill="none"/>
<path d="M1552.1 1183.2v10.4M1588.9 1183.2v10.4M1625.8 1183.2v10.4M1663.2 1183.2v10.4" stroke="#333" stroke-width="1.6" fill="none"/>
<rect x="1598.7" y="986.8" width="66.6" height="15.8" rx="1.8" fill="#fff" stroke="#777" stroke-width="0.9"/>
<text x="1632" y="1000.3" text-anchor="middle" font-size="15.4" textLength="61" lengthAdjust="spacingAndGlyphs">HLA-DRA</text>
<rect x="1597.6" y="1084.1" width="40.6" height="15.8" rx="1.8" fill="#fff" stroke="#777" stroke-width="0.9"/>
<text x="1617.9" y="1097.5" text-anchor="middle" font-size="15.4" textLength="35" lengthAdjust="spacingAndGlyphs">CD40</text>
<rect x="1562.3" y="1123.1" width="57.1" height="15.8" rx="1.8" fill="#fff" stroke="#777" stroke-width="0.9"/>
<text x="1590.8" y="1136.6" text-anchor="middle" font-size="15.4" textLength="51.5" lengthAdjust="spacingAndGlyphs">FBXO11</text>
<rect x="1626.9" y="1122.5" width="41.2" height="15.8" rx="1.8" fill="#fff" stroke="#777" stroke-width="0.9"/>
<text x="1647.5" y="1135.9" text-anchor="middle" font-size="15.4" textLength="35.6" lengthAdjust="spacingAndGlyphs">CD38</text>
<rect x="1587.9" y="1151.3" width="46.6" height="15.8" rx="1.8" fill="#fff" stroke="#777" stroke-width="0.9"/>
<text x="1611.2" y="1164.8" text-anchor="middle" font-size="15.4" textLength="41" lengthAdjust="spacingAndGlyphs">HLA-A</text>
<text x="1550.6" y="1222.9" text-anchor="middle" textLength="19.5" lengthAdjust="spacingAndGlyphs">−1</text>
<text x="1587.4" y="1222.9" text-anchor="middle" textLength="38" lengthAdjust="spacingAndGlyphs">−0.5</text>
<text x="1625.8" y="1222.9" text-anchor="middle">0</text>
<text x="1663.2" y="1222.9" text-anchor="middle" textLength="29.2" lengthAdjust="spacingAndGlyphs">0.5</text>
<text x="1518.9" y="1259.8" text-anchor="middle" textLength="43.2" lengthAdjust="spacingAndGlyphs">Beta</text>
<text transform="translate(1296.8 1083.4) rotate(-90)" text-anchor="middle" textLength="78" lengthAdjust="spacingAndGlyphs">–log<tspan font-size="14.8" dy="4.5">10</tspan><tspan dy="-4.5">(</tspan><tspan font-style="italic">P</tspan>)</text>
<rect x="1813.1" y="953.9" width="18.9" height="18.4" fill="#86abd4"/>
<text x="1843.5" y="970.8" textLength="88.6" lengthAdjust="spacingAndGlyphs">Condition</text>
<rect x="1986" y="953.9" width="18.9" height="18.4" fill="#9ea1a1"/>
<text x="2016.4" y="970.8" textLength="91" lengthAdjust="spacingAndGlyphs">Genotype</text>
<path d="M1824.8 984.7h0m30.4 0h0m6.1 0h0m92.2 0h0m5.9 0h0m-92.7 14.1h0m-0.4 8.7h0m12.3 20.6h0m-17.3 6h0m-0.4 5h0m4.7 3.3h0m-1.5 2.6h0m0.4 3.9h0m55.4 -2.4h0m-0.5 28.2h0m-57 2.8h0m19.1 7.2h0m-33.2 7.4h0m5.8 2.8h0m10.9 -3.3h0m8.9 1.6h0m6.3 20.8h0m-9.1 6.9h0m2.6 1.1h0m-0.9 5.9h0m-4.6 3.5h0m10.4 3.6h0m-23.2 -1h0m5.9 6.5h0m13.4 -1.1h0m-1.5 2.8h0m6.1 0h0m5.2 2.2h0m-4.1 2.6h0m-12.2 5h0m-52 4.1h0m40.1 7.8h0m25.8 8.7h0m9.9 -1h0m-13.5 -0.2h0m2 3.4h0m10.7 -4.8h0m-1.9 3.2h0m0.2 -4.8h0m1.5 2.7h0m-7.7 0.5h0m10.2 -3.4h0m-4.3 8.3h0m-1 -6.1h0m-0.9 -0.5h0m3.3 -5.7h0m-1.8 4.8h0m10.8 0.5h0m-9.8 2.2h0m-6.9 -1.9h0m5.4 -0.6h0m2.9 -1.9h0m-3.9 4.1h0m8.6 2.2h0m-14.5 -2h0m1.6 0.8h0m-0.7 -6.7h0m4.6 9.2h0m13.4 -10.3h0m-9.6 11.9h0m5.4 -5.7h0m-13.2 -3.9h0m-1 3.6h0m2 2.3h0m-10.1 3.2h0m20.3 -9.2h0m-10.1 1.6h0m10.5 5.7h0m-2.1 1.2h0m-7.9 -9.4h0m8 1.8h0m-6.6 4.8h0m6.6 -5.9h0m-8.9 1.1h0m6 -0.4h0m0.5 3.4h0m9.8 3h0m-13.2 -3.9h0m1.5 2.1h0m7.3 -3.2h0m-15.6 -2.8h0m6.1 6.5h0m9.1 -2.6h0m0.5 2.6h0m-9.4 -1.7h0m5.2 -1.3h0m-12.7 0.5h0m20 2.1h0m-8 -7.7h0m-5.1 5.1h0m0.1 1.7h0m-0.9 -1.3h0" stroke="#2878ba" stroke-width="4.8" stroke-linecap="round" fill="none" clip-path="url(#cj2)"/>
<path d="M1856.3 1046.5h0m47.3 80.5h0m-4.3 17.2h0m-6.6 31h0" stroke="#e8212f" stroke-width="5.2" stroke-linecap="round" fill="none"/>
<path d="M1808.8 1156.3H1967" stroke="#222" stroke-width="1.3" stroke-dasharray="5.5 3.6" fill="none"/>
<rect x="1807" y="1186.7" width="161.6" height="6" fill="#fff"/>
<path d="M1808.8 984.2V1186.5H1967" stroke="#333" stroke-width="1.6" fill="none"/>
<text x="1787" y="1185.1" text-anchor="end">0</text>
<text x="1787" y="1126.5" text-anchor="end">5</text>
<text x="1787" y="1067.9" text-anchor="end" textLength="23.3" lengthAdjust="spacingAndGlyphs">10</text>
<text x="1787" y="1009.4" text-anchor="end" textLength="23.3" lengthAdjust="spacingAndGlyphs">15</text>
<path d="M1799 1176.9h9.8M1799 1118.3h9.8M1799 1059.7h9.8M1799 1001.2h9.8M1848.7 1186.5v10.4M1890.6 1186.5v10.4M1932.9 1186.5v10.4" stroke="#333" stroke-width="1.6" fill="none"/>
<path d="M1866.1 1174.5L1892.7 1175.2" stroke="#333" stroke-width="1"/>
<rect x="1825.5" y="1051.5" width="41.2" height="15.6" rx="1.8" fill="#fff" stroke="#777" stroke-width="0.9"/>
<text x="1846.1" y="1064.9" text-anchor="middle" font-size="15.4" textLength="35.6" lengthAdjust="spacingAndGlyphs">CD40</text>
<rect x="1887.3" y="1106.2" width="52.5" height="15.8" rx="1.8" fill="#fff" stroke="#777" stroke-width="0.9"/>
<text x="1913.6" y="1119.6" text-anchor="middle" font-size="15.4" textLength="46.9" lengthAdjust="spacingAndGlyphs">HLADR</text>
<rect x="1868.4" y="1148.7" width="41.2" height="16.3" rx="1.8" fill="#fff" stroke="#777" stroke-width="0.9"/>
<text x="1889.1" y="1162.4" text-anchor="middle" font-size="15.4" textLength="35.6" lengthAdjust="spacingAndGlyphs">CD38</text>
<rect x="1824.8" y="1166.5" width="41.2" height="15.6" rx="1.8" fill="#fff" stroke="#777" stroke-width="0.9"/>
<text x="1845.4" y="1179.9" text-anchor="middle" font-size="15.4" textLength="35.6" lengthAdjust="spacingAndGlyphs">CD22</text>
<path d="M1868.4 1156.3H1909.7" stroke="#222" stroke-width="1.1" stroke-dasharray="5.5 3.6" fill="none" opacity="0.55"/>
<text x="1848.7" y="1221.8" text-anchor="middle" textLength="29.2" lengthAdjust="spacingAndGlyphs">0.5</text>
<text x="1890.6" y="1221.8" text-anchor="middle">0</text>
<text x="1932.9" y="1221.8" text-anchor="middle" textLength="29.2" lengthAdjust="spacingAndGlyphs">0.5</text>
<path d="M2056.6 984.7h0m25.6 9.3h0m-32.8 29.3h0m22.8 31.9h0m-17.8 4.5h0m-5 3.7h0m5.4 16.3h0m-1.5 2.8h0m20.6 -2.8h0m-20.6 12.6h0m3.3 5.9h0m11.5 5.4h0m-21.3 6.1h0m4.3 27.5h0m5.9 0h0m9.3 4.8h0m-13 28.8h0m15.6 4.4h0m-9.6 -9.5h0m0.3 4.9h0m1.1 -4.8h0m2.9 -2.7h0m-5.2 -1.2h0m5.9 11.6h0m3 -15.3h0m-3.6 10.7h0m0.2 5.8h0m-4.6 -16.1h0m1.1 14.1h0m0.3 -8.3h0m-0.4 8.1h0m0.9 -13.7h0m1.3 7.2h0m-3 -5.2h0m10.5 13.8h0m-5.7 1.8h0m-5.1 -4.5h0m3.3 4.4h0m6.5 -8.9h0m-10 -0.4h0m5.7 7.9h0m4.7 -4.5h0m-1.5 -0.9h0m-4.4 -8.2h0m-3.5 -3.2h0m2.5 0.6h0m1.3 2.9h0m-0.6 13.2h0m-1.6 -5.1h0m-0.9 4.3h0m1.3 -15.8h0m-2.2 17.9h0m5.3 -2.1h0m-5.8 -10.3h0m7.3 5.7h0m-4.4 -11.1h0m3.7 15.8h0m-3.4 -7.8h0m0.4 -3.7h0m1.6 8.8h0m1.6 -13.9h0m0 9.1h0m-3.1 -5.1h0m4.2 7.5h0m-2.6 -0.4h0m-1.9 -4h0m3.4 9h0m-4 -1h0m-0.5 -1.4h0m-2.1 -1.2h0m0.5 -4.2h0m1.1 -1h0m-5.6 2.4h0m6.9 -8.9h0m-3 0.1h0m1.7 8.5h0m3 -6.3h0m0.9 6.4h0m-7.3 -8.4h0m2.9 13.6h0m7.8 -10.1h0m-6.4 7.7h0m3.2 4.8h0m0.2 -0.8h0m-1.4 -3.7h0m-3.2 -4.2h0m-0.8 -2.7h0m8.7 0h0" stroke="#6a6e6e" stroke-width="4.8" stroke-linecap="round" fill="none" clip-path="url(#cj2)"/>
<path d="M2045.3 985.3h0" stroke="#e8212f" stroke-width="5.2" stroke-linecap="round" fill="none" clip-path="url(#cj2)"/>
<path d="M2072.8 1004.4h0m-5.4 109.6h0m-9.3 29.7h0" stroke="#e8212f" stroke-width="5.2" stroke-linecap="round" fill="none"/>
<path d="M1980.2 1150.2H2138.4" stroke="#222" stroke-width="1.3" stroke-dasharray="5.5 3.6" fill="none"/>
<rect x="1978.5" y="1186.7" width="161.6" height="6" fill="#fff"/>
<path d="M1980.2 984.2V1186.5H2138.4" stroke="#333" stroke-width="1.6" fill="none"/>
<path d="M2020.8 1186.5v10.4M2062.6 1186.5v10.4M2104.7 1186.5v10.4" stroke="#333" stroke-width="1.6" fill="none"/>
<path d="M2072.8 1004.4L2078.3 1012.4" stroke="#333" stroke-width="1"/>
<rect x="2017.5" y="989.7" width="41.2" height="15.6" rx="1.8" fill="#fff" stroke="#777" stroke-width="0.9"/>
<text x="2038.1" y="1003" text-anchor="middle" font-size="15.4" textLength="35.6" lengthAdjust="spacingAndGlyphs">CD40</text>
<rect x="2059.8" y="1012.4" width="52.5" height="16.3" rx="1.8" fill="#fff" stroke="#777" stroke-width="0.9"/>
<text x="2086.1" y="1026.1" text-anchor="middle" font-size="15.4" textLength="46.9" lengthAdjust="spacingAndGlyphs">HLADR</text>
<rect x="2037" y="1119.2" width="41.2" height="15.4" rx="1.8" fill="#fff" stroke="#777" stroke-width="0.9"/>
<text x="2057.6" y="1132.4" text-anchor="middle" font-size="15.4" textLength="35.6" lengthAdjust="spacingAndGlyphs">CD38</text>
<rect x="2027.3" y="1148.5" width="40.6" height="15.8" rx="1.8" fill="#fff" stroke="#777" stroke-width="0.9"/>
<text x="2047.6" y="1162" text-anchor="middle" font-size="15.4" textLength="35" lengthAdjust="spacingAndGlyphs">CD22</text>
<text x="2019.3" y="1221.8" text-anchor="middle" textLength="38" lengthAdjust="spacingAndGlyphs">−0.5</text>
<text x="2062.6" y="1221.8" text-anchor="middle">0</text>
<text x="2104.7" y="1221.8" text-anchor="middle" textLength="29.2" lengthAdjust="spacingAndGlyphs">0.5</text>
<text x="1976.7" y="1254.4" text-anchor="middle" textLength="43.2" lengthAdjust="spacingAndGlyphs">Beta</text>
<text transform="translate(1747.1 1085.6) rotate(-90)" text-anchor="middle" textLength="78" lengthAdjust="spacingAndGlyphs">–log<tspan font-size="14.8" dy="4.5">10</tspan><tspan dy="-4.5">(</tspan><tspan font-style="italic">P</tspan>)</text>
<text transform="translate(1259.3 1303.7) scale(1.1 1)" font-weight="bold" fill="#1a1a1a" font-size="32">k</text>
<path d="M1343 1355h0m9 13h0m0 3h0m-7 14h0m8 0h0m1 0h0m-9 5h0m9 0h0m-12 10h0m14 0h0m-10 3h0m18 2h0m-3 1h0m-11 3h0m6 3h0m-11 1h0m0 2h0m2 0h0m8 1h0m-7 1h0m3 1h0m4 0h0m10 0h0m-5 3h0m5 1h0m2 0h0m-10 4h0m-5 1h0m-6 1h0m15 3h0m-20 2h0m7 0h0m17 1h0m-16 2h0m6 0h0m-6 1h0m1 1h0m-2 5h0m15 0h0m-11 2h0m-1 7h0m-7 1h0m16 3h0m8 2h0" stroke="#ee7e62" stroke-width="5" stroke-linecap="round" fill="none" opacity="0.36"/>
<path d="M1344 1368h0m24 2h0m-26 1h0m6 2h0m6 1h0m-10 8h0m14 3h0m-9 1h0m15 0h0m-9 9h0m4 2h0m-5 1h0m-13 1h0m12 3h0m-3 2h0m-2 1h0m15 1h0m4 3h0m-11 1h0m0 2h0m9 6h0m-22 5h0m5 1h0m11 0h0m-17 4h0m-1 1h0m13 1h0m-10 2h0m-2 1h0m16 0h0m6 1h0m-15 4h0m17 2h0m-3 1h0m0 3h0m1 0h0m4 0h0m-26 1h0m0 1h0m8 3h0m14 0h0m-17 2h0m2 8h0" stroke="#ee7e62" stroke-width="5" stroke-linecap="round" fill="none" opacity="0.36"/>
<path d="M1354 1345h0m-10 32h0m24 5h0m-26 7h0m22 4h0m-22 2h0m11 0h0m-3 3h0m-3 3h0m4 1h0m15 1h0m-17 2h0m11 2h0m-4 6h0m-9 1h0m15 1h0m3 0h0m-21 3h0m-2 2h0m13 0h0m-10 4h0m1 1h0m-1 1h0m-1 1h0m20 1h0m-18 1h0m18 0h0m-9 1h0m7 0h0m-13 1h0m12 0h0m-8 1h0m13 0h0m-2 3h0m-1 3h0m-10 1h0m10 0h0m-10 2h0m9 0h0m4 0h0m-4 4h0m-5 1h0m7 3h0" stroke="#ee7e62" stroke-width="5" stroke-linecap="round" fill="none" opacity="0.36"/>
<path d="M1395 1357h0m9 3h0m-23 6h0m13 3h0m10 1h0m-13 1h0m-2 3h0m16 2h0m-8 4h0m5 1h0m-24 3h0m5 2h0m23 1h0m-28 3h0m12 0h0m-10 1h0m11 1h0m11 0h0m-21 3h0m16 1h0m-15 1h0m5 0h0m8 0h0m8 0h0m-19 1h0m5 0h0m5 0h0m-16 3h0m13 0h0m-12 1h0m11 0h0m-5 1h0m16 0h0m1 0h0m-23 1h0m14 0h0m-14 2h0m9 0h0m1 0h0m2 1h0m-2 1h0m4 0h0m-11 2h0m2 0h0m10 0h0m6 0h0m2 0h0m1 0h0m-23 1h0m3 0h0m4 0h0m9 0h0m4 1h0m1 0h0m1 0h0m-22 1h0m15 0h0m9 0h0m-21 1h0m9 0h0m2 0h0m-12 1h0m6 0h0m-3 1h0m9 0h0m11 0h0m-21 1h0m8 0h0m6 0h0m1 0h0m5 0h0m-20 1h0m18 0h0m-19 1h0m3 0h0m1 0h0m5 0h0m1 0h0m8 0h0m2 0h0m-14 1h0m16 0h0m-16 1h0m2 0h0m5 0h0m1 0h0m6 0h0m3 0h0m-22 1h0m-2 1h0m2 0h0m4 0h0m8 0h0m10 0h0m1 0h0m-8 1h0m1 0h0m-19 1h0m1 0h0m8 0h0m-4 1h0m1 0h0m17 0h0m3 0h0m-29 1h0m7 0h0m4 0h0m2 0h0m-2 1h0m4 0h0m8 0h0m5 0h0m-9 1h0m1 0h0m2 0h0m-6 1h0m9 0h0m-16 2h0m4 0h0m5 0h0m-3 1h0m1 0h0m-4 1h0m15 0h0m-20 1h0m5 0h0m1 0h0m3 1h0m-13 1h0m1 0h0m1 0h0m6 0h0m16 0h0m1 0h0m-25 1h0m1 0h0m4 0h0m2 0h0m3 0h0m5 0h0m-16 1h0m11 0h0m9 0h0m4 0h0m-21 1h0m2 0h0m10 0h0m6 0h0m1 1h0m-6 1h0m6 0h0m-24 1h0m1 0h0m4 2h0m5 0h0m12 0h0m4 0h0m1 0h0m-12 1h0m-3 1h0m8 0h0m2 0h0m-12 1h0m2 0h0m3 0h0m12 0h0m2 0h0m-10 1h0m-4 1h0m6 0h0m-17 1h0m18 0h0m-11 1h0m17 0h0m-4 1h0m-13 1h0m2 0h0m6 1h0m3 0h0m5 0h0m2 0h0m-16 1h0m2 0h0m5 0h0m2 0h0m3 0h0m3 0h0m-14 1h0m-6 1h0m-8 2h0m12 0h0m6 0h0m7 0h0m-6 1h0m-9 3h0m3 0h0m11 1h0m-15 1h0m5 0h0m2 0h0m1 0h0m5 0h0m-20 1h0m4 0h0m-2 1h0m12 0h0m-13 2h0m14 0h0m8 1h0m-15 1h0m14 2h0m2 0h0m-11 1h0m6 0h0m-17 5h0m12 0h0m-15 6h0m27 3h0m-15 2h0" stroke="#4d86c6" stroke-width="5" stroke-linecap="round" fill="none" opacity="0.34"/>
<path d="M1403 1360h0m-17 5h0m-4 3h0m21 9h0m-23 2h0m19 0h0m1 3h0m-8 1h0m4 1h0m-6 3h0m13 3h0m1 0h0m-24 1h0m24 0h0m-24 1h0m23 0h0m-25 1h0m15 0h0m5 1h0m-20 1h0m14 0h0m-2 1h0m4 0h0m3 0h0m6 0h0m3 0h0m-1 1h0m-7 1h0m4 1h0m-24 2h0m2 0h0m24 1h0m-23 1h0m11 1h0m-13 1h0m18 0h0m6 0h0m-23 1h0m13 0h0m9 0h0m-1 1h0m1 0h0m4 0h0m-23 1h0m1 0h0m7 0h0m11 0h0m1 0h0m2 0h0m-4 1h0m-15 1h0m3 0h0m2 0h0m2 0h0m7 0h0m3 0h0m-18 1h0m2 1h0m1 1h0m8 0h0m2 0h0m6 0h0m-20 1h0m8 0h0m-14 1h0m22 0h0m5 0h0m-27 1h0m22 0h0m-18 1h0m7 0h0m9 1h0m-10 1h0m13 0h0m1 0h0m1 0h0m3 0h0m-18 1h0m10 0h0m2 0h0m-2 1h0m6 0h0m-16 1h0m6 0h0m3 0h0m-12 1h0m12 0h0m5 0h0m2 0h0m-11 1h0m2 0h0m1 0h0m1 0h0m6 0h0m-19 1h0m1 0h0m6 0h0m5 0h0m1 0h0m5 0h0m-23 1h0m8 0h0m4 0h0m-13 1h0m9 0h0m4 0h0m3 0h0m1 0h0m4 0h0m-16 1h0m4 0h0m4 0h0m13 0h0m-23 1h0m1 0h0m3 0h0m5 0h0m10 0h0m-19 1h0m20 0h0m-8 1h0m12 0h0m-24 1h0m10 0h0m6 0h0m-15 1h0m6 0h0m1 0h0m2 0h0m10 0h0m5 0h0m-20 1h0m2 0h0m4 0h0m-12 1h0m5 0h0m1 0h0m1 0h0m2 0h0m2 0h0m-10 2h0m6 0h0m4 0h0m5 0h0m4 0h0m-16 1h0m14 0h0m7 0h0m-19 1h0m8 0h0m4 0h0m8 0h0m-21 1h0m15 0h0m-21 1h0m1 0h0m10 0h0m1 0h0m8 0h0m6 0h0m-7 1h0m5 0h0m-9 1h0m6 0h0m-20 1h0m3 0h0m7 0h0m2 0h0m7 0h0m7 1h0m-22 1h0m8 0h0m9 0h0m5 0h0m-17 1h0m8 0h0m5 0h0m-19 1h0m22 0h0m-12 1h0m11 0h0m-22 2h0m7 0h0m2 0h0m11 0h0m-15 1h0m8 0h0m2 0h0m5 2h0m-19 1h0m5 0h0m1 0h0m8 0h0m6 0h0m-19 1h0m-4 2h0m4 0h0m10 0h0m4 1h0m1 0h0m6 0h0m-7 1h0m3 0h0m4 1h0m-5 1h0m-3 1h0m6 1h0m-25 1h0m4 0h0m5 1h0m3 0h0m14 1h0m0 1h0m-14 1h0m13 0h0m-8 2h0m9 0h0m2 0h0m-14 2h0m8 0h0m-2 10h0m-1 4h0" stroke="#4d86c6" stroke-width="5" stroke-linecap="round" fill="none" opacity="0.34"/>
<path d="M1403 1354h0m-5 4h0m2 5h0m-12 5h0m8 12h0m-8 1h0m8 0h0m-2 1h0m-15 5h0m1 0h0m5 0h0m1 1h0m18 0h0m-24 1h0m4 1h0m20 2h0m-24 1h0m6 0h0m12 0h0m-16 1h0m1 0h0m6 0h0m-9 2h0m20 0h0m-1 1h0m2 1h0m-18 1h0m1 0h0m18 0h0m-24 1h0m2 0h0m13 0h0m1 1h0m10 1h0m-25 1h0m6 0h0m13 0h0m-1 1h0m-19 1h0m5 0h0m12 0h0m1 0h0m-1 2h0m-8 1h0m9 0h0m10 0h0m-25 2h0m9 0h0m1 0h0m15 0h0m-23 1h0m4 0h0m12 0h0m4 0h0m1 0h0m-23 1h0m4 0h0m5 0h0m0 1h0m4 0h0m13 0h0m-24 1h0m4 0h0m13 0h0m6 0h0m-24 1h0m11 0h0m-14 1h0m1 1h0m21 0h0m-22 1h0m18 0h0m7 0h0m-19 1h0m2 0h0m4 0h0m-4 1h0m2 0h0m-10 1h0m20 1h0m1 0h0m7 0h0m-19 1h0m1 0h0m1 0h0m4 0h0m6 0h0m2 0h0m2 0h0m-25 1h0m11 0h0m1 0h0m3 0h0m7 0h0m5 0h0m1 0h0m-28 1h0m3 0h0m11 0h0m6 0h0m4 0h0m-14 1h0m1 0h0m7 0h0m5 0h0m-6 1h0m8 0h0m-18 1h0m1 0h0m4 0h0m5 0h0m-17 1h0m1 0h0m4 0h0m3 0h0m4 0h0m4 0h0m1 0h0m1 0h0m5 0h0m-18 1h0m4 0h0m1 0h0m6 0h0m2 0h0m-18 1h0m3 0h0m2 0h0m4 0h0m7 0h0m2 0h0m4 0h0m-12 1h0m1 0h0m8 0h0m8 0h0m-20 1h0m5 0h0m4 0h0m9 0h0m-22 1h0m1 0h0m13 0h0m10 1h0m-23 1h0m24 0h0m-14 1h0m7 0h0m-19 1h0m11 0h0m5 0h0m0 1h0m9 0h0m-25 1h0m3 0h0m17 0h0m1 0h0m-21 1h0m12 0h0m10 0h0m-25 1h0m5 0h0m2 0h0m2 0h0m16 0h0m-24 1h0m3 0h0m20 0h0m-23 2h0m10 0h0m5 0h0m6 0h0m3 0h0m1 0h0m-25 1h0m7 0h0m19 0h0m2 0h0m-22 1h0m13 0h0m-15 1h0m12 0h0m1 0h0m5 0h0m2 0h0m-17 1h0m7 0h0m-14 1h0m15 0h0m6 1h0m3 0h0m-6 1h0m2 0h0m-12 1h0m1 0h0m-7 1h0m5 0h0m14 1h0m3 0h0m-6 2h0m-15 2h0m7 0h0m14 2h0m2 0h0m-10 1h0m6 0h0m-7 1h0m-15 2h0m0 1h0m27 0h0m-22 2h0m19 1h0m-23 1h0m15 2h0m1 0h0m-5 1h0m15 0h0m-11 5h0m1 2h0m-1 4h0m0 4h0m9 0h0m-14 2h0m-11 8h0" stroke="#4d86c6" stroke-width="5" stroke-linecap="round" fill="none" opacity="0.34"/>
<path d="M1406 1356h0m-14 9h0m-10 3h0m24 4h0m-5 2h0m-12 2h0m17 2h0m-16 1h0m6 0h0m-4 5h0m4 0h0m-6 1h0m-9 1h0m5 2h0m1 1h0m16 0h0m1 0h0m-21 1h0m3 2h0m-4 3h0m16 0h0m6 0h0m-16 1h0m2 1h0m11 1h0m-13 1h0m1 0h0m-9 1h0m9 0h0m9 0h0m5 0h0m-21 1h0m11 0h0m-14 1h0m0 1h0m4 0h0m20 0h0m-23 1h0m4 0h0m8 0h0m-13 1h0m21 0h0m-17 1h0m19 0h0m4 0h0m-24 1h0m6 0h0m9 1h0m1 0h0m3 0h0m1 0h0m-17 1h0m2 0h0m18 0h0m-22 1h0m16 0h0m7 0h0m-25 1h0m4 0h0m17 0h0m1 0h0m2 0h0m-4 1h0m3 0h0m1 0h0m-14 1h0m4 1h0m-8 1h0m5 0h0m-9 1h0m-1 1h0m9 0h0m1 0h0m12 0h0m-17 1h0m11 0h0m-20 1h0m14 0h0m10 0h0m-11 1h0m1 0h0m1 0h0m-14 1h0m22 0h0m5 0h0m-23 1h0m13 0h0m1 0h0m8 0h0m-21 1h0m8 0h0m13 0h0m-23 1h0m4 0h0m5 0h0m1 0h0m6 0h0m3 1h0m-23 1h0m1 0h0m3 0h0m8 0h0m13 0h0m-24 1h0m11 0h0m3 0h0m-6 2h0m1 0h0m3 0h0m-4 1h0m18 0h0m1 0h0m-24 1h0m3 0h0m5 0h0m6 0h0m6 0h0m-14 1h0m6 0h0m10 0h0m-19 1h0m13 0h0m-15 1h0m6 0h0m15 0h0m-25 1h0m8 0h0m6 1h0m5 0h0m3 0h0m4 0h0m-18 1h0m4 0h0m7 0h0m1 0h0m-18 1h0m1 0h0m4 0h0m5 0h0m7 0h0m0 1h0m2 0h0m2 0h0m-21 1h0m-2 1h0m1 0h0m2 0h0m5 0h0m2 0h0m9 0h0m2 0h0m-20 1h0m11 0h0m3 0h0m5 0h0m3 0h0m-11 1h0m9 0h0m3 0h0m-6 1h0m-15 1h0m13 0h0m9 0h0m2 0h0m-24 1h0m7 0h0m18 0h0m-20 1h0m5 0h0m3 0h0m11 0h0m-25 1h0m7 0h0m-1 1h0m2 0h0m2 0h0m12 0h0m-18 1h0m8 0h0m5 0h0m-2 1h0m-14 1h0m15 0h0m7 0h0m-14 1h0m4 0h0m-7 1h0m4 0h0m2 0h0m6 0h0m-12 1h0m15 0h0m-14 1h0m-8 2h0m11 0h0m6 0h0m-16 1h0m18 0h0m1 0h0m3 0h0m-18 1h0m3 0h0m8 1h0m-13 1h0m1 0h0m9 0h0m6 0h0m5 0h0m-11 1h0m-11 1h0m6 0h0m1 0h0m3 1h0m-1 4h0m13 1h0m-16 1h0m9 0h0m-1 5h0m-15 1h0m11 2h0m-4 6h0m19 3h0m-4 12h0" stroke="#4d86c6" stroke-width="5" stroke-linecap="round" fill="none" opacity="0.34"/>
<path d="M1399 1369h0m-5 6h0m-1 1h0m6 3h0m2 0h0m-19 2h0m-1 1h0m-1 4h0m4 0h0m6 2h0m10 2h0m-8 1h0m9 1h0m-9 2h0m6 3h0m-11 1h0m3 0h0m15 0h0m-7 2h0m3 0h0m-22 1h0m8 1h0m-3 1h0m13 0h0m5 0h0m4 0h0m-18 1h0m1 0h0m4 0h0m5 0h0m5 0h0m-23 1h0m6 0h0m15 1h0m-22 1h0m4 0h0m1 0h0m12 0h0m1 0h0m-6 1h0m12 0h0m-17 1h0m6 0h0m1 0h0m10 0h0m-24 1h0m22 1h0m-9 1h0m14 0h0m-22 1h0m3 0h0m7 0h0m9 0h0m2 0h0m-25 2h0m2 0h0m1 0h0m2 0h0m10 0h0m-5 1h0m6 0h0m-6 1h0m12 0h0m-14 1h0m6 0h0m5 0h0m-16 1h0m4 0h0m11 0h0m-15 1h0m4 0h0m-1 1h0m16 0h0m4 0h0m-6 1h0m5 0h0m-19 1h0m9 0h0m-14 1h0m8 0h0m10 1h0m2 0h0m-14 1h0m4 0h0m-6 1h0m18 0h0m-17 1h0m2 0h0m6 0h0m1 0h0m4 0h0m-19 1h0m20 0h0m4 0h0m-21 1h0m5 0h0m10 0h0m3 0h0m-11 1h0m4 0h0m2 0h0m-17 1h0m6 0h0m9 0h0m5 0h0m7 0h0m-17 1h0m1 0h0m2 0h0m8 0h0m-13 1h0m5 0h0m1 0h0m1 0h0m-5 1h0m11 0h0m5 0h0m-20 1h0m12 0h0m4 0h0m1 0h0m1 0h0m1 0h0m2 0h0m-24 1h0m6 0h0m9 0h0m-18 1h0m20 0h0m1 0h0m1 0h0m1 0h0m-20 1h0m1 0h0m5 0h0m5 0h0m13 0h0m-18 1h0m2 0h0m4 0h0m-10 1h0m18 0h0m-9 1h0m6 0h0m-18 1h0m5 0h0m14 0h0m4 0h0m-23 1h0m10 0h0m4 0h0m1 0h0m1 0h0m1 0h0m3 0h0m4 0h0m-21 1h0m8 0h0m-14 1h0m6 0h0m13 0h0m-17 2h0m2 0h0m5 0h0m14 0h0m1 0h0m-22 1h0m15 0h0m-11 1h0m16 0h0m5 0h0m-9 1h0m3 0h0m-20 1h0m3 1h0m5 0h0m14 1h0m2 0h0m-16 1h0m11 0h0m2 0h0m2 0h0m1 0h0m-19 1h0m3 0h0m17 0h0m-6 1h0m2 0h0m4 0h0m-8 2h0m5 1h0m4 0h0m-13 1h0m1 0h0m2 0h0m-7 1h0m7 0h0m-3 1h0m14 0h0m-20 1h0m-3 1h0m16 0h0m-20 1h0m5 1h0m0 2h0m6 0h0m-5 1h0m11 1h0m4 0h0m-12 2h0m-4 1h0m6 0h0m-4 5h0m12 3h0m8 1h0m-23 15h0" stroke="#4d86c6" stroke-width="5" stroke-linecap="round" fill="none" opacity="0.34"/>
<path d="M1442 1371h0m-14 2h0m-1 4h0m13 5h0m3 1h0m-3 4h0m-4 1h0m-10 3h0m7 3h0m-1 1h0m-13 1h0m0 1h0m22 0h0m-2 2h0m-16 3h0m1 0h0m3 3h0m10 1h0m-6 1h0m12 0h0m-21 1h0m7 1h0m12 0h0m-20 1h0m12 0h0m5 0h0m-15 1h0m17 0h0m-18 1h0m10 0h0m-4 1h0m3 1h0m4 0h0m8 2h0m-8 1h0m6 0h0m-19 1h0m1 0h0m3 0h0m16 0h0m-22 2h0m4 0h0m15 0h0m4 0h0m-23 1h0m23 0h0m-12 3h0m8 1h0m-8 1h0m-5 1h0m10 2h0m-6 1h0m-1 1h0m4 0h0m0 1h0m-15 1h0m16 2h0m7 0h0m-18 2h0m13 2h0m-3 2h0m0 2h0m-8 1h0m17 0h0m-20 1h0m15 0h0m-14 2h0m8 2h0m-12 1h0m11 1h0m14 2h0m-4 1h0m-21 3h0m9 1h0" stroke="#ea5f8c" stroke-width="5" stroke-linecap="round" fill="none" opacity="0.36"/>
<path d="M1427 1381h0m2 7h0m10 0h0m-3 6h0m-17 2h0m8 0h0m-5 1h0m16 0h0m-20 2h0m9 0h0m3 1h0m-9 6h0m11 1h0m-12 1h0m15 1h0m2 2h0m-5 1h0m-14 1h0m4 3h0m8 0h0m-12 2h0m8 0h0m14 0h0m-21 1h0m8 1h0m5 0h0m1 1h0m-15 2h0m8 0h0m2 0h0m4 1h0m-4 1h0m15 0h0m0 1h0m-22 1h0m22 0h0m-22 1h0m0 1h0m10 1h0m8 1h0m-17 1h0m-1 1h0m12 0h0m-16 1h0m2 1h0m5 1h0m11 0h0m-12 1h0m12 0h0m0 1h0m4 0h0m-21 1h0m22 0h0m-15 1h0m10 1h0m-4 1h0m-10 1h0m2 0h0m1 0h0m11 0h0m-14 1h0m2 3h0m10 0h0m-11 3h0m-3 1h0m20 0h0m-15 1h0m10 2h0m3 2h0m-13 1h0m19 3h0m-4 9h0m-18 4h0m8 1h0m10 2h0m-12 5h0" stroke="#ea5f8c" stroke-width="5" stroke-linecap="round" fill="none" opacity="0.36"/>
<path d="M1429 1368h0m-4 4h0m0 3h0m13 9h0m6 5h0m-6 1h0m1 2h0m-5 1h0m-10 1h0m-2 4h0m2 0h0m18 1h0m-7 2h0m-14 1h0m-3 1h0m5 0h0m-1 3h0m10 2h0m-12 1h0m22 0h0m1 0h0m-22 1h0m5 3h0m6 0h0m6 0h0m-8 2h0m4 2h0m-13 1h0m19 0h0m-9 1h0m13 0h0m-6 1h0m-20 2h0m2 1h0m22 0h0m1 0h0m-23 2h0m15 0h0m0 1h0m3 3h0m-20 1h0m2 0h0m3 0h0m6 0h0m11 1h0m-8 1h0m9 0h0m-14 1h0m-4 1h0m20 0h0m1 1h0m-21 1h0m8 0h0m-7 1h0m12 0h0m-12 2h0m0 4h0m-2 1h0m4 0h0m9 0h0m1 1h0m-4 3h0m10 3h0m-11 1h0m-4 1h0m0 1h0m13 1h0m-8 3h0m8 2h0m-5 1h0m-7 1h0m2 0h0m-2 4h0m5 7h0m-11 2h0m7 19h0" stroke="#ea5f8c" stroke-width="5" stroke-linecap="round" fill="none" opacity="0.36"/>
<path d="M1478 1370h0m-17 12h0m3 10h0m10 4h0m-19 4h0m18 15h0m-14 4h0m3 7h0m-1 3h0m11 9h0m-12 1h0m7 12h0m0 2h0m-7 13h0" stroke="#c3a0cc" stroke-width="5" stroke-linecap="round" fill="none" opacity="0.36"/>
<path d="M1463 1406h0m8 0h0m-15 4h0m7 0h0m12 5h0m4 0h0m-13 10h0m-5 5h0m1 0h0m9 7h0m5 17h0m1 16h0m3 0h0" stroke="#c3a0cc" stroke-width="5" stroke-linecap="round" fill="none" opacity="0.36"/>
<path d="M1482 1394h0m-20 1h0m2 15h0m11 3h0m-9 10h0m-8 5h0m-2 17h0m21 2h0m-9 1h0m-1 1h0m13 6h0m-19 7h0m21 7h0" stroke="#c3a0cc" stroke-width="5" stroke-linecap="round" fill="none" opacity="0.36"/>
<path d="M1495 1379h0m1 1h0m14 6h0m-18 1h0m26 0h0m-4 1h0m-7 1h0m10 2h0m-1 2h0m3 0h0m-1 1h0m-13 1h0m1 1h0m-1 1h0m2 0h0m9 1h0m3 0h0m-9 1h0m-17 2h0m14 0h0m2 0h0m8 0h0m0 1h0m-14 1h0m15 0h0m-25 1h0m20 0h0m-10 1h0m13 0h0m1 0h0m1 0h0m-25 1h0m10 0h0m2 0h0m1 1h0m8 0h0m-17 1h0m3 0h0m-7 1h0m8 1h0m-1 1h0m2 0h0m-3 1h0m13 0h0m-20 1h0m12 0h0m-8 1h0m3 0h0m1 0h0m10 0h0m-12 1h0m2 0h0m2 0h0m8 0h0m8 1h0m-11 1h0m6 0h0m4 0h0m-22 1h0m1 0h0m10 0h0m1 0h0m4 0h0m5 0h0m-24 1h0m8 0h0m13 0h0m2 0h0m-15 1h0m10 0h0m6 0h0m-20 1h0m13 0h0m8 0h0m-13 1h0m12 0h0m-24 1h0m23 0h0m2 0h0m3 0h0m-11 1h0m4 0h0m2 0h0m1 0h0m-20 1h0m2 0h0m1 0h0m3 0h0m-1 1h0m-6 1h0m8 0h0m2 0h0m2 0h0m-10 1h0m1 0h0m5 0h0m-9 2h0m11 0h0m1 0h0m-11 1h0m17 0h0m-19 1h0m2 0h0m8 0h0m17 0h0m-27 1h0m12 0h0m6 0h0m6 1h0m1 0h0m-26 1h0m6 0h0m5 0h0m7 0h0m5 0h0m-17 1h0m3 0h0m12 0h0m-19 1h0m1 0h0m1 0h0m1 0h0m7 0h0m2 0h0m-14 1h0m12 1h0m-3 1h0m10 0h0m8 0h0m-26 1h0m8 0h0m9 0h0m1 0h0m-12 1h0m15 0h0m-12 1h0m3 0h0m-10 1h0m20 0h0m-19 1h0m3 0h0m15 0h0m-17 1h0m6 0h0m10 0h0m-4 1h0m-2 1h0m1 0h0m1 0h0m3 0h0m-10 1h0m2 0h0m5 0h0m8 0h0m2 0h0m2 0h0m-21 1h0m3 0h0m12 0h0m-20 1h0m4 0h0m12 0h0m-13 1h0m2 0h0m3 0h0m-7 1h0m16 1h0m-12 1h0m4 0h0m-4 1h0m-3 1h0m5 0h0m16 0h0m-13 1h0m3 1h0m11 0h0m-22 1h0m9 0h0m8 0h0m3 0h0m1 0h0m-14 1h0m4 1h0m-8 1h0m10 0h0m-15 1h0m4 3h0m21 0h0m-16 1h0m13 0h0m-13 1h0m1 0h0m7 0h0m8 0h0m-26 2h0m5 0h0m6 1h0m4 0h0m5 1h0m-17 1h0m-2 1h0m5 1h0m10 2h0m-15 1h0m21 2h0m-14 1h0m18 3h0m-19 2h0m-7 2h0m-1 2h0m16 13h0" stroke="#77787a" stroke-width="5" stroke-linecap="round" fill="none" opacity="0.34"/>
<path d="M1507 1366h0m13 0h0m-27 4h0m22 9h0m1 4h0m-14 1h0m8 5h0m-1 1h0m6 2h0m-22 1h0m9 0h0m-2 1h0m20 2h0m-18 1h0m14 1h0m1 0h0m2 1h0m-27 1h0m2 0h0m15 0h0m-13 1h0m22 0h0m-17 1h0m9 0h0m-13 2h0m-5 1h0m11 0h0m12 1h0m-22 1h0m18 0h0m3 1h0m4 0h0m-1 1h0m2 0h0m-15 1h0m7 0h0m4 0h0m-19 1h0m12 0h0m13 0h0m-28 1h0m1 0h0m13 0h0m7 0h0m-22 1h0m5 0h0m10 0h0m-1 1h0m3 0h0m4 0h0m3 0h0m1 0h0m1 0h0m-20 1h0m18 0h0m1 0h0m-23 1h0m12 0h0m11 0h0m-10 1h0m1 0h0m1 0h0m1 0h0m6 0h0m-22 1h0m16 0h0m2 0h0m-12 1h0m-8 1h0m19 0h0m-2 1h0m10 0h0m1 0h0m-15 1h0m4 0h0m-15 1h0m10 0h0m3 0h0m4 0h0m2 0h0m3 0h0m-23 1h0m16 0h0m3 0h0m1 0h0m4 0h0m1 0h0m-24 1h0m3 0h0m13 0h0m-10 1h0m9 0h0m1 0h0m1 0h0m3 0h0m6 1h0m-28 1h0m5 0h0m2 0h0m1 0h0m21 0h0m-23 1h0m1 0h0m1 0h0m13 0h0m7 0h0m-17 1h0m3 0h0m3 0h0m2 0h0m-18 1h0m6 0h0m2 0h0m13 0h0m-10 1h0m10 0h0m3 0h0m-12 1h0m6 0h0m1 0h0m3 0h0m3 0h0m3 0h0m-11 1h0m4 0h0m2 0h0m1 0h0m1 0h0m-22 1h0m2 0h0m13 0h0m5 0h0m-18 1h0m11 0h0m2 0h0m-11 1h0m4 1h0m1 0h0m1 0h0m7 0h0m1 0h0m-6 1h0m7 0h0m3 0h0m-19 1h0m5 0h0m-11 1h0m1 0h0m2 0h0m12 0h0m2 0h0m-6 1h0m10 0h0m4 0h0m2 0h0m1 0h0m-21 1h0m11 0h0m4 0h0m5 0h0m-27 2h0m16 0h0m-13 1h0m4 0h0m2 0h0m6 0h0m1 0h0m8 0h0m-4 1h0m-16 1h0m4 0h0m3 0h0m10 0h0m5 0h0m-7 1h0m7 0h0m-9 2h0m-16 1h0m3 0h0m1 0h0m9 0h0m1 0h0m0 1h0m3 0h0m6 0h0m-15 1h0m10 0h0m9 0h0m-22 1h0m0 3h0m21 0h0m-14 1h0m-5 1h0m0 1h0m11 0h0m4 0h0m-3 1h0m2 0h0m-7 1h0m3 0h0m-5 1h0m-9 2h0m4 0h0m15 1h0m-6 1h0m-18 2h0m9 7h0m16 0h0m-17 4h0m16 3h0m-1 8h0m3 1h0m-21 3h0m16 1h0" stroke="#77787a" stroke-width="5" stroke-linecap="round" fill="none" opacity="0.34"/>
<path d="M1506 1368h0m4 10h0m-17 2h0m27 3h0m-23 5h0m22 0h0m-23 2h0m9 2h0m5 1h0m-8 1h0m4 0h0m6 2h0m3 0h0m3 1h0m-22 2h0m4 0h0m5 0h0m10 0h0m-17 1h0m1 0h0m2 0h0m-5 1h0m16 0h0m-15 1h0m22 0h0m-21 1h0m15 0h0m-20 1h0m8 0h0m4 0h0m-10 1h0m7 0h0m6 1h0m8 0h0m-10 1h0m6 0h0m4 0h0m3 0h0m-23 1h0m11 0h0m7 0h0m2 0h0m4 0h0m-16 1h0m2 0h0m-11 1h0m8 1h0m7 1h0m6 0h0m-22 1h0m2 0h0m3 0h0m1 0h0m4 0h0m10 0h0m6 0h0m-25 1h0m1 0h0m14 0h0m-9 1h0m3 0h0m3 0h0m-7 1h0m10 0h0m6 0h0m-18 1h0m21 0h0m-18 1h0m3 0h0m1 0h0m-7 1h0m16 0h0m3 0h0m-15 1h0m2 0h0m7 0h0m3 0h0m-20 1h0m6 0h0m18 0h0m-20 1h0m5 0h0m12 0h0m2 0h0m-21 1h0m16 1h0m-19 1h0m2 0h0m2 0h0m15 0h0m1 0h0m-4 1h0m1 0h0m7 0h0m3 0h0m-14 1h0m-12 1h0m7 0h0m8 0h0m6 0h0m-16 1h0m-3 1h0m1 0h0m15 0h0m0 1h0m-5 1h0m9 0h0m-18 1h0m2 0h0m3 0h0m1 0h0m1 0h0m7 0h0m-20 1h0m1 0h0m4 0h0m5 0h0m10 0h0m1 0h0m-20 1h0m12 0h0m1 0h0m6 0h0m-17 1h0m1 0h0m6 0h0m3 0h0m11 0h0m-22 1h0m3 0h0m3 0h0m5 0h0m4 0h0m8 0h0m2 0h0m1 0h0m-9 1h0m3 0h0m-20 1h0m6 0h0m10 0h0m6 0h0m1 0h0m-23 1h0m4 0h0m12 0h0m9 0h0m1 0h0m1 0h0m-28 1h0m11 0h0m13 0h0m-20 1h0m5 1h0m9 0h0m3 0h0m-16 1h0m20 1h0m-25 1h0m25 0h0m-5 1h0m3 0h0m-12 1h0m4 0h0m3 0h0m-18 1h0m11 0h0m2 0h0m12 0h0m-21 1h0m13 0h0m3 0h0m7 0h0m-22 1h0m4 0h0m18 0h0m-5 1h0m4 1h0m-23 1h0m4 2h0m-6 1h0m15 0h0m4 0h0m-16 1h0m13 0h0m-5 1h0m-11 1h0m-1 1h0m7 1h0m16 0h0m2 0h0m-17 1h0m-3 1h0m-2 2h0m19 0h0m0 1h0m-8 1h0m-13 1h0m23 0h0m-24 2h0m-1 4h0m15 1h0m-6 5h0m3 0h0m6 2h0m-17 2h0m19 0h0m5 12h0" stroke="#77787a" stroke-width="5" stroke-linecap="round" fill="none" opacity="0.34"/>
<path d="M1502 1360h0m-2 10h0m-1 6h0m-3 2h0m1 6h0m3 2h0m2 0h0m2 3h0m-6 2h0m17 1h0m-4 1h0m8 0h0m-26 1h0m-1 1h0m4 0h0m5 1h0m10 1h0m8 1h0m-21 1h0m20 0h0m1 0h0m1 0h0m-19 1h0m16 0h0m-10 1h0m3 3h0m3 1h0m-21 1h0m8 0h0m14 0h0m2 0h0m-22 1h0m-2 1h0m2 0h0m10 0h0m11 0h0m-21 1h0m13 1h0m-13 1h0m16 0h0m5 0h0m4 2h0m-7 1h0m6 0h0m-21 1h0m5 1h0m3 0h0m12 0h0m-5 1h0m5 0h0m-3 1h0m3 0h0m2 0h0m1 0h0m-22 1h0m10 0h0m10 0h0m-21 1h0m7 0h0m2 0h0m5 0h0m-14 1h0m7 0h0m7 0h0m1 0h0m-3 1h0m-17 1h0m18 0h0m6 0h0m-16 1h0m20 0h0m-25 1h0m3 0h0m9 0h0m2 0h0m7 0h0m-22 1h0m1 0h0m3 0h0m20 0h0m-20 1h0m1 0h0m13 0h0m6 0h0m2 0h0m-27 1h0m7 0h0m6 1h0m3 0h0m4 0h0m-20 1h0m18 0h0m-10 1h0m8 0h0m8 0h0m-19 1h0m22 0h0m-25 1h0m2 0h0m4 1h0m11 0h0m5 0h0m1 0h0m-24 1h0m10 0h0m7 0h0m7 0h0m-22 1h0m10 0h0m4 0h0m1 0h0m-9 1h0m8 0h0m9 0h0m-25 1h0m4 0h0m8 0h0m-9 1h0m5 0h0m3 0h0m8 0h0m-11 1h0m-9 1h0m16 0h0m2 0h0m-4 1h0m1 0h0m8 0h0m-24 1h0m8 0h0m3 0h0m1 0h0m2 0h0m4 0h0m6 0h0m1 0h0m-25 1h0m14 0h0m-13 2h0m13 0h0m2 0h0m-2 1h0m8 0h0m-17 1h0m7 0h0m1 0h0m6 0h0m7 0h0m-23 1h0m15 0h0m-15 1h0m10 0h0m-12 1h0m1 0h0m4 0h0m5 0h0m11 0h0m4 0h0m-23 1h0m9 0h0m3 0h0m12 0h0m-19 1h0m20 0h0m-18 1h0m8 0h0m-5 1h0m14 0h0m-14 1h0m1 0h0m12 0h0m-17 1h0m2 0h0m13 0h0m-24 1h0m15 0h0m7 1h0m-16 1h0m5 0h0m13 0h0m-20 1h0m16 0h0m-13 1h0m4 0h0m-11 1h0m3 0h0m13 1h0m2 0h0m4 0h0m-13 1h0m13 0h0m1 0h0m-21 1h0m5 0h0m6 0h0m3 0h0m-10 1h0m4 1h0m0 1h0m9 0h0m-7 1h0m5 1h0m-12 3h0m4 0h0m4 2h0m4 10h0m-10 8h0m11 3h0" stroke="#77787a" stroke-width="5" stroke-linecap="round" fill="none" opacity="0.34"/>
<path d="M1514 1369h0m1 4h0m0 3h0m1 0h0m-15 11h0m5 0h0m14 1h0m-10 1h0m-10 2h0m10 4h0m9 2h0m-19 3h0m-8 1h0m24 0h0m-13 2h0m-1 1h0m11 0h0m-4 1h0m-12 1h0m2 0h0m3 1h0m10 1h0m-4 1h0m-9 2h0m7 0h0m-3 1h0m-7 1h0m5 0h0m1 0h0m10 0h0m9 0h0m-24 1h0m1 0h0m5 0h0m5 0h0m11 0h0m-27 1h0m7 0h0m3 1h0m13 0h0m1 0h0m1 0h0m-10 1h0m6 0h0m-15 1h0m6 0h0m4 0h0m8 0h0m-15 1h0m6 0h0m3 1h0m5 0h0m3 0h0m-25 2h0m11 0h0m10 0h0m1 0h0m3 0h0m1 0h0m-25 1h0m1 0h0m14 0h0m-16 1h0m4 0h0m6 0h0m2 0h0m3 0h0m3 0h0m-17 1h0m2 0h0m5 0h0m5 0h0m1 0h0m7 0h0m6 0h0m-28 1h0m19 0h0m-13 1h0m12 0h0m5 0h0m1 0h0m5 0h0m-18 1h0m5 0h0m-15 1h0m4 0h0m14 0h0m1 0h0m3 0h0m1 0h0m4 0h0m-22 2h0m1 0h0m9 0h0m-11 1h0m19 0h0m1 0h0m-11 1h0m3 0h0m4 0h0m-19 1h0m1 0h0m23 0h0m-24 1h0m9 0h0m6 0h0m2 0h0m3 0h0m6 0h0m-19 1h0m5 0h0m8 0h0m-11 2h0m2 0h0m3 0h0m2 0h0m6 0h0m4 0h0m-6 1h0m1 0h0m-22 1h0m8 0h0m14 0h0m-7 1h0m5 0h0m-2 1h0m6 1h0m-21 1h0m1 0h0m1 0h0m8 0h0m1 0h0m2 0h0m5 0h0m3 0h0m-24 1h0m23 0h0m-18 1h0m4 0h0m8 0h0m8 0h0m-20 1h0m16 0h0m5 0h0m-20 1h0m17 0h0m-22 1h0m1 0h0m20 0h0m-18 1h0m8 0h0m7 0h0m-15 1h0m-3 1h0m10 0h0m6 0h0m1 0h0m7 0h0m-18 1h0m1 0h0m12 0h0m-13 1h0m16 0h0m-7 1h0m6 0h0m-18 1h0m4 0h0m2 0h0m5 0h0m6 0h0m-18 2h0m21 0h0m-13 1h0m-12 1h0m3 0h0m11 0h0m-7 1h0m2 0h0m3 0h0m1 0h0m4 0h0m7 0h0m-20 2h0m8 0h0m16 0h0m-15 2h0m-12 1h0m4 0h0m3 0h0m13 0h0m7 0h0m-19 1h0m1 0h0m10 0h0m-5 2h0m-13 2h0m26 0h0m-26 1h0m7 0h0m9 1h0m-17 1h0m6 0h0m21 0h0m-11 2h0m-12 1h0m-4 4h0m5 0h0m10 1h0m8 2h0m-18 7h0" stroke="#77787a" stroke-width="5" stroke-linecap="round" fill="none" opacity="0.34"/>
<path d="M1354.5 1352.4V1398.5M1354.5 1431V1476.7" stroke="#e41a2c" stroke-width="1.9" fill="none"/>
<rect x="1340.1" y="1398.5" width="28.8" height="32.6" fill="none" stroke="#e41a2c" stroke-width="1.9"/>
<path d="M1340.1 1416.9h28.8" stroke="#e41a2c" stroke-width="3.4" fill="none"/>
<path d="M1392.4 1368.6V1413.5M1392.4 1446.1V1491.5" stroke="#2878ba" stroke-width="1.9" fill="none"/>
<rect x="1378" y="1413.5" width="28.8" height="32.6" fill="none" stroke="#2878ba" stroke-width="1.9"/>
<path d="M1378 1430.6h28.8" stroke="#2878ba" stroke-width="3.4" fill="none"/>
<path d="M1430.5 1373.4V1408.9M1430.5 1441V1486.6" stroke="#e0187c" stroke-width="1.9" fill="none"/>
<rect x="1416.1" y="1408.9" width="28.8" height="32.1" fill="none" stroke="#e0187c" stroke-width="1.9"/>
<path d="M1416.1 1425.1h28.8" stroke="#e0187c" stroke-width="3.4" fill="none"/>
<path d="M1468.6 1367V1406.7M1468.6 1443.2V1478.2" stroke="#b583b8" stroke-width="1.9" fill="none"/>
<rect x="1454.2" y="1406.7" width="28.8" height="36.5" fill="none" stroke="#b583b8" stroke-width="1.9"/>
<path d="M1454.2 1423.3h28.8" stroke="#b583b8" stroke-width="3.4" fill="none"/>
<path d="M1506.5 1372.3V1415.5M1506.5 1447.2V1491.1" stroke="#6d6e70" stroke-width="1.9" fill="none"/>
<rect x="1492.1" y="1415.5" width="28.8" height="31.7" fill="none" stroke="#6d6e70" stroke-width="1.9"/>
<path d="M1492.1 1431h28.8" stroke="#6d6e70" stroke-width="3.4" fill="none"/>
<path d="M1411.9 1318.7V1515.2" stroke="#231f20" stroke-width="2.1" stroke-dasharray="4.5 3.5" fill="none"/>
<path d="M1331.9 1318.7V1515.2H1530.2" stroke="#333" stroke-width="1.6" fill="none"/>
<text x="1310.4" y="1333.6" text-anchor="end">4</text>
<text x="1310.4" y="1383" text-anchor="end">2</text>
<text x="1310.4" y="1432.6" text-anchor="end">0</text>
<text x="1310.4" y="1482" text-anchor="end" textLength="23.9" lengthAdjust="spacingAndGlyphs">−2</text>
<path d="M1322.4 1325.4h9.5M1322.4 1374.8h9.5M1322.4 1424.4h9.5M1322.4 1473.8h9.5M1354.5 1515.2v10.6M1392.4 1515.2v10.6M1430.5 1515.2v10.6M1468.6 1515.2v10.6M1506.5 1515.2v10.6" stroke="#333" stroke-width="1.6" fill="none"/>
<text text-anchor="end" transform="translate(1362.3 1539.3) rotate(-90)" textLength="67.6" lengthAdjust="spacingAndGlyphs">Control</text>
<text text-anchor="end" transform="translate(1400.2 1539.3) rotate(-90)" textLength="75.5" lengthAdjust="spacingAndGlyphs">CRISPR</text>
<text text-anchor="end" transform="translate(1438.3 1539.3) rotate(-90)">A</text>
<text text-anchor="end" transform="translate(1476.4 1539.3) rotate(-90)" textLength="36.1" lengthAdjust="spacingAndGlyphs">A/G</text>
<text text-anchor="end" transform="translate(1514.3 1539.3) rotate(-90)">G</text>
<path d="M1354.1 1347.1L1396.8 1347.1" stroke="#231f20" stroke-width="4"/>
<text x="1375.6" y="1348.8" text-anchor="middle" fill="#111" font-size="27" textLength="38.8" lengthAdjust="spacingAndGlyphs">****</text>
<text transform="translate(1275.4 1417.7) rotate(-90)" text-anchor="middle" textLength="150" lengthAdjust="spacingAndGlyphs"><tspan font-style="italic">HLA-A</tspan> residuals</text>
<path d="M1670 1377h0m-4 5h0m-10 4h0m-8 2h0m8 1h0m-4 1h0m5 1h0m12 2h0m-19 1h0m-1 5h0m7 6h0m10 3h0m-19 2h0m12 1h0m-12 2h0m4 1h0m13 1h0m-2 1h0m-5 1h0m-2 1h0m9 0h0m-2 2h0m-11 4h0m11 0h0m-12 3h0m-6 2h0m27 5h0m-24 4h0m5 1h0m19 1h0m-21 1h0m5 1h0m13 2h0m-4 4h0m-10 2h0m9 0h0m-12 2h0m3 1h0m-4 4h0m-4 1h0m24 4h0m-20 8h0m9 0h0m-1 12h0" stroke="#ee7e62" stroke-width="5" stroke-linecap="round" fill="none" opacity="0.36"/>
<path d="M1647 1365h0m15 18h0m-11 1h0m-3 1h0m-1 5h0m-3 4h0m19 9h0m1 0h0m-8 4h0m11 3h0m-17 2h0m3 0h0m2 0h0m15 0h0m-4 1h0m-6 1h0m5 0h0m4 3h0m-10 3h0m-12 1h0m9 4h0m7 3h0m-10 1h0m17 1h0m-18 6h0m10 1h0m8 0h0m-25 1h0m-1 6h0m7 0h0m10 4h0m-15 2h0m7 2h0m18 1h0m-4 2h0m3 2h0m-10 4h0m-2 1h0m-13 2h0m12 0h0m-5 1h0m8 0h0m8 20h0" stroke="#ee7e62" stroke-width="5" stroke-linecap="round" fill="none" opacity="0.36"/>
<path d="M1656 1352h0m0 20h0m4 7h0m-5 3h0m2 5h0m12 7h0m-12 3h0m7 1h0m7 2h0m-13 1h0m-13 2h0m3 0h0m7 1h0m-8 2h0m4 0h0m-4 2h0m18 0h0m5 3h0m-1 1h0m-15 1h0m-4 2h0m4 2h0m10 3h0m-13 1h0m18 1h0m-18 6h0m13 1h0m-12 4h0m13 2h0m-19 5h0m16 0h0m-1 1h0m-6 1h0m10 2h0m-19 1h0m24 1h0m-7 1h0m-4 3h0m11 2h0m-9 4h0m1 8h0m-17 17h0m26 4h0" stroke="#ee7e62" stroke-width="5" stroke-linecap="round" fill="none" opacity="0.36"/>
<path d="M1698 1349h0m2 2h0m-16 5h0m21 0h0m2 1h0m-15 2h0m15 2h0m2 5h0m-8 3h0m-18 1h0m16 4h0m9 1h0m-17 1h0m-5 2h0m4 0h0m18 1h0m-16 2h0m-2 2h0m13 0h0m-19 1h0m-2 1h0m22 1h0m-10 1h0m-9 1h0m7 0h0m5 0h0m12 0h0m-17 2h0m7 0h0m-11 1h0m6 0h0m12 0h0m-15 1h0m11 1h0m-18 1h0m5 0h0m16 0h0m-6 1h0m9 0h0m-18 1h0m3 0h0m7 0h0m3 1h0m3 0h0m3 0h0m-26 1h0m2 0h0m9 0h0m7 0h0m2 0h0m-18 1h0m5 0h0m-1 1h0m2 1h0m-9 2h0m7 1h0m2 0h0m14 0h0m-7 1h0m-14 1h0m-1 1h0m6 0h0m11 0h0m5 0h0m2 0h0m3 0h0m-25 1h0m9 0h0m-8 1h0m9 0h0m3 0h0m-15 1h0m3 0h0m13 0h0m9 0h0m-25 1h0m20 0h0m2 0h0m-5 1h0m8 0h0m-17 1h0m17 1h0m2 0h0m-28 1h0m8 0h0m3 0h0m5 0h0m3 0h0m-7 1h0m-11 1h0m16 0h0m2 0h0m4 0h0m-19 2h0m0 1h0m1 0h0m4 0h0m5 0h0m1 0h0m-13 1h0m5 0h0m0 1h0m9 0h0m8 0h0m1 0h0m-13 1h0m4 0h0m5 0h0m3 0h0m-19 1h0m-5 1h0m2 0h0m1 0h0m14 0h0m2 0h0m1 0h0m4 0h0m3 0h0m-14 1h0m9 0h0m3 0h0m3 0h0m-26 1h0m1 0h0m1 0h0m5 1h0m16 0h0m-16 2h0m2 0h0m-8 1h0m15 0h0m9 0h0m-16 1h0m16 1h0m-12 1h0m3 0h0m7 0h0m-24 1h0m14 0h0m-2 1h0m-9 2h0m16 0h0m4 0h0m2 0h0m-21 2h0m3 0h0m6 0h0m1 0h0m4 0h0m7 1h0m2 0h0m-9 1h0m4 0h0m-22 1h0m5 0h0m9 0h0m2 0h0m2 0h0m-18 1h0m2 0h0m3 0h0m1 0h0m-8 1h0m3 0h0m3 0h0m8 0h0m11 0h0m3 0h0m-11 1h0m11 0h0m-27 1h0m20 0h0m4 0h0m-21 1h0m5 1h0m1 0h0m8 1h0m8 0h0m-24 1h0m1 1h0m1 0h0m22 1h0m2 0h0m1 0h0m-14 1h0m-10 1h0m9 0h0m13 0h0m-15 1h0m4 0h0m-16 2h0m1 0h0m6 0h0m5 0h0m14 1h0m-19 1h0m0 2h0m7 0h0m1 1h0m-2 1h0m4 1h0m5 0h0m-6 1h0m5 0h0m-15 2h0m2 2h0m-1 3h0m12 2h0m4 1h0m-9 1h0m0 3h0m-6 2h0m-2 1h0m18 0h0m1 2h0m-13 7h0m8 0h0m-13 1h0m16 4h0m-2 3h0" stroke="#4d86c6" stroke-width="5" stroke-linecap="round" fill="none" opacity="0.34"/>
<path d="M1696 1338h0m4 25h0m-10 1h0m10 2h0m-12 1h0m20 0h0m-27 1h0m13 0h0m-9 2h0m9 0h0m11 0h0m-19 2h0m7 1h0m-6 2h0m4 0h0m9 1h0m-14 1h0m5 1h0m1 0h0m-1 1h0m-6 3h0m4 0h0m3 1h0m7 0h0m-7 3h0m2 0h0m7 0h0m-10 1h0m1 0h0m15 0h0m-13 2h0m11 0h0m5 0h0m-24 1h0m8 0h0m8 0h0m3 0h0m-22 1h0m2 0h0m2 0h0m8 0h0m-3 2h0m-4 1h0m9 1h0m1 0h0m4 0h0m1 0h0m-9 1h0m7 0h0m-8 1h0m-12 1h0m11 0h0m12 0h0m-7 1h0m2 0h0m-13 1h0m5 0h0m2 0h0m7 0h0m9 0h0m-12 1h0m3 0h0m9 0h0m-11 1h0m2 0h0m-12 1h0m13 1h0m-8 1h0m9 0h0m7 0h0m-8 1h0m-1 1h0m0 1h0m7 0h0m-23 1h0m2 0h0m1 0h0m3 0h0m6 0h0m-13 1h0m8 0h0m6 0h0m4 0h0m-1 1h0m10 0h0m-28 1h0m6 0h0m-6 1h0m7 0h0m6 0h0m1 0h0m11 0h0m-13 1h0m4 0h0m10 0h0m-11 1h0m4 0h0m-15 1h0m7 0h0m9 0h0m1 0h0m1 0h0m3 0h0m-25 1h0m28 0h0m-17 1h0m7 0h0m-13 1h0m13 0h0m8 0h0m-25 1h0m7 0h0m3 0h0m15 0h0m2 0h0m-22 1h0m1 0h0m10 0h0m2 0h0m-10 1h0m19 0h0m-29 1h0m13 0h0m2 0h0m6 0h0m1 0h0m3 0h0m-19 1h0m15 1h0m-15 1h0m21 0h0m-21 1h0m5 0h0m12 0h0m2 0h0m-21 1h0m3 0h0m15 0h0m5 0h0m2 1h0m-29 1h0m9 0h0m6 0h0m1 0h0m1 0h0m11 0h0m-27 1h0m1 0h0m11 0h0m2 0h0m4 1h0m-5 2h0m3 0h0m1 0h0m7 0h0m3 0h0m-4 1h0m-12 1h0m1 0h0m3 0h0m-13 1h0m5 0h0m10 0h0m-8 1h0m7 0h0m2 0h0m5 0h0m2 0h0m3 0h0m-8 1h0m-19 1h0m8 0h0m11 0h0m-8 1h0m2 0h0m6 0h0m-3 1h0m7 0h0m3 0h0m-7 1h0m-8 1h0m3 1h0m-14 1h0m11 0h0m5 0h0m3 0h0m-16 1h0m-4 2h0m1 0h0m17 0h0m-14 1h0m12 0h0m10 0h0m-11 2h0m7 0h0m-20 1h0m6 0h0m10 0h0m7 0h0m-23 1h0m17 0h0m3 0h0m5 1h0m-1 1h0m-12 1h0m-2 1h0m7 5h0m-3 1h0m6 1h0m-17 3h0m10 0h0m2 1h0m4 0h0m-16 2h0m18 0h0m-6 1h0m2 1h0m3 1h0m-21 1h0m16 2h0m8 5h0m1 0h0m-26 2h0m10 15h0m16 1h0" stroke="#4d86c6" stroke-width="5" stroke-linecap="round" fill="none" opacity="0.34"/>
<path d="M1690 1345h0m18 7h0m-21 5h0m10 3h0m11 2h0m-26 1h0m11 1h0m9 3h0m-16 2h0m21 0h0m-19 3h0m12 0h0m8 3h0m-20 2h0m19 0h0m-11 3h0m13 1h0m-24 2h0m2 0h0m6 0h0m-8 1h0m6 0h0m8 0h0m-8 1h0m2 0h0m16 2h0m1 0h0m-6 1h0m-21 1h0m9 0h0m-7 1h0m2 0h0m22 2h0m-28 2h0m10 0h0m1 1h0m6 0h0m8 0h0m-22 1h0m7 0h0m8 0h0m11 0h0m-28 1h0m2 0h0m25 0h0m-15 1h0m1 0h0m7 0h0m-19 1h0m7 0h0m2 0h0m1 0h0m14 0h0m-7 1h0m5 0h0m-6 1h0m9 0h0m-25 1h0m5 1h0m2 0h0m18 0h0m-21 1h0m-2 1h0m-4 1h0m1 0h0m3 0h0m4 0h0m9 0h0m-6 1h0m-2 1h0m14 0h0m6 0h0m-9 1h0m9 0h0m-14 1h0m-3 1h0m3 0h0m3 0h0m-15 2h0m3 0h0m13 0h0m8 0h0m-20 1h0m-5 1h0m14 0h0m1 0h0m10 0h0m-8 1h0m-11 1h0m6 0h0m3 0h0m4 0h0m-14 1h0m1 0h0m-4 1h0m10 0h0m3 0h0m-11 1h0m13 0h0m4 1h0m5 0h0m-16 1h0m13 0h0m-17 1h0m6 0h0m-3 1h0m6 0h0m3 0h0m2 0h0m0 1h0m-9 1h0m12 0h0m2 0h0m-25 1h0m5 0h0m14 0h0m1 0h0m-22 1h0m6 0h0m14 0h0m-17 1h0m7 0h0m2 0h0m1 0h0m-3 1h0m8 0h0m7 0h0m3 0h0m-20 1h0m2 0h0m8 0h0m1 0h0m-2 1h0m5 0h0m-3 1h0m1 0h0m2 0h0m1 0h0m3 0h0m-16 1h0m7 0h0m9 0h0m-12 1h0m13 0h0m-27 1h0m5 0h0m2 0h0m-2 1h0m8 0h0m5 0h0m-15 1h0m2 0h0m3 0h0m5 0h0m9 0h0m-11 1h0m12 0h0m-10 1h0m-5 1h0m4 0h0m4 0h0m5 0h0m-13 1h0m3 0h0m-5 1h0m3 0h0m10 0h0m3 0h0m-21 1h0m15 0h0m3 0h0m-16 1h0m4 0h0m9 1h0m-4 1h0m4 0h0m1 0h0m-4 1h0m11 0h0m-10 1h0m12 0h0m-24 1h0m21 0h0m1 0h0m4 0h0m-12 1h0m2 1h0m2 1h0m-17 1h0m13 1h0m6 0h0m-16 1h0m7 0h0m7 0h0m-16 1h0m5 0h0m13 1h0m-6 1h0m-5 2h0m10 1h0m5 0h0m1 0h0m-13 1h0m11 0h0m2 0h0m-26 1h0m27 0h0m-19 5h0m11 1h0m-4 1h0m11 0h0m-22 1h0m20 0h0m-6 2h0m10 3h0m-14 2h0m-9 8h0m20 3h0m-24 2h0m19 10h0" stroke="#4d86c6" stroke-width="5" stroke-linecap="round" fill="none" opacity="0.34"/>
<path d="M1686 1343h0m14 9h0m-2 2h0m11 11h0m-17 4h0m2 0h0m8 0h0m-19 3h0m13 4h0m-4 6h0m-10 3h0m17 0h0m-3 1h0m-10 1h0m17 2h0m-22 1h0m3 0h0m8 0h0m-2 1h0m10 0h0m2 0h0m-15 1h0m-1 1h0m11 0h0m6 1h0m-3 1h0m10 0h0m-1 1h0m-19 1h0m17 1h0m-8 1h0m-12 1h0m20 0h0m-25 1h0m5 0h0m12 0h0m-16 1h0m1 0h0m9 0h0m5 0h0m5 0h0m-14 1h0m16 0h0m-18 1h0m4 0h0m1 1h0m9 0h0m5 0h0m2 0h0m-15 1h0m12 0h0m-17 1h0m3 0h0m9 0h0m5 1h0m-22 1h0m3 0h0m22 0h0m1 0h0m-23 1h0m7 0h0m2 0h0m9 0h0m-22 1h0m3 0h0m3 0h0m2 0h0m3 0h0m3 0h0m6 1h0m-7 1h0m1 0h0m-7 1h0m2 0h0m2 0h0m14 0h0m-26 1h0m3 0h0m11 0h0m10 0h0m-9 1h0m7 0h0m2 0h0m-22 1h0m1 0h0m5 0h0m14 0h0m-13 1h0m6 0h0m6 0h0m-21 1h0m3 0h0m7 0h0m3 0h0m3 0h0m-10 1h0m7 0h0m2 0h0m-4 1h0m12 0h0m-19 1h0m1 0h0m7 0h0m2 0h0m7 0h0m3 0h0m1 0h0m-17 1h0m10 0h0m3 0h0m4 0h0m-19 1h0m1 0h0m7 0h0m1 0h0m2 0h0m3 0h0m3 0h0m0 1h0m3 0h0m1 0h0m-8 1h0m-18 1h0m24 0h0m3 0h0m1 0h0m-23 1h0m5 0h0m8 0h0m5 0h0m2 0h0m-21 1h0m2 0h0m2 0h0m5 0h0m-13 1h0m4 0h0m9 0h0m-12 1h0m3 0h0m2 0h0m4 0h0m1 0h0m7 0h0m3 0h0m7 0h0m-19 1h0m1 0h0m7 0h0m2 0h0m-5 1h0m0 1h0m-6 1h0m-7 1h0m15 0h0m-2 1h0m3 0h0m1 0h0m-9 1h0m9 0h0m1 0h0m3 0h0m3 0h0m-3 1h0m5 0h0m1 0h0m-23 1h0m21 0h0m-20 1h0m9 0h0m3 1h0m-13 1h0m12 0h0m2 0h0m-1 1h0m5 0h0m-18 1h0m7 1h0m-11 2h0m16 0h0m4 1h0m-3 1h0m-13 2h0m1 0h0m7 0h0m8 0h0m0 1h0m-10 1h0m4 0h0m-7 1h0m3 0h0m-5 1h0m9 0h0m4 1h0m-4 1h0m-12 1h0m5 0h0m10 0h0m2 1h0m-21 2h0m16 0h0m-4 1h0m6 0h0m-6 1h0m11 0h0m6 3h0m-13 1h0m3 1h0m9 0h0m-16 1h0m5 0h0m-6 1h0m9 1h0m8 5h0m-25 2h0m5 0h0m-1 1h0m21 0h0m-21 3h0m-3 1h0m8 0h0m-5 2h0m3 0h0m13 4h0m-7 1h0m11 1h0" stroke="#4d86c6" stroke-width="5" stroke-linecap="round" fill="none" opacity="0.34"/>
<path d="M1690 1360h0m7 4h0m-3 5h0m7 1h0m-5 6h0m8 0h0m-5 1h0m4 0h0m-15 1h0m18 3h0m-22 2h0m16 0h0m-16 1h0m10 0h0m6 1h0m4 0h0m1 3h0m1 0h0m-14 1h0m-9 1h0m3 0h0m5 0h0m13 0h0m-10 1h0m9 1h0m-12 1h0m-6 1h0m10 0h0m9 0h0m5 0h0m-25 1h0m5 0h0m9 0h0m-15 1h0m7 0h0m8 0h0m-16 1h0m10 0h0m10 0h0m-17 1h0m1 0h0m19 0h0m-17 2h0m4 0h0m6 0h0m-15 1h0m5 0h0m12 0h0m4 0h0m-22 1h0m12 0h0m5 0h0m7 0h0m2 0h0m2 0h0m-28 1h0m6 0h0m5 0h0m1 0h0m10 0h0m-23 1h0m4 0h0m5 0h0m7 0h0m10 0h0m-20 1h0m11 0h0m-10 1h0m3 0h0m-1 1h0m1 0h0m14 0h0m-11 1h0m5 1h0m-16 2h0m17 0h0m2 0h0m7 1h0m-26 1h0m1 0h0m8 0h0m16 0h0m-11 1h0m-9 1h0m5 0h0m15 0h0m-21 1h0m4 0h0m2 0h0m2 0h0m7 0h0m-20 1h0m8 0h0m4 0h0m3 0h0m9 0h0m-14 1h0m-2 1h0m-7 1h0m13 0h0m4 0h0m-13 1h0m5 0h0m1 0h0m1 0h0m-10 1h0m2 0h0m8 0h0m1 0h0m-11 1h0m11 0h0m4 0h0m-10 1h0m-7 1h0m14 0h0m-10 1h0m3 0h0m8 0h0m8 0h0m-18 1h0m4 0h0m8 0h0m-15 1h0m3 0h0m1 0h0m16 0h0m3 0h0m-19 2h0m3 0h0m10 0h0m-18 1h0m12 1h0m1 0h0m1 0h0m-8 1h0m16 0h0m-12 1h0m2 0h0m3 0h0m2 1h0m8 0h0m-20 1h0m11 0h0m1 0h0m2 0h0m-21 1h0m0 1h0m4 0h0m8 0h0m11 0h0m1 0h0m1 0h0m-20 1h0m5 0h0m8 0h0m3 0h0m-19 1h0m2 0h0m1 0h0m7 0h0m7 0h0m-12 1h0m9 0h0m2 0h0m-17 1h0m2 0h0m13 0h0m5 0h0m-16 1h0m14 0h0m-12 1h0m22 0h0m-3 2h0m-20 1h0m15 0h0m-5 1h0m13 0h0m-14 1h0m5 0h0m6 0h0m1 0h0m-11 1h0m6 0h0m-13 2h0m2 0h0m3 0h0m-9 1h0m4 0h0m11 0h0m6 0h0m-18 2h0m20 1h0m-19 1h0m12 1h0m-20 1h0m6 0h0m0 1h0m3 0h0m9 0h0m3 0h0m6 0h0m-25 1h0m17 0h0m-10 1h0m2 0h0m-12 1h0m16 1h0m-15 1h0m20 0h0m-7 2h0m-3 2h0m17 0h0m-14 1h0m-6 2h0m-8 1h0m14 2h0m-13 1h0m12 0h0m7 0h0m-15 1h0m11 0h0m-10 1h0m10 2h0m-14 3h0m10 3h0m-8 8h0m14 4h0" stroke="#4d86c6" stroke-width="5" stroke-linecap="round" fill="none" opacity="0.34"/>
<path d="M1729 1362h0m-7 6h0m19 1h0m-4 3h0m-13 5h0m22 0h0m-25 1h0m18 2h0m-7 2h0m5 1h0m8 0h0m-10 3h0m-12 3h0m11 0h0m-11 1h0m22 4h0m-10 1h0m-3 4h0m7 1h0m-17 5h0m8 1h0m2 1h0m14 0h0m-20 1h0m5 1h0m9 1h0m-17 1h0m9 1h0m-11 3h0m7 4h0m2 0h0m-5 3h0m15 4h0m-19 1h0m16 0h0m-10 2h0m5 0h0m-3 2h0m18 1h0m-10 1h0m-5 2h0m7 0h0m-8 2h0m15 0h0m-3 1h0m-20 1h0m-1 1h0m1 0h0m5 1h0m2 0h0m12 1h0m-16 1h0m15 0h0m-17 1h0m12 1h0m-13 2h0m0 3h0m10 0h0m4 2h0m10 0h0m-19 2h0m6 0h0m1 0h0m-14 1h0m8 0h0m6 4h0m0 2h0m9 0h0m-19 1h0m8 3h0m-4 7h0m0 1h0m-8 2h0m25 1h0m-25 2h0m24 19h0" stroke="#ea5f8c" stroke-width="5" stroke-linecap="round" fill="none" opacity="0.36"/>
<path d="M1731 1349h0m6 11h0m-16 7h0m22 7h0m-8 3h0m-10 8h0m9 2h0m-11 2h0m20 0h0m-19 2h0m13 3h0m-6 1h0m10 0h0m-2 1h0m-3 1h0m3 1h0m4 0h0m3 0h0m-17 2h0m7 0h0m-3 2h0m5 1h0m-5 9h0m-3 1h0m11 0h0m-12 1h0m-4 6h0m17 0h0m-16 1h0m13 0h0m1 1h0m-19 5h0m9 0h0m17 0h0m-26 1h0m10 0h0m-3 1h0m-1 1h0m2 0h0m0 2h0m3 0h0m5 1h0m9 0h0m-15 1h0m5 0h0m4 0h0m5 0h0m-19 1h0m8 0h0m1 0h0m-8 2h0m2 0h0m15 1h0m-14 1h0m4 0h0m13 0h0m-21 2h0m8 2h0m-4 1h0m10 0h0m-2 1h0m-17 1h0m22 0h0m-10 1h0m0 2h0m7 1h0m-2 1h0m-8 2h0m13 3h0m-17 1h0m12 1h0m5 2h0m-21 1h0m2 10h0m7 1h0m13 3h0m3 5h0" stroke="#ea5f8c" stroke-width="5" stroke-linecap="round" fill="none" opacity="0.36"/>
<path d="M1721 1357h0m4 2h0m13 2h0m8 7h0m-14 2h0m-8 3h0m21 1h0m-10 8h0m-8 5h0m-2 4h0m17 1h0m0 4h0m-14 4h0m-7 1h0m8 2h0m6 1h0m-10 1h0m-2 2h0m5 0h0m6 0h0m9 1h0m-14 2h0m10 1h0m-12 1h0m14 2h0m-7 3h0m0 1h0m13 0h0m-23 1h0m7 0h0m6 0h0m-6 1h0m14 3h0m-11 1h0m1 0h0m2 7h0m-13 1h0m18 1h0m5 1h0m-2 1h0m-17 1h0m7 0h0m-11 2h0m10 0h0m-5 1h0m8 0h0m2 0h0m-1 1h0m-7 1h0m1 0h0m2 0h0m-1 1h0m-2 1h0m6 0h0m5 0h0m-13 4h0m7 0h0m0 2h0m-1 2h0m1 0h0m-4 1h0m14 1h0m-9 3h0m1 0h0m-5 1h0m5 0h0m-17 3h0m25 0h0m-15 5h0m0 1h0m-2 2h0m-1 1h0m-3 8h0m9 7h0" stroke="#ea5f8c" stroke-width="5" stroke-linecap="round" fill="none" opacity="0.36"/>
<path d="M1783 1439.2h0m-18.7 -31.2h0m19 15.2h0m-4.1 4.1h0m0.9 0.6h0m-16.4 13.8h0m9.1 -30.4h0m-4 43.6h0m11.1 -10.7h0m-2.4 -37.6h0m-7.9 14.9h0m14.6 6.4h0" stroke="#c3a0cc" stroke-width="5" stroke-linecap="round" fill="none" opacity="0.36"/>
<path d="M1766.2 1469h0m-4.3 -52.7h0m-1.4 15.8h0m16 -12h0m1.1 -1h0m2.1 -4h0m-15.5 35.3h0m-2.1 -41.7h0m15.4 17.5h0m-9.9 -7.1h0m6.9 6.1h0m-8.9 37.3h0" stroke="#c3a0cc" stroke-width="5" stroke-linecap="round" fill="none" opacity="0.36"/>
<path d="M1767.9 1431h0m5.7 3.2h0m-1.4 10.3h0m11.8 17.5h0m-5.7 -6.2h0m-14 -11.5h0m6.8 -15.2h0m10.7 -2.4h0m-8 17h0m-13.1 9.3h0m22.4 -26.4h0m-17.2 -5.5h0" stroke="#c3a0cc" stroke-width="5" stroke-linecap="round" fill="none" opacity="0.36"/>
<path d="M1811 1352h0m11 2h0m-25 9h0m15 6h0m7 5h0m-13 1h0m15 1h0m-9 1h0m5 1h0m3 6h0m-1 1h0m-13 1h0m1 0h0m-1 1h0m-1 1h0m10 0h0m6 1h0m-18 1h0m3 0h0m-7 1h0m1 0h0m5 0h0m15 0h0m-15 1h0m-7 1h0m5 0h0m7 0h0m5 1h0m6 0h0m4 0h0m-9 1h0m3 0h0m-21 1h0m23 0h0m-21 1h0m2 0h0m9 0h0m2 0h0m-11 1h0m2 0h0m3 0h0m-9 1h0m11 0h0m8 0h0m1 0h0m1 0h0m2 0h0m-1 1h0m-17 1h0m4 0h0m1 0h0m1 0h0m12 0h0m1 0h0m-16 1h0m-7 1h0m21 0h0m2 0h0m-9 1h0m11 0h0m-21 1h0m7 0h0m6 0h0m3 0h0m-22 1h0m14 0h0m1 0h0m12 0h0m-26 2h0m3 1h0m5 0h0m4 0h0m5 0h0m10 1h0m-28 1h0m8 0h0m3 0h0m14 0h0m-24 1h0m26 0h0m1 0h0m-24 1h0m1 0h0m7 0h0m6 0h0m10 1h0m-20 1h0m10 0h0m8 0h0m-23 1h0m4 1h0m3 0h0m3 0h0m1 0h0m12 0h0m-23 1h0m1 0h0m2 0h0m1 0h0m5 0h0m-9 1h0m18 0h0m-14 1h0m2 0h0m12 0h0m7 0h0m-19 1h0m18 0h0m-27 1h0m3 0h0m19 0h0m4 0h0m-10 1h0m4 0h0m-18 1h0m0 1h0m16 0h0m-18 1h0m26 0h0m-19 1h0m11 0h0m8 0h0m1 0h0m-10 1h0m-10 1h0m7 0h0m-12 1h0m5 0h0m3 0h0m7 0h0m5 0h0m-16 1h0m-4 1h0m16 0h0m3 0h0m-12 1h0m3 0h0m15 1h0m1 0h0m-12 1h0m3 0h0m9 0h0m-25 2h0m4 1h0m12 0h0m3 0h0m4 1h0m-8 1h0m3 0h0m5 0h0m-26 1h0m10 0h0m2 0h0m2 0h0m3 0h0m-5 1h0m14 0h0m-26 1h0m8 0h0m13 0h0m7 0h0m-21 2h0m13 1h0m3 0h0m-19 1h0m23 1h0m-25 1h0m12 0h0m3 1h0m5 0h0m-9 1h0m9 0h0m-22 2h0m5 0h0m4 0h0m19 1h0m-13 1h0m-8 1h0m-1 1h0m9 0h0m7 0h0m6 0h0m-16 1h0m3 1h0m-11 2h0m-2 1h0m-2 2h0m2 1h0m2 1h0m5 3h0m13 0h0m-3 1h0m8 0h0m-19 3h0m17 1h0m-14 1h0m-3 1h0m-2 1h0m5 2h0m-1 1h0m7 2h0m4 2h0m-9 1h0m-2 11h0m7 1h0m11 0h0m-21 1h0m4 3h0m5 4h0" stroke="#77787a" stroke-width="5" stroke-linecap="round" fill="none" opacity="0.34"/>
<path d="M1814 1337h0m10 9h0m-11 5h0m-14 6h0m8 3h0m1 1h0m12 0h0m-2 1h0m-18 10h0m0 1h0m4 2h0m16 3h0m-16 1h0m1 0h0m8 0h0m-4 1h0m4 0h0m6 1h0m2 0h0m-7 1h0m3 1h0m7 0h0m-19 1h0m6 1h0m10 0h0m-6 1h0m-8 1h0m4 0h0m-14 2h0m2 0h0m18 0h0m3 1h0m-22 1h0m6 0h0m-4 1h0m19 0h0m3 0h0m-17 1h0m6 0h0m3 0h0m-13 1h0m15 0h0m-11 1h0m4 0h0m1 0h0m6 0h0m2 0h0m-16 2h0m22 0h0m-3 1h0m4 0h0m-28 2h0m2 0h0m26 0h0m-26 1h0m7 0h0m19 0h0m-28 1h0m9 0h0m19 0h0m-14 1h0m1 0h0m0 1h0m3 0h0m8 0h0m2 0h0m-10 1h0m4 0h0m-21 1h0m7 0h0m4 0h0m-7 1h0m13 0h0m4 0h0m6 0h0m-25 2h0m6 0h0m4 0h0m5 0h0m-18 1h0m5 0h0m2 0h0m-4 1h0m11 1h0m4 0h0m4 0h0m1 0h0m-5 1h0m3 0h0m6 0h0m-25 1h0m9 1h0m9 0h0m3 0h0m1 0h0m-16 1h0m12 1h0m2 0h0m6 0h0m-28 1h0m9 0h0m13 0h0m-19 1h0m8 0h0m2 0h0m10 0h0m-4 1h0m2 0h0m2 0h0m-21 1h0m2 0h0m5 0h0m19 0h0m-26 1h0m4 0h0m1 0h0m12 0h0m8 0h0m-21 1h0m5 1h0m2 0h0m11 0h0m-15 1h0m3 0h0m3 0h0m4 0h0m-17 1h0m20 0h0m-14 1h0m1 0h0m1 0h0m15 0h0m-21 1h0m17 0h0m1 0h0m-9 1h0m7 0h0m7 0h0m1 0h0m-1 1h0m-23 1h0m14 0h0m-14 1h0m1 0h0m16 0h0m-16 1h0m7 0h0m15 0h0m-11 1h0m2 0h0m-8 1h0m18 0h0m-25 1h0m14 0h0m1 0h0m10 0h0m-13 2h0m1 0h0m12 0h0m-6 1h0m1 0h0m-20 1h0m13 0h0m-11 1h0m1 0h0m22 0h0m-13 1h0m4 0h0m1 0h0m8 0h0m-24 1h0m22 0h0m1 0h0m-3 1h0m-17 1h0m20 1h0m-17 1h0m1 3h0m-11 1h0m7 0h0m8 0h0m2 0h0m4 0h0m7 1h0m-25 1h0m3 0h0m5 0h0m17 0h0m-21 1h0m8 0h0m7 0h0m-21 1h0m23 0h0m-20 1h0m2 1h0m17 1h0m-22 2h0m24 0h0m-10 1h0m8 0h0m-12 1h0m16 0h0m-26 1h0m3 2h0m-3 2h0m23 0h0m4 1h0m-3 2h0m-20 1h0m13 0h0m3 0h0m-12 5h0m7 0h0m4 8h0m7 9h0" stroke="#77787a" stroke-width="5" stroke-linecap="round" fill="none" opacity="0.34"/>
<path d="M1808 1343h0m9 3h0m-17 6h0m12 0h0m8 5h0m-10 3h0m8 0h0m-1 3h0m-12 2h0m9 4h0m-12 1h0m6 0h0m-9 2h0m18 1h0m-5 1h0m-3 6h0m-7 2h0m22 0h0m-25 2h0m9 0h0m10 0h0m-6 1h0m1 0h0m12 1h0m-23 1h0m7 0h0m4 0h0m7 1h0m4 0h0m-26 1h0m3 0h0m16 0h0m3 0h0m2 0h0m-17 1h0m9 0h0m-16 1h0m2 0h0m3 0h0m8 0h0m-1 2h0m5 0h0m-17 1h0m11 0h0m7 1h0m5 1h0m-8 1h0m10 1h0m-22 1h0m24 0h0m-15 1h0m9 0h0m-6 1h0m2 0h0m-9 1h0m2 0h0m1 0h0m16 0h0m-25 1h0m2 0h0m5 0h0m-6 1h0m-4 1h0m4 0h0m2 0h0m2 0h0m16 0h0m-13 1h0m1 0h0m15 0h0m-23 1h0m17 0h0m5 0h0m-14 1h0m12 0h0m-16 1h0m2 0h0m7 0h0m11 0h0m-17 1h0m8 0h0m8 0h0m1 1h0m-24 1h0m2 0h0m6 0h0m7 0h0m6 0h0m-20 1h0m1 0h0m3 0h0m11 0h0m5 0h0m3 0h0m-27 1h0m14 0h0m1 0h0m3 0h0m-17 1h0m15 0h0m1 0h0m6 0h0m5 0h0m-20 1h0m3 0h0m3 0h0m1 0h0m9 0h0m-5 1h0m-19 1h0m7 0h0m1 0h0m8 0h0m5 0h0m1 0h0m5 0h0m-20 1h0m1 0h0m11 0h0m3 0h0m3 0h0m-21 1h0m19 0h0m1 0h0m-19 1h0m2 0h0m2 0h0m-6 1h0m1 0h0m12 0h0m-16 1h0m5 0h0m5 1h0m6 0h0m-9 1h0m8 0h0m12 0h0m-26 1h0m2 0h0m23 0h0m-19 2h0m15 0h0m-7 1h0m7 0h0m4 0h0m-16 1h0m7 0h0m-18 2h0m18 0h0m6 0h0m1 0h0m-25 1h0m19 0h0m-2 1h0m-12 1h0m3 0h0m2 0h0m-10 1h0m4 0h0m13 0h0m-12 1h0m7 0h0m5 0h0m3 0h0m4 0h0m-21 2h0m23 0h0m-19 1h0m15 1h0m-17 1h0m-1 1h0m8 0h0m11 0h0m-1 1h0m-18 1h0m5 2h0m0 1h0m17 0h0m-5 1h0m1 0h0m-12 1h0m0 1h0m14 0h0m-7 1h0m-5 1h0m-9 2h0m-2 2h0m3 0h0m9 0h0m3 0h0m6 1h0m-6 2h0m1 1h0m2 0h0m5 0h0m-13 1h0m-10 3h0m16 2h0m-9 1h0m-6 1h0m11 0h0m3 2h0m-15 2h0m15 0h0m2 0h0m6 0h0m2 5h0m-20 1h0m18 6h0m-19 18h0" stroke="#77787a" stroke-width="5" stroke-linecap="round" fill="none" opacity="0.34"/>
<path d="M1818 1344h0m-4 9h0m10 6h0m-15 11h0m7 0h0m-15 3h0m11 1h0m1 0h0m-14 2h0m19 0h0m-13 1h0m9 0h0m-13 3h0m14 0h0m9 0h0m-17 6h0m-3 1h0m7 0h0m-14 1h0m2 0h0m20 2h0m-19 1h0m14 0h0m-8 1h0m11 0h0m5 0h0m1 0h0m-25 1h0m20 0h0m-9 1h0m-7 1h0m4 0h0m6 0h0m10 0h0m1 0h0m-23 1h0m4 0h0m-5 1h0m14 0h0m10 0h0m-26 1h0m10 0h0m3 0h0m11 1h0m-18 1h0m-1 1h0m12 0h0m1 0h0m-17 1h0m22 0h0m1 0h0m1 0h0m-7 1h0m7 1h0m2 1h0m-15 1h0m14 1h0m-9 1h0m2 0h0m4 0h0m-22 1h0m3 0h0m16 1h0m8 1h0m-28 1h0m10 0h0m5 0h0m-13 1h0m2 0h0m2 0h0m14 0h0m2 0h0m6 0h0m-23 1h0m6 0h0m-9 1h0m24 0h0m-26 1h0m7 0h0m5 0h0m5 0h0m-11 1h0m1 0h0m4 0h0m16 0h0m-27 1h0m2 0h0m2 0h0m1 0h0m8 0h0m1 0h0m1 0h0m2 0h0m9 0h0m-26 1h0m1 0h0m14 0h0m5 0h0m-18 1h0m2 0h0m2 0h0m6 0h0m1 0h0m-10 1h0m5 0h0m5 0h0m10 0h0m1 0h0m1 0h0m0 1h0m2 0h0m-20 1h0m4 0h0m2 0h0m8 0h0m2 1h0m-17 2h0m10 0h0m10 0h0m1 0h0m-26 1h0m12 0h0m1 1h0m7 0h0m-15 1h0m10 0h0m5 0h0m5 0h0m3 0h0m-26 1h0m-3 1h0m5 0h0m5 0h0m11 0h0m-6 1h0m13 0h0m-22 1h0m3 0h0m3 0h0m5 0h0m8 0h0m-21 1h0m3 0h0m8 0h0m3 0h0m2 0h0m2 1h0m3 0h0m-23 1h0m1 0h0m4 1h0m21 0h0m-13 1h0m7 0h0m6 0h0m-24 1h0m3 0h0m2 0h0m2 2h0m3 0h0m-4 1h0m6 1h0m2 0h0m3 0h0m-6 1h0m-8 1h0m11 0h0m5 0h0m-16 1h0m-4 2h0m21 0h0m0 1h0m-23 1h0m11 0h0m16 0h0m-15 1h0m-11 1h0m3 0h0m6 0h0m-3 1h0m12 2h0m-12 1h0m1 1h0m13 0h0m3 0h0m-16 1h0m-6 1h0m11 0h0m12 0h0m1 0h0m-3 1h0m-17 1h0m3 0h0m10 0h0m-17 1h0m12 1h0m10 0h0m-24 1h0m20 0h0m-14 3h0m19 1h0m-12 2h0m12 5h0m2 0h0m-11 2h0m9 4h0m-26 2h0m5 4h0m9 1h0m2 17h0" stroke="#77787a" stroke-width="5" stroke-linecap="round" fill="none" opacity="0.34"/>
<path d="M1801 1342h0m4 12h0m-7 12h0m8 0h0m19 0h0m-14 6h0m13 1h0m-17 2h0m9 0h0m6 0h0m-20 1h0m-4 1h0m1 1h0m3 1h0m4 3h0m4 0h0m-3 1h0m15 1h0m2 1h0m-25 1h0m6 0h0m-1 2h0m10 0h0m-16 2h0m24 0h0m0 1h0m2 0h0m-8 1h0m8 0h0m-18 1h0m10 0h0m9 0h0m-19 1h0m3 1h0m-8 1h0m6 0h0m4 1h0m5 1h0m6 0h0m-5 1h0m-17 1h0m8 0h0m4 0h0m3 0h0m-12 1h0m5 0h0m-6 1h0m4 0h0m12 0h0m5 0h0m-16 1h0m10 0h0m-19 1h0m5 1h0m1 0h0m2 0h0m12 0h0m-15 1h0m8 0h0m-14 1h0m17 0h0m10 0h0m-9 1h0m5 0h0m1 0h0m2 0h0m-18 1h0m2 0h0m12 0h0m5 0h0m-21 2h0m3 0h0m15 0h0m-1 1h0m2 1h0m-16 1h0m3 0h0m8 0h0m6 0h0m-14 1h0m6 0h0m3 1h0m1 0h0m1 0h0m6 0h0m-27 1h0m3 0h0m3 0h0m4 0h0m1 0h0m2 0h0m9 0h0m2 0h0m-17 1h0m8 0h0m2 0h0m6 0h0m-18 1h0m5 0h0m7 0h0m-15 1h0m3 0h0m18 0h0m2 0h0m-4 1h0m4 0h0m-24 1h0m6 0h0m17 0h0m2 0h0m-17 1h0m1 0h0m9 0h0m-17 1h0m13 0h0m-5 1h0m16 0h0m-1 1h0m-22 1h0m12 0h0m9 0h0m1 0h0m-27 1h0m7 0h0m6 0h0m5 0h0m6 0h0m-23 1h0m14 0h0m8 0h0m-8 1h0m-14 1h0m2 0h0m7 0h0m4 0h0m11 0h0m1 0h0m-25 2h0m7 0h0m4 0h0m2 0h0m3 0h0m3 0h0m-16 1h0m4 0h0m2 0h0m2 0h0m1 0h0m4 0h0m10 0h0m-19 1h0m9 0h0m8 0h0m-15 1h0m14 0h0m-8 1h0m-7 1h0m17 0h0m-22 1h0m11 0h0m10 0h0m1 0h0m-15 1h0m17 0h0m-24 1h0m8 0h0m5 0h0m-4 2h0m-12 1h0m4 0h0m7 1h0m7 0h0m-17 1h0m22 0h0m2 0h0m-22 2h0m6 0h0m15 0h0m-11 2h0m-12 1h0m8 0h0m1 0h0m11 0h0m5 0h0m0 1h0m-27 1h0m2 1h0m10 0h0m10 0h0m2 0h0m-18 2h0m14 1h0m-13 1h0m1 2h0m-1 1h0m17 1h0m-8 1h0m4 0h0m5 0h0m-15 2h0m-4 2h0m2 0h0m-4 1h0m20 0h0m-18 1h0m15 2h0m-3 1h0m-10 2h0m12 0h0m2 5h0m1 1h0m-9 9h0" stroke="#77787a" stroke-width="5" stroke-linecap="round" fill="none" opacity="0.34"/>
<path d="M1657.5 1351.3V1402.9M1657.5 1443.2V1489.7" stroke="#e41a2c" stroke-width="1.9" fill="none"/>
<rect x="1643.1" y="1402.9" width="28.8" height="40.3" fill="none" stroke="#e41a2c" stroke-width="1.9"/>
<path d="M1643.1 1421.7h28.8" stroke="#e41a2c" stroke-width="3.4" fill="none"/>
<path d="M1695.6 1350.2V1403.6M1695.6 1441.7V1495.5" stroke="#2878ba" stroke-width="1.9" fill="none"/>
<rect x="1681.2" y="1403.6" width="28.8" height="38.1" fill="none" stroke="#2878ba" stroke-width="1.9"/>
<path d="M1681.2 1421.7h28.8" stroke="#2878ba" stroke-width="3.4" fill="none"/>
<path d="M1734 1366.4V1407.8M1734 1446.5V1500.8" stroke="#e0187c" stroke-width="1.9" fill="none"/>
<rect x="1719.6" y="1407.8" width="28.8" height="38.8" fill="none" stroke="#e0187c" stroke-width="1.9"/>
<path d="M1719.6 1431.3h28.8" stroke="#e0187c" stroke-width="3.4" fill="none"/>
<path d="M1772.9 1384.1V1418.9M1772.9 1443.2V1468.7" stroke="#b583b8" stroke-width="1.9" fill="none"/>
<rect x="1758.5" y="1418.9" width="28.8" height="24.4" fill="none" stroke="#b583b8" stroke-width="1.9"/>
<path d="M1758.5 1429h28.8" stroke="#b583b8" stroke-width="3.4" fill="none"/>
<path d="M1811 1350.2V1402.9M1811 1440.1V1489.7" stroke="#6d6e70" stroke-width="1.9" fill="none"/>
<rect x="1796.6" y="1402.9" width="28.8" height="37.2" fill="none" stroke="#6d6e70" stroke-width="1.9"/>
<path d="M1796.6 1420h28.8" stroke="#6d6e70" stroke-width="3.4" fill="none"/>
<path d="M1715.1 1315V1514.3" stroke="#231f20" stroke-width="2.1" stroke-dasharray="4.5 3.5" fill="none"/>
<path d="M1634.3 1315V1514.3H1835" stroke="#333" stroke-width="1.6" fill="none"/>
<text x="1612.3" y="1373.4" text-anchor="end">2</text>
<text x="1612.3" y="1423.9" text-anchor="end">0</text>
<text x="1612.3" y="1474.9" text-anchor="end" textLength="23.9" lengthAdjust="spacingAndGlyphs">−2</text>
<path d="M1624.8 1365.2h9.5M1624.8 1415.7h9.5M1624.8 1466.7h9.5M1657.5 1514.3v10.6M1695.6 1514.3v10.6M1734 1514.3v10.6M1772.9 1514.3v10.6M1811 1514.3v10.6" stroke="#333" stroke-width="1.6" fill="none"/>
<text text-anchor="end" transform="translate(1665.3 1539.3) rotate(-90)" textLength="67.6" lengthAdjust="spacingAndGlyphs">Control</text>
<text text-anchor="end" transform="translate(1703.4 1539.3) rotate(-90)" textLength="75.5" lengthAdjust="spacingAndGlyphs">CRISPR</text>
<text text-anchor="end" transform="translate(1741.8 1539.3) rotate(-90)">A</text>
<text text-anchor="end" transform="translate(1780.7 1539.3) rotate(-90)" textLength="36.1" lengthAdjust="spacingAndGlyphs">A/G</text>
<text text-anchor="end" transform="translate(1818.8 1539.3) rotate(-90)">G</text>
<path d="M1726.9 1343.8L1817 1343.8" stroke="#231f20" stroke-width="4.4"/>
<text x="1772.3" y="1348.1" text-anchor="middle" fill="#111" font-size="27">*</text>
<text transform="translate(1578.4 1414.4) rotate(-90)" text-anchor="middle" textLength="141" lengthAdjust="spacingAndGlyphs"><tspan font-style="italic">CD38</tspan> residuals</text>
<path d="M1983 1408h0m2 4h0m-2 1h0m11 3h0m2 4h0m1 2h0m-6 1h0m-2 3h0m10 2h0m-18 1h0m13 0h0m-3 1h0m6 3h0m8 1h0m-22 2h0m-1 1h0m12 1h0m9 1h0m-24 2h0m3 1h0m10 0h0m-4 2h0m-9 1h0m17 0h0m4 0h0m-12 1h0m-9 2h0m15 0h0m9 0h0m-22 4h0m5 0h0m17 2h0m-20 2h0m8 0h0m-3 1h0m7 0h0m-4 1h0m-1 5h0m8 1h0m-13 2h0m14 1h0m-3 3h0m1 0h0m5 10h0m-8 2h0m11 8h0m-7 1h0" stroke="#ee7e62" stroke-width="5" stroke-linecap="round" fill="none" opacity="0.36"/>
<path d="M1987 1395h0m10 13h0m4 1h0m-22 4h0m21 0h0m0 1h0m-8 2h0m9 0h0m-16 2h0m5 0h0m12 3h0m-8 1h0m-5 1h0m3 0h0m6 3h0m4 1h0m-18 2h0m12 1h0m1 1h0m2 0h0m-14 3h0m-1 1h0m2 2h0m18 0h0m-17 1h0m9 1h0m-9 2h0m2 0h0m11 2h0m-3 1h0m2 0h0m-3 3h0m-14 2h0m20 0h0m-20 3h0m11 0h0m-6 1h0m13 0h0m-19 3h0m5 1h0m-1 2h0m15 4h0m-17 4h0m14 6h0m-17 17h0m6 16h0" stroke="#ee7e62" stroke-width="5" stroke-linecap="round" fill="none" opacity="0.36"/>
<path d="M1996 1389h0m-9 12h0m15 6h0m-17 4h0m12 1h0m-16 1h0m8 6h0m-1 3h0m6 0h0m-5 1h0m6 4h0m-6 1h0m4 1h0m-7 1h0m-6 2h0m14 0h0m6 0h0m-4 2h0m-12 1h0m-2 1h0m-3 1h0m0 5h0m10 0h0m1 0h0m7 0h0m-5 4h0m7 1h0m5 1h0m-8 3h0m6 0h0m-19 5h0m5 0h0m-4 3h0m16 1h0m-8 1h0m-5 1h0m-3 3h0m10 0h0m-12 1h0m19 0h0m-1 3h0m-8 1h0m5 0h0m-10 2h0m13 0h0m-21 18h0" stroke="#ee7e62" stroke-width="5" stroke-linecap="round" fill="none" opacity="0.36"/>
<path d="M2036 1377h0m-10 2h0m-6 1h0m18 7h0m2 0h0m-15 3h0m-6 2h0m1 1h0m-4 1h0m14 0h0m3 0h0m9 3h0m-14 2h0m7 1h0m-12 1h0m-1 1h0m1 0h0m14 0h0m0 1h0m2 0h0m-18 1h0m-4 1h0m7 0h0m11 1h0m-8 1h0m16 2h0m-19 1h0m15 0h0m1 0h0m3 0h0m-19 1h0m4 0h0m16 0h0m-21 1h0m3 1h0m7 0h0m5 0h0m1 0h0m-22 1h0m25 0h0m-1 1h0m-20 1h0m1 0h0m8 0h0m-14 1h0m2 0h0m2 0h0m5 0h0m5 0h0m-3 1h0m7 0h0m1 0h0m4 0h0m-19 1h0m7 0h0m8 0h0m-2 1h0m5 0h0m-15 1h0m6 1h0m2 0h0m7 0h0m-10 1h0m8 0h0m6 0h0m1 0h0m-21 1h0m8 0h0m9 0h0m3 0h0m1 0h0m-25 1h0m18 0h0m5 0h0m1 0h0m-23 1h0m1 0h0m2 0h0m6 0h0m1 0h0m2 0h0m5 0h0m-8 1h0m1 0h0m10 0h0m-20 1h0m5 0h0m16 0h0m-20 1h0m2 0h0m14 0h0m2 0h0m-21 1h0m2 0h0m24 0h0m-14 1h0m12 0h0m2 0h0m-25 1h0m9 0h0m6 0h0m-12 1h0m1 0h0m4 1h0m6 0h0m-16 1h0m2 0h0m1 0h0m3 0h0m-2 1h0m12 0h0m10 0h0m-25 1h0m1 0h0m2 0h0m1 0h0m4 0h0m7 0h0m5 1h0m7 0h0m-13 1h0m-9 1h0m2 0h0m10 0h0m2 0h0m3 0h0m-16 1h0m15 0h0m2 0h0m-15 1h0m5 0h0m1 0h0m1 0h0m7 0h0m-17 1h0m9 2h0m7 0h0m-20 2h0m6 0h0m3 0h0m3 0h0m14 0h0m-26 1h0m6 0h0m-3 1h0m15 1h0m-14 1h0m8 0h0m13 0h0m-27 1h0m-1 1h0m5 0h0m-3 1h0m22 0h0m-10 1h0m9 1h0m-22 1h0m18 0h0m3 0h0m3 0h0m3 0h0m-17 1h0m1 2h0m16 1h0m-22 1h0m8 0h0m14 0h0m1 0h0m-21 1h0m2 0h0m6 0h0m4 1h0m4 0h0m2 0h0m-16 1h0m12 0h0m-20 1h0m7 0h0m2 0h0m2 0h0m3 0h0m-10 1h0m11 1h0m7 0h0m-21 1h0m14 0h0m-2 2h0m2 0h0m-14 1h0m4 1h0m1 0h0m-2 3h0m15 0h0m-1 1h0m4 0h0m-17 3h0m3 1h0m16 0h0m-24 1h0m8 2h0m12 0h0m2 0h0m0 3h0m-7 1h0m1 1h0m3 2h0m3 0h0m-17 1h0m19 1h0m1 0h0m0 2h0m-25 2h0m9 3h0m-10 1h0m16 2h0m-4 2h0m-10 3h0" stroke="#4d86c6" stroke-width="5" stroke-linecap="round" fill="none" opacity="0.34"/>
<path d="M2027 1326h0m2 45h0m-13 5h0m15 1h0m-5 3h0m9 0h0m-13 2h0m0 2h0m15 0h0m-10 3h0m3 4h0m5 1h0m-18 2h0m10 0h0m9 2h0m3 3h0m-23 1h0m19 0h0m-20 2h0m4 1h0m8 0h0m-7 1h0m5 0h0m14 0h0m4 1h0m-26 1h0m5 0h0m1 1h0m9 2h0m2 0h0m10 0h0m-12 1h0m1 0h0m6 0h0m1 0h0m-22 1h0m11 0h0m1 0h0m9 1h0m1 0h0m-13 1h0m14 0h0m-14 1h0m-8 1h0m7 0h0m13 0h0m2 0h0m-8 1h0m9 0h0m-18 1h0m17 1h0m-23 1h0m4 0h0m3 0h0m-6 1h0m4 0h0m10 0h0m2 0h0m-13 1h0m12 0h0m2 0h0m7 0h0m-21 1h0m8 0h0m4 0h0m2 0h0m-16 1h0m2 0h0m7 0h0m5 0h0m-12 1h0m1 0h0m2 0h0m1 0h0m5 0h0m7 0h0m3 1h0m-14 1h0m7 0h0m-8 1h0m14 0h0m-17 1h0m6 0h0m5 0h0m1 0h0m-12 1h0m17 0h0m3 0h0m-17 2h0m8 0h0m1 0h0m-13 1h0m3 0h0m1 0h0m15 0h0m-15 1h0m1 0h0m5 0h0m4 0h0m-18 1h0m10 0h0m7 0h0m1 0h0m3 0h0m-18 1h0m3 1h0m18 0h0m-26 1h0m7 0h0m18 0h0m3 0h0m-26 1h0m23 1h0m-12 1h0m6 0h0m5 0h0m-22 1h0m1 0h0m5 0h0m15 0h0m-4 1h0m1 0h0m-20 1h0m6 0h0m2 0h0m3 0h0m10 0h0m-10 1h0m-11 1h0m-1 1h0m8 0h0m-2 1h0m21 0h0m-24 1h0m1 0h0m4 0h0m2 0h0m8 0h0m-16 1h0m11 0h0m4 0h0m6 0h0m4 0h0m-16 1h0m2 0h0m2 0h0m4 0h0m-18 1h0m18 0h0m6 0h0m-14 1h0m6 0h0m8 0h0m1 0h0m-23 1h0m3 0h0m9 0h0m-2 1h0m15 0h0m-24 1h0m6 1h0m6 0h0m6 0h0m-11 1h0m8 0h0m1 0h0m-18 1h0m-1 4h0m19 0h0m7 0h0m-22 1h0m-2 1h0m10 0h0m2 0h0m12 0h0m-24 1h0m16 0h0m7 0h0m2 0h0m-25 1h0m12 0h0m-15 1h0m3 0h0m0 1h0m25 0h0m-27 1h0m19 0h0m3 0h0m5 0h0m-14 1h0m-6 2h0m12 0h0m3 0h0m-16 3h0m20 0h0m2 1h0m-26 1h0m26 0h0m-15 1h0m4 2h0m7 1h0m-15 1h0m9 0h0m-18 1h0m24 0h0m4 0h0m-19 1h0m7 0h0m-11 2h0m-1 2h0m-3 2h0m14 1h0m-9 1h0m3 1h0m2 1h0m7 0h0m8 1h0m-20 1h0m4 1h0m12 1h0" stroke="#4d86c6" stroke-width="5" stroke-linecap="round" fill="none" opacity="0.34"/>
<path d="M2021 1379h0m19 6h0m-6 2h0m-15 2h0m12 2h0m1 1h0m-3 2h0m9 0h0m-22 2h0m14 0h0m1 3h0m4 0h0m1 1h0m6 0h0m1 1h0m-16 1h0m-3 1h0m8 0h0m11 1h0m-4 1h0m1 0h0m-6 2h0m8 2h0m-11 1h0m-13 1h0m7 1h0m14 0h0m0 1h0m-23 1h0m4 0h0m2 0h0m14 0h0m4 0h0m-9 1h0m3 0h0m-13 1h0m13 0h0m5 0h0m-17 1h0m8 0h0m10 0h0m-10 1h0m13 0h0m-26 1h0m10 0h0m8 0h0m6 0h0m-16 1h0m16 0h0m2 0h0m-5 1h0m-14 1h0m13 0h0m6 0h0m-17 1h0m5 0h0m3 0h0m3 0h0m2 1h0m1 0h0m4 0h0m-16 1h0m7 0h0m-2 1h0m5 0h0m-14 1h0m4 0h0m4 0h0m6 0h0m1 0h0m-15 1h0m7 0h0m6 0h0m-21 1h0m6 0h0m7 0h0m1 0h0m9 0h0m3 0h0m-25 1h0m4 0h0m-3 1h0m10 0h0m11 0h0m2 0h0m-23 1h0m2 0h0m2 0h0m2 0h0m14 0h0m4 0h0m1 0h0m-27 1h0m4 0h0m9 0h0m6 0h0m-18 1h0m9 0h0m8 0h0m4 0h0m1 0h0m-12 1h0m3 0h0m1 0h0m8 0h0m2 0h0m-23 1h0m8 0h0m5 0h0m2 0h0m2 0h0m4 0h0m-22 1h0m4 0h0m4 0h0m4 0h0m3 0h0m4 0h0m8 0h0m-2 1h0m-11 1h0m1 0h0m3 0h0m4 0h0m-13 1h0m-3 1h0m7 0h0m-2 1h0m12 0h0m-18 1h0m1 0h0m13 0h0m4 0h0m-18 1h0m4 0h0m18 1h0m-17 1h0m6 0h0m9 0h0m-26 1h0m3 0h0m9 0h0m10 0h0m1 0h0m-17 1h0m12 0h0m-1 1h0m6 0h0m-14 1h0m12 0h0m2 0h0m-20 1h0m1 0h0m8 0h0m11 0h0m-18 1h0m19 0h0m1 0h0m-20 1h0m20 0h0m-1 1h0m-19 1h0m-6 1h0m3 0h0m1 0h0m15 0h0m8 1h0m1 0h0m-19 1h0m0 1h0m13 0h0m1 0h0m1 0h0m-18 1h0m1 0h0m6 0h0m11 0h0m-21 1h0m1 0h0m17 0h0m4 0h0m-5 3h0m9 0h0m-23 1h0m1 0h0m9 0h0m4 0h0m-13 2h0m5 0h0m6 0h0m-3 1h0m-2 1h0m4 0h0m7 0h0m2 1h0m-2 2h0m1 0h0m-4 1h0m-20 1h0m1 2h0m5 2h0m14 0h0m-16 1h0m-2 3h0m12 2h0m-4 2h0m1 0h0m4 1h0m6 2h0m-20 1h0m0 2h0m4 0h0m11 1h0m-16 6h0m25 3h0m-2 1h0" stroke="#4d86c6" stroke-width="5" stroke-linecap="round" fill="none" opacity="0.34"/>
<path d="M2027 1370h0m-5 9h0m0 7h0m2 3h0m17 2h0m-21 1h0m1 0h0m-2 3h0m14 0h0m0 1h0m-11 1h0m5 0h0m4 0h0m-11 1h0m2 0h0m15 1h0m-7 1h0m-11 1h0m18 3h0m-21 1h0m9 0h0m0 1h0m13 0h0m-10 1h0m15 0h0m-14 1h0m1 0h0m2 0h0m-5 1h0m-10 2h0m27 0h0m-16 1h0m4 0h0m1 0h0m2 0h0m1 0h0m-17 1h0m7 0h0m16 0h0m-10 2h0m-14 1h0m2 0h0m3 0h0m7 0h0m1 0h0m-8 1h0m0 1h0m5 0h0m5 0h0m-12 1h0m-3 1h0m23 0h0m-9 1h0m9 0h0m-24 1h0m8 0h0m12 0h0m4 0h0m-23 1h0m3 0h0m4 0h0m11 0h0m5 0h0m1 0h0m-26 1h0m6 0h0m6 0h0m5 0h0m-17 1h0m1 0h0m2 0h0m24 0h0m-27 1h0m1 0h0m2 0h0m5 1h0m11 0h0m3 0h0m1 0h0m-22 2h0m1 0h0m3 0h0m0 1h0m1 0h0m5 0h0m2 0h0m3 0h0m6 0h0m5 0h0m-26 1h0m9 0h0m14 0h0m3 0h0m-25 1h0m2 0h0m3 0h0m3 0h0m2 0h0m3 0h0m-16 1h0m5 0h0m2 0h0m7 0h0m12 0h0m-23 1h0m4 0h0m2 0h0m12 0h0m-18 1h0m2 0h0m14 0h0m3 0h0m2 0h0m-15 1h0m7 0h0m-15 1h0m3 0h0m7 0h0m14 0h0m-13 1h0m10 0h0m-11 1h0m12 0h0m-21 1h0m4 0h0m7 0h0m2 0h0m9 0h0m-11 1h0m3 0h0m-2 1h0m-8 1h0m3 0h0m13 0h0m4 0h0m1 0h0m-21 1h0m5 0h0m1 0h0m1 0h0m12 0h0m1 0h0m3 0h0m-19 1h0m12 0h0m7 0h0m-22 1h0m8 0h0m4 1h0m-16 1h0m7 0h0m-2 2h0m1 0h0m1 0h0m15 0h0m-24 1h0m16 0h0m3 0h0m-17 1h0m-3 1h0m11 0h0m2 0h0m9 1h0m2 0h0m-15 1h0m16 0h0m-11 1h0m12 0h0m-22 1h0m3 0h0m3 4h0m14 0h0m-10 1h0m9 0h0m-13 1h0m4 0h0m-12 1h0m6 1h0m16 0h0m0 1h0m1 0h0m-15 1h0m11 0h0m-17 1h0m-2 2h0m19 0h0m-18 1h0m18 0h0m-14 1h0m2 0h0m4 0h0m14 0h0m-16 2h0m7 0h0m-10 2h0m14 0h0m1 1h0m0 1h0m-14 1h0m0 1h0m7 0h0m12 2h0m-25 1h0m17 2h0m-3 2h0m-6 1h0m5 0h0m1 0h0m-4 3h0m9 0h0m6 1h0m-15 3h0m-13 1h0m12 0h0m-3 4h0" stroke="#4d86c6" stroke-width="5" stroke-linecap="round" fill="none" opacity="0.34"/>
<path d="M2041 1370h0m-7 9h0m-2 1h0m3 5h0m5 1h0m-18 4h0m1 2h0m19 2h0m-21 1h0m-1 1h0m4 0h0m-6 2h0m14 0h0m1 0h0m5 1h0m1 0h0m-21 1h0m16 0h0m-9 1h0m7 0h0m12 0h0m-20 1h0m14 0h0m-18 1h0m2 0h0m11 0h0m9 2h0m-24 1h0m25 0h0m-14 1h0m3 0h0m2 0h0m-16 2h0m25 0h0m-25 1h0m10 0h0m-8 3h0m1 0h0m7 0h0m5 0h0m2 0h0m3 0h0m-23 1h0m14 0h0m3 0h0m-10 1h0m19 0h0m-22 1h0m24 0h0m-18 2h0m17 0h0m-26 1h0m15 0h0m-15 1h0m5 1h0m2 0h0m5 0h0m-13 1h0m8 0h0m2 0h0m-7 1h0m1 0h0m1 0h0m19 0h0m-13 1h0m12 0h0m6 0h0m-12 1h0m10 0h0m-17 1h0m6 0h0m5 0h0m-15 1h0m2 0h0m2 1h0m10 0h0m7 0h0m1 0h0m-27 1h0m9 0h0m6 0h0m2 0h0m8 0h0m1 0h0m1 0h0m-17 1h0m1 0h0m15 0h0m-25 1h0m18 0h0m-19 1h0m4 0h0m1 0h0m8 0h0m2 0h0m4 0h0m3 0h0m1 0h0m1 0h0m-22 1h0m1 0h0m2 0h0m1 0h0m2 0h0m-7 1h0m2 0h0m2 0h0m4 0h0m4 0h0m1 0h0m5 0h0m6 1h0m-19 1h0m8 0h0m1 0h0m6 0h0m1 0h0m2 0h0m-23 1h0m13 0h0m-11 1h0m11 0h0m3 1h0m7 0h0m-21 1h0m1 0h0m5 0h0m8 0h0m4 0h0m-9 1h0m-6 1h0m20 0h0m-21 1h0m6 0h0m5 0h0m8 0h0m-2 1h0m-11 1h0m1 0h0m7 0h0m-18 1h0m11 0h0m15 0h0m-22 1h0m4 0h0m-9 1h0m2 0h0m23 0h0m-15 1h0m9 0h0m-17 1h0m7 0h0m-8 1h0m23 0h0m-18 1h0m-5 1h0m1 0h0m13 0h0m-8 1h0m20 0h0m-24 1h0m12 0h0m12 1h0m-17 1h0m14 0h0m1 0h0m-6 1h0m-17 1h0m9 0h0m5 0h0m7 0h0m-15 1h0m20 0h0m-24 1h0m5 0h0m3 0h0m12 1h0m-24 1h0m6 0h0m4 0h0m5 0h0m-6 1h0m5 1h0m5 0h0m-13 1h0m4 1h0m3 0h0m8 0h0m-10 1h0m15 0h0m-18 1h0m5 0h0m4 0h0m-4 1h0m3 0h0m-12 1h0m12 0h0m4 0h0m7 1h0m-11 2h0m-13 3h0m9 0h0m6 0h0m-19 1h0m28 0h0m-26 1h0m15 1h0m8 0h0m-17 3h0m4 0h0m9 1h0m4 0h0m-19 1h0m-1 3h0m23 0h0m-11 2h0m-1 1h0m-6 1h0m6 0h0" stroke="#4d86c6" stroke-width="5" stroke-linecap="round" fill="none" opacity="0.34"/>
<path d="M2072 1369h0m-2 6h0m-5 3h0m10 9h0m-15 3h0m-2 1h0m6 3h0m-10 3h0m20 0h0m3 0h0m-22 2h0m3 0h0m2 2h0m12 3h0m-14 2h0m6 0h0m12 2h0m-17 2h0m7 1h0m10 2h0m2 2h0m0 1h0m-18 1h0m-4 3h0m22 0h0m-18 1h0m15 0h0m2 0h0m2 0h0m-20 2h0m-2 6h0m6 0h0m-2 1h0m14 0h0m2 1h0m3 2h0m-2 1h0m-16 1h0m6 0h0m3 0h0m7 1h0m-14 1h0m6 1h0m4 0h0m3 0h0m-19 1h0m3 0h0m2 0h0m6 0h0m8 0h0m-1 1h0m3 1h0m-23 1h0m4 1h0m16 1h0m-20 1h0m-2 1h0m15 1h0m3 2h0m6 0h0m-9 1h0m1 0h0m-4 1h0m-5 1h0m5 2h0m2 0h0m8 6h0m5 0h0m-12 2h0m5 2h0m-11 2h0m2 0h0m4 0h0m-5 2h0m-9 8h0m2 1h0m17 0h0m4 10h0m-20 2h0m16 6h0" stroke="#ea5f8c" stroke-width="5" stroke-linecap="round" fill="none" opacity="0.36"/>
<path d="M2074 1368h0m-12 3h0m-7 3h0m2 4h0m-2 13h0m3 0h0m1 1h0m-1 1h0m2 5h0m0 2h0m2 0h0m-4 5h0m22 2h0m-12 2h0m-13 3h0m5 0h0m3 1h0m10 0h0m-7 3h0m3 0h0m8 2h0m-2 1h0m1 0h0m-17 1h0m4 0h0m14 0h0m-12 1h0m-5 2h0m7 0h0m-9 2h0m4 0h0m4 0h0m-11 1h0m4 1h0m1 1h0m8 0h0m-7 1h0m18 0h0m-11 3h0m6 0h0m6 0h0m-13 1h0m2 0h0m2 0h0m2 0h0m-15 1h0m16 0h0m6 0h0m-3 1h0m-3 1h0m-11 1h0m8 3h0m7 0h0m-2 1h0m-21 5h0m3 0h0m-3 1h0m19 0h0m2 1h0m-16 1h0m10 0h0m-9 1h0m4 0h0m-10 4h0m1 2h0m4 2h0m15 0h0m4 2h0m-25 4h0m8 2h0m-3 1h0m2 3h0m2 0h0m16 0h0m-9 7h0" stroke="#ea5f8c" stroke-width="5" stroke-linecap="round" fill="none" opacity="0.36"/>
<path d="M2066 1370h0m9 1h0m-1 15h0m-15 11h0m3 1h0m5 1h0m-12 1h0m16 1h0m2 0h0m-9 2h0m10 1h0m-16 1h0m1 3h0m2 1h0m-5 2h0m8 2h0m-9 1h0m24 1h0m-24 1h0m6 2h0m-1 4h0m6 0h0m-8 2h0m7 0h0m-1 1h0m3 2h0m-10 1h0m17 0h0m5 0h0m-20 1h0m7 0h0m3 0h0m-13 1h0m15 1h0m4 0h0m-15 1h0m3 0h0m9 0h0m-11 1h0m0 2h0m1 1h0m3 1h0m10 1h0m-17 1h0m6 0h0m10 1h0m-3 1h0m-14 1h0m4 3h0m14 1h0m-14 1h0m9 0h0m5 1h0m-5 1h0m3 0h0m-5 1h0m-13 1h0m12 0h0m-10 1h0m6 0h0m1 1h0m7 1h0m7 2h0m-11 1h0m-10 1h0m2 2h0m16 1h0m-20 1h0m3 0h0m3 0h0m11 1h0m-11 3h0m2 6h0m-3 4h0m9 1h0m-2 3h0m-10 1h0m11 6h0m11 7h0m-23 6h0" stroke="#ea5f8c" stroke-width="5" stroke-linecap="round" fill="none" opacity="0.36"/>
<path d="M2096.6 1426h0m13.4 -9.8h0m-16.3 12.7h0m15.6 11.1h0m1.9 -10.4h0m7.3 2.6h0m-18 20.7h0m7 -8.5h0m0.8 -21.2h0m-14.4 -10h0m18.4 2h0m3 80.1h0" stroke="#c3a0cc" stroke-width="5" stroke-linecap="round" fill="none" opacity="0.36"/>
<path d="M2108.5 1462.7h0m10.3 4.9h0m-3.3 -56.3h0m-9.3 -15.3h0m11.2 34.2h0m1.6 -3.4h0m-22.3 -6.9h0m7.1 26.8h0m-9.5 -6h0m21.2 -30.4h0m-5.9 34.3h0m8.2 -18.4h0" stroke="#c3a0cc" stroke-width="5" stroke-linecap="round" fill="none" opacity="0.36"/>
<path d="M2116.4 1424.1h0m-17.1 -12.9h0m13 6.5h0m-0.6 17.9h0m-2 47.7h0m8.4 -21.6h0m-0.7 1.9h0m-19 -26.7h0m8.9 -9.8h0m1.8 63.1h0m4 -80.4h0m-19.2 -5h0" stroke="#c3a0cc" stroke-width="5" stroke-linecap="round" fill="none" opacity="0.36"/>
<path d="M2139 1381h0m4 6h0m-3 1h0m-11 1h0m13 1h0m5 4h0m2 1h0m4 2h0m-24 1h0m2 1h0m13 1h0m-11 1h0m-2 2h0m2 1h0m13 0h0m-17 2h0m13 0h0m3 0h0m4 0h0m-20 1h0m8 0h0m2 0h0m13 2h0m-17 1h0m16 0h0m-15 1h0m12 0h0m-1 1h0m10 1h0m-16 1h0m1 0h0m-5 1h0m11 0h0m8 0h0m-10 1h0m11 1h0m-25 1h0m20 0h0m-2 1h0m1 0h0m5 0h0m-25 1h0m25 0h0m-5 1h0m5 0h0m-25 1h0m8 0h0m4 0h0m2 0h0m4 0h0m4 0h0m-8 1h0m2 0h0m-1 1h0m2 0h0m4 0h0m5 0h0m-7 1h0m3 0h0m-22 1h0m2 0h0m6 0h0m-9 1h0m16 0h0m4 0h0m-21 1h0m1 0h0m8 0h0m5 0h0m-7 1h0m17 0h0m3 0h0m-23 1h0m2 0h0m2 0h0m15 0h0m6 0h0m-28 1h0m11 0h0m9 0h0m6 0h0m1 0h0m-15 1h0m8 0h0m-19 1h0m2 0h0m2 0h0m4 0h0m15 0h0m-25 1h0m3 0h0m17 0h0m5 1h0m-24 1h0m3 0h0m1 0h0m1 0h0m7 0h0m5 0h0m-6 2h0m7 0h0m3 0h0m6 0h0m-28 1h0m2 0h0m4 0h0m7 0h0m14 0h0m-27 1h0m13 0h0m12 0h0m-21 1h0m1 0h0m2 0h0m17 0h0m-24 1h0m3 1h0m16 0h0m3 0h0m-12 1h0m16 0h0m-20 1h0m3 0h0m11 0h0m6 0h0m-25 1h0m19 0h0m-19 1h0m7 0h0m5 0h0m7 0h0m5 0h0m-11 1h0m2 0h0m4 0h0m1 0h0m2 0h0m1 0h0m-20 1h0m5 0h0m2 1h0m1 0h0m14 0h0m-15 1h0m10 1h0m1 0h0m-21 4h0m10 0h0m3 0h0m2 0h0m-10 1h0m3 0h0m1 0h0m2 0h0m16 0h0m-19 1h0m14 0h0m1 0h0m2 0h0m-13 1h0m11 0h0m-23 1h0m8 0h0m9 0h0m-7 1h0m-8 1h0m14 1h0m4 0h0m-19 1h0m20 0h0m2 0h0m-24 1h0m10 0h0m5 1h0m9 0h0m-16 1h0m8 0h0m12 0h0m-26 1h0m6 1h0m10 1h0m-14 1h0m2 0h0m15 2h0m-8 1h0m4 0h0m6 0h0m5 0h0m-19 1h0m1 0h0m-10 1h0m1 0h0m6 2h0m10 0h0m-9 1h0m-2 1h0m20 0h0m-16 2h0m-10 1h0m26 0h0m-16 2h0m11 0h0m6 0h0m-16 3h0m-6 4h0m-4 3h0m16 0h0m7 2h0m-2 1h0m0 5h0" stroke="#77787a" stroke-width="5" stroke-linecap="round" fill="none" opacity="0.34"/>
<path d="M2133 1364h0m16 13h0m-5 12h0m-15 2h0m25 1h0m-18 1h0m2 6h0m18 0h0m-25 5h0m9 0h0m-1 2h0m10 0h0m-7 1h0m4 0h0m4 1h0m-14 1h0m1 0h0m6 1h0m12 0h0m-9 1h0m3 0h0m5 1h0m-21 1h0m24 0h0m-14 1h0m10 2h0m4 0h0m-24 2h0m6 0h0m6 0h0m9 0h0m-9 1h0m-1 2h0m-4 1h0m12 0h0m3 0h0m-25 1h0m13 0h0m-13 1h0m12 0h0m-8 1h0m2 0h0m8 0h0m2 0h0m-10 1h0m8 0h0m-13 1h0m1 0h0m1 0h0m12 0h0m5 0h0m6 0h0m-16 1h0m6 0h0m9 0h0m2 0h0m1 0h0m-17 1h0m6 0h0m5 0h0m-23 1h0m3 0h0m15 0h0m7 0h0m-24 1h0m2 0h0m1 0h0m15 0h0m4 0h0m-16 1h0m3 0h0m9 0h0m8 0h0m-14 1h0m-11 1h0m1 0h0m13 0h0m6 0h0m7 0h0m-14 1h0m-13 1h0m2 0h0m13 0h0m1 0h0m-12 1h0m14 0h0m-9 1h0m-8 1h0m12 0h0m3 0h0m2 0h0m-16 1h0m7 0h0m14 0h0m2 0h0m2 0h0m-28 1h0m2 0h0m6 0h0m7 0h0m-6 1h0m1 0h0m1 0h0m3 0h0m2 0h0m8 0h0m-3 1h0m2 1h0m-18 1h0m15 0h0m-14 1h0m9 0h0m1 0h0m2 0h0m6 0h0m-21 1h0m2 0h0m5 0h0m3 0h0m1 0h0m9 0h0m4 0h0m-27 1h0m18 1h0m-8 1h0m15 0h0m1 0h0m-27 1h0m8 0h0m7 0h0m2 0h0m1 0h0m10 0h0m-24 1h0m4 0h0m6 0h0m11 0h0m1 0h0m-13 1h0m3 0h0m-9 1h0m-5 1h0m10 0h0m3 0h0m11 0h0m-9 1h0m8 0h0m1 0h0m-23 1h0m1 0h0m10 1h0m4 0h0m6 0h0m-13 1h0m5 0h0m1 0h0m-5 1h0m3 0h0m8 0h0m-23 1h0m14 0h0m1 1h0m-2 1h0m8 0h0m-11 1h0m7 0h0m10 0h0m-4 1h0m2 0h0m-19 1h0m2 0h0m5 0h0m9 0h0m3 0h0m2 0h0m-17 1h0m8 0h0m-9 1h0m1 0h0m5 0h0m3 0h0m6 1h0m-22 1h0m16 1h0m8 0h0m2 1h0m-23 1h0m24 0h0m-29 1h0m22 0h0m-20 1h0m9 1h0m2 1h0m14 0h0m-26 1h0m21 0h0m-22 1h0m8 0h0m15 0h0m-22 2h0m3 0h0m2 0h0m8 2h0m4 1h0m4 0h0m-19 1h0m6 0h0m-6 1h0m6 0h0m-9 1h0m7 0h0m8 1h0m-11 2h0m4 2h0m17 4h0m0 11h0" stroke="#77787a" stroke-width="5" stroke-linecap="round" fill="none" opacity="0.34"/>
<path d="M2136 1374h0m-4 1h0m6 0h0m0 6h0m-7 4h0m-1 1h0m26 4h0m-6 1h0m-15 1h0m9 1h0m3 1h0m0 2h0m5 0h0m-6 1h0m3 0h0m7 1h0m-13 1h0m14 1h0m-4 1h0m-17 1h0m13 0h0m-1 1h0m-9 2h0m2 1h0m-8 1h0m19 0h0m3 0h0m-16 1h0m9 1h0m2 0h0m7 0h0m-21 1h0m1 1h0m11 0h0m-15 1h0m1 0h0m15 0h0m-16 1h0m-1 1h0m12 0h0m7 0h0m-18 1h0m19 0h0m5 0h0m-24 1h0m18 0h0m-13 1h0m2 0h0m3 0h0m2 0h0m2 0h0m6 0h0m-8 1h0m-13 1h0m11 2h0m-11 1h0m1 0h0m0 1h0m6 0h0m4 0h0m10 0h0m-6 1h0m4 0h0m5 0h0m-26 1h0m2 0h0m12 0h0m2 0h0m2 0h0m2 0h0m6 0h0m1 0h0m-25 1h0m25 0h0m-18 1h0m-3 1h0m-3 1h0m1 0h0m3 0h0m6 0h0m-6 1h0m20 0h0m-12 1h0m-14 1h0m3 0h0m3 0h0m12 0h0m7 0h0m-6 1h0m4 0h0m2 1h0m1 1h0m-24 1h0m6 0h0m6 0h0m8 1h0m-16 1h0m1 0h0m7 0h0m9 0h0m-21 1h0m23 1h0m-24 1h0m15 0h0m4 0h0m-20 1h0m-1 1h0m3 0h0m11 0h0m5 0h0m4 0h0m1 0h0m-19 1h0m10 0h0m7 0h0m-19 1h0m21 0h0m3 0h0m-24 1h0m17 0h0m2 0h0m2 1h0m-15 1h0m9 0h0m-13 1h0m14 0h0m-17 1h0m3 0h0m18 0h0m-20 1h0m2 0h0m6 0h0m1 0h0m-13 1h0m9 0h0m10 0h0m1 0h0m9 0h0m-12 1h0m3 0h0m2 0h0m1 0h0m-14 1h0m4 0h0m1 0h0m1 0h0m3 0h0m-3 1h0m3 0h0m6 0h0m2 0h0m-22 1h0m6 0h0m5 0h0m12 1h0m-6 1h0m5 0h0m-24 1h0m5 0h0m15 0h0m-20 1h0m7 1h0m5 0h0m15 0h0m-29 1h0m6 1h0m7 0h0m1 0h0m-8 1h0m9 0h0m-2 1h0m11 0h0m2 0h0m-8 1h0m3 0h0m-3 1h0m8 0h0m-26 1h0m20 0h0m-14 1h0m23 0h0m-20 1h0m-2 1h0m18 0h0m-22 1h0m14 0h0m4 0h0m-10 1h0m3 0h0m14 0h0m-10 2h0m6 0h0m-10 1h0m1 2h0m11 0h0m-7 1h0m-12 1h0m7 0h0m2 0h0m12 2h0m-1 2h0m-7 1h0m2 1h0m-19 3h0m7 0h0m-10 2h0m11 6h0m-11 1h0m12 1h0m-10 6h0" stroke="#77787a" stroke-width="5" stroke-linecap="round" fill="none" opacity="0.34"/>
<path d="M2140 1365h0m-7 10h0m16 6h0m-12 1h0m5 2h0m11 6h0m-23 3h0m21 0h0m2 1h0m-12 1h0m-11 1h0m1 1h0m4 0h0m21 2h0m-25 1h0m22 0h0m-13 1h0m12 0h0m1 2h0m2 0h0m-25 1h0m22 0h0m4 0h0m-26 1h0m19 3h0m2 0h0m4 1h0m3 0h0m-28 1h0m1 0h0m9 0h0m15 0h0m-12 1h0m5 0h0m5 0h0m-21 2h0m12 0h0m13 0h0m-22 1h0m3 0h0m6 0h0m-15 1h0m5 0h0m3 0h0m7 0h0m5 0h0m-17 1h0m7 0h0m-9 1h0m10 0h0m11 0h0m-11 1h0m-10 1h0m19 0h0m1 0h0m3 0h0m2 0h0m-19 1h0m4 0h0m2 0h0m11 0h0m2 0h0m-16 3h0m8 1h0m7 1h0m-16 1h0m17 0h0m-20 1h0m7 0h0m5 0h0m1 0h0m4 0h0m-18 1h0m2 0h0m-5 1h0m14 0h0m9 0h0m2 0h0m-17 2h0m-10 1h0m19 0h0m2 0h0m-19 1h0m15 0h0m3 0h0m7 0h0m-25 1h0m1 0h0m4 0h0m8 0h0m5 0h0m7 0h0m-14 1h0m4 0h0m1 0h0m10 0h0m-6 1h0m3 0h0m2 0h0m-25 1h0m11 0h0m7 0h0m-19 1h0m6 0h0m5 0h0m-5 1h0m1 0h0m3 0h0m6 0h0m-8 1h0m3 0h0m3 0h0m8 0h0m-21 1h0m4 0h0m7 0h0m5 0h0m-14 1h0m3 0h0m0 1h0m18 0h0m-20 1h0m2 0h0m4 0h0m4 1h0m7 0h0m-19 1h0m19 0h0m-21 1h0m16 0h0m-14 1h0m6 0h0m-4 1h0m6 0h0m6 0h0m1 0h0m1 0h0m10 0h0m-26 1h0m14 0h0m2 0h0m5 0h0m2 0h0m-4 1h0m-15 1h0m-3 1h0m4 0h0m12 1h0m4 0h0m4 1h0m-23 1h0m16 0h0m1 0h0m-14 1h0m8 0h0m-13 1h0m4 0h0m9 0h0m6 1h0m-5 1h0m-1 1h0m3 0h0m-6 1h0m11 0h0m-7 1h0m7 0h0m1 0h0m-20 1h0m7 0h0m7 0h0m2 0h0m6 0h0m-22 1h0m-5 2h0m9 1h0m20 0h0m-14 1h0m9 0h0m-9 1h0m6 1h0m-20 1h0m10 0h0m0 1h0m5 1h0m1 0h0m7 0h0m-14 2h0m4 1h0m10 1h0m1 1h0m-23 1h0m18 0h0m0 2h0m-14 2h0m17 1h0m3 2h0m-1 1h0m-5 1h0m-11 1h0m16 0h0m-5 2h0m4 1h0m-23 1h0m17 2h0m5 0h0m-13 2h0m-1 1h0m-8 2h0m17 1h0m-11 1h0m-3 3h0" stroke="#77787a" stroke-width="5" stroke-linecap="round" fill="none" opacity="0.34"/>
<path d="M2150 1374h0m2 2h0m3 6h0m-12 4h0m7 0h0m-13 1h0m2 1h0m7 1h0m-1 4h0m5 3h0m6 1h0m-21 1h0m15 0h0m5 0h0m-7 2h0m4 0h0m-2 1h0m4 0h0m-9 1h0m7 0h0m1 1h0m1 1h0m-19 2h0m15 0h0m-18 1h0m25 0h0m-7 1h0m2 0h0m-7 1h0m9 1h0m-25 1h0m5 0h0m4 0h0m15 0h0m-18 1h0m-4 1h0m11 0h0m11 0h0m-15 1h0m2 0h0m1 0h0m11 1h0m2 0h0m-24 1h0m18 0h0m6 0h0m-19 1h0m9 0h0m5 0h0m-14 1h0m21 0h0m-7 1h0m-13 1h0m4 0h0m4 0h0m3 0h0m9 0h0m1 0h0m-14 1h0m3 0h0m-15 1h0m19 0h0m-18 1h0m5 0h0m13 0h0m-10 1h0m1 0h0m8 0h0m2 0h0m-3 1h0m-13 1h0m-2 1h0m13 0h0m0 1h0m7 0h0m-23 1h0m11 0h0m11 0h0m3 0h0m3 0h0m-18 1h0m14 0h0m-24 1h0m8 0h0m5 0h0m6 0h0m9 0h0m-24 1h0m10 0h0m1 0h0m3 0h0m2 0h0m3 0h0m2 0h0m-25 1h0m8 0h0m18 0h0m-23 1h0m12 0h0m12 0h0m-28 1h0m3 0h0m19 0h0m6 0h0m-26 1h0m8 0h0m1 0h0m17 0h0m-23 1h0m2 0h0m-7 2h0m6 0h0m3 0h0m4 0h0m15 0h0m-13 2h0m5 0h0m1 0h0m-15 1h0m17 0h0m-3 1h0m4 0h0m-8 1h0m-8 1h0m4 0h0m15 0h0m-26 1h0m1 0h0m23 0h0m-13 1h0m15 0h0m-14 1h0m8 0h0m2 0h0m-21 1h0m11 0h0m10 0h0m-18 1h0m8 0h0m5 0h0m10 0h0m1 0h0m-7 1h0m4 0h0m3 0h0m-19 1h0m1 0h0m-10 1h0m2 0h0m9 0h0m0 1h0m15 0h0m-21 1h0m18 0h0m-15 1h0m17 1h0m2 0h0m-19 1h0m7 0h0m-11 2h0m18 0h0m-20 1h0m8 0h0m2 0h0m3 0h0m2 0h0m9 0h0m-27 1h0m23 0h0m2 0h0m-22 1h0m9 0h0m4 0h0m-6 1h0m2 0h0m17 0h0m-28 1h0m5 0h0m12 0h0m-12 1h0m15 0h0m1 0h0m-21 1h0m8 1h0m19 0h0m-26 2h0m-2 1h0m15 1h0m-15 1h0m27 0h0m-7 1h0m-20 1h0m6 1h0m4 0h0m18 0h0m-18 2h0m10 0h0m7 4h0m-16 1h0m15 0h0m-9 2h0m-10 2h0m16 4h0m-16 3h0m19 0h0m-8 1h0m0 2h0m-3 1h0m-11 1h0m2 6h0" stroke="#77787a" stroke-width="5" stroke-linecap="round" fill="none" opacity="0.34"/>
<path d="M1991.6 1377.4V1425.7M1991.6 1460.1V1507" stroke="#e41a2c" stroke-width="1.9" fill="none"/>
<rect x="1977.2" y="1425.7" width="28.8" height="34.3" fill="none" stroke="#e41a2c" stroke-width="1.9"/>
<path d="M1977.2 1442.3h28.8" stroke="#e41a2c" stroke-width="3.4" fill="none"/>
<path d="M2029.7 1369.2V1421.3M2029.7 1457.2V1508.8" stroke="#2878ba" stroke-width="1.9" fill="none"/>
<rect x="2015.3" y="1421.3" width="28.8" height="35.9" fill="none" stroke="#2878ba" stroke-width="1.9"/>
<path d="M2015.3 1437.2h28.8" stroke="#2878ba" stroke-width="3.4" fill="none"/>
<path d="M2067.5 1366.4V1412.9M2067.5 1452.1V1508.8" stroke="#e0187c" stroke-width="1.9" fill="none"/>
<rect x="2053.1" y="1412.9" width="28.8" height="39.2" fill="none" stroke="#e0187c" stroke-width="1.9"/>
<path d="M2053.1 1433.5h28.8" stroke="#e0187c" stroke-width="3.4" fill="none"/>
<path d="M2105.6 1386.3V1424.6M2105.6 1452.7V1487.7" stroke="#b583b8" stroke-width="1.9" fill="none"/>
<rect x="2091.2" y="1424.6" width="28.8" height="28.1" fill="none" stroke="#b583b8" stroke-width="1.9"/>
<path d="M2091.2 1435.5h28.8" stroke="#b583b8" stroke-width="3.4" fill="none"/>
<path d="M2143.3 1371.4V1422.4M2143.3 1457.8V1508.1" stroke="#6d6e70" stroke-width="1.9" fill="none"/>
<rect x="2128.9" y="1422.4" width="28.8" height="35.4" fill="none" stroke="#6d6e70" stroke-width="1.9"/>
<path d="M2128.9 1438.8h28.8" stroke="#6d6e70" stroke-width="3.4" fill="none"/>
<path d="M2048.5 1307.2V1517.4" stroke="#231f20" stroke-width="1.3" stroke-dasharray="4.5 3.5" fill="none"/>
<path d="M1969 1307.2V1517.4H2167" stroke="#333" stroke-width="1.6" fill="none"/>
<text x="1946.3" y="1375.7" text-anchor="end" textLength="29.2" lengthAdjust="spacingAndGlyphs">2.5</text>
<text x="1946.3" y="1441.4" text-anchor="end">0</text>
<text x="1946.3" y="1506.3" text-anchor="end" textLength="41.4" lengthAdjust="spacingAndGlyphs">−2.5</text>
<path d="M1959.5 1367.5h9.5M1959.5 1433.2h9.5M1959.5 1498.1h9.5M1991.6 1517.4v10.6M2029.7 1517.4v10.6M2067.5 1517.4v10.6M2105.6 1517.4v10.6M2143.3 1517.4v10.6" stroke="#333" stroke-width="1.6" fill="none"/>
<text text-anchor="end" transform="translate(1999.4 1539.3) rotate(-90)" textLength="67.6" lengthAdjust="spacingAndGlyphs">Control</text>
<text text-anchor="end" transform="translate(2037.5 1539.3) rotate(-90)" textLength="75.5" lengthAdjust="spacingAndGlyphs">CRISPR</text>
<text text-anchor="end" transform="translate(2075.3 1539.3) rotate(-90)">A</text>
<text text-anchor="end" transform="translate(2113.4 1539.3) rotate(-90)" textLength="36.1" lengthAdjust="spacingAndGlyphs">A/G</text>
<text text-anchor="end" transform="translate(2151.1 1539.3) rotate(-90)">G</text>
<path d="M2070.9 1335.3L2151.7 1335.3" stroke="#231f20" stroke-width="2.4"/>
<text x="2111.2" y="1340.3" text-anchor="middle" fill="#111" font-size="27" textLength="29.1" lengthAdjust="spacingAndGlyphs">***</text>
<text transform="translate(1874.8 1412.2) rotate(-90)" text-anchor="middle" textLength="108" lengthAdjust="spacingAndGlyphs"><tspan font-style="italic">CD22</tspan> (ADT)</text>
<text text-anchor="middle" transform="translate(1899.6 1412.2) rotate(-90)" textLength="83.9" lengthAdjust="spacingAndGlyphs">residuals</text>
</svg>
</body></html>
